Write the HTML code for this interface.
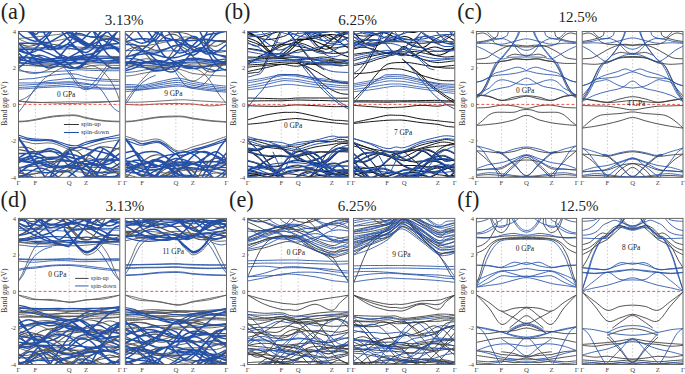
<!DOCTYPE html>
<html><head><meta charset="utf-8"><style>
html,body{margin:0;padding:0;background:#fff;width:685px;height:374px;overflow:hidden}
svg{display:block}
text{font-family:"Liberation Serif",serif;fill:#231f20}
.k{font-size:6.8px;text-anchor:middle;fill:#444}
.t{font-size:6.5px;text-anchor:end;fill:#444}
.yl{font-size:7.5px;text-anchor:middle;fill:#333}
.L{font-size:22.3px;fill:#231f20}
.T{font-size:15px;text-anchor:middle;fill:#231f20}
.g{font-size:7.4px;fill:#222}
.lg{font-size:6.8px;fill:#333}
</style></head><body>
<svg width="685" height="374" viewBox="0 0 685 374">
<clipPath id="c00"><rect x="18.5" y="31.5" width="101.3" height="145.8"/></clipPath>
<g clip-path="url(#c00)">
<line x1="35.4" y1="31.5" x2="35.4" y2="177.3" stroke="#aaa" stroke-width="0.6" stroke-dasharray="1.5 2"/>
<line x1="69.2" y1="31.5" x2="69.2" y2="177.3" stroke="#aaa" stroke-width="0.6" stroke-dasharray="1.5 2"/>
<line x1="86.1" y1="31.5" x2="86.1" y2="177.3" stroke="#aaa" stroke-width="0.6" stroke-dasharray="1.5 2"/>
<path d="M18.5 43.7C20.2 44.1 25.3 46.2 28.6 46.3C32.0 46.4 35.4 44.7 38.8 44.3C42.1 43.8 45.5 43.5 48.9 43.7C52.3 43.9 55.6 44.7 59.0 45.4C62.4 46.2 65.8 47.5 69.2 48.1C72.5 48.8 75.9 50.0 79.3 49.4C82.7 48.8 86.0 46.5 89.4 44.4C92.8 42.3 96.2 37.9 99.5 36.7C102.9 35.4 106.3 35.7 109.7 36.9C113.0 38.0 118.1 42.5 119.8 43.7M18.5 185.8C20.2 186.8 25.3 190.9 28.6 191.9C32.0 192.9 35.4 193.2 38.8 191.7C42.1 190.3 45.5 185.6 48.9 183.4C52.3 181.1 55.6 178.5 59.0 178.3C62.4 178.2 65.8 181.7 69.2 182.5C72.5 183.3 75.9 184.2 79.3 183.1C82.7 182.0 86.0 177.5 89.4 175.8C92.8 174.1 96.2 172.4 99.5 172.8C102.9 173.2 106.3 176.1 109.7 178.3C113.0 180.4 118.1 184.5 119.8 185.8M18.5 176.4C20.2 176.1 25.3 174.2 28.6 175.0C32.0 175.9 35.4 179.8 38.8 181.3C42.1 182.8 45.5 184.7 48.9 183.9C52.3 183.1 55.6 179.2 59.0 176.6C62.4 174.1 65.8 169.9 69.2 168.6C72.5 167.4 75.9 167.7 79.3 169.0C82.7 170.3 86.0 174.0 89.4 176.3C92.8 178.7 96.2 182.1 99.5 183.1C102.9 184.1 106.3 183.6 109.7 182.5C113.0 181.4 118.1 177.4 119.8 176.4M18.5 167.7C20.2 169.4 25.3 175.3 28.6 178.0C32.0 180.7 35.4 182.5 38.8 183.8C42.1 185.0 45.5 185.8 48.9 185.5C52.3 185.3 55.6 183.6 59.0 182.5C62.4 181.3 65.8 179.2 69.2 178.6C72.5 178.0 75.9 179.3 79.3 178.8C82.7 178.3 86.0 177.9 89.4 175.6C92.8 173.3 96.2 167.6 99.5 165.0C102.9 162.4 106.3 159.5 109.7 160.0C113.0 160.4 118.1 166.4 119.8 167.7M18.5 176.1C20.2 177.7 25.3 184.6 28.6 185.7C32.0 186.9 35.4 185.2 38.8 183.0C42.1 180.9 45.5 175.3 48.9 172.6C52.3 169.9 55.6 168.1 59.0 166.9C62.4 165.8 65.8 165.9 69.2 165.7C72.5 165.4 75.9 165.2 79.3 165.4C82.7 165.6 86.0 166.7 89.4 167.0C92.8 167.4 96.2 167.4 99.5 167.5C102.9 167.7 106.3 166.6 109.7 168.1C113.0 169.5 118.1 174.8 119.8 176.1M18.5 172.8C20.2 173.1 25.3 174.4 28.6 174.4C32.0 174.4 35.4 174.0 38.8 172.8C42.1 171.6 45.5 169.1 48.9 167.1C52.3 165.2 55.6 162.2 59.0 161.1C62.4 160.1 65.8 159.6 69.2 160.8C72.5 162.0 75.9 165.8 79.3 168.4C82.7 171.0 86.0 174.9 89.4 176.3C92.8 177.7 96.2 177.1 99.5 176.6C102.9 176.1 106.3 173.7 109.7 173.1C113.0 172.4 118.1 172.9 119.8 172.8M18.5 173.0C20.2 171.8 25.3 167.8 28.6 165.7C32.0 163.7 35.4 160.8 38.8 160.7C42.1 160.6 45.5 163.2 48.9 165.0C52.3 166.9 55.6 170.8 59.0 171.8C62.4 172.8 65.8 172.4 69.2 171.1C72.5 169.7 75.9 165.6 79.3 163.5C82.7 161.5 86.0 158.8 89.4 158.7C92.8 158.6 96.2 160.9 99.5 163.0C102.9 165.2 106.3 169.9 109.7 171.5C113.0 173.2 118.1 172.7 119.8 173.0M18.5 167.3C20.2 167.2 25.3 166.6 28.6 166.4C32.0 166.2 35.4 166.5 38.8 166.1C42.1 165.8 45.5 165.3 48.9 164.2C52.3 163.1 55.6 160.8 59.0 159.5C62.4 158.2 65.8 156.3 69.2 156.5C72.5 156.8 75.9 158.8 79.3 160.9C82.7 162.9 86.0 167.0 89.4 169.0C92.8 170.9 96.2 172.2 99.5 172.4C102.9 172.6 106.3 171.0 109.7 170.2C113.0 169.3 118.1 167.8 119.8 167.3M18.5 147.2C20.2 147.3 25.3 146.7 28.6 147.8C32.0 148.9 35.4 151.6 38.8 153.6C42.1 155.6 45.5 159.1 48.9 159.6C52.3 160.1 55.6 158.3 59.0 156.5C62.4 154.8 65.8 149.7 69.2 149.1C72.5 148.4 75.9 150.4 79.3 152.7C82.7 155.0 86.0 161.2 89.4 162.9C92.8 164.5 96.2 164.2 99.5 162.5C102.9 160.9 106.3 155.7 109.7 153.2C113.0 150.6 118.1 148.2 119.8 147.2M18.5 149.5C20.2 149.8 25.3 151.0 28.6 151.3C32.0 151.6 35.4 151.7 38.8 151.4C42.1 151.2 45.5 149.4 48.9 150.0C52.3 150.6 55.6 152.6 59.0 155.2C62.4 157.8 65.8 163.9 69.2 165.7C72.5 167.6 75.9 167.9 79.3 166.1C82.7 164.3 86.0 158.0 89.4 154.9C92.8 151.7 96.2 148.5 99.5 147.2C102.9 146.0 106.3 147.1 109.7 147.5C113.0 147.9 118.1 149.1 119.8 149.5" fill="none" stroke="#555" stroke-width="1.1"/>
<path d="M18.5 65.4C20.2 65.4 25.3 65.4 28.6 65.5C32.0 65.6 35.4 66.0 38.8 66.1C42.1 66.2 45.5 66.1 48.9 66.2C52.3 66.3 55.6 66.2 59.0 66.5C62.4 66.8 65.8 67.6 69.2 67.8C72.5 68.1 75.9 68.2 79.3 68.0C82.7 67.7 86.0 66.6 89.4 66.1C92.8 65.6 96.2 65.1 99.5 65.0C102.9 64.8 106.3 65.2 109.7 65.3C113.0 65.4 118.1 65.4 119.8 65.4M18.5 63.3C20.2 63.4 25.3 63.8 28.6 63.9C32.0 64.0 35.4 63.9 38.8 63.9C42.1 63.9 45.5 63.9 48.9 64.0C52.3 64.1 55.6 64.4 59.0 64.4C62.4 64.5 65.8 64.5 69.2 64.4C72.5 64.2 75.9 63.8 79.3 63.6C82.7 63.4 86.0 63.2 89.4 63.1C92.8 63.0 96.2 63.0 99.5 62.9C102.9 62.8 106.3 62.7 109.7 62.8C113.0 62.9 118.1 63.2 119.8 63.3M18.5 56.7C20.2 56.8 25.3 57.1 28.6 57.4C32.0 57.8 35.4 58.6 38.8 59.0C42.1 59.3 45.5 59.5 48.9 59.4C52.3 59.2 55.6 58.4 59.0 58.0C62.4 57.7 65.8 57.4 69.2 57.3C72.5 57.1 75.9 57.5 79.3 57.4C82.7 57.3 86.0 56.9 89.4 56.7C92.8 56.4 96.2 56.0 99.5 56.0C102.9 55.9 106.3 56.1 109.7 56.3C113.0 56.4 118.1 56.6 119.8 56.7M18.5 180.2C20.2 180.4 25.3 180.9 28.6 181.4C32.0 181.8 35.4 182.7 38.8 182.8C42.1 182.8 45.5 182.3 48.9 181.7C52.3 181.2 55.6 179.8 59.0 179.4C62.4 179.0 65.8 179.4 69.2 179.4C72.5 179.5 75.9 180.0 79.3 179.7C82.7 179.4 86.0 178.2 89.4 177.7C92.8 177.2 96.2 176.6 99.5 176.8C102.9 176.9 106.3 178.0 109.7 178.6C113.0 179.2 118.1 179.9 119.8 180.2M18.5 177.7C20.2 177.2 25.3 175.5 28.6 174.7C32.0 174.0 35.4 173.6 38.8 173.2C42.1 172.8 45.5 172.8 48.9 172.5C52.3 172.1 55.6 171.3 59.0 171.0C62.4 170.7 65.8 170.6 69.2 170.8C72.5 170.9 75.9 171.6 79.3 172.0C82.7 172.4 86.0 172.6 89.4 173.2C92.8 173.7 96.2 174.5 99.5 175.4C102.9 176.2 106.3 177.7 109.7 178.1C113.0 178.5 118.1 177.7 119.8 177.7" fill="none" stroke="#555" stroke-width="0.9"/>
<path d="M18.5 38.8C19.9 39.4 24.1 41.5 27.0 42.4C29.8 43.3 31.2 44.4 35.4 44.3C39.6 44.1 46.7 42.6 52.3 41.5C57.9 40.5 64.9 38.9 69.2 37.9C73.4 36.8 74.8 35.4 77.6 35.1C80.4 34.8 81.8 35.4 86.1 36.1C90.3 36.7 97.3 38.3 102.9 38.8C108.6 39.2 117.0 38.8 119.8 38.8M18.5 38.4C19.9 38.3 24.1 38.1 27.0 37.9C29.8 37.6 31.2 37.4 35.4 37.0C39.6 36.5 46.7 35.8 52.3 35.1C57.9 34.5 64.9 33.5 69.2 33.3C73.4 33.2 74.8 33.8 77.6 34.2C80.4 34.7 81.8 35.4 86.1 36.1C90.3 36.7 97.3 37.5 102.9 37.9C108.6 38.3 117.0 38.3 119.8 38.4M18.5 62.1C19.9 62.3 24.1 63.0 27.0 63.3C29.8 63.6 31.2 63.6 35.4 63.8C39.6 63.9 46.7 64.2 52.3 63.9C57.9 63.7 64.9 62.6 69.2 62.3C73.4 62.1 74.8 62.4 77.6 62.3C80.4 62.2 81.8 62.1 86.1 62.0C90.3 61.9 97.3 61.9 102.9 61.8C108.6 61.7 117.0 61.3 119.8 61.2M18.5 68.9C19.9 69.5 24.1 71.7 26.9 72.5C29.7 73.3 32.6 73.6 35.4 73.4C38.2 73.3 41.0 72.5 43.8 71.6C46.6 70.7 49.4 68.9 52.2 68.0C55.1 67.0 58.2 66.3 61.0 66.1C63.9 66.0 66.1 66.7 69.2 67.0C72.2 67.3 74.2 67.6 79.3 68.0C84.3 68.3 92.8 68.7 99.5 68.9C106.3 69.0 116.4 68.9 119.8 68.9M69.2 70.7C70.6 72.6 75.2 79.6 77.6 82.3C80.0 85.1 81.6 86.7 83.5 87.5C85.5 88.2 87.4 87.8 89.4 86.7C91.4 85.6 93.5 82.9 95.5 80.7C97.5 78.5 99.5 75.8 101.4 73.4C103.2 71.0 104.4 68.3 106.6 66.1C108.9 64.0 112.5 61.7 114.7 60.7C116.9 59.6 119.0 59.9 119.8 59.7M18.5 101.1C19.9 100.5 24.1 99.0 26.9 97.1C29.7 95.2 32.7 92.8 35.4 89.8C38.2 86.9 40.5 82.2 43.3 79.4C46.1 76.7 49.5 75.2 52.2 73.4C55.0 71.7 56.9 70.1 59.7 68.9C62.5 67.6 67.6 66.6 69.2 66.1M86.1 64.3C88.1 64.9 95.0 66.1 98.5 68.1C102.1 70.1 104.6 73.0 107.3 76.3C110.0 79.6 112.7 83.9 114.7 88.0C116.8 92.1 119.0 98.9 119.8 101.1M18.5 101.1C19.9 101.2 24.1 101.5 27.0 101.7C29.8 101.8 31.2 102.0 35.4 102.2C39.6 102.4 46.7 102.7 52.3 102.9C57.9 103.2 64.9 103.4 69.2 103.5C73.4 103.5 74.8 103.4 77.6 103.3C80.4 103.2 81.8 103.1 86.1 102.9C90.3 102.8 97.3 102.5 102.9 102.2C108.6 101.9 117.0 101.3 119.8 101.1M18.5 101.1C19.9 101.3 24.1 102.0 27.0 102.2C29.8 102.5 31.2 102.6 35.4 102.6C39.6 102.6 46.7 102.3 52.3 102.2C57.9 102.1 64.9 101.9 69.2 101.8C73.4 101.8 74.8 101.8 77.6 101.8C80.4 101.9 81.8 102.1 86.1 102.0C90.3 102.0 97.3 101.8 102.9 101.7C108.6 101.5 117.0 101.2 119.8 101.1M18.5 121.3C19.9 121.3 24.1 121.1 27.0 120.8C29.8 120.5 31.2 120.1 35.4 119.3C39.6 118.6 46.7 117.0 52.3 116.2C57.9 115.5 64.9 115.1 69.2 115.0C73.4 114.8 74.8 114.9 77.6 115.3C80.4 115.8 81.8 116.7 86.1 117.5C90.3 118.4 97.3 119.8 102.9 120.4C108.6 121.1 117.0 121.2 119.8 121.3M18.5 121.9C19.9 121.8 24.1 121.7 27.0 121.3C29.8 121.0 31.2 120.8 35.4 120.1C39.6 119.3 46.7 117.7 52.3 117.0C57.9 116.2 64.9 115.9 69.2 115.7C73.4 115.5 74.8 115.6 77.6 116.1C80.4 116.5 81.8 117.4 86.1 118.3C90.3 119.1 97.3 120.4 102.9 121.0C108.6 121.6 117.0 121.7 119.8 121.9M18.5 140.5C19.9 140.7 24.1 141.6 27.0 142.1C29.8 142.7 31.2 143.5 35.4 143.7C39.6 143.8 46.7 142.3 52.3 143.2C57.9 144.2 64.9 148.2 69.2 149.4C73.4 150.6 74.8 150.9 77.6 150.6C80.4 150.3 81.8 148.9 86.1 147.6C90.3 146.3 97.3 143.9 102.9 142.6C108.6 141.3 117.0 140.3 119.8 139.9M69.2 149.1C70.2 150.7 73.2 155.9 75.2 159.1C77.3 162.3 79.5 165.3 81.3 168.2C83.1 171.1 84.5 176.4 86.1 176.4C87.6 176.4 88.7 171.1 90.4 168.2C92.2 165.3 94.4 162.1 96.5 159.1C98.6 156.0 101.8 151.5 102.9 150.0" fill="none" stroke="#555" stroke-width="0.85"/>
<path d="M18.5 68.0C20.2 66.7 25.3 62.8 28.6 60.6C32.0 58.5 35.4 55.6 38.8 55.2C42.1 54.8 45.5 56.5 48.9 58.0C52.3 59.5 55.6 62.9 59.0 64.0C62.4 65.1 65.8 65.3 69.2 64.3C72.5 63.4 75.9 59.9 79.3 58.2C82.7 56.5 86.0 54.1 89.4 54.2C92.8 54.3 96.2 56.8 99.5 59.0C102.9 61.1 106.3 65.7 109.7 67.1C113.0 68.6 118.1 67.8 119.8 68.0M18.5 53.0C20.2 54.5 25.3 60.5 28.6 61.9C32.0 63.4 35.4 62.2 38.8 61.7C42.1 61.2 45.5 59.0 48.9 59.2C52.3 59.4 55.6 61.5 59.0 62.9C62.4 64.4 65.8 67.4 69.2 68.0C72.5 68.5 75.9 68.1 79.3 66.4C82.7 64.8 86.0 61.0 89.4 57.8C92.8 54.7 96.2 49.6 99.5 47.4C102.9 45.2 106.3 43.6 109.7 44.5C113.0 45.4 118.1 51.6 119.8 53.0M18.5 43.6C20.2 45.1 25.3 49.4 28.6 52.6C32.0 55.9 35.4 60.2 38.8 62.8C42.1 65.3 45.5 67.7 48.9 68.0C52.3 68.2 55.6 66.3 59.0 64.6C62.4 62.8 65.8 59.6 69.2 57.4C72.5 55.3 75.9 53.7 79.3 51.9C82.7 50.0 86.0 48.4 89.4 46.5C92.8 44.7 96.2 42.1 99.5 40.9C102.9 39.7 106.3 38.7 109.7 39.1C113.0 39.5 118.1 42.8 119.8 43.6M18.5 50.7C20.2 51.2 25.3 53.7 28.6 53.5C32.0 53.4 35.4 50.9 38.8 49.8C42.1 48.7 45.5 46.5 48.9 47.1C52.3 47.8 55.6 50.9 59.0 53.9C62.4 56.8 65.8 62.7 69.2 65.0C72.5 67.4 75.9 68.9 79.3 68.0C82.7 67.0 86.0 62.4 89.4 59.1C92.8 55.8 96.2 50.5 99.5 48.3C102.9 46.1 106.3 45.4 109.7 45.8C113.0 46.2 118.1 49.9 119.8 50.7M18.5 49.0C20.2 49.1 25.3 49.5 28.6 49.6C32.0 49.7 35.4 49.1 38.8 49.7C42.1 50.4 45.5 52.2 48.9 53.5C52.3 54.8 55.6 56.9 59.0 57.5C62.4 58.2 65.8 57.7 69.2 57.5C72.5 57.2 75.9 56.6 79.3 56.1C82.7 55.6 86.0 55.5 89.4 54.6C92.8 53.7 96.2 51.9 99.5 50.8C102.9 49.7 106.3 48.4 109.7 48.1C113.0 47.8 118.1 48.9 119.8 49.0M18.5 49.3C20.2 50.0 25.3 52.5 28.6 53.8C32.0 55.0 35.4 55.7 38.8 56.8C42.1 57.8 45.5 60.1 48.9 60.1C52.3 60.1 55.6 59.0 59.0 56.6C62.4 54.1 65.8 48.1 69.2 45.5C72.5 42.9 75.9 41.1 79.3 41.0C82.7 40.9 86.0 44.1 89.4 44.9C92.8 45.7 96.2 45.7 99.5 45.8C102.9 45.8 106.3 44.5 109.7 45.1C113.0 45.6 118.1 48.6 119.8 49.3M18.5 29.8C20.2 29.9 25.3 28.7 28.6 30.4C32.0 32.2 35.4 37.2 38.8 40.4C42.1 43.5 45.5 48.1 48.9 49.3C52.3 50.5 55.6 48.5 59.0 47.6C62.4 46.8 65.8 43.8 69.2 44.4C72.5 45.0 75.9 48.8 79.3 51.1C82.7 53.4 86.0 57.9 89.4 58.2C92.8 58.4 96.2 55.6 99.5 52.4C102.9 49.3 106.3 42.9 109.7 39.1C113.0 35.3 118.1 31.4 119.8 29.8M18.5 43.2C20.2 43.3 25.3 43.2 28.6 43.3C32.0 43.3 35.4 43.2 38.8 43.6C42.1 44.0 45.5 44.7 48.9 45.5C52.3 46.4 55.6 49.1 59.0 48.6C62.4 48.1 65.8 45.8 69.2 42.5C72.5 39.3 75.9 31.7 79.3 29.0C82.7 26.4 86.0 25.4 89.4 26.8C92.8 28.1 96.2 34.3 99.5 37.1C102.9 39.9 106.3 42.5 109.7 43.6C113.0 44.6 118.1 43.3 119.8 43.2M18.5 26.8C20.2 27.6 25.3 29.5 28.6 32.0C32.0 34.4 35.4 38.9 38.8 41.5C42.1 44.1 45.5 46.8 48.9 47.4C52.3 48.0 55.6 46.6 59.0 44.9C62.4 43.2 65.8 39.0 69.2 37.1C72.5 35.2 75.9 33.7 79.3 33.6C82.7 33.5 86.0 36.0 89.4 36.5C92.8 37.0 96.2 37.7 99.5 36.6C102.9 35.6 106.3 32.0 109.7 30.4C113.0 28.8 118.1 27.4 119.8 26.8M18.5 25.2C20.2 26.1 25.3 28.0 28.6 30.6C32.0 33.2 35.4 38.6 38.8 40.5C42.1 42.5 45.5 42.9 48.9 42.3C52.3 41.6 55.6 38.6 59.0 36.8C62.4 35.0 65.8 33.4 69.2 31.6C72.5 29.8 75.9 27.5 79.3 25.9C82.7 24.4 86.0 22.5 89.4 22.3C92.8 22.1 96.2 24.0 99.5 24.7C102.9 25.4 106.3 26.3 109.7 26.4C113.0 26.5 118.1 25.4 119.8 25.2M18.5 27.5C20.2 25.8 25.3 18.5 28.6 16.9C32.0 15.3 35.4 17.0 38.8 18.1C42.1 19.1 45.5 21.7 48.9 23.2C52.3 24.6 55.6 25.5 59.0 27.0C62.4 28.5 65.8 30.3 69.2 32.2C72.5 34.1 75.9 36.5 79.3 38.5C82.7 40.6 86.0 42.9 89.4 44.5C92.8 46.1 96.2 48.4 99.5 48.1C102.9 47.7 106.3 45.9 109.7 42.4C113.0 39.0 118.1 30.0 119.8 27.5M18.5 24.5C20.2 24.9 25.3 25.9 28.6 27.1C32.0 28.3 35.4 31.0 38.8 31.7C42.1 32.4 45.5 32.1 48.9 31.2C52.3 30.3 55.6 27.7 59.0 26.2C62.4 24.6 65.8 22.6 69.2 22.0C72.5 21.3 75.9 21.5 79.3 22.3C82.7 23.0 86.0 25.3 89.4 26.5C92.8 27.7 96.2 29.4 99.5 29.5C102.9 29.6 106.3 28.1 109.7 27.3C113.0 26.5 118.1 24.9 119.8 24.5M18.5 17.4C20.2 17.3 25.3 16.8 28.6 16.9C32.0 17.0 35.4 17.7 38.8 17.9C42.1 18.2 45.5 17.6 48.9 18.5C52.3 19.5 55.6 20.6 59.0 23.4C62.4 26.2 65.8 32.4 69.2 35.3C72.5 38.3 75.9 41.6 79.3 41.1C82.7 40.7 86.0 35.9 89.4 32.8C92.8 29.6 96.2 24.6 99.5 22.3C102.9 19.9 106.3 19.4 109.7 18.6C113.0 17.8 118.1 17.6 119.8 17.4M18.5 16.9C20.2 17.0 25.3 16.8 28.6 17.2C32.0 17.7 35.4 18.2 38.8 19.5C42.1 20.8 45.5 23.5 48.9 25.0C52.3 26.5 55.6 27.3 59.0 28.6C62.4 29.8 65.8 30.2 69.2 32.4C72.5 34.7 75.9 39.8 79.3 42.1C82.7 44.3 86.0 47.1 89.4 45.7C92.8 44.4 96.2 38.1 99.5 33.9C102.9 29.7 106.3 23.4 109.7 20.5C113.0 17.7 118.1 17.5 119.8 16.9M18.5 32.4C19.2 33.0 21.0 35.0 22.6 36.1C24.1 37.1 25.5 37.9 27.6 38.8C29.8 39.6 33.1 41.2 35.4 41.2C37.8 41.2 39.6 40.2 41.8 38.8C44.0 37.3 47.2 34.2 48.9 32.4C50.6 30.6 51.4 28.6 51.9 27.9M28.6 27.9C29.8 28.9 33.7 33.6 35.4 34.2C37.1 34.8 37.9 32.6 38.8 31.5C39.7 30.4 40.4 28.5 40.8 27.9M40.8 27.9C42.1 30.0 46.2 36.5 48.9 40.6C51.6 44.7 53.6 49.6 57.0 52.5C60.4 55.3 65.8 56.3 69.2 57.9C72.5 59.6 74.4 61.4 77.3 62.5C80.1 63.5 84.6 64.0 86.1 64.3M59.0 27.9C60.7 30.0 66.1 37.1 69.2 40.6C72.2 44.1 74.7 46.8 77.6 48.8C80.4 50.8 83.2 52.8 86.1 52.5C88.9 52.2 91.7 49.7 94.5 47.0C97.2 44.3 100.0 39.2 102.6 36.1C105.1 32.9 108.5 29.2 109.7 27.9M69.2 27.9C70.6 29.7 74.7 36.0 77.6 38.8C80.4 41.6 83.2 44.5 86.1 44.8C88.9 45.1 91.7 43.4 94.5 40.6C97.2 37.8 101.2 30.0 102.6 27.9M91.4 27.9C92.8 30.3 96.8 38.0 99.5 42.4C102.2 46.8 105.1 51.4 107.6 54.3C110.2 57.2 112.7 58.4 114.7 59.7C116.8 61.1 119.0 62.0 119.8 62.5M18.5 62.5C19.5 61.6 22.0 59.1 24.6 57.0C27.1 54.9 30.8 52.2 33.7 49.7C36.6 47.3 39.3 44.9 41.8 42.4C44.3 40.0 46.9 37.6 48.9 35.1C50.9 32.7 53.1 29.1 54.0 27.9M104.6 27.9C105.8 29.2 109.2 33.9 111.7 36.1C114.2 38.2 118.4 39.9 119.8 40.6M18.5 137.6C19.3 138.7 21.9 142.1 23.6 144.5C25.3 146.9 26.9 149.2 28.6 151.8C30.3 154.4 32.0 157.3 33.7 160.0C35.4 162.7 37.1 165.6 38.8 168.2C40.4 170.8 42.5 173.7 43.8 175.5C45.2 177.3 46.4 178.5 46.9 179.1M18.5 138.1C19.5 139.6 22.6 144.2 24.6 147.2C26.6 150.3 28.6 153.3 30.7 156.3C32.7 159.4 34.7 162.6 36.7 165.5C38.8 168.3 41.3 171.4 42.8 173.7C44.3 175.9 45.3 178.2 45.9 179.1M69.2 148.1C70.0 149.7 72.5 154.2 74.2 157.3C75.9 160.3 77.3 163.3 79.3 166.4C81.3 169.5 84.0 175.8 86.1 175.8C88.1 175.8 89.5 169.5 91.4 166.4C93.3 163.3 95.6 160.1 97.5 157.3C99.4 154.4 102.0 150.4 102.9 149.1M48.9 179.1C49.7 177.6 52.3 172.7 54.0 170.0C55.6 167.3 57.3 165.0 59.0 162.7C60.7 160.4 62.4 158.2 64.1 156.3C65.8 154.5 68.3 152.5 69.2 151.8M94.5 179.1C95.3 177.6 97.5 173.4 99.5 170.0C101.6 166.7 104.4 162.4 106.6 159.1C108.8 155.7 110.5 153.3 112.7 150.0C114.9 146.6 118.6 140.9 119.8 139.0M18.5 182.6C20.2 184.0 25.3 189.5 28.6 191.0C32.0 192.6 35.4 192.3 38.8 191.9C42.1 191.5 45.5 189.1 48.9 188.6C52.3 188.1 55.6 188.8 59.0 188.8C62.4 188.8 65.8 189.2 69.2 188.7C72.5 188.2 75.9 186.6 79.3 185.7C82.7 184.9 86.0 184.5 89.4 183.7C92.8 182.9 96.2 181.7 99.5 180.7C102.9 179.8 106.3 177.5 109.7 177.8C113.0 178.1 118.1 181.8 119.8 182.6M18.5 178.3C20.2 177.3 25.3 174.5 28.6 172.8C32.0 171.1 35.4 168.4 38.8 168.0C42.1 167.7 45.5 169.1 48.9 170.7C52.3 172.3 55.6 175.6 59.0 177.7C62.4 179.7 65.8 181.2 69.2 182.9C72.5 184.7 75.9 186.7 79.3 188.2C82.7 189.7 86.0 191.8 89.4 191.9C92.8 192.0 96.2 190.3 99.5 188.8C102.9 187.2 106.3 184.3 109.7 182.6C113.0 180.8 118.1 179.0 119.8 178.3M18.5 191.9C20.2 191.8 25.3 192.5 28.6 191.5C32.0 190.6 35.4 188.4 38.8 186.3C42.1 184.3 45.5 181.6 48.9 179.2C52.3 176.8 55.6 173.1 59.0 171.9C62.4 170.7 65.8 170.8 69.2 172.0C72.5 173.2 75.9 177.4 79.3 178.9C82.7 180.5 86.0 181.1 89.4 181.3C92.8 181.5 96.2 179.5 99.5 180.1C102.9 180.8 106.3 183.2 109.7 185.1C113.0 187.1 118.1 190.8 119.8 191.9M18.5 186.4C20.2 186.5 25.3 187.5 28.6 187.2C32.0 186.8 35.4 185.1 38.8 184.5C42.1 183.9 45.5 184.0 48.9 183.6C52.3 183.2 55.6 182.2 59.0 181.9C62.4 181.5 65.8 180.9 69.2 181.3C72.5 181.7 75.9 184.0 79.3 184.3C82.7 184.7 86.0 184.3 89.4 183.3C92.8 182.3 96.2 178.7 99.5 178.1C102.9 177.5 106.3 178.4 109.7 179.8C113.0 181.1 118.1 185.3 119.8 186.4M18.5 189.5C20.2 188.7 25.3 186.1 28.6 184.6C32.0 183.0 35.4 180.7 38.8 180.1C42.1 179.6 45.5 180.8 48.9 181.2C52.3 181.6 55.6 183.3 59.0 182.5C62.4 181.7 65.8 178.7 69.2 176.4C72.5 174.2 75.9 169.8 79.3 169.1C82.7 168.3 86.0 169.5 89.4 171.6C92.8 173.8 96.2 178.9 99.5 181.8C102.9 184.7 106.3 188.0 109.7 189.3C113.0 190.5 118.1 189.5 119.8 189.5M18.5 181.6C20.2 181.2 25.3 180.1 28.6 179.4C32.0 178.8 35.4 178.0 38.8 177.7C42.1 177.3 45.5 177.1 48.9 177.1C52.3 177.2 55.6 177.5 59.0 178.0C62.4 178.5 65.8 179.5 69.2 179.9C72.5 180.2 75.9 180.3 79.3 180.0C82.7 179.8 86.0 178.6 89.4 178.3C92.8 178.1 96.2 178.2 99.5 178.7C102.9 179.1 106.3 180.7 109.7 181.2C113.0 181.6 118.1 181.5 119.8 181.6M18.5 173.4C20.2 172.3 25.3 168.1 28.6 166.4C32.0 164.8 35.4 163.7 38.8 163.5C42.1 163.3 45.5 164.5 48.9 165.2C52.3 165.9 55.6 167.7 59.0 167.8C62.4 167.9 65.8 166.7 69.2 165.8C72.5 164.9 75.9 162.3 79.3 162.5C82.7 162.8 86.0 164.9 89.4 167.3C92.8 169.7 96.2 174.9 99.5 177.0C102.9 179.0 106.3 180.1 109.7 179.5C113.0 179.0 118.1 174.4 119.8 173.4M18.5 159.6C20.2 159.3 25.3 157.3 28.6 157.8C32.0 158.4 35.4 161.2 38.8 162.7C42.1 164.3 45.5 166.7 48.9 167.3C52.3 167.9 55.6 166.2 59.0 166.2C62.4 166.2 65.8 166.7 69.2 167.2C72.5 167.7 75.9 169.5 79.3 169.0C82.7 168.5 86.0 165.8 89.4 164.2C92.8 162.7 96.2 160.3 99.5 159.7C102.9 159.1 106.3 160.7 109.7 160.7C113.0 160.7 118.1 159.8 119.8 159.6M18.5 163.2C20.2 162.0 25.3 157.3 28.6 156.3C32.0 155.3 35.4 156.2 38.8 157.2C42.1 158.3 45.5 161.2 48.9 162.7C52.3 164.2 55.6 166.1 59.0 166.4C62.4 166.6 65.8 165.9 69.2 164.4C72.5 162.9 75.9 159.0 79.3 157.5C82.7 156.0 86.0 154.3 89.4 155.2C92.8 156.0 96.2 160.4 99.5 162.6C102.9 164.8 106.3 168.2 109.7 168.3C113.0 168.4 118.1 164.0 119.8 163.2M18.5 158.1C20.2 157.2 25.3 153.4 28.6 152.8C32.0 152.1 35.4 153.2 38.8 154.2C42.1 155.1 45.5 157.9 48.9 158.4C52.3 158.9 55.6 157.9 59.0 157.1C62.4 156.4 65.8 154.0 69.2 153.9C72.5 153.8 75.9 155.2 79.3 156.6C82.7 158.0 86.0 160.9 89.4 162.3C92.8 163.7 96.2 164.9 99.5 165.1C102.9 165.3 106.3 164.8 109.7 163.7C113.0 162.5 118.1 159.0 119.8 158.1M18.5 153.4C20.2 153.4 25.3 153.5 28.6 153.5C32.0 153.4 35.4 153.7 38.8 152.9C42.1 152.1 45.5 148.8 48.9 148.5C52.3 148.3 55.6 149.5 59.0 151.4C62.4 153.3 65.8 158.0 69.2 159.9C72.5 161.9 75.9 162.5 79.3 163.2C82.7 163.9 86.0 163.6 89.4 164.0C92.8 164.3 96.2 165.8 99.5 165.2C102.9 164.5 106.3 162.1 109.7 160.1C113.0 158.2 118.1 154.5 119.8 153.4M18.5 160.2C20.2 160.4 25.3 161.8 28.6 161.5C32.0 161.1 35.4 158.7 38.8 158.0C42.1 157.3 45.5 157.6 48.9 157.4C52.3 157.1 55.6 157.7 59.0 156.6C62.4 155.4 65.8 152.3 69.2 150.7C72.5 149.1 75.9 147.4 79.3 147.2C82.7 147.0 86.0 148.8 89.4 149.5C92.8 150.2 96.2 150.7 99.5 151.6C102.9 152.4 106.3 153.0 109.7 154.5C113.0 155.9 118.1 159.2 119.8 160.2M18.5 160.6C20.2 160.3 25.3 160.5 28.6 159.3C32.0 158.1 35.4 154.7 38.8 153.4C42.1 152.0 45.5 151.3 48.9 151.2C52.3 151.1 55.6 151.9 59.0 152.9C62.4 153.9 65.8 156.1 69.2 157.1C72.5 158.1 75.9 159.7 79.3 159.0C82.7 158.3 86.0 154.9 89.4 153.0C92.8 151.0 96.2 147.3 99.5 147.2C102.9 147.2 106.3 150.3 109.7 152.5C113.0 154.7 118.1 159.2 119.8 160.6" fill="none" stroke="#2450a8" stroke-width="1.49"/>
<path d="M18.5 62.5C20.2 62.7 25.3 63.0 28.6 63.5C32.0 64.0 35.4 65.3 38.8 65.7C42.1 66.1 45.5 66.2 48.9 65.8C52.3 65.3 55.6 64.0 59.0 63.1C62.4 62.2 65.8 60.9 69.2 60.3C72.5 59.7 75.9 59.4 79.3 59.5C82.7 59.5 86.0 60.2 89.4 60.8C92.8 61.3 96.2 62.3 99.5 62.7C102.9 63.1 106.3 63.2 109.7 63.1C113.0 63.1 118.1 62.6 119.8 62.5M18.5 57.4C20.2 57.4 25.3 56.9 28.6 57.2C32.0 57.4 35.4 58.2 38.8 58.9C42.1 59.6 45.5 60.8 48.9 61.3C52.3 61.9 55.6 62.0 59.0 62.3C62.4 62.5 65.8 62.6 69.2 62.8C72.5 62.9 75.9 63.3 79.3 63.1C82.7 62.9 86.0 62.1 89.4 61.4C92.8 60.8 96.2 59.6 99.5 59.0C102.9 58.5 106.3 58.3 109.7 58.0C113.0 57.8 118.1 57.5 119.8 57.4M18.5 175.9C20.2 176.0 25.3 176.1 28.6 176.6C32.0 177.0 35.4 178.0 38.8 178.5C42.1 179.0 45.5 179.3 48.9 179.5C52.3 179.7 55.6 179.8 59.0 179.8C62.4 179.8 65.8 179.9 69.2 179.6C72.5 179.2 75.9 178.3 79.3 177.7C82.7 177.0 86.0 176.2 89.4 175.9C92.8 175.7 96.2 176.2 99.5 176.3C102.9 176.4 106.3 176.6 109.7 176.5C113.0 176.5 118.1 176.0 119.8 175.9M18.5 170.8C20.2 170.7 25.3 169.9 28.6 170.1C32.0 170.2 35.4 171.1 38.8 171.6C42.1 172.0 45.5 173.0 48.9 172.8C52.3 172.5 55.6 171.1 59.0 170.0C62.4 168.9 65.8 166.8 69.2 166.3C72.5 165.8 75.9 166.4 79.3 167.2C82.7 167.9 86.0 169.9 89.4 170.8C92.8 171.7 96.2 172.4 99.5 172.7C102.9 172.9 106.3 172.5 109.7 172.2C113.0 171.9 118.1 171.0 119.8 170.8M18.5 169.0C20.2 168.3 25.3 166.0 28.6 164.9C32.0 163.9 35.4 163.2 38.8 162.7C42.1 162.2 45.5 162.2 48.9 161.9C52.3 161.6 55.6 161.0 59.0 161.0C62.4 160.9 65.8 161.2 69.2 161.5C72.5 161.9 75.9 162.7 79.3 163.2C82.7 163.7 86.0 163.8 89.4 164.4C92.8 165.1 96.2 166.1 99.5 167.0C102.9 168.0 106.3 169.7 109.7 170.0C113.0 170.4 118.1 169.2 119.8 169.0M18.5 160.9C20.2 161.1 25.3 162.2 28.6 162.3C32.0 162.3 35.4 161.8 38.8 161.3C42.1 160.8 45.5 159.6 48.9 159.3C52.3 158.9 55.6 158.9 59.0 159.2C62.4 159.6 65.8 160.7 69.2 161.1C72.5 161.6 75.9 162.2 79.3 162.1C82.7 162.1 86.0 161.4 89.4 160.9C92.8 160.4 96.2 159.4 99.5 159.1C102.9 158.8 106.3 158.8 109.7 159.1C113.0 159.4 118.1 160.6 119.8 160.9" fill="none" stroke="#2450a8" stroke-width="1.22"/>
<path d="M18.5 49.0C19.9 49.0 24.1 48.8 27.0 48.8C29.8 48.8 31.2 48.7 35.4 48.8C39.6 48.9 46.7 49.4 52.3 49.4C57.9 49.4 64.9 48.8 69.2 48.8C73.4 48.8 74.8 49.1 77.6 49.2C80.4 49.2 81.8 49.1 86.1 49.0C90.3 48.9 97.3 48.8 102.9 48.8C108.6 48.8 117.0 48.8 119.8 48.8M18.5 47.0C19.9 47.1 24.1 47.4 27.0 47.5C29.8 47.7 31.2 48.0 35.4 47.9C39.6 47.8 46.7 47.2 52.3 47.0C57.9 46.7 64.9 46.4 69.2 46.4C73.4 46.4 74.8 46.8 77.6 47.0C80.4 47.2 81.8 47.4 86.1 47.5C90.3 47.6 97.3 47.6 102.9 47.5C108.6 47.4 117.0 47.1 119.8 47.0M18.5 79.8C19.9 79.6 24.1 79.1 27.0 78.9C29.8 78.6 31.2 78.9 35.4 78.3C39.6 77.7 46.7 76.0 52.3 75.2C57.9 74.5 64.9 73.9 69.2 73.8C73.4 73.7 74.8 74.0 77.6 74.5C80.4 75.0 81.8 76.1 86.1 76.9C90.3 77.7 97.3 78.8 102.9 79.2C108.6 79.7 117.0 79.7 119.8 79.8M18.5 70.7C19.9 70.8 24.1 71.3 27.0 71.6C29.8 71.9 31.2 72.5 35.4 72.5C39.6 72.5 46.7 71.9 52.3 71.6C57.9 71.3 64.9 71.0 69.2 70.7C73.4 70.4 74.8 69.9 77.6 69.8C80.4 69.7 81.8 70.0 86.1 70.1C90.3 70.3 97.3 70.6 102.9 70.7C108.6 70.8 117.0 70.7 119.8 70.7M18.5 85.3C19.9 85.2 24.1 85.1 27.0 84.9C29.8 84.7 31.2 84.6 35.4 84.4C39.6 84.1 46.7 83.9 52.3 83.6C57.9 83.4 64.9 82.9 69.2 82.9C73.4 82.9 74.8 83.2 77.6 83.4C80.4 83.7 81.8 84.1 86.1 84.4C90.3 84.6 97.3 84.9 102.9 85.1C108.6 85.2 117.0 85.2 119.8 85.3M18.5 87.5C19.9 87.4 24.1 87.2 27.0 87.1C29.8 86.9 31.2 86.8 35.4 86.5C39.6 86.3 46.7 86.0 52.3 85.6C57.9 85.3 64.9 84.6 69.2 84.5C73.4 84.5 74.8 84.9 77.6 85.3C80.4 85.6 81.8 86.1 86.1 86.5C90.3 87.0 97.3 87.7 102.9 88.0C108.6 88.3 117.0 88.3 119.8 88.4M18.5 89.1C19.9 89.0 24.1 88.9 27.0 88.7C29.8 88.5 31.2 88.3 35.4 88.0C39.6 87.7 46.7 87.3 52.3 87.1C57.9 86.8 64.9 86.5 69.2 86.5C73.4 86.6 74.8 87.0 77.6 87.3C80.4 87.6 81.8 88.1 86.1 88.4C90.3 88.7 97.3 89.0 102.9 89.1C108.6 89.2 117.0 89.1 119.8 89.1M61.0 64.3C62.4 65.8 66.4 69.9 69.2 73.4C71.9 76.9 74.7 82.5 77.6 85.3C80.4 88.0 83.1 89.8 86.1 89.8C89.1 89.8 92.7 87.7 95.5 85.3C98.3 82.8 100.5 78.4 102.9 75.2C105.2 72.1 108.5 67.6 109.7 66.1M18.5 112.2C19.2 111.4 21.2 109.0 22.6 107.1C24.0 105.2 25.2 103.3 26.9 100.8C28.6 98.2 30.9 94.6 32.7 92.0C34.4 89.4 35.8 86.8 37.3 85.3C38.9 83.7 39.9 83.3 41.8 82.5C43.7 81.8 46.0 81.2 48.9 80.7C51.8 80.2 55.6 80.0 59.0 79.6C62.4 79.2 65.8 78.5 69.2 78.3C72.5 78.2 75.9 78.6 79.3 78.9C82.7 79.2 85.2 79.8 89.4 80.2C93.6 80.5 99.5 80.9 104.6 81.1C109.7 81.3 117.3 81.4 119.8 81.4M119.8 112.2C118.7 111.5 115.4 110.1 113.3 107.9C111.2 105.6 109.3 101.9 107.3 98.9C105.3 96.0 103.3 92.2 101.4 90.0C99.4 87.8 97.5 86.8 95.5 85.8C93.5 84.8 92.1 84.5 89.4 84.0C86.7 83.4 82.7 82.9 79.3 82.5C75.9 82.2 72.5 81.9 69.2 81.8C65.8 81.7 62.4 82.0 59.0 82.2C55.6 82.3 53.1 82.4 48.9 82.5C44.7 82.7 38.8 82.8 33.7 82.9C28.6 83.0 21.0 82.9 18.5 82.9" fill="none" stroke="#2450a8" stroke-width="0.85"/>
<path d="M18.5 60.0C19.9 60.2 24.1 60.7 27.0 61.2C29.8 61.7 31.2 62.7 35.4 62.8C39.6 62.8 46.7 62.0 52.3 61.6C57.9 61.2 64.9 60.8 69.2 60.5C73.4 60.3 74.8 60.1 77.6 59.9C80.4 59.8 81.8 59.6 86.1 59.8C90.3 59.9 97.3 60.8 102.9 60.9C108.6 60.9 117.0 60.2 119.8 60.1M18.5 58.9C19.9 59.2 24.1 60.2 27.0 60.5C29.8 60.9 31.2 60.8 35.4 60.8C39.6 60.8 46.7 60.8 52.3 60.5C57.9 60.2 64.9 59.5 69.2 59.1C73.4 58.6 74.8 58.1 77.6 58.0C80.4 58.0 81.8 58.9 86.1 58.9C90.3 59.0 97.3 58.2 102.9 58.2C108.6 58.3 117.0 59.2 119.8 59.3M18.5 58.3C19.9 58.2 24.1 57.7 27.0 57.9C29.8 58.1 31.2 59.3 35.4 59.4C39.6 59.5 46.7 58.9 52.3 58.6C57.9 58.4 64.9 58.1 69.2 58.0C73.4 58.0 74.8 58.4 77.6 58.3C80.4 58.2 81.8 57.7 86.1 57.4C90.3 57.1 97.3 56.7 102.9 56.7C108.6 56.8 117.0 57.7 119.8 57.9M18.5 137.3C19.9 137.7 24.1 138.9 27.0 139.4C29.8 140.0 31.2 140.4 35.4 140.6C39.6 140.9 46.7 139.9 52.3 141.1C57.9 142.2 64.9 146.4 69.2 147.4C73.4 148.4 74.8 147.7 77.6 147.2C80.4 146.6 81.8 145.4 86.1 144.2C90.3 142.9 97.3 140.8 102.9 139.6C108.6 138.5 117.0 137.9 119.8 137.5M18.5 135.1C19.9 135.6 24.1 137.3 27.0 138.0C29.8 138.7 31.2 138.8 35.4 139.1C39.6 139.4 46.7 139.0 52.3 140.0C57.9 141.0 64.9 144.2 69.2 145.1C73.4 146.0 74.8 146.0 77.6 145.5C80.4 145.1 81.8 143.4 86.1 142.2C90.3 141.0 97.3 139.6 102.9 138.4C108.6 137.1 117.0 135.4 119.8 134.8" fill="none" stroke="#2450a8" stroke-width="1.15"/>
<line x1="18.5" y1="104.4" x2="119.8" y2="104.4" stroke="#e04a40" stroke-width="0.9" stroke-dasharray="3 2"/>
</g>
<rect x="18.5" y="31.5" width="101.3" height="145.8" fill="none" stroke="#666" stroke-width="1"/>
<text x="18.5" y="184.9" class="k">Γ</text>
<text x="35.4" y="184.9" class="k">F</text>
<text x="69.2" y="184.9" class="k">Q</text>
<text x="86.1" y="184.9" class="k">Z</text>
<text x="119.8" y="184.9" class="k">Γ</text>
<clipPath id="c01"><rect x="125.3" y="31.5" width="101.2" height="145.8"/></clipPath>
<g clip-path="url(#c01)">
<line x1="142.2" y1="31.5" x2="142.2" y2="177.3" stroke="#aaa" stroke-width="0.6" stroke-dasharray="1.5 2"/>
<line x1="175.9" y1="31.5" x2="175.9" y2="177.3" stroke="#aaa" stroke-width="0.6" stroke-dasharray="1.5 2"/>
<line x1="192.8" y1="31.5" x2="192.8" y2="177.3" stroke="#aaa" stroke-width="0.6" stroke-dasharray="1.5 2"/>
<path d="M125.3 58.8C127.0 56.9 132.0 49.4 135.4 47.4C138.8 45.3 142.2 46.0 145.5 46.5C148.9 47.0 152.3 49.9 155.7 50.3C159.0 50.7 162.4 49.7 165.8 48.8C169.2 48.0 172.5 45.3 175.9 45.3C179.3 45.4 182.6 46.6 186.0 49.1C189.4 51.6 192.8 56.8 196.1 60.4C199.5 64.0 202.9 69.0 206.3 70.7C209.6 72.4 213.0 72.4 216.4 70.5C219.8 68.5 224.8 60.7 226.5 58.8M125.3 51.2C127.0 50.5 132.0 46.8 135.4 47.3C138.8 47.7 142.2 51.0 145.5 53.8C148.9 56.6 152.3 63.0 155.7 64.1C159.0 65.3 162.4 63.5 165.8 60.7C169.2 58.0 172.5 51.2 175.9 47.7C179.3 44.1 182.6 40.8 186.0 39.4C189.4 37.9 192.8 38.1 196.1 39.0C199.5 39.9 202.9 42.6 206.3 44.7C209.6 46.8 213.0 50.7 216.4 51.8C219.8 52.9 224.8 51.3 226.5 51.2M125.3 41.1C127.0 42.4 132.0 47.0 135.4 48.7C138.8 50.5 142.2 52.2 145.5 51.5C148.9 50.8 152.3 47.2 155.7 44.6C159.0 42.0 162.4 37.4 165.8 35.8C169.2 34.1 172.5 33.6 175.9 34.8C179.3 36.0 182.6 40.4 186.0 43.1C189.4 45.8 192.8 50.0 196.1 50.9C199.5 51.8 202.9 50.1 206.3 48.4C209.6 46.7 213.0 42.1 216.4 40.9C219.8 39.7 224.8 41.1 226.5 41.1M125.3 40.6C127.0 38.8 132.0 32.8 135.4 30.0C138.8 27.2 142.2 24.3 145.5 23.7C148.9 23.1 152.3 25.1 155.7 26.3C159.0 27.6 162.4 30.1 165.8 31.1C169.2 32.1 172.5 31.9 175.9 32.3C179.3 32.6 182.6 32.4 186.0 33.5C189.4 34.5 192.8 36.6 196.1 38.4C199.5 40.2 202.9 42.9 206.3 44.2C209.6 45.5 213.0 46.7 216.4 46.1C219.8 45.5 224.8 41.5 226.5 40.6M125.3 30.3C127.0 29.7 132.0 27.9 135.4 26.5C138.8 25.1 142.2 22.8 145.5 22.0C148.9 21.2 152.3 21.9 155.7 21.6C159.0 21.3 162.4 20.9 165.8 20.2C169.2 19.4 172.5 17.0 175.9 16.9C179.3 16.8 182.6 18.1 186.0 19.7C189.4 21.3 192.8 24.8 196.1 26.4C199.5 27.9 202.9 28.5 206.3 29.1C209.6 29.7 213.0 29.6 216.4 29.9C219.8 30.1 224.8 30.3 226.5 30.3M125.3 185.0C127.0 184.2 132.0 181.5 135.4 180.3C138.8 179.1 142.2 178.4 145.5 177.8C148.9 177.2 152.3 176.8 155.7 176.5C159.0 176.1 162.4 176.8 165.8 175.9C169.2 175.0 172.5 172.5 175.9 171.0C179.3 169.4 182.6 165.8 186.0 166.4C189.4 167.1 192.8 171.1 196.1 174.9C199.5 178.7 202.9 186.5 206.3 189.3C209.6 192.2 213.0 192.6 216.4 191.9C219.8 191.2 224.8 186.2 226.5 185.0M125.3 178.4C127.0 178.4 132.0 178.4 135.4 178.8C138.8 179.1 142.2 180.4 145.5 180.3C148.9 180.1 152.3 179.1 155.7 177.9C159.0 176.7 162.4 174.8 165.8 173.2C169.2 171.7 172.5 169.3 175.9 168.7C179.3 168.1 182.6 167.9 186.0 169.6C189.4 171.3 192.8 176.2 196.1 179.1C199.5 182.0 202.9 186.2 206.3 187.0C209.6 187.8 213.0 185.5 216.4 184.0C219.8 182.6 224.8 179.3 226.5 178.4M125.3 164.2C127.0 165.6 132.0 170.8 135.4 172.6C138.8 174.4 142.2 174.3 145.5 174.9C148.9 175.5 152.3 174.7 155.7 176.1C159.0 177.4 162.4 180.6 165.8 183.2C169.2 185.9 172.5 190.5 175.9 191.9C179.3 193.3 182.6 193.7 186.0 191.7C189.4 189.6 192.8 184.2 196.1 179.7C199.5 175.1 202.9 168.0 206.3 164.4C209.6 160.8 213.0 158.1 216.4 158.1C219.8 158.1 224.8 163.2 226.5 164.2M125.3 178.3C127.0 176.6 132.0 171.6 135.4 168.4C138.8 165.3 142.2 161.6 145.5 159.4C148.9 157.1 152.3 155.2 155.7 154.9C159.0 154.5 162.4 155.0 165.8 157.2C169.2 159.5 172.5 165.0 175.9 168.3C179.3 171.7 182.6 176.0 186.0 177.3C189.4 178.5 192.8 176.3 196.1 175.9C199.5 175.5 202.9 174.2 206.3 174.8C209.6 175.4 213.0 178.8 216.4 179.4C219.8 180.0 224.8 178.4 226.5 178.3M125.3 164.9C127.0 166.2 132.0 170.5 135.4 172.7C138.8 174.8 142.2 177.2 145.5 177.6C148.9 178.1 152.3 176.6 155.7 175.2C159.0 173.7 162.4 170.7 165.8 168.8C169.2 166.8 172.5 164.8 175.9 163.6C179.3 162.4 182.6 161.9 186.0 161.6C189.4 161.4 192.8 162.1 196.1 162.2C199.5 162.2 202.9 162.3 206.3 162.2C209.6 162.1 213.0 161.1 216.4 161.6C219.8 162.0 224.8 164.3 226.5 164.9" fill="none" stroke="#555" stroke-width="1.1"/>
<path d="M125.3 63.0C127.0 63.3 132.0 63.9 135.4 64.7C138.8 65.4 142.2 66.8 145.5 67.6C148.9 68.4 152.3 69.1 155.7 69.3C159.0 69.4 162.4 69.0 165.8 68.5C169.2 68.0 172.5 66.8 175.9 66.3C179.3 65.8 182.6 65.5 186.0 65.5C189.4 65.5 192.8 66.3 196.1 66.5C199.5 66.6 202.9 66.8 206.3 66.4C209.6 66.1 213.0 64.9 216.4 64.3C219.8 63.7 224.8 63.2 226.5 63.0M125.3 64.1C127.0 63.6 132.0 61.9 135.4 61.0C138.8 60.1 142.2 59.0 145.5 58.8C148.9 58.6 152.3 59.2 155.7 59.7C159.0 60.3 162.4 61.5 165.8 62.0C169.2 62.5 172.5 62.8 175.9 62.8C179.3 62.8 182.6 62.2 186.0 62.1C189.4 61.9 192.8 61.8 196.1 62.1C199.5 62.4 202.9 63.3 206.3 63.8C209.6 64.3 213.0 65.1 216.4 65.2C219.8 65.2 224.8 64.3 226.5 64.1M125.3 175.2C127.0 176.1 132.0 179.6 135.4 180.8C138.8 182.1 142.2 182.8 145.5 182.8C148.9 182.7 152.3 181.2 155.7 180.7C159.0 180.1 162.4 179.8 165.8 179.6C169.2 179.3 172.5 179.5 175.9 179.1C179.3 178.8 182.6 178.0 186.0 177.5C189.4 177.1 192.8 176.8 196.1 176.3C199.5 175.9 202.9 175.4 206.3 174.9C209.6 174.3 213.0 172.9 216.4 173.0C219.8 173.0 224.8 174.8 226.5 175.2M125.3 174.1C127.0 174.6 132.0 176.0 135.4 176.9C138.8 177.8 142.2 179.0 145.5 179.4C148.9 179.7 152.3 179.6 155.7 178.9C159.0 178.2 162.4 176.3 165.8 175.0C169.2 173.6 172.5 171.6 175.9 170.6C179.3 169.5 182.6 169.0 186.0 168.8C189.4 168.6 192.8 169.1 196.1 169.4C199.5 169.7 202.9 170.3 206.3 170.8C209.6 171.2 213.0 171.6 216.4 172.2C219.8 172.7 224.8 173.8 226.5 174.1M125.3 164.8C127.0 164.9 132.0 165.1 135.4 165.7C138.8 166.3 142.2 167.3 145.5 168.4C148.9 169.4 152.3 171.0 155.7 171.8C159.0 172.6 162.4 173.0 165.8 173.0C169.2 172.9 172.5 172.0 175.9 171.5C179.3 171.0 182.6 170.5 186.0 170.1C189.4 169.8 192.8 169.8 196.1 169.4C199.5 168.9 202.9 168.2 206.3 167.6C209.6 166.9 213.0 165.9 216.4 165.5C219.8 165.0 224.8 164.9 226.5 164.8M125.3 170.3C127.0 170.2 132.0 170.5 135.4 169.6C138.8 168.6 142.2 165.9 145.5 164.4C148.9 163.0 152.3 161.3 155.7 160.9C159.0 160.5 162.4 161.2 165.8 161.9C169.2 162.7 172.5 164.1 175.9 165.4C179.3 166.6 182.6 168.4 186.0 169.4C189.4 170.4 192.8 171.3 196.1 171.3C199.5 171.3 202.9 170.0 206.3 169.6C209.6 169.1 213.0 168.4 216.4 168.5C219.8 168.7 224.8 170.0 226.5 170.3" fill="none" stroke="#555" stroke-width="0.9"/>
<path d="M125.3 40.6C126.7 41.2 130.9 43.3 133.8 44.3C136.6 45.2 138.0 46.2 142.2 46.1C146.4 45.9 153.4 44.4 159.1 43.3C164.7 42.3 171.7 40.8 175.9 39.7C180.1 38.6 181.5 37.3 184.4 37.0C187.2 36.7 188.6 37.3 192.8 37.9C197.0 38.5 204.0 40.2 209.7 40.6C215.3 41.1 223.7 40.6 226.5 40.6M125.3 65.3C126.7 65.6 130.9 66.7 133.8 67.1C136.6 67.5 138.0 67.5 142.2 67.6C146.4 67.7 153.4 67.9 159.1 67.7C164.7 67.5 171.7 66.8 175.9 66.4C180.1 66.0 181.5 65.2 184.4 65.2C187.2 65.2 188.6 66.3 192.8 66.5C197.0 66.7 204.0 66.8 209.7 66.6C215.3 66.4 223.7 65.4 226.5 65.1M125.3 65.1C126.7 65.1 130.9 65.1 133.8 65.2C136.6 65.3 138.0 65.4 142.2 65.6C146.4 65.8 153.4 66.7 159.1 66.5C164.7 66.3 171.7 64.8 175.9 64.3C180.1 63.8 181.5 63.3 184.4 63.4C187.2 63.6 188.6 64.8 192.8 65.0C197.0 65.3 204.0 65.2 209.7 65.0C215.3 64.9 223.7 64.2 226.5 64.1M125.3 76.2C126.7 76.0 130.9 75.7 133.8 75.2C136.6 74.8 138.0 74.2 142.2 73.4C146.4 72.7 153.4 71.4 159.1 70.7C164.7 69.9 171.7 68.9 175.9 68.9C180.1 68.9 181.5 69.9 184.4 70.7C187.2 71.4 188.6 72.7 192.8 73.4C197.0 74.2 204.0 74.8 209.7 75.2C215.3 75.7 223.7 76.0 226.5 76.2M175.9 69.8C177.3 71.0 181.9 75.2 184.3 77.1C186.7 78.9 188.3 80.2 190.3 80.7C192.2 81.3 194.1 81.1 196.1 80.3C198.1 79.6 200.2 77.8 202.2 76.2C204.2 74.5 206.2 72.7 208.1 70.7C209.9 68.7 212.5 65.4 213.3 64.3M125.3 102.2C125.8 101.4 127.2 98.8 128.3 97.1C129.5 95.4 129.8 94.9 132.1 92.0C134.4 89.1 138.8 83.5 142.2 79.8C145.6 76.1 149.3 72.1 152.4 69.8C155.5 67.5 157.7 67.0 160.7 66.1C163.8 65.2 169.2 64.6 170.8 64.3M226.5 103.5C225.8 102.7 224.0 100.8 222.5 98.9C220.9 97.0 219.6 95.2 217.4 92.0C215.2 88.8 212.0 83.2 209.3 79.8C206.6 76.4 203.9 73.6 201.2 71.6C198.5 69.6 194.2 68.6 192.8 68.0M125.3 102.2C126.7 102.2 130.9 102.2 133.8 102.2C136.6 102.2 138.0 102.2 142.2 102.0C146.4 101.8 153.4 101.5 159.1 101.1C164.7 100.8 171.7 100.2 175.9 100.0C180.1 99.8 181.5 99.8 184.4 99.8C187.2 99.9 188.6 100.1 192.8 100.4C197.0 100.7 204.0 101.2 209.7 101.5C215.3 101.8 223.7 102.1 226.5 102.2M125.3 104.4C126.7 104.5 130.9 104.7 133.8 104.8C136.6 104.9 138.0 105.1 142.2 104.9C146.4 104.8 153.4 104.1 159.1 103.9C164.7 103.6 171.7 103.5 175.9 103.5C180.1 103.5 181.5 103.6 184.4 103.7C187.2 103.8 188.6 103.7 192.8 104.0C197.0 104.4 204.0 105.8 209.7 105.9C215.3 105.9 223.7 104.6 226.5 104.4M125.3 121.3C126.7 121.3 130.9 121.1 133.8 120.8C136.6 120.5 138.0 120.0 142.2 119.3C146.4 118.7 153.4 117.3 159.1 116.8C164.7 116.2 171.7 116.1 175.9 116.1C180.1 116.0 181.5 116.1 184.4 116.4C187.2 116.8 188.6 117.4 192.8 118.1C197.0 118.7 204.0 119.8 209.7 120.4C215.3 121.0 223.7 121.5 226.5 121.7M125.3 121.9C126.7 121.8 130.9 121.7 133.8 121.3C136.6 121.0 138.0 120.7 142.2 120.1C146.4 119.4 153.4 118.1 159.1 117.5C164.7 117.0 171.7 116.9 175.9 116.8C180.1 116.7 181.5 116.8 184.4 117.2C187.2 117.5 188.6 118.2 192.8 118.8C197.0 119.4 204.0 120.4 209.7 121.0C215.3 121.6 223.7 122.0 226.5 122.3M125.3 136.2C126.7 136.6 130.9 137.9 133.8 138.8C136.6 139.6 138.0 141.2 142.2 141.3C146.4 141.4 153.4 137.9 159.1 139.4C164.7 140.9 171.7 148.6 175.9 150.3C180.1 152.1 181.5 150.6 184.4 150.0C187.2 149.5 188.6 148.1 192.8 146.8C197.0 145.5 204.0 143.8 209.7 142.0C215.3 140.3 223.7 137.3 226.5 136.4" fill="none" stroke="#555" stroke-width="0.85"/>
<path d="M125.3 62.0C127.0 62.3 132.0 63.1 135.4 64.0C138.8 64.9 142.2 66.6 145.5 67.7C148.9 68.8 152.3 70.4 155.7 70.7C159.0 71.0 162.4 70.6 165.8 69.5C169.2 68.5 172.5 66.0 175.9 64.3C179.3 62.6 182.6 60.4 186.0 59.4C189.4 58.4 192.8 58.2 196.1 58.3C199.5 58.3 202.9 59.2 206.3 59.7C209.6 60.2 213.0 60.7 216.4 61.1C219.8 61.5 224.8 61.9 226.5 62.0M125.3 57.6C127.0 57.0 132.0 55.1 135.4 54.1C138.8 53.1 142.2 50.7 145.5 51.7C148.9 52.6 152.3 56.4 155.7 59.6C159.0 62.8 162.4 68.9 165.8 70.7C169.2 72.5 172.5 72.5 175.9 70.6C179.3 68.6 182.6 62.8 186.0 59.2C189.4 55.7 192.8 51.0 196.1 49.2C199.5 47.4 202.9 47.6 206.3 48.4C209.6 49.3 213.0 52.7 216.4 54.2C219.8 55.8 224.8 57.1 226.5 57.6M125.3 70.7C127.0 70.2 132.0 69.1 135.4 67.6C138.8 66.2 142.2 63.4 145.5 62.2C148.9 61.0 152.3 60.6 155.7 60.4C159.0 60.2 162.4 62.0 165.8 60.9C169.2 59.8 172.5 57.3 175.9 53.8C179.3 50.4 182.6 43.0 186.0 40.2C189.4 37.4 192.8 35.4 196.1 37.0C199.5 38.7 202.9 45.5 206.3 50.2C209.6 54.9 213.0 61.9 216.4 65.3C219.8 68.7 224.8 69.8 226.5 70.7M125.3 56.4C127.0 56.2 132.0 55.7 135.4 55.3C138.8 54.8 142.2 53.8 145.5 53.7C148.9 53.6 152.3 54.2 155.7 54.7C159.0 55.3 162.4 56.8 165.8 57.3C169.2 57.7 172.5 57.9 175.9 57.5C179.3 57.0 182.6 55.5 186.0 54.5C189.4 53.5 192.8 52.0 196.1 51.5C199.5 51.1 202.9 51.2 206.3 51.7C209.6 52.2 213.0 53.8 216.4 54.6C219.8 55.3 224.8 56.1 226.5 56.4M125.3 44.6C127.0 44.7 132.0 43.9 135.4 45.0C138.8 46.2 142.2 50.3 145.5 51.7C148.9 53.0 152.3 53.5 155.7 53.1C159.0 52.7 162.4 50.5 165.8 49.2C169.2 48.0 172.5 46.4 175.9 45.6C179.3 44.8 182.6 43.9 186.0 44.3C189.4 44.7 192.8 46.5 196.1 48.1C199.5 49.6 202.9 53.2 206.3 53.9C209.6 54.5 213.0 53.4 216.4 51.9C219.8 50.3 224.8 45.8 226.5 44.6M125.3 41.9C127.0 41.4 132.0 39.7 135.4 39.2C138.8 38.7 142.2 38.4 145.5 38.7C148.9 39.0 152.3 40.5 155.7 40.8C159.0 41.2 162.4 40.8 165.8 40.6C169.2 40.4 172.5 39.7 175.9 39.7C179.3 39.8 182.6 40.7 186.0 40.7C189.4 40.8 192.8 40.6 196.1 40.3C199.5 40.1 202.9 39.1 206.3 39.2C209.6 39.4 213.0 40.6 216.4 41.1C219.8 41.5 224.8 41.7 226.5 41.9M125.3 31.1C127.0 31.1 132.0 31.1 135.4 30.8C138.8 30.5 142.2 29.0 145.5 29.2C148.9 29.5 152.3 30.8 155.7 32.2C159.0 33.6 162.4 36.2 165.8 37.7C169.2 39.1 172.5 39.4 175.9 40.8C179.3 42.2 182.6 44.4 186.0 46.0C189.4 47.7 192.8 51.0 196.1 50.8C199.5 50.6 202.9 47.6 206.3 44.8C209.6 42.1 213.0 36.6 216.4 34.3C219.8 32.1 224.8 31.7 226.5 31.1M125.3 31.3C127.0 30.0 132.0 25.7 135.4 23.3C138.8 20.9 142.2 16.9 145.5 16.9C148.9 16.9 152.3 19.6 155.7 23.5C159.0 27.3 162.4 35.2 165.8 39.9C169.2 44.6 172.5 50.0 175.9 51.9C179.3 53.8 182.6 52.9 186.0 51.3C189.4 49.7 192.8 45.1 196.1 42.4C199.5 39.7 202.9 36.5 206.3 35.0C209.6 33.4 213.0 33.9 216.4 33.3C219.8 32.7 224.8 31.6 226.5 31.3M125.3 20.1C127.0 21.6 132.0 25.5 135.4 29.0C138.8 32.5 142.2 39.3 145.5 41.1C148.9 42.9 152.3 42.2 155.7 39.9C159.0 37.6 162.4 31.0 165.8 27.5C169.2 23.9 172.5 20.3 175.9 18.5C179.3 16.7 182.6 16.8 186.0 16.9C189.4 17.0 192.8 18.4 196.1 19.2C199.5 20.1 202.9 21.8 206.3 22.1C209.6 22.3 213.0 21.3 216.4 21.0C219.8 20.7 224.8 20.2 226.5 20.1M125.3 17.7C127.0 18.8 132.0 23.4 135.4 24.5C138.8 25.7 142.2 25.7 145.5 24.5C148.9 23.4 152.3 18.7 155.7 17.5C159.0 16.3 162.4 16.6 165.8 17.5C169.2 18.4 172.5 21.8 175.9 22.8C179.3 23.8 182.6 23.6 186.0 23.5C189.4 23.3 192.8 22.4 196.1 21.9C199.5 21.5 202.9 21.4 206.3 20.6C209.6 19.7 213.0 17.4 216.4 16.9C219.8 16.4 224.8 17.6 226.5 17.7M125.3 33.3C126.0 33.9 127.8 35.8 129.3 37.0C130.9 38.2 132.3 39.5 134.4 40.6C136.6 41.7 139.8 43.3 142.2 43.3C144.6 43.3 146.3 42.3 148.6 40.6C150.8 38.9 154.0 35.4 155.7 33.3C157.3 31.2 158.2 28.8 158.7 27.9M145.5 27.9C147.2 30.3 152.6 37.9 155.7 42.4C158.7 47.0 160.4 51.9 163.8 55.2C167.1 58.5 172.5 60.7 175.9 62.5C179.3 64.3 181.2 65.2 184.0 66.1C186.8 67.0 191.3 67.6 192.8 68.0M165.8 27.9C167.5 30.3 172.8 38.5 175.9 42.4C179.0 46.4 181.5 49.4 184.3 51.5C187.1 53.7 190.0 55.5 192.8 55.2C195.6 54.9 198.5 52.5 201.2 49.7C203.9 47.0 206.8 42.4 209.3 38.8C211.8 35.1 215.2 29.7 216.4 27.9M175.9 27.9C177.3 30.0 181.5 37.4 184.3 40.6C187.1 43.8 190.0 46.7 192.8 47.0C195.6 47.3 198.5 45.6 201.2 42.4C203.9 39.2 207.9 30.3 209.3 27.9M198.2 27.9C199.5 30.6 203.6 39.4 206.3 44.3C209.0 49.1 211.8 54.0 214.4 57.0C216.9 60.1 219.4 61.3 221.4 62.5C223.5 63.7 225.7 64.0 226.5 64.3M125.3 66.1C126.3 65.1 128.8 62.2 131.4 59.7C133.9 57.3 137.6 54.1 140.5 51.5C143.3 49.0 146.0 46.7 148.6 44.3C151.1 41.8 153.6 39.7 155.7 37.0C157.7 34.2 159.9 29.4 160.7 27.9M125.3 138.5C126.1 139.5 128.7 142.3 130.4 144.5C132.0 146.7 133.7 149.2 135.4 151.8C137.1 154.4 138.8 157.3 140.5 160.0C142.2 162.7 143.9 165.6 145.5 168.2C147.2 170.8 149.3 173.7 150.6 175.5C151.9 177.3 153.1 178.5 153.6 179.1M125.3 139.0C126.3 140.4 129.3 144.3 131.4 147.2C133.4 150.1 135.4 153.3 137.4 156.3C139.5 159.4 141.5 162.6 143.5 165.5C145.5 168.3 148.1 171.4 149.6 173.7C151.1 175.9 152.1 178.2 152.6 179.1M175.9 152.7C176.7 153.8 179.3 156.6 181.0 159.1C182.6 161.5 184.0 164.5 186.0 167.3C188.0 170.1 190.8 175.8 192.8 175.8C194.8 175.8 196.3 170.1 198.2 167.3C200.1 164.5 202.3 161.5 204.2 159.1C206.1 156.6 208.7 153.8 209.6 152.7M155.7 179.1C156.5 177.6 159.0 172.7 160.7 170.0C162.4 167.3 164.1 164.8 165.8 162.7C167.5 160.6 169.2 158.8 170.8 157.3C172.5 155.7 175.1 154.2 175.9 153.6M201.2 179.1C202.0 177.6 204.2 173.4 206.3 170.0C208.3 166.7 211.2 162.7 213.3 159.1C215.5 155.4 217.2 151.5 219.4 148.1C221.6 144.8 225.3 140.5 226.5 139.0M125.3 191.9C127.0 191.1 132.0 190.4 135.4 187.3C138.8 184.1 142.2 177.4 145.5 172.9C148.9 168.4 152.3 161.7 155.7 160.1C159.0 158.6 162.4 161.2 165.8 163.4C169.2 165.6 172.5 171.4 175.9 173.5C179.3 175.7 182.6 175.6 186.0 176.2C189.4 176.8 192.8 176.0 196.1 177.2C199.5 178.5 202.9 181.7 206.3 183.8C209.6 185.9 213.0 188.6 216.4 190.0C219.8 191.3 224.8 191.6 226.5 191.9M125.3 191.9C127.0 191.1 132.0 188.8 135.4 187.3C138.8 185.8 142.2 183.5 145.5 183.0C148.9 182.5 152.3 183.4 155.7 184.4C159.0 185.3 162.4 187.9 165.8 188.6C169.2 189.4 172.5 189.5 175.9 188.8C179.3 188.1 182.6 185.6 186.0 184.6C189.4 183.6 192.8 182.4 196.1 182.6C199.5 182.9 202.9 184.7 206.3 186.1C209.6 187.6 213.0 190.2 216.4 191.2C219.8 192.1 224.8 191.8 226.5 191.9M125.3 178.7C127.0 179.0 132.0 180.3 135.4 180.2C138.8 180.1 142.2 178.8 145.5 178.1C148.9 177.4 152.3 175.7 155.7 176.0C159.0 176.3 162.4 178.5 165.8 179.8C169.2 181.1 172.5 182.5 175.9 183.7C179.3 184.8 182.6 185.3 186.0 186.6C189.4 188.0 192.8 191.1 196.1 191.9C199.5 192.7 202.9 192.9 206.3 191.4C209.6 189.9 213.0 185.1 216.4 182.9C219.8 180.8 224.8 179.4 226.5 178.7M125.3 182.8C127.0 182.3 132.0 180.0 135.4 179.9C138.8 179.8 142.2 180.9 145.5 182.2C148.9 183.5 152.3 186.2 155.7 187.8C159.0 189.4 162.4 191.2 165.8 191.7C169.2 192.1 172.5 191.7 175.9 190.5C179.3 189.3 182.6 186.3 186.0 184.5C189.4 182.8 192.8 180.5 196.1 180.1C199.5 179.7 202.9 181.2 206.3 182.0C209.6 182.8 213.0 184.8 216.4 184.9C219.8 185.1 224.8 183.2 226.5 182.8M125.3 187.3C127.0 186.8 132.0 185.7 135.4 184.8C138.8 183.8 142.2 182.6 145.5 181.4C148.9 180.3 152.3 178.6 155.7 177.7C159.0 176.8 162.4 175.9 165.8 176.1C169.2 176.3 172.5 177.7 175.9 179.1C179.3 180.5 182.6 183.1 186.0 184.6C189.4 186.2 192.8 187.6 196.1 188.3C199.5 189.1 202.9 189.1 206.3 189.2C209.6 189.3 213.0 189.0 216.4 188.7C219.8 188.4 224.8 187.5 226.5 187.3M125.3 178.0C127.0 178.7 132.0 180.7 135.4 182.3C138.8 183.8 142.2 186.9 145.5 187.6C148.9 188.2 152.3 187.4 155.7 186.0C159.0 184.6 162.4 180.9 165.8 179.4C169.2 177.9 172.5 177.0 175.9 176.8C179.3 176.6 182.6 178.0 186.0 178.4C189.4 178.8 192.8 179.0 196.1 179.0C199.5 179.0 202.9 178.6 206.3 178.3C209.6 178.1 213.0 177.8 216.4 177.7C219.8 177.6 224.8 178.0 226.5 178.0M125.3 172.3C127.0 171.5 132.0 168.7 135.4 167.2C138.8 165.8 142.2 164.8 145.5 163.5C148.9 162.2 152.3 159.3 155.7 159.5C159.0 159.7 162.4 162.1 165.8 164.9C169.2 167.7 172.5 173.5 175.9 176.4C179.3 179.2 182.6 180.5 186.0 181.9C189.4 183.2 192.8 183.6 196.1 184.5C199.5 185.5 202.9 187.8 206.3 187.5C209.6 187.1 213.0 184.9 216.4 182.4C219.8 179.9 224.8 174.0 226.5 172.3M125.3 185.4C127.0 185.2 132.0 185.0 135.4 184.4C138.8 183.8 142.2 183.4 145.5 181.8C148.9 180.3 152.3 177.7 155.7 175.1C159.0 172.5 162.4 168.1 165.8 166.0C169.2 163.8 172.5 162.7 175.9 162.2C179.3 161.7 182.6 162.5 186.0 162.8C189.4 163.2 192.8 162.9 196.1 164.2C199.5 165.5 202.9 167.8 206.3 170.6C209.6 173.3 213.0 178.2 216.4 180.7C219.8 183.1 224.8 184.6 226.5 185.4M125.3 170.1C127.0 169.3 132.0 166.3 135.4 165.1C138.8 163.9 142.2 163.5 145.5 162.7C148.9 162.0 152.3 160.5 155.7 160.7C159.0 160.9 162.4 162.1 165.8 164.1C169.2 166.1 172.5 170.5 175.9 172.7C179.3 175.0 182.6 176.6 186.0 177.6C189.4 178.5 192.8 178.1 196.1 178.4C199.5 178.8 202.9 179.9 206.3 179.8C209.6 179.6 213.0 179.0 216.4 177.4C219.8 175.8 224.8 171.3 226.5 170.1M125.3 164.0C127.0 163.4 132.0 160.8 135.4 160.3C138.8 159.9 142.2 160.5 145.5 161.2C148.9 162.0 152.3 163.8 155.7 164.9C159.0 166.0 162.4 167.4 165.8 168.0C169.2 168.6 172.5 168.5 175.9 168.4C179.3 168.3 182.6 167.4 186.0 167.4C189.4 167.3 192.8 167.7 196.1 168.2C199.5 168.7 202.9 170.1 206.3 170.3C209.6 170.4 213.0 170.0 216.4 169.0C219.8 168.0 224.8 164.8 226.5 164.0M125.3 161.1C127.0 161.3 132.0 161.2 135.4 162.1C138.8 163.0 142.2 165.6 145.5 166.5C148.9 167.3 152.3 167.9 155.7 167.2C159.0 166.6 162.4 163.9 165.8 162.5C169.2 161.0 172.5 158.9 175.9 158.6C179.3 158.3 182.6 159.3 186.0 160.4C189.4 161.5 192.8 164.0 196.1 165.1C199.5 166.2 202.9 167.2 206.3 167.2C209.6 167.1 213.0 165.6 216.4 164.6C219.8 163.6 224.8 161.7 226.5 161.1M125.3 159.4C127.0 161.6 132.0 170.1 135.4 172.9C138.8 175.6 142.2 176.3 145.5 175.9C148.9 175.5 152.3 172.0 155.7 170.6C159.0 169.2 162.4 168.1 165.8 167.3C169.2 166.5 172.5 166.2 175.9 165.7C179.3 165.2 182.6 164.7 186.0 164.2C189.4 163.7 192.8 163.9 196.1 162.7C199.5 161.4 202.9 158.6 206.3 156.8C209.6 155.0 213.0 151.4 216.4 151.8C219.8 152.2 224.8 158.1 226.5 159.4M125.3 163.9C127.0 164.8 132.0 167.5 135.4 168.9C138.8 170.4 142.2 171.3 145.5 172.4C148.9 173.6 152.3 175.1 155.7 175.9C159.0 176.8 162.4 178.1 165.8 177.6C169.2 177.2 172.5 175.6 175.9 173.2C179.3 170.7 182.6 166.2 186.0 162.9C189.4 159.7 192.8 155.5 196.1 153.6C199.5 151.8 202.9 151.2 206.3 151.8C209.6 152.3 213.0 154.9 216.4 156.9C219.8 159.0 224.8 162.8 226.5 163.9M125.3 152.6C127.0 152.5 132.0 150.3 135.4 151.8C138.8 153.3 142.2 159.4 145.5 161.8C148.9 164.2 152.3 165.8 155.7 166.2C159.0 166.5 162.4 163.7 165.8 164.1C169.2 164.4 172.5 166.1 175.9 168.4C179.3 170.6 182.6 175.3 186.0 177.3C189.4 179.4 192.8 181.0 196.1 180.9C199.5 180.8 202.9 179.3 206.3 176.7C209.6 174.1 213.0 169.4 216.4 165.4C219.8 161.4 224.8 154.7 226.5 152.6M125.3 159.3C127.0 158.6 132.0 156.3 135.4 155.1C138.8 153.9 142.2 152.5 145.5 151.9C148.9 151.4 152.3 151.0 155.7 151.8C159.0 152.6 162.4 154.8 165.8 156.8C169.2 158.8 172.5 162.4 175.9 163.9C179.3 165.4 182.6 166.0 186.0 165.9C189.4 165.7 192.8 163.6 196.1 162.9C199.5 162.1 202.9 161.6 206.3 161.4C209.6 161.2 213.0 162.0 216.4 161.7C219.8 161.3 224.8 159.7 226.5 159.3M125.3 160.9C127.0 161.9 132.0 165.0 135.4 166.4C138.8 167.9 142.2 169.2 145.5 169.7C148.9 170.2 152.3 170.1 155.7 169.6C159.0 169.0 162.4 167.9 165.8 166.4C169.2 164.9 172.5 162.7 175.9 160.7C179.3 158.8 182.6 156.2 186.0 154.7C189.4 153.2 192.8 152.1 196.1 151.8C199.5 151.4 202.9 152.0 206.3 152.7C209.6 153.4 213.0 154.6 216.4 155.9C219.8 157.3 224.8 160.1 226.5 160.9M125.3 170.8C127.0 171.2 132.0 173.4 135.4 173.0C138.8 172.7 142.2 170.8 145.5 168.6C148.9 166.5 152.3 162.0 155.7 159.9C159.0 157.8 162.4 156.8 165.8 155.8C169.2 154.9 172.5 154.6 175.9 153.9C179.3 153.3 182.6 151.4 186.0 151.8C189.4 152.2 192.8 154.0 196.1 156.2C199.5 158.4 202.9 162.8 206.3 164.9C209.6 167.0 213.0 167.9 216.4 168.9C219.8 169.9 224.8 170.5 226.5 170.8" fill="none" stroke="#2450a8" stroke-width="1.49"/>
<path d="M125.3 69.2C127.0 68.5 132.0 65.8 135.4 64.7C138.8 63.7 142.2 63.0 145.5 62.9C148.9 62.8 152.3 63.7 155.7 64.2C159.0 64.6 162.4 65.1 165.8 65.5C169.2 65.9 172.5 66.2 175.9 66.5C179.3 66.7 182.6 66.8 186.0 66.9C189.4 67.0 192.8 66.6 196.1 66.8C199.5 67.0 202.9 67.7 206.3 68.3C209.6 69.0 213.0 70.5 216.4 70.7C219.8 70.8 224.8 69.4 226.5 69.2M125.3 62.5C127.0 62.5 132.0 62.5 135.4 62.5C138.8 62.5 142.2 62.4 145.5 62.2C148.9 62.1 152.3 61.4 155.7 61.4C159.0 61.3 162.4 61.4 165.8 62.0C169.2 62.6 172.5 64.0 175.9 65.0C179.3 66.1 182.6 67.6 186.0 68.2C189.4 68.8 192.8 68.9 196.1 68.6C199.5 68.3 202.9 67.3 206.3 66.4C209.6 65.6 213.0 64.4 216.4 63.8C219.8 63.1 224.8 62.7 226.5 62.5M125.3 58.8C127.0 58.8 132.0 58.4 135.4 58.9C138.8 59.4 142.2 60.8 145.5 61.7C148.9 62.6 152.3 64.0 155.7 64.3C159.0 64.7 162.4 64.3 165.8 63.8C169.2 63.3 172.5 62.0 175.9 61.2C179.3 60.5 182.6 59.7 186.0 59.4C189.4 59.1 192.8 59.3 196.1 59.4C199.5 59.5 202.9 60.1 206.3 60.2C209.6 60.3 213.0 60.3 216.4 60.1C219.8 59.9 224.8 59.0 226.5 58.8M125.3 179.4C127.0 179.5 132.0 179.6 135.4 179.7C138.8 179.9 142.2 180.5 145.5 180.5C148.9 180.5 152.3 180.0 155.7 179.6C159.0 179.1 162.4 178.4 165.8 177.8C169.2 177.2 172.5 176.5 175.9 176.1C179.3 175.6 182.6 175.0 186.0 175.2C189.4 175.3 192.8 176.1 196.1 176.9C199.5 177.7 202.9 179.4 206.3 180.0C209.6 180.6 213.0 180.7 216.4 180.6C219.8 180.5 224.8 179.6 226.5 179.4M125.3 167.7C127.0 167.5 132.0 167.5 135.4 166.7C138.8 165.9 142.2 163.9 145.5 162.9C148.9 161.9 152.3 160.9 155.7 160.9C159.0 160.9 162.4 162.3 165.8 162.9C169.2 163.5 172.5 164.1 175.9 164.3C179.3 164.4 182.6 163.5 186.0 163.6C189.4 163.6 192.8 163.9 196.1 164.3C199.5 164.8 202.9 165.7 206.3 166.2C209.6 166.7 213.0 166.9 216.4 167.2C219.8 167.4 224.8 167.6 226.5 167.7" fill="none" stroke="#2450a8" stroke-width="1.22"/>
<path d="M125.3 50.6C126.7 50.6 130.9 50.6 133.8 50.6C136.6 50.6 138.0 50.5 142.2 50.6C146.4 50.7 153.4 51.2 159.1 51.2C164.7 51.2 171.7 50.7 175.9 50.6C180.1 50.6 181.5 51.0 184.4 51.0C187.2 51.0 188.6 50.9 192.8 50.8C197.0 50.8 204.0 50.7 209.7 50.6C215.3 50.6 223.7 50.6 226.5 50.6M125.3 72.5C127.0 72.4 132.0 72.1 135.4 71.6C138.8 71.1 141.6 70.4 145.5 69.8C149.5 69.2 154.8 68.4 159.0 68.0C163.2 67.5 168.0 67.0 170.8 67.0C173.7 67.0 175.1 67.8 175.9 68.0M125.3 84.5C126.7 84.6 130.9 84.6 133.8 84.7C136.6 84.8 138.0 85.8 142.2 85.3C146.4 84.7 153.4 82.8 159.1 81.6C164.7 80.5 171.7 78.7 175.9 78.3C180.1 77.9 181.5 78.7 184.4 79.2C187.2 79.8 188.6 80.6 192.8 81.4C197.0 82.3 204.0 83.6 209.7 84.4C215.3 85.1 223.7 85.9 226.5 86.2M125.3 86.2C126.7 86.2 130.9 86.3 133.8 86.4C136.6 86.4 138.0 87.2 142.2 86.7C146.4 86.2 153.4 84.5 159.1 83.4C164.7 82.4 171.7 80.7 175.9 80.3C180.1 80.0 181.5 80.9 184.4 81.4C187.2 82.0 188.6 82.7 192.8 83.4C197.0 84.2 204.0 85.4 209.7 86.2C215.3 86.9 223.7 87.7 226.5 88.0M125.3 87.6C126.7 87.7 130.9 87.8 133.8 87.8C136.6 87.9 138.0 88.5 142.2 88.0C146.4 87.5 153.4 85.8 159.1 84.9C164.7 84.0 171.7 82.8 175.9 82.5C180.1 82.3 181.5 83.0 184.4 83.4C187.2 83.9 188.6 84.5 192.8 85.3C197.0 86.0 204.0 87.3 209.7 88.0C215.3 88.7 223.7 89.2 226.5 89.5M125.3 89.5C126.7 89.5 130.9 89.5 133.8 89.5C136.6 89.4 138.0 89.7 142.2 89.3C146.4 88.8 153.4 87.5 159.1 86.7C164.7 86.0 171.7 84.9 175.9 84.7C180.1 84.5 181.5 85.1 184.4 85.4C187.2 85.8 188.6 86.4 192.8 87.1C197.0 87.8 204.0 88.8 209.7 89.5C215.3 90.1 223.7 90.7 226.5 90.9M125.3 91.5C126.7 91.4 130.9 91.2 133.8 90.9C136.6 90.6 138.0 90.3 142.2 89.8C146.4 89.3 153.4 88.6 159.1 88.0C164.7 87.4 171.7 86.4 175.9 86.2C180.1 86.0 181.5 86.4 184.4 86.7C187.2 87.1 188.6 87.7 192.8 88.4C197.0 89.0 204.0 90.1 209.7 90.7C215.3 91.4 223.7 91.9 226.5 92.2M170.8 66.1C171.7 67.2 173.7 69.5 175.9 72.5C178.1 75.5 181.5 81.8 184.3 84.4C187.1 86.9 189.8 87.8 192.8 88.0C195.8 88.1 199.4 86.9 202.2 85.3C205.0 83.6 207.2 80.6 209.6 78.0C212.0 75.4 215.2 71.1 216.4 69.8M125.3 104.0C126.0 103.2 127.8 101.1 129.3 98.9C130.9 96.8 132.6 93.7 134.4 91.3C136.3 88.8 138.3 86.4 140.5 84.4C142.7 82.3 145.0 80.4 147.6 78.9C150.1 77.4 154.3 75.8 155.7 75.2" fill="none" stroke="#2450a8" stroke-width="0.85"/>
<path d="M125.3 63.1C126.7 63.1 130.9 63.2 133.8 63.6C136.6 63.9 138.0 65.0 142.2 65.2C146.4 65.4 153.4 65.1 159.1 64.9C164.7 64.6 171.7 63.9 175.9 63.6C180.1 63.2 181.5 62.6 184.4 62.5C187.2 62.5 188.6 62.9 192.8 63.0C197.0 63.1 204.0 63.0 209.7 63.0C215.3 63.0 223.7 63.0 226.5 63.0M125.3 62.0C126.7 61.9 130.9 61.3 133.8 61.4C136.6 61.6 138.0 62.6 142.2 62.8C146.4 63.1 153.4 62.7 159.1 62.7C164.7 62.6 171.7 63.0 175.9 62.6C180.1 62.2 181.5 60.6 184.4 60.2C187.2 59.9 188.6 60.2 192.8 60.5C197.0 60.7 204.0 61.7 209.7 61.8C215.3 62.0 223.7 61.5 226.5 61.4M125.3 139.9C126.7 140.4 130.9 142.3 133.8 143.2C136.6 144.1 138.0 145.3 142.2 145.2C146.4 145.1 153.4 141.2 159.1 142.8C164.7 144.3 171.7 152.4 175.9 154.4C180.1 156.4 181.5 155.2 184.4 154.7C187.2 154.3 188.6 152.9 192.8 151.5C197.0 150.0 204.0 147.9 209.7 146.1C215.3 144.3 223.7 141.6 226.5 140.7M125.3 138.9C126.7 139.1 130.9 139.5 133.8 140.3C136.6 141.1 138.0 143.5 142.2 143.7C146.4 143.9 153.4 140.1 159.1 141.4C164.7 142.7 171.7 149.9 175.9 151.7C180.1 153.5 181.5 152.6 184.4 152.3C187.2 152.0 188.6 150.9 192.8 149.6C197.0 148.4 204.0 146.5 209.7 144.7C215.3 142.9 223.7 139.6 226.5 138.6" fill="none" stroke="#2450a8" stroke-width="1.15"/>
<line x1="125.3" y1="104.4" x2="226.5" y2="104.4" stroke="#e04a40" stroke-width="0.9" stroke-dasharray="3 2"/>
</g>
<rect x="125.3" y="31.5" width="101.2" height="145.8" fill="none" stroke="#666" stroke-width="1"/>
<text x="125.3" y="184.9" class="k">Γ</text>
<text x="142.2" y="184.9" class="k">F</text>
<text x="175.9" y="184.9" class="k">Q</text>
<text x="192.8" y="184.9" class="k">Z</text>
<text x="226.5" y="184.9" class="k">Γ</text>
<clipPath id="c02"><rect x="247.6" y="31.5" width="101.1" height="145.8"/></clipPath>
<g clip-path="url(#c02)">
<line x1="281.3" y1="31.5" x2="281.3" y2="177.3" stroke="#aaa" stroke-width="0.6" stroke-dasharray="1.5 2"/>
<line x1="298.1" y1="31.5" x2="298.1" y2="177.3" stroke="#aaa" stroke-width="0.6" stroke-dasharray="1.5 2"/>
<line x1="331.8" y1="31.5" x2="331.8" y2="177.3" stroke="#aaa" stroke-width="0.6" stroke-dasharray="1.5 2"/>
<path d="M247.6 40.4C248.9 40.9 252.8 42.3 255.7 43.3C258.6 44.3 261.2 46.2 264.8 46.4C268.3 46.7 273.5 45.4 276.9 45.0C280.3 44.6 282.5 44.3 285.0 44.3C287.5 44.3 289.5 44.6 291.7 45.0C293.9 45.4 295.7 46.0 298.1 46.4C300.6 46.9 303.6 47.2 306.5 47.9C309.4 48.6 312.6 50.1 315.5 50.8C318.5 51.5 321.4 51.9 324.4 52.3C327.4 52.7 329.5 53.3 333.5 53.4C337.6 53.4 346.2 52.6 348.7 52.5M267.8 53.4C270.1 52.2 277.3 48.1 281.3 46.4C285.2 44.8 288.9 44.0 291.7 43.3C294.5 42.7 295.7 42.3 298.1 42.6C300.6 42.9 303.7 44.0 306.5 45.0C309.4 46.0 312.4 47.7 315.3 48.8C318.3 49.9 322.9 51.1 324.4 51.5M247.6 64.3C248.9 63.5 252.8 61.0 255.7 59.7C258.6 58.5 260.5 57.1 264.8 56.8C269.1 56.6 276.8 57.8 281.3 58.3C285.7 58.8 288.9 59.5 291.7 59.7C294.5 60.0 295.4 59.9 298.1 59.7C300.9 59.6 304.0 59.3 308.3 58.8C312.5 58.4 318.4 56.9 323.4 57.0C328.5 57.2 334.4 59.1 338.6 59.7C342.8 60.4 347.0 60.5 348.7 60.7M247.6 67.2C250.0 67.0 256.1 66.2 261.8 65.8C267.4 65.3 276.3 64.3 281.3 64.3C286.3 64.3 288.9 65.5 291.7 65.8C294.5 66.1 295.4 66.4 298.1 66.1C300.9 65.9 303.2 64.9 308.3 64.3C313.3 63.7 321.7 62.6 328.5 62.5C335.2 62.3 345.3 63.2 348.7 63.4M286.0 27.9C286.4 28.6 286.0 29.3 288.0 32.0C290.1 34.8 295.1 40.4 298.1 44.3C301.2 48.1 303.6 51.9 306.5 55.2C309.4 58.5 312.6 61.9 315.5 64.3C318.5 66.7 323.0 68.9 324.4 69.8M308.3 27.9C308.6 28.6 307.6 30.7 310.3 32.0C313.0 33.4 320.8 34.7 324.4 35.9C328.0 37.0 329.1 39.0 331.8 39.0C334.5 39.0 337.8 36.9 340.6 35.9C343.4 34.9 347.4 33.4 348.7 33.0M247.6 73.4C248.8 73.3 252.5 73.0 254.7 72.5C256.9 72.1 258.6 73.3 260.7 70.7C262.9 68.1 265.5 61.7 267.8 57.0C270.2 52.3 272.9 46.6 274.9 42.4C276.9 38.3 278.8 34.5 280.0 32.0C281.1 29.6 281.6 28.6 282.0 27.9M247.6 65.0C250.4 64.9 258.8 64.5 264.4 64.1C270.0 63.6 277.1 62.7 281.3 62.3C285.5 62.0 286.9 62.0 289.7 62.0C292.5 61.9 293.9 61.6 298.1 62.1C302.4 62.5 309.4 64.1 315.0 64.6C320.6 65.0 327.6 64.7 331.8 64.9C336.0 65.1 337.4 65.8 340.3 65.8C343.1 65.8 347.3 65.1 348.7 65.0M247.6 60.7C250.4 60.3 258.8 58.9 264.4 58.5C270.0 58.1 277.1 58.4 281.3 58.3C285.5 58.2 286.9 58.0 289.7 57.8C292.5 57.7 293.9 57.2 298.1 57.5C302.4 57.8 309.4 59.1 315.0 59.6C320.6 60.1 327.6 60.1 331.8 60.5C336.0 60.9 337.4 62.2 340.3 62.2C343.1 62.1 347.3 60.5 348.7 60.1M247.6 34.2C249.3 34.7 254.3 36.1 257.7 37.0C261.1 37.9 263.9 39.7 267.8 39.7C271.7 39.7 277.9 37.9 281.3 37.0C284.6 36.1 286.1 35.8 288.0 34.2C290.0 32.7 292.3 28.9 293.1 27.9M323.4 44.3C324.8 44.9 329.0 47.4 331.8 47.9C334.7 48.4 337.8 47.3 340.6 47.0C343.4 46.7 347.4 46.2 348.7 46.1M247.6 71.6C250.7 70.9 260.7 68.8 266.3 67.6C271.9 66.4 276.0 65.2 281.3 64.5C286.6 63.8 292.9 62.7 298.1 63.6C303.4 64.4 307.5 66.9 313.0 69.6C318.5 72.3 325.3 77.4 331.2 79.8C337.2 82.2 345.8 83.1 348.7 83.8M298.1 62.5C299.8 63.7 305.4 67.3 308.3 69.8C311.1 72.2 312.8 74.6 315.3 77.1C317.9 79.5 320.7 82.2 323.4 84.4C326.1 86.5 328.6 88.3 331.5 89.8C334.4 91.3 337.7 92.7 340.6 93.5C343.5 94.2 347.4 94.2 348.7 94.4M247.6 98.0C250.4 98.1 258.8 98.2 264.4 98.4C270.0 98.5 277.1 98.9 281.3 98.9C285.5 99.0 286.9 98.7 289.7 98.6C292.5 98.4 293.9 98.1 298.1 98.0C302.4 97.9 309.4 98.0 315.0 98.0C320.6 98.0 327.6 98.0 331.8 98.0C336.0 98.1 337.4 98.2 340.3 98.2C343.1 98.2 347.3 98.1 348.7 98.0M247.6 101.1C250.4 101.1 258.8 100.8 264.4 100.8C270.0 100.7 277.1 100.8 281.3 100.8C285.5 100.7 286.9 100.5 289.7 100.4C292.5 100.3 293.9 100.0 298.1 100.0C302.4 100.0 309.4 100.3 315.0 100.4C320.6 100.5 327.6 100.6 331.8 100.8C336.0 100.9 337.4 101.1 340.3 101.1C343.1 101.2 347.3 101.1 348.7 101.1M247.6 105.7C250.4 105.8 258.8 106.1 264.4 106.2C270.0 106.3 277.1 106.4 281.3 106.2C285.5 106.1 286.9 105.5 289.7 105.3C292.5 105.1 293.9 104.9 298.1 104.9C302.4 105.0 309.4 105.4 315.0 105.7C320.6 105.9 327.6 106.4 331.8 106.6C336.0 106.7 337.4 106.6 340.3 106.6C343.1 106.6 347.3 106.6 348.7 106.6M247.6 119.9C250.4 119.1 258.8 116.5 264.4 115.3C270.0 114.1 277.1 113.1 281.3 112.6C285.5 112.1 286.9 112.4 289.7 112.4C292.5 112.4 293.9 112.0 298.1 112.6C302.4 113.2 309.4 115.0 315.0 116.2C320.6 117.5 327.6 119.2 331.8 119.9C336.0 120.6 337.4 120.2 340.3 120.4C343.1 120.7 347.3 121.0 348.7 121.2M247.6 124.3C250.4 124.0 258.8 123.4 264.4 122.6C270.0 121.9 277.1 120.5 281.3 119.9C285.5 119.3 286.9 119.2 289.7 119.0C292.5 118.8 293.9 118.3 298.1 118.6C302.4 118.9 309.4 120.1 315.0 120.8C320.6 121.5 327.6 122.2 331.8 122.6C336.0 123.1 337.4 123.3 340.3 123.5C343.1 123.8 347.3 124.0 348.7 124.1M247.6 143.6C250.4 144.1 258.8 146.0 264.4 146.9C270.0 147.8 277.1 148.5 281.3 149.0C285.5 149.5 286.9 149.7 289.7 150.1C292.5 150.5 293.9 151.7 298.1 151.2C302.4 150.7 309.4 148.1 315.0 147.0C320.6 145.9 327.6 145.2 331.8 144.5C336.0 143.8 337.4 143.0 340.3 142.9C343.1 142.8 347.3 143.9 348.7 144.1M247.6 138.8C250.4 139.5 258.8 141.8 264.4 143.3C270.0 144.9 277.1 147.5 281.3 148.0C285.5 148.5 286.9 146.5 289.7 146.4C292.5 146.2 293.9 147.8 298.1 147.0C302.4 146.2 309.4 142.5 315.0 141.6C320.6 140.6 327.6 141.8 331.8 141.5C336.0 141.1 337.4 139.4 340.3 139.3C343.1 139.2 347.3 140.7 348.7 140.9M247.6 140.9C249.6 142.7 256.0 147.8 259.7 151.8C263.4 155.7 266.8 160.6 269.8 164.5C272.9 168.5 275.9 173.0 277.9 175.5C280.0 177.9 281.3 178.5 282.0 179.1M298.1 147.6C299.5 148.9 303.4 152.6 306.2 155.4C309.1 158.3 312.5 162.1 315.3 164.5C318.2 167.0 320.7 168.5 323.4 170.0C326.1 171.5 327.3 172.7 331.5 173.7C335.7 174.6 345.8 175.2 348.7 175.5M308.3 179.1C309.9 177.0 315.0 170.9 318.4 166.4C321.7 161.8 325.1 155.4 328.5 151.8C331.9 148.1 335.2 146.0 338.6 144.5C342.0 143.0 347.0 143.0 348.7 142.7" fill="none" stroke="#111" stroke-width="0.98"/>
<path d="M247.6 57.0C249.3 57.0 254.3 57.6 257.7 56.9C261.1 56.1 264.4 54.3 267.8 52.5C271.2 50.8 274.6 48.2 277.9 46.3C281.3 44.5 284.7 42.6 288.0 41.4C291.4 40.2 294.8 39.5 298.1 39.2C301.5 38.9 304.9 39.1 308.3 39.6C311.6 40.1 315.0 41.1 318.4 42.4C321.7 43.7 325.1 45.7 328.5 47.5C331.9 49.3 335.2 51.6 338.6 53.2C342.0 54.8 347.0 56.4 348.7 57.0M247.6 31.8C249.3 32.7 254.3 34.6 257.7 37.5C261.1 40.4 264.4 46.0 267.8 49.2C271.2 52.5 274.6 56.1 277.9 57.0C281.3 57.9 284.7 55.7 288.0 54.5C291.4 53.4 294.8 50.6 298.1 49.9C301.5 49.1 304.9 50.3 308.3 50.2C311.6 50.1 315.0 50.8 318.4 49.5C321.7 48.2 325.1 44.9 328.5 42.4C331.9 39.9 335.2 36.1 338.6 34.3C342.0 32.5 347.0 32.2 348.7 31.8M247.6 48.4C249.3 48.6 254.3 49.1 257.7 49.8C261.1 50.6 264.4 51.6 267.8 52.8C271.2 54.0 274.6 57.1 277.9 57.0C281.3 56.9 284.7 54.7 288.0 52.3C291.4 50.0 294.8 45.1 298.1 42.7C301.5 40.3 304.9 39.1 308.3 38.0C311.6 36.8 315.0 36.2 318.4 35.7C321.7 35.2 325.1 34.2 328.5 35.2C331.9 36.1 335.2 39.2 338.6 41.4C342.0 43.6 347.0 47.2 348.7 48.4M247.6 38.1C249.3 38.7 254.3 39.8 257.7 42.0C261.1 44.1 264.4 48.6 267.8 51.0C271.2 53.5 274.6 56.9 277.9 56.7C281.3 56.4 284.7 52.3 288.0 49.6C291.4 46.9 294.8 42.3 298.1 40.5C301.5 38.7 304.9 39.4 308.3 38.9C311.6 38.4 315.0 38.3 318.4 37.6C321.7 36.8 325.1 34.8 328.5 34.5C331.9 34.1 335.2 34.7 338.6 35.3C342.0 35.9 347.0 37.6 348.7 38.1M247.6 28.9C249.3 28.3 254.3 25.3 257.7 25.0C261.1 24.7 264.4 26.6 267.8 27.1C271.2 27.5 274.6 28.0 277.9 27.7C281.3 27.4 284.7 25.5 288.0 25.3C291.4 25.0 294.8 24.6 298.1 26.2C301.5 27.9 304.9 31.9 308.3 35.3C311.6 38.6 315.0 44.1 318.4 46.4C321.7 48.7 325.1 49.9 328.5 48.8C331.9 47.7 335.2 43.2 338.6 39.9C342.0 36.6 347.0 30.7 348.7 28.9M247.6 32.5C249.3 33.3 254.3 36.5 257.7 36.9C261.1 37.3 264.4 35.7 267.8 34.9C271.2 34.0 274.6 32.5 277.9 31.9C281.3 31.3 284.7 31.5 288.0 31.3C291.4 31.0 294.8 30.8 298.1 30.5C301.5 30.3 304.9 30.0 308.3 29.7C311.6 29.3 315.0 29.1 318.4 28.4C321.7 27.7 325.1 26.1 328.5 25.7C331.9 25.4 335.2 25.1 338.6 26.3C342.0 27.4 347.0 31.5 348.7 32.5M247.6 25.4C249.3 25.3 254.3 25.0 257.7 24.8C261.1 24.6 264.4 23.7 267.8 24.1C271.2 24.4 274.6 26.1 277.9 26.9C281.3 27.7 284.7 28.7 288.0 28.8C291.4 28.8 294.8 27.4 298.1 27.4C301.5 27.5 304.9 28.4 308.3 29.2C311.6 30.0 315.0 32.1 318.4 32.2C321.7 32.3 325.1 30.7 328.5 29.6C331.9 28.5 335.2 26.3 338.6 25.6C342.0 24.9 347.0 25.4 348.7 25.4M247.6 191.7C249.3 191.7 254.3 193.0 257.7 191.9C261.1 190.7 264.4 187.3 267.8 184.7C271.2 182.1 274.6 178.5 277.9 176.4C281.3 174.2 284.7 172.7 288.0 171.7C291.4 170.7 294.8 170.7 298.1 170.4C301.5 170.1 304.9 169.9 308.3 169.9C311.6 169.9 315.0 169.7 318.4 170.5C321.7 171.4 325.1 172.9 328.5 175.1C331.9 177.4 335.2 181.3 338.6 184.0C342.0 186.8 347.0 190.4 348.7 191.7M247.6 186.9C249.3 186.5 254.3 185.5 257.7 184.8C261.1 184.1 264.4 183.0 267.8 182.9C271.2 182.7 274.6 183.1 277.9 184.1C281.3 185.0 284.7 187.5 288.0 188.6C291.4 189.7 294.8 191.3 298.1 190.8C301.5 190.3 304.9 187.7 308.3 185.8C311.6 183.9 315.0 180.4 318.4 179.5C321.7 178.6 325.1 179.4 328.5 180.3C331.9 181.3 335.2 184.2 338.6 185.3C342.0 186.3 347.0 186.6 348.7 186.9M247.6 180.1C249.3 180.9 254.3 183.3 257.7 185.0C261.1 186.6 264.4 188.7 267.8 189.9C271.2 191.0 274.6 192.5 277.9 191.9C281.3 191.3 284.7 188.9 288.0 186.2C291.4 183.6 294.8 178.4 298.1 176.0C301.5 173.6 304.9 172.1 308.3 171.9C311.6 171.7 315.0 174.0 318.4 174.9C321.7 175.7 325.1 176.6 328.5 177.0C331.9 177.4 335.2 176.7 338.6 177.3C342.0 177.8 347.0 179.6 348.7 180.1M247.6 170.3C249.3 169.9 254.3 168.0 257.7 167.5C261.1 167.0 264.4 166.6 267.8 167.4C271.2 168.2 274.6 169.9 277.9 172.2C281.3 174.6 284.7 178.7 288.0 181.4C291.4 184.0 294.8 186.7 298.1 188.0C301.5 189.2 304.9 189.1 308.3 189.0C311.6 188.9 315.0 188.2 318.4 187.2C321.7 186.2 325.1 184.9 328.5 183.0C331.9 181.2 335.2 178.3 338.6 176.2C342.0 174.0 347.0 171.3 348.7 170.3M247.6 174.7C249.3 176.3 254.3 183.2 257.7 184.7C261.1 186.3 264.4 184.7 267.8 183.7C271.2 182.7 274.6 179.3 277.9 178.6C281.3 177.9 284.7 179.0 288.0 179.5C291.4 179.9 294.8 181.6 298.1 181.3C301.5 181.0 304.9 179.4 308.3 177.6C311.6 175.9 315.0 172.9 318.4 170.7C321.7 168.6 325.1 165.6 328.5 164.5C331.9 163.5 335.2 162.9 338.6 164.6C342.0 166.3 347.0 173.0 348.7 174.7M247.6 161.1C249.3 161.5 254.3 162.5 257.7 163.9C261.1 165.2 264.4 167.3 267.8 169.1C271.2 170.8 274.6 172.5 277.9 174.4C281.3 176.3 284.7 178.4 288.0 180.2C291.4 182.1 294.8 184.4 298.1 185.6C301.5 186.8 304.9 187.8 308.3 187.4C311.6 186.9 315.0 185.3 318.4 183.0C321.7 180.7 325.1 176.7 328.5 173.6C331.9 170.5 335.2 166.5 338.6 164.4C342.0 162.3 347.0 161.6 348.7 161.1M247.6 170.3C249.3 170.7 254.3 172.0 257.7 172.7C261.1 173.4 264.4 174.6 267.8 174.6C271.2 174.5 274.6 173.5 277.9 172.3C281.3 171.2 284.7 168.7 288.0 167.6C291.4 166.5 294.8 165.7 298.1 165.8C301.5 165.8 304.9 167.2 308.3 168.1C311.6 168.9 315.0 170.3 318.4 170.9C321.7 171.4 325.1 171.5 328.5 171.4C331.9 171.3 335.2 170.6 338.6 170.4C342.0 170.2 347.0 170.4 348.7 170.3M247.6 173.3C249.3 173.5 254.3 173.7 257.7 174.4C261.1 175.0 264.4 177.8 267.8 177.3C271.2 176.7 274.6 174.3 277.9 171.2C281.3 168.0 284.7 161.7 288.0 158.5C291.4 155.2 294.8 152.5 298.1 151.8C301.5 151.0 304.9 152.4 308.3 154.1C311.6 155.7 315.0 158.9 318.4 161.8C321.7 164.6 325.1 168.8 328.5 171.0C331.9 173.2 335.2 174.7 338.6 175.1C342.0 175.4 347.0 173.6 348.7 173.3M247.6 170.4C249.3 169.7 254.3 168.1 257.7 166.4C261.1 164.8 264.4 162.1 267.8 160.4C271.2 158.7 274.6 156.7 277.9 156.1C281.3 155.5 284.7 156.9 288.0 156.8C291.4 156.7 294.8 156.4 298.1 155.6C301.5 154.8 304.9 151.8 308.3 152.0C311.6 152.2 315.0 154.1 318.4 156.7C321.7 159.3 325.1 165.0 328.5 167.6C331.9 170.2 335.2 171.9 338.6 172.4C342.0 172.9 347.0 170.7 348.7 170.4M247.6 149.2C249.3 150.5 254.3 154.3 257.7 157.1C261.1 159.8 264.4 164.1 267.8 165.7C271.2 167.3 274.6 167.0 277.9 166.5C281.3 166.0 284.7 163.5 288.0 162.5C291.4 161.5 294.8 160.6 298.1 160.5C301.5 160.5 304.9 161.7 308.3 162.2C311.6 162.7 315.0 164.0 318.4 163.5C321.7 163.1 325.1 161.5 328.5 159.5C331.9 157.5 335.2 153.2 338.6 151.5C342.0 149.8 347.0 149.6 348.7 149.2M247.6 152.0C249.3 152.4 254.3 153.9 257.7 154.6C261.1 155.3 264.4 156.0 267.8 156.3C271.2 156.6 274.6 156.2 277.9 156.3C281.3 156.4 284.7 156.8 288.0 156.9C291.4 156.9 294.8 157.0 298.1 156.5C301.5 156.0 304.9 154.6 308.3 153.9C311.6 153.1 315.0 152.5 318.4 152.2C321.7 151.9 325.1 152.3 328.5 152.2C331.9 152.1 335.2 151.6 338.6 151.6C342.0 151.6 347.0 151.9 348.7 152.0M247.6 150.0C249.3 150.1 254.3 151.1 257.7 150.5C261.1 150.0 264.4 147.3 267.8 146.6C271.2 145.9 274.6 145.3 277.9 146.3C281.3 147.3 284.7 150.6 288.0 152.5C291.4 154.4 294.8 156.2 298.1 157.8C301.5 159.5 304.9 161.2 308.3 162.6C311.6 164.0 315.0 166.6 318.4 166.3C321.7 166.0 325.1 163.5 328.5 161.1C331.9 158.7 335.2 153.7 338.6 151.8C342.0 150.0 347.0 150.3 348.7 150.0M247.6 148.8C249.3 148.9 254.3 150.0 257.7 149.6C261.1 149.2 264.4 147.1 267.8 146.5C271.2 146.0 274.6 145.2 277.9 146.3C281.3 147.4 284.7 151.0 288.0 153.3C291.4 155.6 294.8 158.8 298.1 160.2C301.5 161.6 304.9 161.9 308.3 161.7C311.6 161.5 315.0 160.4 318.4 159.0C321.7 157.7 325.1 155.1 328.5 153.4C331.9 151.6 335.2 149.3 338.6 148.5C342.0 147.7 347.0 148.7 348.7 148.8M247.6 175.6C249.3 175.6 254.3 175.0 257.7 175.3C261.1 175.5 264.4 176.4 267.8 177.1C271.2 177.7 274.6 178.5 277.9 179.1C281.3 179.7 284.7 180.1 288.0 180.6C291.4 181.1 294.8 181.7 298.1 182.1C301.5 182.5 304.9 182.9 308.3 182.8C311.6 182.6 315.0 182.0 318.4 181.4C321.7 180.8 325.1 180.0 328.5 179.3C331.9 178.6 335.2 178.0 338.6 177.4C342.0 176.8 347.0 175.9 348.7 175.6M247.6 173.4C249.3 173.6 254.3 174.3 257.7 174.8C261.1 175.3 264.4 176.3 267.8 176.4C271.2 176.4 274.6 175.6 277.9 175.2C281.3 174.7 284.7 173.7 288.0 173.7C291.4 173.6 294.8 174.4 298.1 174.9C301.5 175.3 304.9 176.2 308.3 176.4C311.6 176.5 315.0 176.1 318.4 175.8C321.7 175.5 325.1 175.0 328.5 174.6C331.9 174.3 335.2 174.0 338.6 173.8C342.0 173.6 347.0 173.5 348.7 173.4" fill="none" stroke="#111" stroke-width="1.03"/>
<path d="M247.6 62.8C250.0 61.8 256.9 58.3 261.8 56.8C266.6 55.3 270.9 54.7 276.9 53.9C283.0 53.2 291.7 53.3 298.1 52.3C304.6 51.3 309.9 49.1 315.5 47.9C321.2 46.7 326.3 45.6 331.8 45.0C337.3 44.4 345.9 44.4 348.7 44.3M287.0 27.9C287.3 28.6 286.7 29.5 288.5 32.0C290.4 34.6 295.2 39.7 298.1 43.3C301.1 47.0 303.6 50.7 306.5 53.9C309.4 57.2 312.6 60.4 315.5 62.8C318.5 65.3 321.4 67.2 324.4 68.7C327.4 70.1 329.5 71.0 333.5 71.6C337.6 72.2 346.2 72.4 348.7 72.5M302.2 27.9C302.4 28.6 302.4 30.2 303.6 32.0C304.8 33.9 307.3 36.6 309.3 39.0C311.3 41.4 313.0 44.0 315.5 46.4C318.1 48.9 321.7 52.2 324.4 53.9C327.1 55.6 329.3 56.6 331.8 56.8C334.3 57.1 336.5 56.4 339.3 55.4C342.1 54.4 347.1 51.6 348.7 50.8M259.7 27.9C260.1 28.6 260.0 30.2 261.9 32.0C263.7 33.9 267.6 37.1 270.9 39.0C274.1 40.9 277.8 43.3 281.3 43.3C284.7 43.3 288.9 40.9 291.7 39.0C294.5 37.1 296.7 33.9 298.1 32.0C299.6 30.2 299.8 28.6 300.2 27.9M315.3 27.9C315.7 28.6 315.8 30.4 317.4 32.0C318.9 33.7 322.0 35.9 324.4 37.5C326.8 39.2 329.3 41.4 331.8 41.9C334.3 42.4 336.5 41.0 339.3 40.4C342.1 39.8 347.1 38.6 348.7 38.2M247.6 77.1C248.8 76.8 252.3 76.1 254.7 75.2C257.1 74.4 259.4 75.0 261.9 72.0C264.3 68.9 266.8 61.8 269.3 56.8C271.8 51.8 274.8 46.0 276.8 41.9C278.8 37.8 280.2 34.4 281.3 32.0C282.3 29.7 282.7 28.6 283.0 27.9M247.6 36.1C250.0 35.8 258.0 35.1 261.9 34.4C265.7 33.7 269.0 33.1 270.9 32.0C272.7 31.0 272.5 28.6 272.9 27.9M247.6 48.8C249.3 49.1 254.3 50.0 257.7 50.6C261.1 51.2 263.9 51.9 267.8 52.5C271.7 53.1 277.1 53.7 281.3 54.3C285.5 54.9 290.3 55.6 293.1 56.1C295.9 56.6 294.8 56.4 298.1 57.0C301.5 57.6 308.3 59.0 313.3 59.7C318.4 60.5 322.6 61.4 328.5 61.6C334.4 61.7 345.3 60.8 348.7 60.7M247.6 51.5C250.1 52.0 257.2 53.4 262.8 54.3C268.4 55.2 275.4 56.4 281.3 57.0C287.2 57.6 292.0 57.3 298.1 57.9C304.3 58.5 312.5 59.6 318.4 60.7C324.3 61.7 328.5 64.0 333.5 64.3C338.6 64.6 346.2 62.8 348.7 62.5M247.6 63.2C250.4 63.0 258.8 62.1 264.4 61.7C270.0 61.3 277.1 61.1 281.3 60.8C285.5 60.6 286.9 60.3 289.7 60.4C292.5 60.4 293.9 60.7 298.1 61.1C302.4 61.6 309.4 62.6 315.0 63.1C320.6 63.7 327.6 63.9 331.8 64.3C336.0 64.8 337.4 65.6 340.3 65.7C343.1 65.8 347.3 64.9 348.7 64.8M247.6 61.8C250.4 61.5 258.8 60.2 264.4 60.0C270.0 59.7 277.1 60.3 281.3 60.3C285.5 60.2 286.9 59.6 289.7 59.6C292.5 59.6 293.9 59.8 298.1 60.2C302.4 60.7 309.4 62.0 315.0 62.4C320.6 62.9 327.6 62.5 331.8 62.8C336.0 63.1 337.4 64.1 340.3 64.1C343.1 64.0 347.3 62.7 348.7 62.5M247.6 58.3C250.4 58.1 258.8 57.6 264.4 57.4C270.0 57.3 277.1 57.6 281.3 57.5C285.5 57.4 286.9 57.0 289.7 56.9C292.5 56.8 293.9 56.7 298.1 56.9C302.4 57.1 309.4 57.5 315.0 58.0C320.6 58.4 327.6 59.3 331.8 59.6C336.0 60.0 337.4 59.9 340.3 60.0C343.1 60.0 347.3 59.9 348.7 59.9M328.5 27.9C329.3 28.5 331.5 30.6 333.5 31.5C335.6 32.4 338.1 32.9 340.6 33.3C343.1 33.8 347.4 34.1 348.7 34.2M298.1 60.7C299.8 62.8 304.9 69.3 308.3 73.4C311.6 77.5 315.0 81.6 318.4 85.3C321.7 88.9 325.1 92.3 328.5 95.3C331.9 98.3 335.2 101.2 338.6 103.5C342.0 105.8 347.0 108.0 348.7 109.0M300.2 59.7C301.9 61.7 306.9 67.5 310.3 71.6C313.7 75.7 317.0 80.6 320.4 84.4C323.8 88.1 327.1 91.3 330.5 94.4C333.9 97.4 337.6 100.5 340.6 102.6C343.6 104.7 347.4 106.4 348.7 107.1M247.6 108.0C248.6 106.7 251.1 102.9 253.7 99.8C256.2 96.7 260.1 92.8 262.8 89.5C265.5 86.1 267.5 82.3 269.8 80.0C272.2 77.6 275.0 76.1 276.9 75.2C278.8 74.4 277.7 74.8 281.3 74.7C284.8 74.6 292.5 74.2 298.1 74.9C303.8 75.6 309.4 77.8 315.0 78.9C320.6 80.0 326.2 81.0 331.8 81.6C337.4 82.2 345.9 82.4 348.7 82.5M247.6 140.4C250.4 141.3 258.8 144.7 264.4 145.8C270.0 146.9 277.1 146.6 281.3 147.1C285.5 147.5 286.9 148.0 289.7 148.3C292.5 148.7 293.9 150.0 298.1 149.3C302.4 148.6 309.4 145.6 315.0 144.3C320.6 143.1 327.6 142.2 331.8 141.7C336.0 141.3 337.4 141.4 340.3 141.4C343.1 141.4 347.3 141.8 348.7 141.8M247.6 138.9C250.4 139.2 258.8 139.4 264.4 140.6C270.0 141.8 277.1 145.2 281.3 146.0C285.5 146.7 286.9 145.5 289.7 145.3C292.5 145.1 293.9 145.3 298.1 144.7C302.4 144.1 309.4 142.4 315.0 141.5C320.6 140.7 327.6 140.2 331.8 139.5C336.0 138.7 337.4 137.2 340.3 137.0C343.1 136.7 347.3 137.8 348.7 137.9M247.6 136.6C250.4 137.3 258.8 139.9 264.4 140.8C270.0 141.8 277.1 141.8 281.3 142.5C285.5 143.1 286.9 144.7 289.7 144.7C292.5 144.8 293.9 143.3 298.1 142.6C302.4 141.8 309.4 141.4 315.0 140.3C320.6 139.3 327.6 136.6 331.8 136.1C336.0 135.7 337.4 137.5 340.3 137.6C343.1 137.7 347.3 136.8 348.7 136.6M247.6 139.9C249.3 141.6 254.3 146.2 257.7 150.0C261.1 153.8 264.8 158.8 267.8 162.7C270.9 166.7 273.7 170.9 275.9 173.7C278.1 176.4 280.1 178.2 281.0 179.1M272.9 151.8C273.7 153.6 276.2 159.4 277.9 162.7C279.6 166.1 281.3 171.8 283.0 171.8C284.7 171.8 286.4 166.1 288.0 162.7C289.7 159.4 291.4 154.4 293.1 151.8C294.8 149.2 297.3 148.0 298.1 147.2M303.2 150.0C305.2 150.6 312.0 151.8 315.3 153.6C318.7 155.4 320.7 158.5 323.4 160.9C326.1 163.3 328.6 166.4 331.5 168.2C334.4 170.0 337.7 171.5 340.6 171.8C343.5 172.1 347.4 170.3 348.7 170.0M313.3 179.1C315.0 176.7 320.1 169.1 323.4 164.5C326.8 160.0 330.2 154.8 333.5 151.8C336.9 148.7 341.1 147.4 343.6 146.3C346.2 145.3 347.9 145.6 348.7 145.4" fill="none" stroke="#2450a8" stroke-width="0.98"/>
<path d="M247.6 43.4C249.3 43.9 254.3 44.8 257.7 46.6C261.1 48.5 264.4 53.1 267.8 54.4C271.2 55.7 274.6 55.7 277.9 54.5C281.3 53.2 284.7 48.8 288.0 47.0C291.4 45.3 294.8 43.8 298.1 44.0C301.5 44.2 304.9 46.8 308.3 48.3C311.6 49.8 315.0 52.1 318.4 52.8C321.7 53.6 325.1 53.6 328.5 52.8C331.9 52.0 335.2 49.5 338.6 47.9C342.0 46.4 347.0 44.1 348.7 43.4M247.6 37.2C249.3 37.1 254.3 35.5 257.7 36.6C261.1 37.6 264.4 41.4 267.8 43.6C271.2 45.8 274.6 49.3 277.9 49.9C281.3 50.4 284.7 49.0 288.0 47.0C291.4 45.0 294.8 40.2 298.1 37.9C301.5 35.6 304.9 33.3 308.3 33.2C311.6 33.1 315.0 35.6 318.4 37.3C321.7 39.0 325.1 42.5 328.5 43.3C331.9 44.2 335.2 43.6 338.6 42.6C342.0 41.6 347.0 38.1 348.7 37.2M247.6 42.5C249.3 43.2 254.3 47.0 257.7 46.2C261.1 45.3 264.4 40.2 267.8 37.5C271.2 34.8 274.6 31.1 277.9 30.2C281.3 29.2 284.7 30.8 288.0 31.7C291.4 32.6 294.8 34.8 298.1 35.7C301.5 36.6 304.9 37.4 308.3 37.2C311.6 37.0 315.0 35.8 318.4 34.6C321.7 33.4 325.1 30.3 328.5 29.9C331.9 29.5 335.2 30.0 338.6 32.2C342.0 34.3 347.0 40.8 348.7 42.5M247.6 24.3C249.3 24.4 254.3 24.0 257.7 24.5C261.1 24.9 264.4 26.6 267.8 27.1C271.2 27.5 274.6 27.7 277.9 27.1C281.3 26.4 284.7 23.9 288.0 23.4C291.4 22.9 294.8 23.2 298.1 24.0C301.5 24.9 304.9 27.6 308.3 28.4C311.6 29.2 315.0 29.2 318.4 28.8C321.7 28.4 325.1 26.7 328.5 26.1C331.9 25.5 335.2 25.3 338.6 25.1C342.0 24.8 347.0 24.5 348.7 24.3M247.6 19.8C249.3 19.3 254.3 16.5 257.7 16.9C261.1 17.3 264.4 20.0 267.8 22.3C271.2 24.5 274.6 28.4 277.9 30.4C281.3 32.4 284.7 33.7 288.0 34.3C291.4 34.8 294.8 33.9 298.1 33.6C301.5 33.3 304.9 32.7 308.3 32.5C311.6 32.3 315.0 32.8 318.4 32.7C321.7 32.6 325.1 32.9 328.5 32.0C331.9 31.1 335.2 29.2 338.6 27.2C342.0 25.2 347.0 21.0 348.7 19.8M247.6 31.8C249.3 31.8 254.3 32.9 257.7 32.0C261.1 31.0 264.4 28.7 267.8 26.2C271.2 23.7 274.6 18.5 277.9 17.0C281.3 15.4 284.7 15.5 288.0 16.9C291.4 18.3 294.8 22.6 298.1 25.4C301.5 28.2 304.9 31.4 308.3 33.8C311.6 36.1 315.0 38.5 318.4 39.5C321.7 40.6 325.1 41.0 328.5 40.3C331.9 39.5 335.2 36.4 338.6 35.0C342.0 33.6 347.0 32.3 348.7 31.8M247.6 191.0C249.3 191.0 254.3 192.3 257.7 191.2C261.1 190.0 264.4 186.6 267.8 184.0C271.2 181.4 274.6 177.8 277.9 175.6C281.3 173.5 284.7 172.0 288.0 171.0C291.4 170.0 294.8 169.9 298.1 169.6C301.5 169.3 304.9 169.1 308.3 169.2C311.6 169.2 315.0 168.9 318.4 169.8C321.7 170.7 325.1 172.2 328.5 174.4C331.9 176.7 335.2 180.5 338.6 183.3C342.0 186.0 347.0 189.7 348.7 191.0M247.6 186.2C249.3 185.8 254.3 184.7 257.7 184.1C261.1 183.4 264.4 182.2 267.8 182.1C271.2 182.0 274.6 182.4 277.9 183.3C281.3 184.3 284.7 186.8 288.0 187.9C291.4 189.0 294.8 190.5 298.1 190.1C301.5 189.6 304.9 186.9 308.3 185.1C311.6 183.2 315.0 179.7 318.4 178.8C321.7 177.9 325.1 178.6 328.5 179.6C331.9 180.5 335.2 183.4 338.6 184.5C342.0 185.6 347.0 185.9 348.7 186.2M247.6 179.3C249.3 180.1 254.3 182.6 257.7 184.2C261.1 185.9 264.4 188.0 267.8 189.2C271.2 190.3 274.6 191.8 277.9 191.2C281.3 190.5 284.7 188.1 288.0 185.5C291.4 182.8 294.8 177.7 298.1 175.3C301.5 172.9 304.9 171.4 308.3 171.2C311.6 171.0 315.0 173.3 318.4 174.2C321.7 175.0 325.1 175.8 328.5 176.2C331.9 176.6 335.2 176.0 338.6 176.5C342.0 177.0 347.0 178.9 348.7 179.3M247.6 169.6C249.3 169.2 254.3 167.3 257.7 166.8C261.1 166.3 264.4 165.9 267.8 166.7C271.2 167.4 274.6 169.2 277.9 171.5C281.3 173.8 284.7 178.0 288.0 180.6C291.4 183.3 294.8 186.0 298.1 187.2C301.5 188.5 304.9 188.4 308.3 188.3C311.6 188.1 315.0 187.5 318.4 186.5C321.7 185.5 325.1 184.1 328.5 182.3C331.9 180.4 335.2 177.5 338.6 175.4C342.0 173.3 347.0 170.6 348.7 169.6M247.6 173.9C249.3 175.6 254.3 182.5 257.7 184.0C261.1 185.5 264.4 184.0 267.8 183.0C271.2 182.0 274.6 178.6 277.9 177.9C281.3 177.2 284.7 178.3 288.0 178.8C291.4 179.2 294.8 180.9 298.1 180.6C301.5 180.3 304.9 178.7 308.3 176.9C311.6 175.1 315.0 172.2 318.4 170.0C321.7 167.8 325.1 164.8 328.5 163.8C331.9 162.8 335.2 162.2 338.6 163.9C342.0 165.6 347.0 172.3 348.7 173.9M247.6 160.3C249.3 160.8 254.3 161.8 257.7 163.1C261.1 164.5 264.4 166.6 267.8 168.3C271.2 170.1 274.6 171.8 277.9 173.7C281.3 175.5 284.7 177.6 288.0 179.5C291.4 181.4 294.8 183.7 298.1 184.9C301.5 186.0 304.9 187.1 308.3 186.6C311.6 186.2 315.0 184.6 318.4 182.3C321.7 180.0 325.1 175.9 328.5 172.8C331.9 169.7 335.2 165.8 338.6 163.7C342.0 161.6 347.0 160.9 348.7 160.3M247.6 169.6C249.3 170.0 254.3 171.2 257.7 171.9C261.1 172.6 264.4 173.9 267.8 173.9C271.2 173.8 274.6 172.8 277.9 171.6C281.3 170.4 284.7 167.9 288.0 166.8C291.4 165.7 294.8 164.9 298.1 165.0C301.5 165.1 304.9 166.5 308.3 167.3C311.6 168.2 315.0 169.6 318.4 170.1C321.7 170.7 325.1 170.8 328.5 170.7C331.9 170.6 335.2 169.8 338.6 169.7C342.0 169.5 347.0 169.6 348.7 169.6M247.6 172.5C249.3 172.7 254.3 173.0 257.7 173.6C261.1 174.3 264.4 177.1 267.8 176.5C271.2 176.0 274.6 173.6 277.9 170.4C281.3 167.3 284.7 161.0 288.0 157.7C291.4 154.5 294.8 151.8 298.1 151.0C301.5 150.3 304.9 151.7 308.3 153.3C311.6 155.0 315.0 158.2 318.4 161.0C321.7 163.9 325.1 168.1 328.5 170.3C331.9 172.5 335.2 174.0 338.6 174.3C342.0 174.7 347.0 172.8 348.7 172.5M247.6 169.6C249.3 169.0 254.3 167.4 257.7 165.7C261.1 164.0 264.4 161.4 267.8 159.6C271.2 157.9 274.6 156.0 277.9 155.4C281.3 154.8 284.7 156.2 288.0 156.1C291.4 156.0 294.8 155.6 298.1 154.8C301.5 154.0 304.9 151.1 308.3 151.3C311.6 151.4 315.0 153.3 318.4 155.9C321.7 158.5 325.1 164.3 328.5 166.9C331.9 169.5 335.2 171.2 338.6 171.7C342.0 172.1 347.0 170.0 348.7 169.6M247.6 148.5C249.3 149.8 254.3 153.6 257.7 156.3C261.1 159.1 264.4 163.4 267.8 165.0C271.2 166.6 274.6 166.3 277.9 165.8C281.3 165.2 284.7 162.8 288.0 161.8C291.4 160.8 294.8 159.9 298.1 159.8C301.5 159.8 304.9 160.9 308.3 161.4C311.6 161.9 315.0 163.3 318.4 162.8C321.7 162.4 325.1 160.8 328.5 158.8C331.9 156.8 335.2 152.5 338.6 150.7C342.0 149.0 347.0 148.9 348.7 148.5M247.6 151.3C249.3 151.7 254.3 153.2 257.7 153.9C261.1 154.6 264.4 155.3 267.8 155.6C271.2 155.8 274.6 155.5 277.9 155.6C281.3 155.7 284.7 156.1 288.0 156.2C291.4 156.2 294.8 156.3 298.1 155.8C301.5 155.3 304.9 153.8 308.3 153.1C311.6 152.4 315.0 151.7 318.4 151.5C321.7 151.2 325.1 151.6 328.5 151.5C331.9 151.4 335.2 150.9 338.6 150.9C342.0 150.8 347.0 151.2 348.7 151.3M247.6 149.3C249.3 149.4 254.3 150.4 257.7 149.8C261.1 149.2 264.4 146.5 267.8 145.8C271.2 145.1 274.6 144.6 277.9 145.6C281.3 146.6 284.7 149.9 288.0 151.8C291.4 153.7 294.8 155.4 298.1 157.1C301.5 158.8 304.9 160.5 308.3 161.9C311.6 163.3 315.0 165.8 318.4 165.6C321.7 165.3 325.1 162.8 328.5 160.4C331.9 157.9 335.2 152.9 338.6 151.1C342.0 149.2 347.0 149.6 348.7 149.3M247.6 148.1C249.3 148.2 254.3 149.2 257.7 148.9C261.1 148.5 264.4 146.3 267.8 145.8C271.2 145.2 274.6 144.5 277.9 145.6C281.3 146.7 284.7 150.3 288.0 152.6C291.4 154.9 294.8 158.0 298.1 159.4C301.5 160.8 304.9 161.1 308.3 160.9C311.6 160.8 315.0 159.7 318.4 158.3C321.7 156.9 325.1 154.4 328.5 152.7C331.9 150.9 335.2 148.5 338.6 147.8C342.0 147.0 347.0 148.0 348.7 148.1M247.6 176.4C249.3 176.5 254.3 176.2 257.7 176.9C261.1 177.5 264.4 179.3 267.8 180.1C271.2 181.0 274.6 182.0 277.9 182.0C281.3 181.9 284.7 180.8 288.0 179.9C291.4 179.0 294.8 177.6 298.1 176.5C301.5 175.4 304.9 174.2 308.3 173.3C311.6 172.5 315.0 171.4 318.4 171.4C321.7 171.4 325.1 172.3 328.5 173.1C331.9 173.8 335.2 175.5 338.6 176.0C342.0 176.6 347.0 176.3 348.7 176.4M247.6 166.3C249.3 166.8 254.3 168.2 257.7 169.3C261.1 170.5 264.4 172.5 267.8 173.3C271.2 174.1 274.6 174.2 277.9 174.2C281.3 174.1 284.7 173.5 288.0 172.9C291.4 172.4 294.8 171.7 298.1 170.9C301.5 170.1 304.9 168.8 308.3 168.0C311.6 167.3 315.0 166.6 318.4 166.4C321.7 166.2 325.1 166.7 328.5 166.8C331.9 166.8 335.2 166.5 338.6 166.5C342.0 166.4 347.0 166.3 348.7 166.3M247.6 166.0C249.3 166.3 254.3 167.2 257.7 167.7C261.1 168.3 264.4 169.1 267.8 169.4C271.2 169.6 274.6 169.2 277.9 169.1C281.3 168.9 284.7 168.6 288.0 168.3C291.4 168.0 294.8 167.9 298.1 167.4C301.5 166.9 304.9 165.9 308.3 165.4C311.6 164.9 315.0 164.3 318.4 164.2C321.7 164.2 325.1 164.8 328.5 165.0C331.9 165.2 335.2 165.4 338.6 165.6C342.0 165.8 347.0 165.9 348.7 166.0M247.6 171.5C249.3 171.1 254.3 170.3 257.7 169.3C261.1 168.3 264.4 166.3 267.8 165.3C271.2 164.3 274.6 163.6 277.9 163.2C281.3 162.8 284.7 162.8 288.0 162.8C291.4 162.7 294.8 162.5 298.1 162.7C301.5 162.9 304.9 163.5 308.3 164.1C311.6 164.6 315.0 165.6 318.4 166.2C321.7 166.9 325.1 167.4 328.5 168.1C331.9 168.7 335.2 169.6 338.6 170.2C342.0 170.8 347.0 171.3 348.7 171.5" fill="none" stroke="#2450a8" stroke-width="1.03"/>
<path d="M247.6 80.9C250.4 80.4 258.8 79.0 264.4 78.0C270.0 76.9 277.1 75.2 281.3 74.7C285.5 74.1 286.9 74.6 289.7 74.7C292.5 74.8 293.9 74.7 298.1 75.2C302.4 75.8 309.4 77.2 315.0 78.0C320.6 78.7 327.6 79.3 331.8 79.8C336.0 80.3 337.4 80.7 340.3 81.1C343.1 81.4 347.3 81.7 348.7 81.8M247.6 82.9C250.4 82.4 258.8 81.0 264.4 79.8C270.0 78.6 277.1 76.5 281.3 75.8C285.5 75.1 286.9 75.7 289.7 75.8C292.5 75.9 293.9 75.8 298.1 76.5C302.4 77.2 309.4 79.2 315.0 80.2C320.6 81.1 327.6 81.6 331.8 82.2C336.0 82.7 337.4 83.0 340.3 83.3C343.1 83.5 347.3 83.7 348.7 83.8M247.6 85.8C250.4 85.3 258.8 83.7 264.4 82.5C270.0 81.4 277.1 79.5 281.3 78.9C285.5 78.3 286.9 78.8 289.7 78.9C292.5 79.0 293.9 79.0 298.1 79.6C302.4 80.2 309.4 81.7 315.0 82.5C320.6 83.4 327.6 84.2 331.8 84.7C336.0 85.2 337.4 85.4 340.3 85.6C343.1 85.8 347.3 85.8 348.7 85.8M247.6 87.8C250.4 87.3 258.8 86.1 264.4 84.9C270.0 83.7 277.1 81.6 281.3 80.9C285.5 80.2 286.9 80.8 289.7 80.9C292.5 81.0 293.9 81.0 298.1 81.6C302.4 82.3 309.4 83.9 315.0 84.7C320.6 85.5 327.6 86.1 331.8 86.5C336.0 87.0 337.4 87.2 340.3 87.5C343.1 87.7 347.3 87.8 348.7 87.8M247.6 89.8C250.4 89.5 258.8 88.5 264.4 87.6C270.0 86.8 277.1 85.4 281.3 84.9C285.5 84.4 286.9 84.3 289.7 84.4C292.5 84.4 293.9 84.8 298.1 85.3C302.4 85.7 309.4 86.5 315.0 87.1C320.6 87.7 327.6 88.5 331.8 88.9C336.0 89.4 337.4 89.7 340.3 89.8C343.1 90.0 347.3 89.8 348.7 89.8" fill="none" stroke="#2450a8" stroke-width="0.8"/>
<line x1="247.6" y1="104.4" x2="348.7" y2="104.4" stroke="#e04a40" stroke-width="0.9" stroke-dasharray="3 2"/>
</g>
<rect x="247.6" y="31.5" width="101.1" height="145.8" fill="none" stroke="#666" stroke-width="1"/>
<text x="247.6" y="184.9" class="k">Γ</text>
<text x="281.3" y="184.9" class="k">F</text>
<text x="298.1" y="184.9" class="k">Q</text>
<text x="331.8" y="184.9" class="k">Z</text>
<text x="348.7" y="184.9" class="k">Γ</text>
<clipPath id="c03"><rect x="353.5" y="31.5" width="101.3" height="145.8"/></clipPath>
<g clip-path="url(#c03)">
<line x1="387.2" y1="31.5" x2="387.2" y2="177.3" stroke="#aaa" stroke-width="0.6" stroke-dasharray="1.5 2"/>
<line x1="404.1" y1="31.5" x2="404.1" y2="177.3" stroke="#aaa" stroke-width="0.6" stroke-dasharray="1.5 2"/>
<line x1="437.9" y1="31.5" x2="437.9" y2="177.3" stroke="#aaa" stroke-width="0.6" stroke-dasharray="1.5 2"/>
<path d="M353.5 42.4C355.9 42.6 362.1 43.4 367.7 43.3C373.3 43.3 381.2 42.1 387.2 41.9C393.3 41.6 398.4 41.6 404.1 41.9C409.9 42.1 416.0 43.3 421.6 43.3C427.2 43.3 432.3 42.1 437.9 41.9C443.4 41.6 452.0 41.9 454.8 41.9M353.5 65.6C355.9 65.1 363.5 63.6 367.7 62.5C371.9 61.4 375.6 59.8 378.8 58.8C382.1 57.9 384.1 58.0 387.2 56.7C390.4 55.3 394.8 52.3 397.7 50.6C400.5 48.9 401.7 46.1 404.1 46.4C406.6 46.7 409.7 50.2 412.6 52.5C415.5 54.7 418.6 57.5 421.6 59.7C424.6 62.0 427.8 64.9 430.5 66.1C433.2 67.3 435.2 67.0 437.9 67.0C440.6 67.0 443.9 66.4 446.7 66.1C449.5 65.8 453.4 65.4 454.8 65.2M353.5 60.7C355.9 60.1 362.1 58.3 367.7 57.0C373.3 55.7 382.2 54.1 387.2 53.0C392.2 51.9 394.8 51.2 397.7 50.6C400.5 50.0 401.7 48.8 404.1 49.4C406.6 50.0 409.7 52.7 412.6 54.3C415.5 55.9 418.6 57.6 421.6 58.8C424.6 60.1 427.5 61.0 430.5 61.6C433.5 62.2 435.6 62.6 439.6 62.5C443.7 62.3 452.3 61.0 454.8 60.7M353.5 54.3C355.9 54.0 363.5 52.9 367.7 52.5C371.9 52.0 375.6 51.4 378.8 51.5C382.1 51.7 383.9 52.9 387.2 53.4C390.6 53.8 396.3 54.3 399.1 54.3C401.9 54.3 401.6 53.8 404.1 53.4C406.7 52.9 410.1 51.4 414.3 51.5C418.5 51.7 424.4 53.4 429.5 54.3C434.5 55.2 440.4 56.7 444.7 57.0C448.9 57.3 453.1 56.3 454.8 56.1M418.3 27.9C418.8 28.6 419.3 30.6 421.4 32.4C423.4 34.2 427.7 37.0 430.5 38.8C433.2 40.6 435.2 43.3 437.9 43.3C440.6 43.3 443.9 40.5 446.7 38.8C449.5 37.1 453.4 34.2 454.8 33.3M353.5 78.9C354.9 77.7 358.9 74.9 361.6 71.6C364.3 68.3 367.2 63.1 369.7 58.8C372.2 54.6 374.8 50.0 376.8 46.1C378.8 42.1 380.7 38.2 381.9 35.1C383.0 32.1 383.6 29.1 383.9 27.9M353.5 34.2C355.2 34.5 360.3 35.9 363.6 36.1C367.0 36.2 370.4 35.9 373.8 35.1C377.1 34.4 381.7 32.7 383.9 31.5C386.1 30.3 386.4 28.5 386.9 27.9M353.5 73.8C356.3 73.6 364.7 73.3 370.4 72.5C376.0 71.7 383.0 69.5 387.2 68.9C391.5 68.3 392.9 68.7 395.7 68.9C398.5 69.0 399.9 68.7 404.1 69.8C408.4 70.8 415.4 73.6 421.0 75.2C426.6 76.9 433.7 78.9 437.9 79.8C442.1 80.7 443.5 80.6 446.3 80.7C449.2 80.9 453.4 80.7 454.8 80.7M404.1 60.7C405.8 62.2 411.4 67.0 414.3 69.8C417.2 72.5 418.8 74.5 421.4 77.1C423.9 79.6 426.8 82.8 429.5 85.3C432.2 87.7 434.7 89.5 437.6 91.6C440.4 93.8 443.8 96.0 446.7 98.0C449.6 100.0 453.4 102.6 454.8 103.5M402.1 58.8C403.8 60.4 409.0 65.2 412.3 68.0C415.5 70.7 418.5 72.7 421.4 75.2C424.2 77.8 426.8 81.0 429.5 83.4C432.2 85.9 434.7 87.7 437.6 89.8C440.4 91.9 443.8 94.4 446.7 96.2C449.6 98.0 453.4 100.0 454.8 100.8M353.5 99.8C354.5 98.8 357.0 96.0 359.6 93.5C362.1 90.9 366.0 87.4 368.7 84.4C371.4 81.3 372.7 78.6 375.8 75.2C378.9 71.9 382.5 66.4 387.2 64.3C392.0 62.2 399.6 62.6 404.1 62.5C408.7 62.3 410.1 62.8 414.3 63.4C418.5 64.0 424.4 65.4 429.5 66.1C434.5 66.9 440.4 67.6 444.7 68.0C448.9 68.3 453.1 68.0 454.8 68.0M353.5 100.8C356.3 100.8 364.7 100.7 370.4 100.8C376.0 100.8 383.0 100.9 387.2 100.9C391.5 100.9 392.9 100.8 395.7 100.8C398.5 100.7 399.9 100.8 404.1 100.8C408.4 100.7 415.4 100.6 421.0 100.6C426.6 100.5 433.7 100.4 437.9 100.4C442.1 100.4 443.5 100.7 446.3 100.8C449.2 100.8 453.4 100.8 454.8 100.8M353.5 101.8C356.3 101.9 364.7 102.0 370.4 102.0C376.0 102.1 383.0 102.2 387.2 102.2C391.5 102.2 392.9 102.1 395.7 102.0C398.5 102.0 399.9 101.8 404.1 101.8C408.4 101.8 415.4 102.0 421.0 102.0C426.6 102.1 433.7 102.2 437.9 102.2C442.1 102.2 443.5 102.1 446.3 102.0C449.2 102.0 453.4 101.9 454.8 101.8M353.5 105.3C356.3 105.5 364.7 106.2 370.4 106.6C376.0 107.0 383.0 107.6 387.2 107.7C391.5 107.8 392.9 107.4 395.7 107.3C398.5 107.2 399.9 107.3 404.1 107.0C408.4 106.6 415.4 105.4 421.0 105.3C426.6 105.2 433.7 106.3 437.9 106.2C442.1 106.1 443.5 104.9 446.3 104.8C449.2 104.6 453.4 105.2 454.8 105.3M353.5 122.6C356.3 122.0 364.7 120.2 370.4 119.0C376.0 117.8 383.0 115.9 387.2 115.3C391.5 114.7 392.9 115.3 395.7 115.3C398.5 115.4 399.9 115.1 404.1 115.7C408.4 116.3 415.4 118.1 421.0 119.0C426.6 119.8 433.7 120.3 437.9 120.8C442.1 121.3 443.5 121.4 446.3 121.7C449.2 122.0 453.4 122.5 454.8 122.6M353.5 123.5C356.3 123.2 364.7 122.3 370.4 121.7C376.0 121.2 383.0 120.5 387.2 120.3C391.5 120.0 392.9 120.1 395.7 120.1C398.5 120.1 399.9 119.8 404.1 120.3C408.4 120.7 415.4 121.9 421.0 122.6C426.6 123.3 433.7 123.8 437.9 124.4C442.1 125.1 443.5 125.8 446.3 126.3C449.2 126.7 453.4 127.0 454.8 127.2M353.5 145.9C356.3 146.7 364.7 149.0 370.4 150.6C376.0 152.3 383.0 154.8 387.2 155.9C391.5 156.9 392.9 156.6 395.7 156.8C398.5 156.9 399.9 158.2 404.1 156.9C408.4 155.6 415.4 150.8 421.0 149.1C426.6 147.3 433.7 146.8 437.9 146.2C442.1 145.6 443.5 145.9 446.3 145.3C449.2 144.8 453.4 143.5 454.8 143.1M353.5 143.7C356.3 144.5 364.7 146.7 370.4 148.7C376.0 150.6 383.0 154.6 387.2 155.4C391.5 156.1 392.9 153.7 395.7 153.2C398.5 152.8 399.9 153.4 404.1 152.5C408.4 151.7 415.4 149.7 421.0 148.1C426.6 146.5 433.7 143.9 437.9 142.9C442.1 141.9 443.5 142.0 446.3 142.2C449.2 142.4 453.4 143.7 454.8 144.0M353.5 142.3C356.3 143.3 364.7 147.0 370.4 148.5C376.0 150.0 383.0 150.8 387.2 151.4C391.5 151.9 392.9 151.8 395.7 151.8C398.5 151.7 399.9 152.2 404.1 151.1C408.4 150.0 415.4 146.8 421.0 145.1C426.6 143.5 433.7 142.0 437.9 141.1C442.1 140.1 443.5 139.5 446.3 139.5C449.2 139.6 453.4 140.8 454.8 141.1M353.5 142.7C355.5 144.6 361.9 150.6 365.7 154.5C369.4 158.5 372.7 162.7 375.8 166.4C378.8 170.0 381.9 174.3 383.9 176.4C385.9 178.5 387.3 178.7 387.9 179.1M404.1 151.8C405.5 153.0 409.4 156.6 412.3 159.1C415.1 161.5 418.5 164.2 421.4 166.4C424.2 168.5 426.8 170.5 429.5 171.8C432.2 173.2 433.4 173.8 437.6 174.6C441.8 175.3 451.9 176.1 454.8 176.4M414.3 179.1C416.0 177.0 421.0 170.6 424.4 166.4C427.8 162.1 431.2 156.9 434.5 153.6C437.9 150.3 441.3 147.8 444.7 146.3C448.0 144.8 453.1 144.8 454.8 144.5" fill="none" stroke="#111" stroke-width="0.98"/>
<path d="M353.5 49.0C355.2 48.7 360.3 47.0 363.6 47.0C367.0 47.1 370.4 48.7 373.8 49.6C377.1 50.4 380.5 51.7 383.9 52.2C387.3 52.7 390.6 52.1 394.0 52.5C397.4 52.9 400.8 54.3 404.1 54.7C407.5 55.2 410.9 56.0 414.3 55.2C417.7 54.4 421.0 51.2 424.4 49.9C427.8 48.5 431.2 47.1 434.5 47.0C437.9 46.9 441.3 49.0 444.7 49.4C448.0 49.7 453.1 49.1 454.8 49.0M353.5 46.8C355.2 45.8 360.3 41.9 363.6 40.7C367.0 39.5 370.4 39.6 373.8 39.7C377.1 39.8 380.5 41.4 383.9 41.4C387.3 41.4 390.6 40.4 394.0 39.6C397.4 38.8 400.8 36.5 404.1 36.6C407.5 36.7 410.9 38.2 414.3 40.4C417.7 42.6 421.0 47.1 424.4 49.6C427.8 52.0 431.2 54.6 434.5 55.2C437.9 55.8 441.3 54.8 444.7 53.4C448.0 52.0 453.1 47.9 454.8 46.8M353.5 40.6C355.2 40.7 360.3 42.2 363.6 41.2C367.0 40.2 370.4 36.1 373.8 34.7C377.1 33.3 380.5 32.5 383.9 32.8C387.3 33.2 390.6 35.4 394.0 36.8C397.4 38.2 400.8 39.8 404.1 41.4C407.5 43.1 410.9 45.6 414.3 46.5C417.7 47.5 421.0 48.2 424.4 47.0C427.8 45.9 431.2 41.4 434.5 39.6C437.9 37.7 441.3 35.6 444.7 35.8C448.0 36.0 453.1 39.8 454.8 40.6M353.5 32.0C355.2 33.8 360.3 40.0 363.6 42.3C367.0 44.7 370.4 46.3 373.8 46.1C377.1 46.0 380.5 44.0 383.9 41.3C387.3 38.6 390.6 33.6 394.0 30.0C397.4 26.5 400.8 21.6 404.1 20.1C407.5 18.6 410.9 19.9 414.3 21.1C417.7 22.4 421.0 26.5 424.4 27.5C427.8 28.5 431.2 27.6 434.5 27.3C437.9 26.9 441.3 24.5 444.7 25.3C448.0 26.1 453.1 30.9 454.8 32.0M353.5 23.0C355.2 23.6 360.3 25.7 363.6 26.6C367.0 27.5 370.4 28.0 373.8 28.3C377.1 28.6 380.5 28.2 383.9 28.3C387.3 28.5 390.6 28.6 394.0 29.2C397.4 29.7 400.8 31.0 404.1 31.5C407.5 32.0 410.9 32.8 414.3 32.4C417.7 32.0 421.0 30.6 424.4 29.1C427.8 27.6 431.2 25.0 434.5 23.6C437.9 22.3 441.3 21.1 444.7 21.0C448.0 20.9 453.1 22.7 454.8 23.0M353.5 26.8C355.2 27.0 360.3 28.5 363.6 28.0C367.0 27.6 370.4 24.9 373.8 23.9C377.1 22.9 380.5 21.7 383.9 22.0C387.3 22.4 390.6 24.9 394.0 26.2C397.4 27.5 400.8 29.6 404.1 29.6C407.5 29.7 410.9 28.0 414.3 26.4C417.7 24.7 421.0 21.3 424.4 19.7C427.8 18.2 431.2 16.8 434.5 16.9C437.9 17.1 441.3 19.1 444.7 20.7C448.0 22.4 453.1 25.8 454.8 26.8M353.5 171.6C355.2 171.6 360.3 170.0 363.6 172.0C367.0 174.0 370.4 180.3 373.8 183.6C377.1 186.9 380.5 190.5 383.9 191.9C387.3 193.2 390.6 192.1 394.0 191.6C397.4 191.2 400.8 189.6 404.1 189.1C407.5 188.6 410.9 188.3 414.3 188.5C417.7 188.6 421.0 189.9 424.4 190.2C427.8 190.5 431.2 191.7 434.5 190.4C437.9 189.1 441.3 185.6 444.7 182.5C448.0 179.4 453.1 173.4 454.8 171.6M353.5 172.5C355.2 173.3 360.3 176.6 363.6 177.5C367.0 178.4 370.4 177.5 373.8 177.9C377.1 178.3 380.5 178.1 383.9 179.8C387.3 181.6 390.6 186.4 394.0 188.4C397.4 190.4 400.8 193.2 404.1 191.9C407.5 190.6 410.9 184.8 414.3 180.5C417.7 176.1 421.0 168.9 424.4 165.7C427.8 162.5 431.2 161.2 434.5 161.2C437.9 161.2 441.3 163.7 444.7 165.6C448.0 167.5 453.1 171.4 454.8 172.5M353.5 177.1C355.2 178.3 360.3 181.9 363.6 183.9C367.0 186.0 370.4 188.8 373.8 189.4C377.1 190.0 380.5 188.4 383.9 187.6C387.3 186.7 390.6 185.0 394.0 184.2C397.4 183.5 400.8 183.2 404.1 183.2C407.5 183.3 410.9 183.8 414.3 184.5C417.7 185.2 421.0 187.1 424.4 187.4C427.8 187.7 431.2 187.7 434.5 186.4C437.9 185.1 441.3 181.0 444.7 179.5C448.0 178.0 453.1 177.5 454.8 177.1M353.5 183.1C355.2 182.9 360.3 182.0 363.6 181.8C367.0 181.6 370.4 181.9 373.8 181.8C377.1 181.6 380.5 181.7 383.9 181.0C387.3 180.4 390.6 179.0 394.0 177.8C397.4 176.6 400.8 174.7 404.1 173.9C407.5 173.0 410.9 172.3 414.3 172.6C417.7 172.9 421.0 174.2 424.4 175.5C427.8 176.9 431.2 179.3 434.5 180.7C437.9 182.1 441.3 183.3 444.7 183.7C448.0 184.1 453.1 183.2 454.8 183.1M353.5 167.2C355.2 168.6 360.3 172.8 363.6 175.3C367.0 177.9 370.4 181.4 373.8 182.4C377.1 183.5 380.5 182.3 383.9 181.8C387.3 181.2 390.6 179.6 394.0 179.1C397.4 178.6 400.8 178.9 404.1 179.0C407.5 179.1 410.9 179.7 414.3 179.7C417.7 179.8 421.0 180.1 424.4 179.3C427.8 178.6 431.2 177.2 434.5 175.3C437.9 173.5 441.3 169.7 444.7 168.4C448.0 167.0 453.1 167.4 454.8 167.2M353.5 182.6C355.2 182.6 360.3 183.0 363.6 182.1C367.0 181.2 370.4 178.5 373.8 177.1C377.1 175.8 380.5 175.0 383.9 174.3C387.3 173.5 390.6 172.6 394.0 172.8C397.4 173.0 400.8 174.4 404.1 175.3C407.5 176.2 410.9 178.6 414.3 178.1C417.7 177.6 421.0 174.4 424.4 172.4C427.8 170.5 431.2 166.3 434.5 166.4C437.9 166.5 441.3 170.3 444.7 173.0C448.0 175.7 453.1 181.0 454.8 182.6M353.5 170.9C355.2 171.1 360.3 172.3 363.6 172.1C367.0 171.8 370.4 170.0 373.8 169.5C377.1 169.0 380.5 168.6 383.9 169.1C387.3 169.5 390.6 171.3 394.0 172.4C397.4 173.5 400.8 174.9 404.1 175.5C407.5 176.0 410.9 176.2 414.3 175.8C417.7 175.4 421.0 174.2 424.4 172.9C427.8 171.7 431.2 169.4 434.5 168.5C437.9 167.6 441.3 167.2 444.7 167.6C448.0 168.0 453.1 170.4 454.8 170.9M353.5 161.2C355.2 163.2 360.3 169.7 363.6 172.8C367.0 175.9 370.4 178.7 373.8 179.7C377.1 180.7 380.5 179.2 383.9 179.0C387.3 178.7 390.6 178.7 394.0 178.2C397.4 177.7 400.8 177.8 404.1 176.1C407.5 174.5 410.9 170.9 414.3 168.4C417.7 165.9 421.0 162.7 424.4 160.9C427.8 159.1 431.2 158.2 434.5 157.4C437.9 156.6 441.3 155.5 444.7 156.2C448.0 156.8 453.1 160.4 454.8 161.2M353.5 164.0C355.2 163.1 360.3 160.2 363.6 158.6C367.0 157.0 370.4 155.3 373.8 154.5C377.1 153.7 380.5 153.1 383.9 153.8C387.3 154.6 390.6 156.9 394.0 159.0C397.4 161.1 400.8 164.4 404.1 166.3C407.5 168.2 410.9 169.3 414.3 170.2C417.7 171.1 421.0 171.3 424.4 171.6C427.8 172.0 431.2 172.5 434.5 172.2C437.9 171.8 441.3 170.9 444.7 169.5C448.0 168.2 453.1 164.9 454.8 164.0M353.5 168.3C355.2 168.9 360.3 171.5 363.6 172.1C367.0 172.7 370.4 173.3 373.8 171.9C377.1 170.6 380.5 166.6 383.9 163.9C387.3 161.1 390.6 157.5 394.0 155.5C397.4 153.5 400.8 152.8 404.1 151.9C407.5 151.0 410.9 150.0 414.3 150.0C417.7 149.9 421.0 150.2 424.4 151.7C427.8 153.2 431.2 156.7 434.5 158.9C437.9 161.1 441.3 163.5 444.7 165.1C448.0 166.7 453.1 167.8 454.8 168.3M353.5 160.9C355.2 161.1 360.3 162.7 363.6 162.2C367.0 161.7 370.4 159.6 373.8 157.9C377.1 156.2 380.5 152.8 383.9 152.0C387.3 151.3 390.6 152.1 394.0 153.3C397.4 154.5 400.8 157.9 404.1 159.4C407.5 160.8 410.9 161.8 414.3 162.1C417.7 162.4 421.0 161.6 424.4 161.2C427.8 160.8 431.2 160.1 434.5 159.8C437.9 159.4 441.3 159.0 444.7 159.2C448.0 159.4 453.1 160.6 454.8 160.9M353.5 159.7C355.2 158.7 360.3 155.0 363.6 153.9C367.0 152.8 370.4 152.9 373.8 153.1C377.1 153.3 380.5 154.3 383.9 155.1C387.3 155.9 390.6 157.0 394.0 157.9C397.4 158.9 400.8 160.9 404.1 160.7C407.5 160.6 410.9 158.7 414.3 156.9C417.7 155.1 421.0 150.6 424.4 150.0C427.8 149.3 431.2 151.1 434.5 152.9C437.9 154.8 441.3 159.7 444.7 160.9C448.0 162.0 453.1 159.9 454.8 159.7M353.5 153.9C355.2 155.5 360.3 160.2 363.6 163.3C367.0 166.4 370.4 170.4 373.8 172.7C377.1 174.9 380.5 176.7 383.9 177.0C387.3 177.3 390.6 175.3 394.0 174.2C397.4 173.1 400.8 171.1 404.1 170.3C407.5 169.4 410.9 170.1 414.3 169.3C417.7 168.4 421.0 167.4 424.4 165.1C427.8 162.9 431.2 158.1 434.5 155.6C437.9 153.1 441.3 150.2 444.7 150.0C448.0 149.7 453.1 153.3 454.8 153.9M353.5 175.1C355.2 174.8 360.3 173.4 363.6 173.0C367.0 172.6 370.4 172.1 373.8 172.6C377.1 173.0 380.5 174.6 383.9 175.6C387.3 176.7 390.6 178.5 394.0 178.8C397.4 179.1 400.8 178.2 404.1 177.5C407.5 176.9 410.9 175.3 414.3 175.0C417.7 174.7 421.0 175.5 424.4 175.9C427.8 176.4 431.2 177.6 434.5 177.8C437.9 178.0 441.3 177.7 444.7 177.2C448.0 176.8 453.1 175.5 454.8 175.1M353.5 167.3C355.2 167.5 360.3 168.7 363.6 168.7C367.0 168.7 370.4 167.8 373.8 167.3C377.1 166.7 380.5 165.7 383.9 165.3C387.3 165.0 390.6 165.3 394.0 165.3C397.4 165.3 400.8 165.4 404.1 165.4C407.5 165.5 410.9 165.3 414.3 165.5C417.7 165.7 421.0 166.3 424.4 166.5C427.8 166.8 431.2 166.9 434.5 166.9C437.9 166.8 441.3 166.2 444.7 166.3C448.0 166.3 453.1 167.1 454.8 167.3" fill="none" stroke="#111" stroke-width="1.03"/>
<path d="M353.5 47.9C355.9 47.4 362.1 45.7 367.7 45.0C373.3 44.2 382.2 43.3 387.2 43.3C392.2 43.3 394.8 44.2 397.7 45.0C400.5 45.7 401.4 47.1 404.1 47.9C406.9 48.7 410.1 49.1 414.3 49.7C418.5 50.3 424.4 51.4 429.5 51.5C434.5 51.7 440.4 50.9 444.7 50.6C448.9 50.3 453.1 49.9 454.8 49.7M353.5 64.3C355.9 63.7 363.5 61.9 367.7 60.7C371.9 59.4 375.6 57.9 378.8 57.0C382.1 56.1 384.1 56.2 387.2 55.2C390.4 54.2 394.8 52.4 397.7 51.2C400.5 50.0 401.7 47.5 404.1 47.9C406.6 48.3 409.7 51.1 412.6 53.4C415.5 55.6 418.9 59.1 421.6 61.6C424.2 64.0 426.3 66.6 428.5 68.0C430.6 69.3 433.5 69.5 434.5 69.8M353.5 58.8C355.9 58.2 362.1 56.3 367.7 55.2C373.3 54.1 381.2 53.1 387.2 52.5C393.3 51.9 398.4 50.9 404.1 51.5C409.9 52.2 416.0 54.9 421.6 56.1C427.2 57.3 432.3 58.5 437.9 58.8C443.4 59.1 452.0 58.1 454.8 57.9M353.5 56.1C355.9 55.6 362.1 54.3 367.7 53.4C373.3 52.5 381.2 50.6 387.2 50.6C393.3 50.6 399.6 52.3 404.1 53.4C408.7 54.4 409.9 55.8 414.3 57.0C418.7 58.2 425.4 60.2 430.5 60.7C435.6 61.1 440.6 60.1 444.7 59.7C448.7 59.4 453.1 59.0 454.8 58.8M365.7 27.9C366.2 28.6 366.5 30.7 368.7 32.0C370.9 33.4 375.7 35.2 378.8 36.1C381.9 36.9 384.1 37.3 387.2 37.3C390.4 37.3 394.8 36.9 397.7 36.1C400.5 35.2 402.7 33.4 404.1 32.0C405.6 30.7 405.8 28.6 406.2 27.9M420.4 27.9C420.7 28.6 420.7 30.4 422.4 32.0C424.1 33.7 427.9 35.9 430.5 37.5C433.1 39.2 435.4 41.9 437.9 41.9C440.4 41.9 442.9 39.2 445.4 37.5C447.9 35.9 451.2 33.4 452.8 32.0C454.3 30.7 454.5 30.1 454.8 29.7M353.5 73.4C354.7 72.5 358.1 70.7 360.6 68.0C363.1 65.2 366.2 61.0 368.7 57.0C371.2 53.1 373.8 48.2 375.8 44.3C377.8 40.3 379.7 36.1 380.9 33.3C382.0 30.6 382.5 28.8 382.9 27.9M392.0 27.9C393.2 29.4 397.1 34.7 399.1 37.0C401.1 39.2 401.9 40.3 404.1 41.5C406.4 42.7 409.7 43.2 412.6 44.3C415.5 45.3 418.6 47.0 421.6 47.9C424.6 48.8 427.5 49.1 430.5 49.7C433.5 50.3 435.6 51.4 439.6 51.5C443.7 51.7 452.3 50.8 454.8 50.6M353.5 37.0C355.2 37.4 360.3 39.1 363.6 39.7C367.0 40.3 370.4 40.9 373.8 40.6C377.1 40.3 380.9 39.2 383.9 37.9C386.9 36.5 390.3 34.1 392.0 32.4C393.7 30.7 393.7 28.6 394.0 27.9M406.2 61.6C407.9 63.7 412.9 70.2 416.3 74.3C419.7 78.4 423.4 82.7 426.4 86.2C429.5 89.7 431.5 92.4 434.5 95.3C437.6 98.2 441.3 101.2 444.7 103.5C448.0 105.8 453.1 108.0 454.8 109.0M353.5 103.5C354.5 102.3 357.0 99.1 359.6 96.2C362.1 93.3 366.0 88.8 368.7 86.2C371.4 83.6 373.4 82.4 375.8 80.7C378.1 79.0 381.0 77.1 382.9 76.2C384.8 75.2 383.7 75.0 387.2 74.9C390.8 74.7 398.5 74.4 404.1 75.2C409.8 76.1 415.4 78.4 421.1 79.8C426.7 81.2 432.3 82.7 437.9 83.4C443.5 84.2 452.0 84.2 454.8 84.4M353.5 138.6C356.3 139.5 364.7 142.0 370.4 144.2C376.0 146.4 383.0 150.7 387.2 151.8C391.5 152.9 392.9 151.1 395.7 150.9C398.5 150.8 399.9 152.0 404.1 150.7C408.4 149.4 415.4 144.8 421.0 143.0C426.6 141.3 433.7 140.8 437.9 140.0C442.1 139.3 443.5 138.7 446.3 138.6C449.2 138.5 453.4 139.4 454.8 139.5M353.5 138.5C356.3 139.3 364.7 141.7 370.4 143.3C376.0 145.0 383.0 148.0 387.2 148.6C391.5 149.2 392.9 147.1 395.7 147.0C398.5 146.8 399.9 148.5 404.1 147.6C408.4 146.7 415.4 143.2 421.0 141.4C426.6 139.7 433.7 138.0 437.9 137.1C442.1 136.1 443.5 135.8 446.3 135.8C449.2 135.7 453.4 136.5 454.8 136.7M353.5 141.8C355.2 143.4 360.3 148.0 363.6 151.8C367.0 155.6 370.7 160.7 373.8 164.5C376.8 168.3 379.7 172.1 381.9 174.6C384.1 177.0 386.1 178.4 386.9 179.1M378.8 155.4C379.7 156.9 382.2 161.5 383.9 164.5C385.6 167.6 387.3 173.7 389.0 173.7C390.6 173.7 392.3 167.6 394.0 164.5C395.7 161.5 397.4 157.6 399.1 155.4C400.8 153.3 403.3 152.4 404.1 151.8M419.3 179.1C421.0 176.8 426.1 169.7 429.5 165.5C432.9 161.2 436.2 156.5 439.6 153.6C443.0 150.7 447.2 149.4 449.7 148.1C452.3 146.9 454.0 146.6 454.8 146.3" fill="none" stroke="#2450a8" stroke-width="0.98"/>
<path d="M353.5 45.1C355.2 45.0 360.3 45.1 363.6 44.3C367.0 43.5 370.4 40.7 373.8 40.4C377.1 40.0 380.5 40.3 383.9 42.4C387.3 44.4 390.6 50.5 394.0 52.7C397.4 54.8 400.8 56.6 404.1 55.2C407.5 53.8 410.9 47.5 414.3 44.3C417.7 41.1 421.0 37.0 424.4 36.0C427.8 35.0 431.2 37.0 434.5 38.1C437.9 39.3 441.3 41.5 444.7 42.7C448.0 43.9 453.1 44.7 454.8 45.1M353.5 43.6C355.2 44.0 360.3 44.7 363.6 45.8C367.0 47.0 370.4 49.1 373.8 50.6C377.1 52.2 380.5 54.5 383.9 55.2C387.3 55.9 390.6 56.3 394.0 55.1C397.4 53.9 400.8 50.7 404.1 48.0C407.5 45.4 410.9 41.0 414.3 39.1C417.7 37.2 421.0 36.3 424.4 36.4C427.8 36.5 431.2 38.8 434.5 39.9C437.9 41.0 441.3 42.3 444.7 42.9C448.0 43.5 453.1 43.5 454.8 43.6M353.5 46.1C355.2 45.7 360.3 44.3 363.6 44.0C367.0 43.7 370.4 44.4 373.8 44.1C377.1 43.9 380.5 43.4 383.9 42.5C387.3 41.6 390.6 39.3 394.0 38.6C397.4 38.0 400.8 38.2 404.1 38.6C407.5 39.0 410.9 40.5 414.3 40.9C417.7 41.3 421.0 40.8 424.4 41.1C427.8 41.4 431.2 42.0 434.5 42.8C437.9 43.7 441.3 45.8 444.7 46.4C448.0 46.9 453.1 46.1 454.8 46.1M353.5 34.6C355.2 34.3 360.3 33.0 363.6 32.8C367.0 32.5 370.4 32.2 373.8 33.0C377.1 33.8 380.5 36.3 383.9 37.5C387.3 38.8 390.6 40.1 394.0 40.4C397.4 40.8 400.8 39.9 404.1 39.7C407.5 39.5 410.9 39.6 414.3 39.4C417.7 39.3 421.0 39.3 424.4 38.7C427.8 38.1 431.2 36.5 434.5 35.8C437.9 35.1 441.3 34.8 444.7 34.6C448.0 34.3 453.1 34.6 454.8 34.6M353.5 36.5C355.2 37.6 360.3 42.0 363.6 43.5C367.0 44.9 370.4 45.5 373.8 45.2C377.1 44.8 380.5 42.8 383.9 41.3C387.3 39.9 390.6 37.8 394.0 36.5C397.4 35.2 400.8 34.8 404.1 33.5C407.5 32.3 410.9 30.9 414.3 29.2C417.7 27.5 421.0 24.4 424.4 23.2C427.8 22.0 431.2 21.0 434.5 21.8C437.9 22.5 441.3 25.1 444.7 27.6C448.0 30.0 453.1 35.0 454.8 36.5M353.5 27.4C355.2 28.4 360.3 32.4 363.6 33.4C367.0 34.5 370.4 34.1 373.8 34.0C377.1 33.8 380.5 32.6 383.9 32.5C387.3 32.5 390.6 32.8 394.0 33.8C397.4 34.9 400.8 38.0 404.1 38.9C407.5 39.8 410.9 40.9 414.3 39.2C417.7 37.4 421.0 31.9 424.4 28.2C427.8 24.5 431.2 18.6 434.5 16.9C437.9 15.2 441.3 16.4 444.7 18.2C448.0 19.9 453.1 25.9 454.8 27.4M353.5 43.4C355.2 42.8 360.3 41.9 363.6 39.9C367.0 37.9 370.4 33.8 373.8 31.2C377.1 28.6 380.5 25.7 383.9 24.2C387.3 22.7 390.6 22.9 394.0 22.3C397.4 21.6 400.8 21.2 404.1 20.3C407.5 19.4 410.9 17.0 414.3 16.9C417.7 16.8 421.0 17.5 424.4 19.6C427.8 21.7 431.2 26.4 434.5 29.7C437.9 33.1 441.3 37.3 444.7 39.6C448.0 41.9 453.1 42.8 454.8 43.4M353.5 170.8C355.2 170.9 360.3 169.3 363.6 171.3C367.0 173.3 370.4 179.6 373.8 182.9C377.1 186.2 380.5 189.8 383.9 191.2C387.3 192.5 390.6 191.4 394.0 190.9C397.4 190.4 400.8 188.9 404.1 188.4C407.5 187.8 410.9 187.5 414.3 187.7C417.7 187.9 421.0 189.2 424.4 189.5C427.8 189.8 431.2 191.0 434.5 189.7C437.9 188.4 441.3 184.9 444.7 181.8C448.0 178.6 453.1 172.7 454.8 170.8M353.5 171.8C355.2 172.6 360.3 175.9 363.6 176.8C367.0 177.7 370.4 176.8 373.8 177.2C377.1 177.6 380.5 177.4 383.9 179.1C387.3 180.9 390.6 185.6 394.0 187.6C397.4 189.6 400.8 192.5 404.1 191.2C407.5 189.8 410.9 184.1 414.3 179.7C417.7 175.4 421.0 168.1 424.4 164.9C427.8 161.7 431.2 160.5 434.5 160.5C437.9 160.5 441.3 163.0 444.7 164.8C448.0 166.7 453.1 170.6 454.8 171.8M353.5 176.4C355.2 177.5 360.3 181.2 363.6 183.2C367.0 185.2 370.4 188.1 373.8 188.7C377.1 189.3 380.5 187.7 383.9 186.8C387.3 186.0 390.6 184.2 394.0 183.5C397.4 182.8 400.8 182.4 404.1 182.5C407.5 182.5 410.9 183.1 414.3 183.8C417.7 184.5 421.0 186.4 424.4 186.7C427.8 187.0 431.2 187.0 434.5 185.6C437.9 184.3 441.3 180.3 444.7 178.8C448.0 177.2 453.1 176.8 454.8 176.4M353.5 182.4C355.2 182.2 360.3 181.3 363.6 181.1C367.0 180.8 370.4 181.2 373.8 181.0C377.1 180.9 380.5 181.0 383.9 180.3C387.3 179.7 390.6 178.3 394.0 177.1C397.4 175.9 400.8 174.0 404.1 173.1C407.5 172.3 410.9 171.6 414.3 171.8C417.7 172.1 421.0 173.5 424.4 174.8C427.8 176.2 431.2 178.6 434.5 180.0C437.9 181.3 441.3 182.6 444.7 183.0C448.0 183.4 453.1 182.5 454.8 182.4M353.5 166.5C355.2 167.8 360.3 172.0 363.6 174.6C367.0 177.1 370.4 180.6 373.8 181.7C377.1 182.8 380.5 181.6 383.9 181.0C387.3 180.5 390.6 178.8 394.0 178.4C397.4 177.9 400.8 178.1 404.1 178.3C407.5 178.4 410.9 178.9 414.3 179.0C417.7 179.1 421.0 179.3 424.4 178.6C427.8 177.9 431.2 176.4 434.5 174.6C437.9 172.8 441.3 169.0 444.7 167.6C448.0 166.3 453.1 166.7 454.8 166.5M353.5 181.9C355.2 181.8 360.3 182.3 363.6 181.4C367.0 180.5 370.4 177.7 373.8 176.4C377.1 175.1 380.5 174.3 383.9 173.5C387.3 172.8 390.6 171.9 394.0 172.1C397.4 172.3 400.8 173.7 404.1 174.6C407.5 175.4 410.9 177.9 414.3 177.4C417.7 176.9 421.0 173.7 424.4 171.7C427.8 169.8 431.2 165.6 434.5 165.7C437.9 165.8 441.3 169.6 444.7 172.3C448.0 175.0 453.1 180.3 454.8 181.9M353.5 170.2C355.2 170.4 360.3 171.6 363.6 171.4C367.0 171.1 370.4 169.3 373.8 168.8C377.1 168.3 380.5 167.8 383.9 168.3C387.3 168.8 390.6 170.6 394.0 171.7C397.4 172.7 400.8 174.2 404.1 174.7C407.5 175.3 410.9 175.5 414.3 175.1C417.7 174.7 421.0 173.4 424.4 172.2C427.8 171.0 431.2 168.7 434.5 167.8C437.9 166.9 441.3 166.5 444.7 166.9C448.0 167.3 453.1 169.6 454.8 170.2M353.5 160.5C355.2 162.4 360.3 169.0 363.6 172.1C367.0 175.2 370.4 177.9 373.8 179.0C377.1 180.0 380.5 178.5 383.9 178.3C387.3 178.0 390.6 178.0 394.0 177.5C397.4 177.0 400.8 177.0 404.1 175.4C407.5 173.8 410.9 170.2 414.3 167.7C417.7 165.1 421.0 162.0 424.4 160.2C427.8 158.3 431.2 157.5 434.5 156.7C437.9 155.9 441.3 154.8 444.7 155.4C448.0 156.1 453.1 159.7 454.8 160.5M353.5 163.2C355.2 162.3 360.3 159.4 363.6 157.9C367.0 156.3 370.4 154.6 373.8 153.8C377.1 153.0 380.5 152.3 383.9 153.1C387.3 153.8 390.6 156.2 394.0 158.3C397.4 160.4 400.8 163.7 404.1 165.6C407.5 167.4 410.9 168.6 414.3 169.5C417.7 170.4 421.0 170.6 424.4 170.9C427.8 171.2 431.2 171.8 434.5 171.5C437.9 171.1 441.3 170.2 444.7 168.8C448.0 167.4 453.1 164.2 454.8 163.2M353.5 167.6C355.2 168.2 360.3 170.7 363.6 171.3C367.0 172.0 370.4 172.6 373.8 171.2C377.1 169.8 380.5 165.9 383.9 163.1C387.3 160.4 390.6 156.8 394.0 154.8C397.4 152.8 400.8 152.1 404.1 151.2C407.5 150.2 410.9 149.3 414.3 149.2C417.7 149.2 421.0 149.5 424.4 150.9C427.8 152.4 431.2 155.9 434.5 158.2C437.9 160.4 441.3 162.8 444.7 164.4C448.0 166.0 453.1 167.0 454.8 167.6M353.5 160.2C355.2 160.4 360.3 162.0 363.6 161.5C367.0 161.0 370.4 158.9 373.8 157.2C377.1 155.5 380.5 152.1 383.9 151.3C387.3 150.5 390.6 151.3 394.0 152.6C397.4 153.8 400.8 157.2 404.1 158.6C407.5 160.1 410.9 161.1 414.3 161.4C417.7 161.7 421.0 160.9 424.4 160.5C427.8 160.1 431.2 159.4 434.5 159.0C437.9 158.7 441.3 158.3 444.7 158.5C448.0 158.6 453.1 159.9 454.8 160.2M353.5 159.0C355.2 158.0 360.3 154.2 363.6 153.1C367.0 152.0 370.4 152.2 373.8 152.4C377.1 152.6 380.5 153.6 383.9 154.4C387.3 155.2 390.6 156.3 394.0 157.2C397.4 158.1 400.8 160.2 404.1 160.0C407.5 159.8 410.9 157.9 414.3 156.1C417.7 154.3 421.0 149.9 424.4 149.2C427.8 148.6 431.2 150.4 434.5 152.2C437.9 154.0 441.3 159.0 444.7 160.1C448.0 161.3 453.1 159.2 454.8 159.0M353.5 153.2C355.2 154.8 360.3 159.5 363.6 162.6C367.0 165.7 370.4 169.6 373.8 171.9C377.1 174.2 380.5 176.0 383.9 176.3C387.3 176.5 390.6 174.6 394.0 173.5C397.4 172.4 400.8 170.3 404.1 169.5C407.5 168.7 410.9 169.4 414.3 168.5C417.7 167.7 421.0 166.7 424.4 164.4C427.8 162.1 431.2 157.4 434.5 154.9C437.9 152.3 441.3 149.5 444.7 149.2C448.0 149.0 453.1 152.5 454.8 153.2M353.5 180.7C355.2 180.3 360.3 178.6 363.6 178.1C367.0 177.5 370.4 177.5 373.8 177.6C377.1 177.7 380.5 178.6 383.9 178.8C387.3 179.1 390.6 179.2 394.0 179.0C397.4 178.8 400.8 177.9 404.1 177.5C407.5 177.1 410.9 176.5 414.3 176.6C417.7 176.8 421.0 177.6 424.4 178.5C427.8 179.3 431.2 180.9 434.5 181.6C437.9 182.3 441.3 182.9 444.7 182.8C448.0 182.6 453.1 181.1 454.8 180.7M353.5 178.3C355.2 178.3 360.3 178.1 363.6 178.4C367.0 178.8 370.4 180.0 373.8 180.6C377.1 181.2 380.5 182.0 383.9 182.1C387.3 182.2 390.6 181.7 394.0 181.2C397.4 180.6 400.8 179.5 404.1 178.9C407.5 178.3 410.9 177.7 414.3 177.6C417.7 177.5 421.0 177.9 424.4 178.3C427.8 178.7 431.2 179.6 434.5 179.8C437.9 180.1 441.3 180.0 444.7 179.8C448.0 179.5 453.1 178.6 454.8 178.3M353.5 171.2C355.2 171.1 360.3 170.8 363.6 170.8C367.0 170.9 370.4 171.5 373.8 171.6C377.1 171.8 380.5 171.8 383.9 171.9C387.3 172.1 390.6 172.1 394.0 172.4C397.4 172.7 400.8 173.4 404.1 173.6C407.5 173.9 410.9 174.0 414.3 173.9C417.7 173.8 421.0 173.2 424.4 173.0C427.8 172.8 431.2 172.8 434.5 172.7C437.9 172.6 441.3 172.7 444.7 172.4C448.0 172.1 453.1 171.4 454.8 171.2M353.5 166.0C355.2 166.2 360.3 167.0 363.6 167.6C367.0 168.2 370.4 168.6 373.8 169.3C377.1 170.1 380.5 171.4 383.9 171.9C387.3 172.5 390.6 172.8 394.0 172.5C397.4 172.2 400.8 170.9 404.1 170.3C407.5 169.7 410.9 169.3 414.3 168.9C417.7 168.4 421.0 168.5 424.4 167.9C427.8 167.4 431.2 166.3 434.5 165.7C437.9 165.1 441.3 164.5 444.7 164.5C448.0 164.6 453.1 165.7 454.8 166.0" fill="none" stroke="#2450a8" stroke-width="1.03"/>
<path d="M353.5 83.8C356.3 83.3 364.7 81.9 370.4 80.7C376.0 79.5 383.0 77.4 387.2 76.7C391.5 76.0 392.9 76.6 395.7 76.7C398.5 76.8 399.9 76.4 404.1 77.1C408.4 77.7 415.4 79.5 421.0 80.7C426.6 81.9 433.7 83.5 437.9 84.4C442.1 85.2 443.5 85.5 446.3 85.8C449.2 86.1 453.4 86.1 454.8 86.2M353.5 85.3C356.3 84.8 364.7 83.7 370.4 82.5C376.0 81.4 383.0 79.2 387.2 78.5C391.5 77.9 392.9 78.5 395.7 78.5C398.5 78.6 399.9 78.2 404.1 78.9C408.4 79.6 415.4 81.4 421.0 82.5C426.6 83.7 433.7 85.1 437.9 85.8C442.1 86.6 443.5 86.8 446.3 87.1C449.2 87.4 453.4 87.5 454.8 87.6M353.5 87.1C356.3 86.6 364.7 85.4 370.4 84.4C376.0 83.4 383.0 81.6 387.2 81.1C391.5 80.5 392.9 81.0 395.7 81.1C398.5 81.2 399.9 81.1 404.1 81.6C408.4 82.2 415.4 83.4 421.0 84.4C426.6 85.3 433.7 86.3 437.9 87.1C442.1 87.8 443.5 88.5 446.3 88.9C449.2 89.3 453.4 89.4 454.8 89.5M353.5 89.5C356.3 89.1 364.7 87.9 370.4 87.1C376.0 86.2 383.0 84.9 387.2 84.4C391.5 83.8 392.9 84.0 395.7 84.0C398.5 84.0 399.9 83.8 404.1 84.4C408.4 84.9 415.4 86.3 421.0 87.1C426.6 87.8 433.7 88.3 437.9 88.9C442.1 89.5 443.5 90.3 446.3 90.7C449.2 91.1 453.4 91.2 454.8 91.3M353.5 91.6C356.3 91.3 364.7 90.6 370.4 89.8C376.0 89.1 383.0 87.7 387.2 87.1C391.5 86.5 392.9 86.3 395.7 86.2C398.5 86.1 399.9 86.1 404.1 86.5C408.4 87.0 415.4 88.1 421.0 88.9C426.6 89.7 433.7 90.7 437.9 91.3C442.1 91.9 443.5 92.2 446.3 92.6C449.2 92.9 453.4 93.3 454.8 93.5" fill="none" stroke="#2450a8" stroke-width="0.8"/>
<line x1="353.5" y1="104.4" x2="454.8" y2="104.4" stroke="#e04a40" stroke-width="0.9" stroke-dasharray="3 2"/>
</g>
<rect x="353.5" y="31.5" width="101.3" height="145.8" fill="none" stroke="#666" stroke-width="1"/>
<text x="353.5" y="184.9" class="k">Γ</text>
<text x="387.2" y="184.9" class="k">F</text>
<text x="404.1" y="184.9" class="k">Q</text>
<text x="437.9" y="184.9" class="k">Z</text>
<text x="454.8" y="184.9" class="k">Γ</text>
<clipPath id="c04"><rect x="476.4" y="31.5" width="100.2" height="145.8"/></clipPath>
<g clip-path="url(#c04)">
<line x1="501.4" y1="31.5" x2="501.4" y2="177.3" stroke="#aaa" stroke-width="0.6" stroke-dasharray="1.5 2"/>
<line x1="526.5" y1="31.5" x2="526.5" y2="177.3" stroke="#aaa" stroke-width="0.6" stroke-dasharray="1.5 2"/>
<line x1="551.5" y1="31.5" x2="551.5" y2="177.3" stroke="#aaa" stroke-width="0.6" stroke-dasharray="1.5 2"/>
<path d="M476.4 34.2C477.4 34.0 480.6 32.9 482.4 33.0C484.2 33.0 485.8 33.7 487.4 34.8C489.1 35.9 491.3 38.4 492.4 39.7C493.6 41.0 492.9 41.8 494.4 42.8C495.9 43.8 498.6 45.0 501.4 45.5C504.3 46.1 507.3 45.8 511.5 46.1C515.6 46.3 521.5 47.0 526.5 47.0C531.5 47.0 537.4 46.3 541.5 46.1C545.7 45.8 548.7 46.1 551.5 45.5C554.4 45.0 557.1 43.8 558.6 42.8C560.1 41.8 559.4 41.0 560.6 39.7C561.7 38.4 563.9 35.9 565.6 34.8C567.2 33.7 568.8 33.0 570.6 33.0C572.4 32.9 575.6 34.0 576.6 34.2M476.4 59.4C478.1 59.1 483.6 58.9 486.4 57.9C489.3 56.9 490.9 54.9 493.4 53.4C495.9 51.9 498.8 50.1 501.4 48.8C504.1 47.5 506.6 46.3 509.5 45.7C512.3 45.1 515.6 45.1 518.5 45.2C521.3 45.2 523.8 46.1 526.5 46.1C529.2 46.1 531.7 45.2 534.5 45.2C537.4 45.1 540.7 45.1 543.5 45.7C546.4 46.3 548.9 47.5 551.5 48.8C554.2 50.1 557.1 51.9 559.6 53.4C562.1 54.9 563.7 56.9 566.6 57.9C569.4 58.9 574.9 59.1 576.6 59.4M476.4 63.4C478.4 63.4 485.1 63.5 488.4 63.4C491.8 63.2 494.3 62.8 496.4 62.5C498.6 62.1 499.3 61.8 501.4 61.4C503.6 61.0 507.0 60.7 509.5 60.3C512.0 59.9 513.6 59.0 516.5 58.8C519.3 58.7 523.2 59.4 526.5 59.4C529.8 59.4 533.7 58.7 536.5 58.8C539.4 59.0 541.0 59.9 543.5 60.3C546.0 60.7 549.4 61.0 551.5 61.4C553.7 61.8 554.4 62.1 556.6 62.5C558.7 62.8 561.2 63.2 564.6 63.4C567.9 63.5 574.6 63.4 576.6 63.4M506.5 57.0C507.6 56.6 511.3 54.6 513.5 54.3C515.6 53.9 517.3 54.6 519.5 54.8C521.7 55.0 524.2 55.4 526.5 55.4C528.8 55.4 531.3 55.0 533.5 54.8C535.7 54.6 537.4 53.9 539.5 54.3C541.7 54.6 545.4 56.6 546.5 57.0M476.4 42.1C478.1 41.8 483.1 41.5 486.4 40.6C489.8 39.8 493.4 39.1 496.4 37.0C499.4 34.8 495.8 29.4 504.5 27.9C513.1 26.3 539.9 26.3 548.5 27.9C557.2 29.4 553.6 34.8 556.6 37.0C559.6 39.1 563.2 39.8 566.6 40.6C569.9 41.5 574.9 41.8 576.6 42.1M476.4 97.1C477.0 96.9 478.3 97.5 479.8 96.0C481.3 94.5 483.8 91.1 485.6 88.0C487.4 84.9 488.8 80.8 490.4 77.4C492.0 74.1 493.8 70.3 495.2 67.8C496.7 65.2 498.1 63.0 499.1 61.9C500.2 60.9 500.2 61.6 501.4 61.4C502.7 61.2 504.3 61.1 506.5 60.7C508.6 60.2 511.1 59.0 514.5 58.8C517.8 58.7 522.5 59.7 526.5 59.7C530.5 59.7 535.2 58.7 538.5 58.8C541.9 59.0 544.4 60.2 546.5 60.7C548.7 61.1 550.3 61.2 551.5 61.4C552.8 61.6 552.8 60.9 553.9 61.9C554.9 63.0 556.3 65.2 557.8 67.8C559.2 70.3 561.0 74.1 562.6 77.4C564.2 80.8 565.6 84.9 567.4 88.0C569.2 91.1 571.7 94.5 573.2 96.0C574.7 97.5 576.0 96.9 576.6 97.1M476.4 94.9C478.5 95.2 484.7 95.7 488.9 96.6C493.1 97.5 497.3 100.0 501.4 100.4C505.6 100.8 509.8 99.6 514.0 98.9C518.1 98.2 522.3 96.2 526.5 96.2C530.7 96.2 534.9 98.2 539.0 98.9C543.2 99.6 547.4 100.8 551.5 100.4C555.7 100.0 559.9 97.5 564.1 96.6C568.2 95.7 574.5 95.2 576.6 94.9M476.4 94.9C478.5 95.1 484.7 95.3 488.9 96.2C493.1 97.1 497.3 100.2 501.4 100.4C505.6 100.5 509.8 97.9 514.0 97.1C518.1 96.3 522.3 95.7 526.5 95.7C530.7 95.7 534.9 96.3 539.0 97.1C543.2 97.9 547.4 100.5 551.5 100.4C555.7 100.2 559.9 97.1 564.1 96.2C568.2 95.3 574.5 95.1 576.6 94.9M476.4 107.9C478.5 107.8 484.7 107.8 488.9 107.3C493.1 106.9 497.3 105.4 501.4 105.1C505.6 104.9 509.8 105.3 514.0 105.9C518.1 106.4 522.3 108.4 526.5 108.4C530.7 108.4 534.9 106.4 539.0 105.9C543.2 105.3 547.4 104.9 551.5 105.1C555.7 105.4 559.9 106.9 564.1 107.3C568.2 107.8 574.5 107.8 576.6 107.9M476.4 125.5C477.4 124.8 480.4 122.5 482.4 120.8C484.4 119.1 486.4 116.7 488.4 115.3C490.4 114.0 492.3 113.1 494.4 112.6C496.6 112.1 498.2 112.3 501.4 112.2C504.7 112.2 510.8 112.6 514.0 112.2C517.1 111.9 518.4 110.7 520.5 110.2C522.6 109.8 524.5 109.5 526.5 109.5C528.5 109.5 530.4 109.8 532.5 110.2C534.6 110.7 535.9 111.9 539.0 112.2C542.2 112.6 548.3 112.2 551.5 112.2C554.8 112.3 556.4 112.1 558.6 112.6C560.7 113.1 562.6 114.0 564.6 115.3C566.6 116.7 568.6 119.1 570.6 120.8C572.6 122.5 575.6 124.8 576.6 125.5M476.4 125.5C478.5 125.4 484.7 124.9 488.9 124.4C493.1 124.0 497.3 123.6 501.4 122.8C505.6 122.0 509.8 121.1 514.0 119.9C518.1 118.6 522.3 115.3 526.5 115.3C530.7 115.3 534.9 118.6 539.0 119.9C543.2 121.1 547.4 122.0 551.5 122.8C555.7 123.6 559.9 124.0 564.1 124.4C568.2 124.9 574.5 125.4 576.6 125.5M476.4 150.7C478.5 150.9 484.7 151.4 488.9 151.8C493.1 152.2 497.3 153.1 501.4 153.1C505.6 153.0 509.8 152.2 514.0 151.4C518.1 150.6 522.3 148.1 526.5 148.1C530.7 148.1 534.9 150.6 539.0 151.4C543.2 152.2 547.4 153.0 551.5 153.1C555.7 153.1 559.9 152.2 564.1 151.8C568.2 151.4 574.5 150.9 576.6 150.7M476.4 150.7C478.1 152.1 483.6 156.5 486.4 159.1C489.3 161.7 490.9 163.8 493.4 166.4C495.9 168.9 499.3 172.4 501.4 174.6C503.6 176.7 498.9 178.4 506.5 179.1C514.0 179.9 539.0 179.9 546.5 179.1C554.1 178.4 549.4 176.7 551.5 174.6C553.7 172.4 557.1 168.9 559.6 166.4C562.1 163.8 563.7 161.7 566.6 159.1C569.4 156.5 574.9 152.1 576.6 150.7M476.4 170.0C478.5 169.9 484.7 169.3 488.9 169.1C493.1 168.9 497.3 169.9 501.4 168.7C505.6 167.5 509.8 163.3 514.0 161.8C518.1 160.4 522.3 160.0 526.5 160.0C530.7 160.0 534.9 160.4 539.0 161.8C543.2 163.3 547.4 167.5 551.5 168.7C555.7 169.9 559.9 168.9 564.1 169.1C568.2 169.3 574.5 169.9 576.6 170.0M496.4 152.7C497.3 152.8 498.5 151.6 501.4 153.6C504.4 155.6 509.8 160.9 514.0 164.5C518.1 168.2 522.3 175.5 526.5 175.5C530.7 175.5 534.9 168.2 539.0 164.5C543.2 160.9 548.6 155.6 551.5 153.6C554.5 151.6 555.7 152.8 556.6 152.7M498.4 179.1C499.3 178.7 500.9 178.5 503.5 176.4C506.0 174.3 510.1 169.6 514.0 166.4C517.8 163.2 522.3 157.3 526.5 157.3C530.7 157.3 535.2 163.2 539.0 166.4C542.9 169.6 547.0 174.3 549.5 176.4C552.1 178.5 553.7 178.7 554.6 179.1M476.4 175.5C478.5 175.3 484.7 174.6 488.9 174.6C493.1 174.6 497.3 175.2 501.4 175.5C505.6 175.8 509.8 176.2 514.0 176.4C518.1 176.6 522.3 176.8 526.5 176.8C530.7 176.8 534.9 176.6 539.0 176.4C543.2 176.2 547.4 175.8 551.5 175.5C555.7 175.2 559.9 174.6 564.1 174.6C568.2 174.6 574.5 175.3 576.6 175.5" fill="none" stroke="#333" stroke-width="0.85"/>
<path d="M476.4 42.8C478.1 42.6 484.1 42.1 486.4 41.7C488.8 41.3 487.9 41.1 490.4 40.6C492.9 40.1 498.6 38.7 501.4 38.6C504.3 38.5 505.5 39.4 507.5 40.2C509.5 41.1 511.3 42.5 513.5 43.9C515.6 45.3 518.3 47.6 520.5 48.6C522.7 49.7 524.5 50.3 526.5 50.3C528.5 50.3 530.3 49.7 532.5 48.6C534.7 47.6 537.4 45.3 539.5 43.9C541.7 42.5 543.5 41.1 545.5 40.2C547.5 39.4 548.7 38.5 551.5 38.6C554.4 38.7 560.1 40.1 562.6 40.6C565.1 41.1 564.2 41.3 566.6 41.7C568.9 42.1 574.9 42.6 576.6 42.8M476.4 43.7C478.4 43.6 484.2 43.1 488.4 43.2C492.6 43.3 497.2 44.5 501.4 44.3C505.7 44.0 509.8 42.4 514.0 41.5C518.1 40.6 522.3 38.8 526.5 38.8C530.7 38.8 534.9 40.6 539.0 41.5C543.2 42.4 547.3 44.0 551.5 44.3C555.8 44.5 560.4 43.3 564.6 43.2C568.8 43.1 574.6 43.6 576.6 43.7M476.4 46.1C477.7 46.7 481.7 48.4 484.4 49.7C487.1 51.1 489.6 52.8 492.4 54.3C495.3 55.8 498.6 58.3 501.4 58.8C504.3 59.4 506.6 57.7 509.5 57.4C512.3 57.1 515.6 57.1 518.5 57.0C521.3 57.0 523.8 57.0 526.5 57.0C529.2 57.0 531.7 57.0 534.5 57.0C537.4 57.1 540.7 57.1 543.5 57.4C546.4 57.7 548.7 59.4 551.5 58.8C554.4 58.3 557.7 55.8 560.6 54.3C563.4 52.8 565.9 51.1 568.6 49.7C571.3 48.4 575.3 46.7 576.6 46.1M514.5 46.1C515.3 47.1 518.0 50.9 519.5 52.5C521.0 54.0 522.3 54.6 523.5 55.2C524.7 55.8 525.5 56.1 526.5 56.1C527.5 56.1 528.3 55.8 529.5 55.2C530.7 54.6 532.0 54.0 533.5 52.5C535.0 50.9 537.7 47.1 538.5 46.1M484.4 27.9C485.3 28.9 487.4 32.4 489.4 34.2C491.4 36.1 493.6 38.5 496.4 38.8C499.3 39.1 503.8 37.9 506.5 36.1C509.1 34.2 506.8 29.2 512.5 27.9C518.1 26.5 534.9 26.5 540.5 27.9C546.2 29.2 543.9 34.2 546.5 36.1C549.2 37.9 553.7 39.1 556.6 38.8C559.4 38.5 561.6 36.1 563.6 34.2C565.6 32.4 567.7 28.9 568.6 27.9M476.4 98.0C476.7 97.7 476.7 97.5 477.9 96.0C479.1 94.5 482.0 91.7 483.7 88.9C485.5 86.1 487.0 82.5 488.4 79.2C489.9 76.0 491.3 72.1 492.4 69.6C493.6 67.0 494.3 65.5 495.2 63.9C496.2 62.4 497.1 61.3 498.1 60.5C499.2 59.6 499.9 60.3 501.4 58.8C503.0 57.3 505.5 54.1 507.5 51.5C509.5 49.0 511.6 46.1 513.5 43.3C515.3 40.6 517.1 37.7 518.5 35.1C519.8 32.6 519.3 29.1 521.5 27.9C523.7 26.6 529.3 26.6 531.5 27.9C533.7 29.1 533.2 32.6 534.5 35.1C535.9 37.7 537.7 40.6 539.5 43.3C541.4 46.1 543.5 49.0 545.5 51.5C547.5 54.1 550.0 57.3 551.5 58.8C553.1 60.3 553.8 59.6 554.9 60.5C555.9 61.3 556.8 62.4 557.8 63.9C558.7 65.5 559.4 67.0 560.6 69.6C561.7 72.1 563.1 76.0 564.6 79.2C566.0 82.5 567.5 86.1 569.3 88.9C571.0 91.7 573.9 94.5 575.1 96.0C576.3 97.5 576.3 97.7 576.6 98.0M476.4 95.3C477.1 95.0 478.7 95.4 480.4 93.5C482.1 91.5 484.6 86.8 486.4 83.4C488.3 80.1 489.8 76.6 491.4 73.4C493.1 70.2 494.8 66.9 496.4 64.3C498.1 61.7 499.8 60.1 501.4 57.9C503.1 55.8 504.6 53.8 506.5 51.5C508.3 49.3 510.6 47.0 512.5 44.3C514.3 41.5 516.1 37.9 517.5 35.1C518.8 32.4 518.0 29.1 520.5 27.9C523.0 26.6 530.0 26.6 532.5 27.9C535.0 29.1 534.2 32.4 535.5 35.1C536.9 37.9 538.7 41.5 540.5 44.3C542.4 47.0 544.7 49.3 546.5 51.5C548.4 53.8 549.9 55.8 551.5 57.9C553.2 60.1 554.9 61.7 556.6 64.3C558.2 66.9 559.9 70.2 561.6 73.4C563.2 76.6 564.7 80.1 566.6 83.4C568.4 86.8 570.9 91.5 572.6 93.5C574.3 95.4 575.9 95.0 576.6 95.3M476.4 82.2C477.4 81.9 480.3 81.5 482.4 80.7C484.5 79.9 486.8 78.7 488.9 77.4C491.1 76.2 493.4 74.0 495.4 73.1C497.5 72.1 499.1 72.2 501.4 71.6C503.8 71.0 506.8 70.0 509.5 69.2C512.1 68.5 515.0 67.2 517.5 67.2C520.0 67.2 523.0 68.7 524.5 69.2C526.0 69.8 525.8 70.5 526.5 70.5C527.2 70.5 527.0 69.8 528.5 69.2C530.0 68.7 533.0 67.2 535.5 67.2C538.0 67.2 540.9 68.5 543.5 69.2C546.2 70.0 549.2 71.0 551.5 71.6C553.9 72.2 555.5 72.1 557.6 73.1C559.6 74.0 561.9 76.2 564.1 77.4C566.2 78.7 568.5 79.9 570.6 80.7C572.7 81.5 575.6 81.9 576.6 82.2M476.4 82.2C477.4 81.9 480.3 81.5 482.4 80.7C484.5 79.9 486.8 78.3 488.9 77.4C491.1 76.6 493.4 76.0 495.4 75.6C497.5 75.2 499.1 75.1 501.4 74.9C503.8 74.6 507.0 74.5 509.5 74.1C512.0 73.8 514.3 73.5 516.5 73.1C518.7 72.6 520.8 72.0 522.5 71.6C524.2 71.2 525.2 70.7 526.5 70.7C527.8 70.7 528.8 71.2 530.5 71.6C532.2 72.0 534.3 72.6 536.5 73.1C538.7 73.5 541.0 73.8 543.5 74.1C546.0 74.5 549.2 74.6 551.5 74.9C553.9 75.1 555.5 75.2 557.6 75.6C559.6 76.0 561.9 76.6 564.1 77.4C566.2 78.3 568.5 79.9 570.6 80.7C572.7 81.5 575.6 81.9 576.6 82.2M476.4 95.3C477.4 94.7 480.2 92.9 482.4 91.6C484.6 90.4 487.3 89.6 489.4 88.0C491.6 86.4 493.4 83.5 495.4 82.2C497.4 80.8 499.1 80.0 501.4 79.8C503.8 79.6 507.0 80.4 509.5 81.1C512.0 81.7 514.1 83.0 516.5 83.6C518.8 84.2 521.8 84.3 523.5 84.5C525.2 84.7 525.5 84.9 526.5 84.9C527.5 84.9 527.8 84.7 529.5 84.5C531.2 84.3 534.2 84.2 536.5 83.6C538.9 83.0 541.0 81.7 543.5 81.1C546.0 80.4 549.2 79.6 551.5 79.8C553.9 80.0 555.6 80.8 557.6 82.2C559.6 83.5 561.4 86.4 563.6 88.0C565.7 89.6 568.4 90.4 570.6 91.6C572.8 92.9 575.6 94.7 576.6 95.3M476.4 96.0C477.7 95.8 481.9 95.8 484.4 94.9C486.9 94.0 488.6 91.9 491.4 90.7C494.3 89.6 498.4 88.7 501.4 88.0C504.5 87.3 507.0 87.4 509.5 86.5C512.0 85.7 514.1 84.4 516.5 83.1C518.8 81.8 521.8 79.7 523.5 78.9C525.2 78.1 525.5 78.3 526.5 78.3C527.5 78.3 527.8 78.1 529.5 78.9C531.2 79.7 534.2 81.8 536.5 83.1C538.9 84.4 541.0 85.7 543.5 86.5C546.0 87.4 548.5 87.3 551.5 88.0C554.6 88.7 558.7 89.6 561.6 90.7C564.4 91.9 566.1 94.0 568.6 94.9C571.1 95.8 575.3 95.8 576.6 96.0M476.4 145.8C478.5 146.3 484.7 147.9 488.9 149.1C493.1 150.2 497.3 152.7 501.4 152.7C505.6 152.7 509.8 150.0 514.0 149.1C518.1 148.1 522.3 147.0 526.5 147.0C530.7 147.0 534.9 148.1 539.0 149.1C543.2 150.0 547.4 152.7 551.5 152.7C555.7 152.7 559.9 150.2 564.1 149.1C568.2 147.9 574.5 146.3 576.6 145.8M476.4 145.8C477.4 146.5 480.4 147.7 482.4 150.0C484.4 152.2 486.6 156.3 488.4 159.1C490.3 161.8 491.8 163.8 493.4 166.4C495.1 168.9 496.8 172.4 498.4 174.6C500.1 176.7 494.9 178.4 503.5 179.1C512.0 179.9 541.0 179.9 549.5 179.1C558.1 178.4 552.9 176.7 554.6 174.6C556.2 172.4 557.9 168.9 559.6 166.4C561.2 163.8 562.7 161.8 564.6 159.1C566.4 156.3 568.6 152.2 570.6 150.0C572.6 147.7 575.6 146.5 576.6 145.8M476.4 168.7C478.5 168.0 484.7 165.5 488.9 164.5C493.1 163.5 497.3 163.7 501.4 162.7C505.6 161.7 509.8 160.0 514.0 158.7C518.1 157.4 522.3 154.7 526.5 154.7C530.7 154.7 534.9 157.4 539.0 158.7C543.2 160.0 547.4 161.7 551.5 162.7C555.7 163.7 559.9 163.5 564.1 164.5C568.2 165.5 574.5 168.0 576.6 168.7M476.4 170.0C478.5 169.9 484.7 169.6 488.9 169.1C493.1 168.6 497.3 168.6 501.4 167.3C505.6 165.9 509.8 162.9 514.0 160.9C518.1 158.9 522.3 155.4 526.5 155.4C530.7 155.4 534.9 158.9 539.0 160.9C543.2 162.9 547.4 165.9 551.5 167.3C555.7 168.6 559.9 168.6 564.1 169.1C568.2 169.6 574.5 169.9 576.6 170.0M496.4 151.8C497.3 151.9 498.5 150.7 501.4 152.7C504.4 154.7 509.8 159.7 514.0 163.6C518.1 167.5 522.3 176.0 526.5 176.0C530.7 176.0 534.9 167.5 539.0 163.6C543.2 159.7 548.6 154.7 551.5 152.7C554.5 150.7 555.7 151.9 556.6 151.8M496.4 179.1C497.3 178.7 498.5 178.8 501.4 176.4C504.4 174.0 509.8 168.0 514.0 164.5C518.1 161.0 522.3 155.4 526.5 155.4C530.7 155.4 534.9 161.0 539.0 164.5C543.2 168.0 548.6 174.0 551.5 176.4C554.5 178.8 555.7 178.7 556.6 179.1M476.4 174.6C478.5 174.3 484.7 172.9 488.9 172.7C493.1 172.6 497.3 173.2 501.4 173.7C505.6 174.1 509.8 175.0 514.0 175.5C518.1 175.9 522.3 176.4 526.5 176.4C530.7 176.4 534.9 175.9 539.0 175.5C543.2 175.0 547.4 174.1 551.5 173.7C555.7 173.2 559.9 172.6 564.1 172.7C568.2 172.9 574.5 174.3 576.6 174.6" fill="none" stroke="#2450a8" stroke-width="0.85"/>
<line x1="476.4" y1="104.4" x2="576.6" y2="104.4" stroke="#e04a40" stroke-width="0.9" stroke-dasharray="3 2"/>
</g>
<rect x="476.4" y="31.5" width="100.2" height="145.8" fill="none" stroke="#666" stroke-width="1"/>
<text x="476.4" y="184.9" class="k">Γ</text>
<text x="501.4" y="184.9" class="k">F</text>
<text x="526.5" y="184.9" class="k">Q</text>
<text x="551.5" y="184.9" class="k">Z</text>
<text x="576.6" y="184.9" class="k">Γ</text>
<clipPath id="c05"><rect x="582.2" y="31.5" width="100.8" height="145.8"/></clipPath>
<g clip-path="url(#c05)">
<line x1="607.4" y1="31.5" x2="607.4" y2="177.3" stroke="#aaa" stroke-width="0.6" stroke-dasharray="1.5 2"/>
<line x1="632.6" y1="31.5" x2="632.6" y2="177.3" stroke="#aaa" stroke-width="0.6" stroke-dasharray="1.5 2"/>
<line x1="657.8" y1="31.5" x2="657.8" y2="177.3" stroke="#aaa" stroke-width="0.6" stroke-dasharray="1.5 2"/>
<path d="M582.2 34.2C583.2 34.0 586.4 32.9 588.2 33.0C590.1 33.0 591.6 33.8 593.3 34.8C595.0 35.8 597.2 37.7 598.3 38.8C599.5 39.9 598.8 40.6 600.3 41.5C601.9 42.4 604.5 43.7 607.4 44.3C610.3 44.8 613.3 44.5 617.5 44.6C621.7 44.8 627.6 45.2 632.6 45.2C637.6 45.2 643.5 44.8 647.7 44.6C651.9 44.5 654.9 44.8 657.8 44.3C660.7 43.7 663.3 42.4 664.9 41.5C666.4 40.6 665.7 39.9 666.9 38.8C668.0 37.7 670.2 35.8 671.9 34.8C673.6 33.8 675.1 33.0 677.0 33.0C678.8 32.9 682.0 34.0 683.0 34.2M582.2 58.8C583.9 58.7 589.4 58.7 592.3 57.9C595.1 57.2 596.8 55.6 599.3 54.3C601.9 52.9 604.7 51.1 607.4 49.7C610.1 48.4 612.6 47.0 615.5 46.1C618.3 45.2 621.7 44.4 624.5 44.3C627.4 44.1 629.9 45.2 632.6 45.2C635.3 45.2 637.8 44.1 640.7 44.3C643.5 44.4 646.9 45.2 649.7 46.1C652.6 47.0 655.1 48.4 657.8 49.7C660.5 51.1 663.3 52.9 665.9 54.3C668.4 55.6 670.1 57.2 672.9 57.9C675.8 58.7 681.3 58.7 683.0 58.8M582.2 63.6C584.2 63.7 590.9 64.3 594.3 64.3C597.7 64.3 600.2 63.8 602.4 63.4C604.5 63.0 605.2 62.6 607.4 61.9C609.6 61.2 612.9 60.0 615.5 59.2C618.0 58.4 619.7 57.5 622.5 57.0C625.4 56.6 629.2 56.5 632.6 56.5C636.0 56.5 639.8 56.6 642.7 57.0C645.5 57.5 647.2 58.4 649.7 59.2C652.3 60.0 655.6 61.2 657.8 61.9C660.0 62.6 660.7 63.0 662.8 63.4C665.0 63.8 667.5 64.3 670.9 64.3C674.3 64.3 681.0 63.7 683.0 63.6M612.4 55.2C613.6 54.7 617.3 52.8 619.5 52.5C621.7 52.1 623.4 52.9 625.5 53.0C627.7 53.2 630.2 53.4 632.6 53.4C635.0 53.4 637.5 53.2 639.7 53.0C641.8 52.9 643.5 52.1 645.7 52.5C647.9 52.8 651.6 54.7 652.8 55.2M582.2 41.5C583.9 41.2 588.9 40.6 592.3 39.7C595.6 38.8 599.3 38.0 602.4 36.1C605.4 34.1 601.7 29.2 610.4 27.9C619.2 26.5 646.0 26.5 654.8 27.9C663.5 29.2 659.8 34.1 662.8 36.1C665.9 38.0 669.6 38.8 672.9 39.7C676.3 40.6 681.3 41.2 683.0 41.5M582.2 98.9C583.2 97.4 586.2 93.5 588.2 89.8C590.3 86.2 592.6 80.6 594.3 77.1C596.0 73.6 597.0 71.0 598.3 68.9C599.7 66.7 600.8 65.3 602.4 64.3C603.9 63.3 605.7 63.5 607.4 62.8C609.1 62.2 610.3 61.5 612.4 60.7C614.6 59.8 617.1 58.5 620.5 57.9C623.9 57.4 628.6 57.4 632.6 57.4C636.6 57.4 641.3 57.4 644.7 57.9C648.1 58.5 650.6 59.8 652.8 60.7C654.9 61.5 656.1 62.2 657.8 62.8C659.5 63.5 661.3 63.3 662.8 64.3C664.4 65.3 665.5 66.7 666.9 68.9C668.2 71.0 669.2 73.6 670.9 77.1C672.6 80.6 674.9 86.2 677.0 89.8C679.0 93.5 682.0 97.4 683.0 98.9M582.2 98.6C584.3 98.9 590.6 99.8 594.8 100.4C599.0 101.0 603.2 102.5 607.4 102.2C611.6 102.0 615.8 99.8 620.0 98.9C624.2 98.0 628.4 96.7 632.6 96.7C636.8 96.7 641.0 98.0 645.2 98.9C649.4 99.8 653.6 102.0 657.8 102.2C662.0 102.5 666.2 101.0 670.4 100.4C674.6 99.8 680.9 98.9 683.0 98.6M582.2 98.6C584.3 98.9 590.6 100.1 594.8 100.8C599.0 101.4 603.2 102.4 607.4 102.6C611.6 102.7 615.8 102.0 620.0 101.7C624.2 101.3 628.4 100.4 632.6 100.4C636.8 100.4 641.0 101.3 645.2 101.7C649.4 102.0 653.6 102.7 657.8 102.6C662.0 102.4 666.2 101.4 670.4 100.8C674.6 100.1 680.9 98.9 683.0 98.6M582.2 105.5C584.3 105.6 590.6 105.7 594.8 105.9C599.0 106.0 603.2 105.9 607.4 106.2C611.6 106.6 615.8 107.4 620.0 108.0C624.2 108.7 628.4 109.9 632.6 109.9C636.8 109.9 641.0 108.7 645.2 108.0C649.4 107.4 653.6 106.6 657.8 106.2C662.0 105.9 666.2 106.0 670.4 105.9C674.6 105.7 680.9 105.6 683.0 105.5M582.2 128.1C583.2 127.2 586.2 124.3 588.2 122.6C590.3 121.0 592.3 119.3 594.3 118.1C596.3 116.9 598.2 115.9 600.3 115.3C602.5 114.7 604.1 114.7 607.4 114.4C610.7 114.1 616.8 113.8 620.0 113.5C623.2 113.2 624.5 112.9 626.6 112.6C628.7 112.3 630.6 111.9 632.6 111.9C634.6 111.9 636.5 112.3 638.6 112.6C640.7 112.9 642.0 113.2 645.2 113.5C648.4 113.8 654.5 114.1 657.8 114.4C661.1 114.7 662.7 114.7 664.9 115.3C667.0 115.9 668.9 116.9 670.9 118.1C672.9 119.3 674.9 121.0 677.0 122.6C679.0 124.3 682.0 127.2 683.0 128.1M582.2 128.1C584.3 127.8 590.6 127.0 594.8 126.3C599.0 125.6 603.2 124.8 607.4 123.9C611.6 123.0 615.8 121.9 620.0 120.8C624.2 119.7 628.4 117.5 632.6 117.5C636.8 117.5 641.0 119.7 645.2 120.8C649.4 121.9 653.6 123.0 657.8 123.9C662.0 124.8 666.2 125.6 670.4 126.3C674.6 127.0 680.9 127.8 683.0 128.1M582.2 154.0C584.3 154.2 590.6 154.7 594.8 155.1C599.0 155.5 603.2 156.6 607.4 156.3C611.6 156.1 615.8 154.4 620.0 153.6C624.2 152.8 628.4 151.8 632.6 151.8C636.8 151.8 641.0 152.8 645.2 153.6C649.4 154.4 653.6 156.1 657.8 156.3C662.0 156.6 666.2 155.5 670.4 155.1C674.6 154.7 680.9 154.2 683.0 154.0M582.2 154.0C583.9 155.1 589.4 158.5 592.3 160.9C595.1 163.3 596.8 165.8 599.3 168.2C601.9 170.6 605.2 173.7 607.4 175.5C609.6 177.3 604.9 178.5 612.4 179.1C620.0 179.7 645.2 179.7 652.8 179.1C660.3 178.5 655.6 177.3 657.8 175.5C660.0 173.7 663.3 170.6 665.9 168.2C668.4 165.8 670.1 163.3 672.9 160.9C675.8 158.5 681.3 155.1 683.0 154.0M582.2 171.8C584.3 171.7 590.6 171.2 594.8 170.9C599.0 170.6 603.2 170.9 607.4 170.0C611.6 169.1 615.8 166.5 620.0 165.5C624.2 164.4 628.4 163.6 632.6 163.6C636.8 163.6 641.0 164.4 645.2 165.5C649.4 166.5 653.6 169.1 657.8 170.0C662.0 170.9 666.2 170.6 670.4 170.9C674.6 171.2 680.9 171.7 683.0 171.8M602.4 155.4C603.2 155.6 604.5 154.5 607.4 156.3C610.3 158.2 615.8 163.0 620.0 166.4C624.2 169.7 628.4 176.4 632.6 176.4C636.8 176.4 641.0 169.7 645.2 166.4C649.4 163.0 654.9 158.2 657.8 156.3C660.7 154.5 662.0 155.6 662.8 155.4M612.4 179.1C613.7 177.6 616.6 172.6 620.0 170.0C623.4 167.4 628.4 163.6 632.6 163.6C636.8 163.6 641.8 167.4 645.2 170.0C648.6 172.6 651.5 177.6 652.8 179.1M617.5 179.1C618.7 178.1 622.0 174.7 624.5 172.7C627.1 170.8 629.9 167.3 632.6 167.3C635.3 167.3 638.1 170.8 640.7 172.7C643.2 174.7 646.5 178.1 647.7 179.1M582.2 176.4C584.3 176.2 590.6 175.5 594.8 175.5C599.0 175.4 603.2 175.8 607.4 176.0C611.6 176.2 615.8 176.6 620.0 176.8C624.2 176.9 628.4 177.1 632.6 177.1C636.8 177.1 641.0 176.9 645.2 176.8C649.4 176.6 653.6 176.2 657.8 176.0C662.0 175.8 666.2 175.4 670.4 175.5C674.6 175.5 680.9 176.2 683.0 176.4" fill="none" stroke="#333" stroke-width="0.85"/>
<path d="M582.2 42.4C583.9 42.3 589.9 41.7 592.3 41.3C594.6 41.0 593.8 40.7 596.3 40.2C598.8 39.8 604.5 38.5 607.4 38.4C610.3 38.3 611.4 39.0 613.4 39.7C615.5 40.4 617.3 41.5 619.5 42.8C621.7 44.1 624.4 46.5 626.6 47.5C628.7 48.6 630.6 49.2 632.6 49.2C634.6 49.2 636.5 48.6 638.6 47.5C640.8 46.5 643.5 44.1 645.7 42.8C647.9 41.5 649.7 40.4 651.8 39.7C653.8 39.0 654.9 38.3 657.8 38.4C660.7 38.5 666.4 39.8 668.9 40.2C671.4 40.7 670.6 41.0 672.9 41.3C675.3 41.7 681.3 42.3 683.0 42.4M582.2 43.3C584.2 43.3 590.1 42.8 594.3 42.8C598.5 42.8 603.1 43.7 607.4 43.3C611.7 43.0 615.8 41.5 620.0 40.6C624.2 39.7 628.4 37.9 632.6 37.9C636.8 37.9 641.0 39.7 645.2 40.6C649.4 41.5 653.5 43.0 657.8 43.3C662.1 43.7 666.7 42.8 670.9 42.8C675.1 42.8 681.0 43.3 683.0 43.3M582.2 46.1C583.5 46.8 587.6 48.8 590.3 50.6C593.0 52.5 595.5 55.1 598.3 57.0C601.2 58.9 604.5 61.6 607.4 61.9C610.3 62.2 612.6 60.0 615.5 58.8C618.3 57.7 621.7 56.0 624.5 55.2C627.4 54.4 629.9 54.3 632.6 54.3C635.3 54.3 637.8 54.4 640.7 55.2C643.5 56.0 646.9 57.7 649.7 58.8C652.6 60.0 654.9 62.2 657.8 61.9C660.7 61.6 664.0 58.9 666.9 57.0C669.7 55.1 672.2 52.5 674.9 50.6C677.6 48.8 681.7 46.8 683.0 46.1M620.5 45.2C621.3 46.1 624.0 49.3 625.5 50.6C627.1 52.0 628.4 52.8 629.6 53.4C630.8 54.0 631.6 54.3 632.6 54.3C633.6 54.3 634.4 54.0 635.6 53.4C636.8 52.8 638.1 52.0 639.7 50.6C641.2 49.3 643.9 46.1 644.7 45.2M590.3 27.9C591.1 28.9 593.3 32.4 595.3 34.2C597.3 36.1 599.5 38.5 602.4 38.8C605.2 39.1 609.8 37.9 612.4 36.1C615.1 34.2 612.8 29.2 618.5 27.9C624.2 26.5 641.0 26.5 646.7 27.9C652.4 29.2 650.1 34.2 652.8 36.1C655.4 37.9 660.0 39.1 662.8 38.8C665.7 38.5 667.9 36.1 669.9 34.2C671.9 32.4 674.1 28.9 674.9 27.9M582.2 101.5C583.2 99.8 586.2 95.2 588.2 91.3C590.3 87.4 592.5 81.8 594.3 78.0C596.1 74.2 597.5 71.0 598.8 68.5C600.2 66.0 601.2 64.3 602.4 63.0C603.6 61.7 604.7 61.7 606.1 60.7C607.4 59.7 608.9 58.7 610.4 57.0C612.0 55.3 613.8 52.9 615.5 50.6C617.1 48.4 619.0 45.9 620.5 43.3C622.0 40.8 623.4 37.7 624.5 35.1C625.7 32.6 625.4 29.1 627.6 27.9C629.7 26.6 635.5 26.6 637.6 27.9C639.8 29.1 639.5 32.6 640.7 35.1C641.8 37.7 643.2 40.8 644.7 43.3C646.2 45.9 648.1 48.4 649.7 50.6C651.4 52.9 653.2 55.3 654.8 57.0C656.3 58.7 657.8 59.7 659.1 60.7C660.5 61.7 661.6 61.7 662.8 63.0C664.0 64.3 665.0 66.0 666.4 68.5C667.7 71.0 669.1 74.2 670.9 78.0C672.7 81.8 674.9 87.4 677.0 91.3C679.0 95.2 682.0 99.8 683.0 101.5M582.2 100.8C583.2 99.5 586.2 96.7 588.2 93.5C590.3 90.3 592.4 85.4 594.3 81.6C596.1 77.8 597.8 73.6 599.3 70.7C600.8 67.8 602.0 66.0 603.4 64.3C604.7 62.6 605.9 62.0 607.4 60.3C608.9 58.6 610.6 56.7 612.4 54.3C614.3 51.9 616.6 49.1 618.5 46.1C620.3 43.0 622.2 39.1 623.5 36.1C624.9 33.0 624.0 29.2 626.6 27.9C629.1 26.5 636.1 26.5 638.6 27.9C641.2 29.2 640.3 33.0 641.7 36.1C643.0 39.1 644.9 43.0 646.7 46.1C648.6 49.1 650.9 51.9 652.8 54.3C654.6 56.7 656.3 58.6 657.8 60.3C659.3 62.0 660.5 62.6 661.8 64.3C663.2 66.0 664.4 67.8 665.9 70.7C667.4 73.6 669.1 77.8 670.9 81.6C672.8 85.4 674.9 90.3 677.0 93.5C679.0 96.7 682.0 99.5 683.0 100.8M582.2 85.8C583.4 85.4 586.9 84.5 589.3 83.4C591.6 82.3 594.3 80.4 596.3 79.2C598.3 78.1 599.5 77.5 601.4 76.7C603.2 75.9 604.7 75.4 607.4 74.5C610.1 73.7 614.6 72.5 617.5 71.6C620.3 70.7 622.5 69.3 624.5 69.0C626.6 68.8 628.2 69.7 629.6 70.1C630.9 70.5 631.6 71.4 632.6 71.4C633.6 71.4 634.3 70.5 635.6 70.1C637.0 69.7 638.6 68.8 640.7 69.0C642.7 69.3 644.9 70.7 647.7 71.6C650.6 72.5 655.1 73.7 657.8 74.5C660.5 75.4 662.0 75.9 663.8 76.7C665.7 77.5 666.9 78.1 668.9 79.2C670.9 80.4 673.6 82.3 675.9 83.4C678.3 84.5 681.8 85.4 683.0 85.8M582.2 85.8C583.4 85.4 586.9 84.5 589.3 83.4C591.6 82.3 593.3 80.2 596.3 79.2C599.3 78.3 603.9 78.4 607.4 78.0C610.9 77.5 614.1 77.5 617.5 76.7C620.8 75.9 625.0 73.8 627.6 73.1C630.1 72.3 630.9 72.0 632.6 72.0C634.3 72.0 635.1 72.3 637.6 73.1C640.2 73.8 644.4 75.9 647.7 76.7C651.1 77.5 654.3 77.5 657.8 78.0C661.3 78.4 665.9 78.3 668.9 79.2C671.9 80.2 673.6 82.3 675.9 83.4C678.3 84.5 681.8 85.4 683.0 85.8M582.2 96.2C583.2 95.0 586.2 91.2 588.2 88.9C590.3 86.6 592.1 83.9 594.3 82.5C596.5 81.2 599.2 81.2 601.4 80.7C603.5 80.3 605.2 79.3 607.4 79.8C609.6 80.3 612.1 82.3 614.5 83.4C616.8 84.6 619.3 85.9 621.5 86.5C623.7 87.2 625.7 87.2 627.6 87.5C629.4 87.7 630.9 88.0 632.6 88.0C634.3 88.0 635.8 87.7 637.6 87.5C639.5 87.2 641.5 87.2 643.7 86.5C645.9 85.9 648.4 84.6 650.7 83.4C653.1 82.3 655.6 80.3 657.8 79.8C660.0 79.3 661.7 80.3 663.8 80.7C666.0 81.2 668.7 81.2 670.9 82.5C673.1 83.9 674.9 86.6 677.0 88.9C679.0 91.2 682.0 95.0 683.0 96.2M582.2 101.5C584.2 100.5 590.1 97.0 594.3 95.3C598.5 93.6 603.4 92.3 607.4 91.3C611.4 90.2 615.6 89.8 618.5 88.9C621.3 88.1 622.7 87.3 624.5 86.2C626.4 85.1 628.2 83.0 629.6 82.2C630.9 81.3 631.6 81.1 632.6 81.1C633.6 81.1 634.3 81.3 635.6 82.2C637.0 83.0 638.8 85.1 640.7 86.2C642.5 87.3 643.9 88.1 646.7 88.9C649.6 89.8 653.8 90.2 657.8 91.3C661.8 92.3 666.7 93.6 670.9 95.3C675.1 97.0 681.0 100.5 683.0 101.5M582.2 148.1C584.3 148.7 590.6 150.6 594.8 151.8C599.0 153.0 603.2 155.3 607.4 155.4C611.6 155.6 615.8 153.5 620.0 152.7C624.2 151.9 628.4 150.9 632.6 150.9C636.8 150.9 641.0 151.9 645.2 152.7C649.4 153.5 653.6 155.6 657.8 155.4C662.0 155.3 666.2 153.0 670.4 151.8C674.6 150.6 680.9 148.7 683.0 148.1M582.2 148.1C583.2 148.9 586.2 150.6 588.2 152.7C590.3 154.8 592.4 158.5 594.3 160.9C596.1 163.3 597.7 165.0 599.3 167.3C601.0 169.6 602.7 172.6 604.4 174.6C606.1 176.5 600.8 178.4 609.4 179.1C618.0 179.9 647.2 179.9 655.8 179.1C664.4 178.4 659.1 176.5 660.8 174.6C662.5 172.6 664.2 169.6 665.9 167.3C667.5 165.0 669.1 163.3 670.9 160.9C672.8 158.5 674.9 154.8 677.0 152.7C679.0 150.6 682.0 148.9 683.0 148.1M582.2 170.9C584.3 170.3 590.6 168.2 594.8 167.3C599.0 166.4 603.2 166.4 607.4 165.5C611.6 164.5 615.8 163.0 620.0 161.8C624.2 160.6 628.4 158.2 632.6 158.2C636.8 158.2 641.0 160.6 645.2 161.8C649.4 163.0 653.6 164.5 657.8 165.5C662.0 166.4 666.2 166.4 670.4 167.3C674.6 168.2 680.9 170.3 683.0 170.9M582.2 171.8C584.3 171.7 590.6 171.4 594.8 170.9C599.0 170.5 603.2 170.5 607.4 169.1C611.6 167.7 615.8 164.4 620.0 162.7C624.2 161.0 628.4 159.1 632.6 159.1C636.8 159.1 641.0 161.0 645.2 162.7C649.4 164.4 653.6 167.7 657.8 169.1C662.0 170.5 666.2 170.5 670.4 170.9C674.6 171.4 680.9 171.7 683.0 171.8M602.4 154.5C603.2 154.7 604.5 153.6 607.4 155.4C610.3 157.3 615.8 161.9 620.0 165.5C624.2 169.0 628.4 176.8 632.6 176.8C636.8 176.8 641.0 169.0 645.2 165.5C649.4 161.9 654.9 157.3 657.8 155.4C660.7 153.6 662.0 154.7 662.8 154.5M602.4 179.1C603.2 178.7 604.5 178.5 607.4 176.4C610.3 174.3 615.8 169.5 620.0 166.4C624.2 163.3 628.4 157.8 632.6 157.8C636.8 157.8 641.0 163.3 645.2 166.4C649.4 169.5 654.9 174.3 657.8 176.4C660.7 178.5 662.0 178.7 662.8 179.1M582.2 175.5C584.3 175.2 590.6 173.8 594.8 173.7C599.0 173.5 603.2 174.1 607.4 174.6C611.6 175.0 615.8 176.0 620.0 176.4C624.2 176.8 628.4 176.9 632.6 176.9C636.8 176.9 641.0 176.8 645.2 176.4C649.4 176.0 653.6 175.0 657.8 174.6C662.0 174.1 666.2 173.5 670.4 173.7C674.6 173.8 680.9 175.2 683.0 175.5" fill="none" stroke="#2450a8" stroke-width="0.85"/>
<line x1="582.2" y1="104.4" x2="683.0" y2="104.4" stroke="#e04a40" stroke-width="0.9" stroke-dasharray="3 2"/>
</g>
<rect x="582.2" y="31.5" width="100.8" height="145.8" fill="none" stroke="#666" stroke-width="1"/>
<text x="582.2" y="184.9" class="k">Γ</text>
<text x="607.4" y="184.9" class="k">F</text>
<text x="632.6" y="184.9" class="k">Q</text>
<text x="657.8" y="184.9" class="k">Z</text>
<text x="683.0" y="184.9" class="k">Γ</text>
<text x="16.1" y="33.7" class="t">4</text>
<line x1="18.5" y1="31.5" x2="20.0" y2="31.5" stroke="#555" stroke-width="0.6"/>
<text x="16.1" y="70.2" class="t">2</text>
<line x1="18.5" y1="68.0" x2="20.0" y2="68.0" stroke="#555" stroke-width="0.6"/>
<text x="16.1" y="106.6" class="t">0</text>
<line x1="18.5" y1="104.4" x2="20.0" y2="104.4" stroke="#555" stroke-width="0.6"/>
<text x="16.1" y="143.1" class="t">-2</text>
<line x1="18.5" y1="140.9" x2="20.0" y2="140.9" stroke="#555" stroke-width="0.6"/>
<text x="16.1" y="179.5" class="t">-4</text>
<line x1="18.5" y1="177.3" x2="20.0" y2="177.3" stroke="#555" stroke-width="0.6"/>
<text x="0" y="0" class="yl" transform="translate(6.9 103.6) rotate(-90)">Band gap (eV)</text>
<text x="245.2" y="33.7" class="t">4</text>
<line x1="247.6" y1="31.5" x2="249.1" y2="31.5" stroke="#555" stroke-width="0.6"/>
<text x="245.2" y="70.2" class="t">2</text>
<line x1="247.6" y1="68.0" x2="249.1" y2="68.0" stroke="#555" stroke-width="0.6"/>
<text x="245.2" y="106.6" class="t">0</text>
<line x1="247.6" y1="104.4" x2="249.1" y2="104.4" stroke="#555" stroke-width="0.6"/>
<text x="245.2" y="143.1" class="t">-2</text>
<line x1="247.6" y1="140.9" x2="249.1" y2="140.9" stroke="#555" stroke-width="0.6"/>
<text x="245.2" y="179.5" class="t">-4</text>
<line x1="247.6" y1="177.3" x2="249.1" y2="177.3" stroke="#555" stroke-width="0.6"/>
<text x="0" y="0" class="yl" transform="translate(236.0 103.6) rotate(-90)">Band gap (eV)</text>
<text x="474.0" y="33.7" class="t">4</text>
<line x1="476.4" y1="31.5" x2="477.9" y2="31.5" stroke="#555" stroke-width="0.6"/>
<text x="474.0" y="70.2" class="t">2</text>
<line x1="476.4" y1="68.0" x2="477.9" y2="68.0" stroke="#555" stroke-width="0.6"/>
<text x="474.0" y="106.6" class="t">0</text>
<line x1="476.4" y1="104.4" x2="477.9" y2="104.4" stroke="#555" stroke-width="0.6"/>
<text x="474.0" y="143.1" class="t">-2</text>
<line x1="476.4" y1="140.9" x2="477.9" y2="140.9" stroke="#555" stroke-width="0.6"/>
<text x="474.0" y="179.5" class="t">-4</text>
<line x1="476.4" y1="177.3" x2="477.9" y2="177.3" stroke="#555" stroke-width="0.6"/>
<text x="0" y="0" class="yl" transform="translate(464.8 103.6) rotate(-90)">Band gap (eV)</text>
<clipPath id="c10"><rect x="18.5" y="218.4" width="101.3" height="146.1"/></clipPath>
<g clip-path="url(#c10)">
<line x1="35.4" y1="218.4" x2="35.4" y2="364.5" stroke="#aaa" stroke-width="0.6" stroke-dasharray="1.5 2"/>
<line x1="69.2" y1="218.4" x2="69.2" y2="364.5" stroke="#aaa" stroke-width="0.6" stroke-dasharray="1.5 2"/>
<line x1="86.1" y1="218.4" x2="86.1" y2="364.5" stroke="#aaa" stroke-width="0.6" stroke-dasharray="1.5 2"/>
<path d="M18.5 236.4C20.2 235.2 25.3 232.0 28.6 229.5C32.0 226.9 35.4 223.0 38.8 221.1C42.1 219.1 45.5 218.0 48.9 217.8C52.3 217.7 55.6 219.3 59.0 220.2C62.4 221.0 65.8 221.8 69.2 222.9C72.5 224.0 75.9 224.8 79.3 226.5C82.7 228.2 86.0 231.0 89.4 233.1C92.8 235.1 96.2 237.5 99.5 238.5C102.9 239.6 106.3 239.8 109.7 239.4C113.0 239.0 118.1 236.9 119.8 236.4M18.5 239.4C20.2 239.1 25.3 238.5 28.6 237.5C32.0 236.4 35.4 234.8 38.8 232.9C42.1 231.0 45.5 227.4 48.9 226.1C52.3 224.7 55.6 224.4 59.0 224.9C62.4 225.4 65.8 228.3 69.2 229.1C72.5 229.9 75.9 229.5 79.3 229.5C82.7 229.4 86.0 228.0 89.4 228.8C92.8 229.5 96.2 232.2 99.5 234.0C102.9 235.7 106.3 238.4 109.7 239.3C113.0 240.2 118.1 239.4 119.8 239.4M18.5 235.3C20.2 234.5 25.3 233.0 28.6 230.3C32.0 227.6 35.4 222.5 38.8 219.1C42.1 215.7 45.5 210.8 48.9 209.9C52.3 208.9 55.6 210.4 59.0 213.3C62.4 216.2 65.8 223.3 69.2 227.5C72.5 231.7 75.9 236.6 79.3 238.6C82.7 240.5 86.0 239.8 89.4 239.4C92.8 239.0 96.2 236.9 99.5 236.2C102.9 235.6 106.3 235.6 109.7 235.4C113.0 235.3 118.1 235.3 119.8 235.3M18.5 207.7C20.2 208.5 25.3 211.3 28.6 212.4C32.0 213.5 35.4 214.1 38.8 214.2C42.1 214.4 45.5 212.9 48.9 213.4C52.3 213.8 55.6 214.8 59.0 217.0C62.4 219.1 65.8 222.9 69.2 226.2C72.5 229.5 75.9 234.5 79.3 236.7C82.7 238.9 86.0 240.9 89.4 239.4C92.8 237.9 96.2 232.5 99.5 228.0C102.9 223.4 106.3 215.6 109.7 212.2C113.0 208.8 118.1 208.5 119.8 207.7M18.5 223.2C20.2 224.1 25.3 227.9 28.6 228.5C32.0 229.1 35.4 228.2 38.8 226.8C42.1 225.3 45.5 221.8 48.9 219.8C52.3 217.7 55.6 214.9 59.0 214.3C62.4 213.8 65.8 215.0 69.2 216.6C72.5 218.2 75.9 222.4 79.3 223.9C82.7 225.5 86.0 226.5 89.4 225.9C92.8 225.4 96.2 221.8 99.5 220.5C102.9 219.1 106.3 217.5 109.7 217.9C113.0 218.4 118.1 222.4 119.8 223.2M18.5 210.1C20.2 211.9 25.3 219.4 28.6 221.0C32.0 222.7 35.4 221.4 38.8 220.1C42.1 218.8 45.5 214.5 48.9 213.3C52.3 212.1 55.6 212.2 59.0 212.7C62.4 213.2 65.8 215.1 69.2 216.1C72.5 217.0 75.9 218.2 79.3 218.4C82.7 218.6 86.0 218.6 89.4 217.0C92.8 215.5 96.2 211.4 99.5 209.1C102.9 206.7 106.3 202.8 109.7 202.9C113.0 203.1 118.1 208.9 119.8 210.1M18.5 212.2C20.2 212.2 25.3 213.1 28.6 212.6C32.0 212.1 35.4 210.5 38.8 209.2C42.1 208.0 45.5 206.0 48.9 205.1C52.3 204.1 55.6 204.1 59.0 203.5C62.4 203.0 65.8 202.4 69.2 201.8C72.5 201.2 75.9 199.9 79.3 200.1C82.7 200.3 86.0 201.7 89.4 203.0C92.8 204.3 96.2 206.8 99.5 208.1C102.9 209.4 106.3 210.0 109.7 210.7C113.0 211.4 118.1 211.9 119.8 212.2M18.5 200.5C20.2 201.1 25.3 203.1 28.6 204.6C32.0 206.0 35.4 208.5 38.8 209.2C42.1 209.9 45.5 209.7 48.9 208.9C52.3 208.1 55.6 205.7 59.0 204.6C62.4 203.4 65.8 202.3 69.2 202.0C72.5 201.7 75.9 202.5 79.3 202.7C82.7 202.9 86.0 203.4 89.4 203.3C92.8 203.2 96.2 202.5 99.5 202.0C102.9 201.5 106.3 200.4 109.7 200.1C113.0 199.9 118.1 200.4 119.8 200.5M18.5 365.1C20.2 364.2 25.3 361.4 28.6 359.5C32.0 357.5 35.4 354.3 38.8 353.6C42.1 352.9 45.5 353.7 48.9 355.2C52.3 356.7 55.6 360.6 59.0 362.7C62.4 364.9 65.8 366.4 69.2 368.2C72.5 370.0 75.9 371.6 79.3 373.4C82.7 375.3 86.0 378.4 89.4 379.1C92.8 379.8 96.2 379.1 99.5 377.7C102.9 376.3 106.3 372.7 109.7 370.6C113.0 368.5 118.1 366.0 119.8 365.1M18.5 364.1C20.2 363.5 25.3 361.7 28.6 360.5C32.0 359.3 35.4 358.4 38.8 357.0C42.1 355.5 45.5 352.8 48.9 351.6C52.3 350.5 55.6 350.4 59.0 350.1C62.4 349.8 65.8 349.7 69.2 350.0C72.5 350.3 75.9 349.8 79.3 352.0C82.7 354.2 86.0 359.4 89.4 363.3C92.8 367.1 96.2 373.5 99.5 375.1C102.9 376.6 106.3 374.6 109.7 372.8C113.0 370.9 118.1 365.5 119.8 364.1M18.5 357.7C20.2 357.7 25.3 358.5 28.6 357.5C32.0 356.5 35.4 352.9 38.8 351.6C42.1 350.4 45.5 349.4 48.9 350.2C52.3 351.0 55.6 354.4 59.0 356.5C62.4 358.7 65.8 361.6 69.2 363.0C72.5 364.5 75.9 365.3 79.3 365.4C82.7 365.4 86.0 364.6 89.4 363.3C92.8 362.0 96.2 359.1 99.5 357.7C102.9 356.3 106.3 355.0 109.7 355.0C113.0 355.0 118.1 357.2 119.8 357.7M18.5 356.4C20.2 355.3 25.3 351.7 28.6 350.0C32.0 348.2 35.4 345.9 38.8 345.9C42.1 345.8 45.5 348.4 48.9 349.5C52.3 350.6 55.6 351.7 59.0 352.5C62.4 353.3 65.8 353.0 69.2 354.3C72.5 355.6 75.9 358.6 79.3 360.1C82.7 361.6 86.0 363.2 89.4 363.1C92.8 363.0 96.2 360.4 99.5 359.5C102.9 358.6 106.3 358.0 109.7 357.5C113.0 357.0 118.1 356.6 119.8 356.4M18.5 346.3C20.2 346.0 25.3 343.9 28.6 344.1C32.0 344.3 35.4 345.9 38.8 347.6C42.1 349.4 45.5 352.3 48.9 354.6C52.3 357.0 55.6 360.3 59.0 361.8C62.4 363.2 65.8 364.1 69.2 363.3C72.5 362.5 75.9 359.0 79.3 357.0C82.7 354.9 86.0 352.0 89.4 351.0C92.8 350.1 96.2 351.1 99.5 351.1C102.9 351.0 106.3 351.5 109.7 350.7C113.0 349.9 118.1 347.1 119.8 346.3M18.5 335.8C20.2 335.2 25.3 332.6 28.6 332.4C32.0 332.3 35.4 333.8 38.8 334.7C42.1 335.7 45.5 336.7 48.9 338.1C52.3 339.5 55.6 341.1 59.0 343.2C62.4 345.3 65.8 349.0 69.2 350.8C72.5 352.5 75.9 353.8 79.3 353.6C82.7 353.4 86.0 351.0 89.4 349.7C92.8 348.4 96.2 347.1 99.5 345.9C102.9 344.6 106.3 343.8 109.7 342.1C113.0 340.4 118.1 336.8 119.8 335.8M18.5 342.2C20.2 342.5 25.3 343.7 28.6 344.2C32.0 344.7 35.4 345.1 38.8 345.4C42.1 345.8 45.5 347.0 48.9 346.3C52.3 345.5 55.6 342.9 59.0 340.9C62.4 338.8 65.8 335.4 69.2 333.9C72.5 332.5 75.9 332.7 79.3 332.3C82.7 331.9 86.0 331.8 89.4 331.5C92.8 331.3 96.2 329.9 99.5 330.6C102.9 331.3 106.3 333.6 109.7 335.5C113.0 337.4 118.1 341.1 119.8 342.2M18.5 345.2C20.2 344.5 25.3 343.2 28.6 341.1C32.0 339.0 35.4 334.4 38.8 332.4C42.1 330.3 45.5 329.8 48.9 329.0C52.3 328.2 55.6 328.2 59.0 327.5C62.4 326.8 65.8 324.5 69.2 324.8C72.5 325.0 75.9 326.8 79.3 329.0C82.7 331.2 86.0 335.8 89.4 337.9C92.8 339.9 96.2 340.4 99.5 341.1C102.9 341.9 106.3 341.8 109.7 342.5C113.0 343.1 118.1 344.7 119.8 345.2M18.5 334.5C20.2 336.1 25.3 342.7 28.6 344.2C32.0 345.6 35.4 345.0 38.8 343.1C42.1 341.1 45.5 335.6 48.9 332.6C52.3 329.7 55.6 327.0 59.0 325.4C62.4 323.8 65.8 323.8 69.2 323.0C72.5 322.1 75.9 321.0 79.3 320.5C82.7 319.9 86.0 319.5 89.4 319.8C92.8 320.0 96.2 320.9 99.5 321.9C102.9 322.9 106.3 323.7 109.7 325.8C113.0 327.9 118.1 333.0 119.8 334.5" fill="none" stroke="#555" stroke-width="1.1"/>
<path d="M18.5 242.1C20.2 242.4 25.3 243.2 28.6 243.5C32.0 243.8 35.4 244.0 38.8 244.0C42.1 244.1 45.5 243.8 48.9 243.9C52.3 244.1 55.6 244.6 59.0 244.9C62.4 245.2 65.8 245.7 69.2 245.8C72.5 245.9 75.9 245.7 79.3 245.6C82.7 245.4 86.0 245.2 89.4 244.9C92.8 244.6 96.2 244.2 99.5 243.7C102.9 243.3 106.3 242.4 109.7 242.2C113.0 241.9 118.1 242.1 119.8 242.1M18.5 317.3C20.2 317.2 25.3 316.7 28.6 316.7C32.0 316.6 35.4 316.8 38.8 317.0C42.1 317.1 45.5 317.6 48.9 317.6C52.3 317.6 55.6 317.4 59.0 317.1C62.4 316.9 65.8 316.2 69.2 316.1C72.5 316.0 75.9 316.2 79.3 316.6C82.7 316.9 86.0 317.8 89.4 318.2C92.8 318.6 96.2 318.8 99.5 318.8C102.9 318.8 106.3 318.5 109.7 318.2C113.0 317.9 118.1 317.4 119.8 317.3M18.5 316.9C20.2 316.9 25.3 317.0 28.6 317.0C32.0 317.0 35.4 317.2 38.8 317.0C42.1 316.9 45.5 316.3 48.9 316.1C52.3 315.8 55.6 315.7 59.0 315.8C62.4 315.8 65.8 316.3 69.2 316.3C72.5 316.4 75.9 316.2 79.3 316.2C82.7 316.1 86.0 316.0 89.4 316.1C92.8 316.3 96.2 316.9 99.5 317.1C102.9 317.3 106.3 317.4 109.7 317.4C113.0 317.4 118.1 317.0 119.8 316.9M18.5 314.5C20.2 314.7 25.3 315.1 28.6 315.4C32.0 315.7 35.4 316.3 38.8 316.4C42.1 316.6 45.5 316.4 48.9 316.4C52.3 316.4 55.6 316.4 59.0 316.5C62.4 316.5 65.8 316.9 69.2 316.8C72.5 316.8 75.9 316.3 79.3 316.0C82.7 315.7 86.0 315.1 89.4 315.0C92.8 314.8 96.2 315.0 99.5 315.0C102.9 315.0 106.3 315.0 109.7 314.9C113.0 314.8 118.1 314.6 119.8 314.5M18.5 312.6C20.2 312.6 25.3 312.6 28.6 312.8C32.0 313.1 35.4 313.8 38.8 314.1C42.1 314.3 45.5 314.3 48.9 314.2C52.3 314.1 55.6 313.5 59.0 313.4C62.4 313.2 65.8 313.3 69.2 313.3C72.5 313.4 75.9 313.7 79.3 313.7C82.7 313.7 86.0 313.6 89.4 313.6C92.8 313.6 96.2 313.6 99.5 313.6C102.9 313.6 106.3 313.6 109.7 313.4C113.0 313.2 118.1 312.7 119.8 312.6M18.5 312.1C20.2 312.0 25.3 311.7 28.6 311.8C32.0 311.9 35.4 312.4 38.8 312.8C42.1 313.2 45.5 314.1 48.9 314.3C52.3 314.5 55.6 314.4 59.0 314.0C62.4 313.6 65.8 312.5 69.2 311.9C72.5 311.3 75.9 310.7 79.3 310.4C82.7 310.2 86.0 310.3 89.4 310.5C92.8 310.7 96.2 311.1 99.5 311.4C102.9 311.7 106.3 312.1 109.7 312.2C113.0 312.3 118.1 312.1 119.8 312.1M18.5 312.7C20.2 312.8 25.3 313.3 28.6 313.0C32.0 312.8 35.4 311.8 38.8 311.3C42.1 310.9 45.5 310.3 48.9 310.2C52.3 310.2 55.6 310.7 59.0 311.0C62.4 311.2 65.8 311.5 69.2 311.6C72.5 311.7 75.9 311.7 79.3 311.7C82.7 311.6 86.0 311.7 89.4 311.6C92.8 311.5 96.2 311.2 99.5 311.2C102.9 311.2 106.3 311.1 109.7 311.4C113.0 311.7 118.1 312.5 119.8 312.7M18.5 312.1C20.2 311.8 25.3 310.7 28.6 310.3C32.0 310.0 35.4 310.0 38.8 309.9C42.1 309.9 45.5 310.2 48.9 310.1C52.3 310.0 55.6 309.7 59.0 309.4C62.4 309.1 65.8 308.6 69.2 308.4C72.5 308.3 75.9 308.3 79.3 308.5C82.7 308.8 86.0 309.4 89.4 310.0C92.8 310.7 96.2 311.7 99.5 312.3C102.9 312.8 106.3 313.4 109.7 313.4C113.0 313.3 118.1 312.3 119.8 312.1M18.5 364.9C20.2 365.1 25.3 365.6 28.6 366.2C32.0 366.9 35.4 368.4 38.8 369.0C42.1 369.6 45.5 370.5 48.9 370.0C52.3 369.5 55.6 367.4 59.0 366.1C62.4 364.8 65.8 362.8 69.2 362.2C72.5 361.6 75.9 362.2 79.3 362.4C82.7 362.5 86.0 363.2 89.4 363.3C92.8 363.4 96.2 363.0 99.5 363.1C102.9 363.2 106.3 363.5 109.7 363.8C113.0 364.1 118.1 364.7 119.8 364.9M18.5 363.5C20.2 363.2 25.3 362.5 28.6 361.9C32.0 361.4 35.4 360.7 38.8 360.2C42.1 359.6 45.5 358.8 48.9 358.6C52.3 358.4 55.6 358.3 59.0 358.7C62.4 359.2 65.8 360.1 69.2 361.3C72.5 362.5 75.9 364.5 79.3 366.0C82.7 367.4 86.0 369.3 89.4 370.0C92.8 370.6 96.2 370.4 99.5 369.8C102.9 369.2 106.3 367.4 109.7 366.4C113.0 365.3 118.1 364.0 119.8 363.5M18.5 366.6C20.2 366.0 25.3 364.1 28.6 362.8C32.0 361.6 35.4 360.1 38.8 359.1C42.1 358.2 45.5 357.8 48.9 357.2C52.3 356.6 55.6 356.0 59.0 355.4C62.4 354.8 65.8 354.0 69.2 353.8C72.5 353.6 75.9 353.7 79.3 354.3C82.7 354.9 86.0 356.1 89.4 357.5C92.8 358.8 96.2 360.9 99.5 362.4C102.9 363.9 106.3 365.8 109.7 366.5C113.0 367.2 118.1 366.6 119.8 366.6M18.5 355.6C20.2 355.5 25.3 355.9 28.6 355.2C32.0 354.5 35.4 352.2 38.8 351.4C42.1 350.7 45.5 350.5 48.9 350.7C52.3 350.8 55.6 351.9 59.0 352.3C62.4 352.7 65.8 352.8 69.2 353.0C72.5 353.2 75.9 353.6 79.3 353.6C82.7 353.5 86.0 353.3 89.4 352.8C92.8 352.3 96.2 350.8 99.5 350.6C102.9 350.4 106.3 350.8 109.7 351.7C113.0 352.5 118.1 354.9 119.8 355.6M18.5 345.9C20.2 345.6 25.3 343.9 28.6 343.8C32.0 343.7 35.4 344.5 38.8 345.3C42.1 346.1 45.5 347.5 48.9 348.5C52.3 349.5 55.6 350.4 59.0 351.4C62.4 352.4 65.8 353.7 69.2 354.6C72.5 355.5 75.9 356.6 79.3 356.7C82.7 356.8 86.0 356.0 89.4 355.3C92.8 354.5 96.2 353.1 99.5 352.1C102.9 351.1 106.3 350.2 109.7 349.2C113.0 348.2 118.1 346.5 119.8 345.9M18.5 347.9C20.2 348.4 25.3 350.6 28.6 351.1C32.0 351.6 35.4 351.3 38.8 350.9C42.1 350.5 45.5 349.0 48.9 348.5C52.3 348.0 55.6 347.6 59.0 347.8C62.4 347.9 65.8 349.0 69.2 349.4C72.5 349.8 75.9 350.4 79.3 350.3C82.7 350.2 86.0 349.3 89.4 348.5C92.8 347.7 96.2 346.2 99.5 345.6C102.9 345.0 106.3 344.6 109.7 345.0C113.0 345.4 118.1 347.4 119.8 347.9M18.5 339.5C20.2 338.8 25.3 336.2 28.6 335.3C32.0 334.5 35.4 333.9 38.8 334.3C42.1 334.7 45.5 336.7 48.9 337.9C52.3 339.1 55.6 341.1 59.0 341.6C62.4 342.1 65.8 341.6 69.2 340.9C72.5 340.3 75.9 338.5 79.3 337.8C82.7 337.2 86.0 336.9 89.4 337.3C92.8 337.6 96.2 339.2 99.5 340.0C102.9 340.8 106.3 341.9 109.7 341.8C113.0 341.8 118.1 339.9 119.8 339.5M18.5 333.1C20.2 333.8 25.3 336.0 28.6 337.1C32.0 338.1 35.4 339.4 38.8 339.5C42.1 339.6 45.5 338.3 48.9 337.7C52.3 337.0 55.6 335.7 59.0 335.4C62.4 335.1 65.8 335.6 69.2 336.2C72.5 336.7 75.9 338.2 79.3 338.8C82.7 339.3 86.0 340.0 89.4 339.7C92.8 339.3 96.2 338.0 99.5 336.9C102.9 335.8 106.3 333.7 109.7 333.1C113.0 332.4 118.1 333.1 119.8 333.1M18.5 330.2C20.2 331.1 25.3 334.3 28.6 335.6C32.0 337.0 35.4 338.3 38.8 338.2C42.1 338.2 45.5 336.3 48.9 335.3C52.3 334.2 55.6 332.7 59.0 332.0C62.4 331.2 65.8 330.9 69.2 330.7C72.5 330.5 75.9 330.5 79.3 330.8C82.7 331.0 86.0 331.9 89.4 332.1C92.8 332.3 96.2 332.5 99.5 332.0C102.9 331.6 106.3 329.8 109.7 329.4C113.0 329.1 118.1 330.0 119.8 330.2M18.5 329.7C20.2 329.0 25.3 326.0 28.6 325.3C32.0 324.6 35.4 324.7 38.8 325.5C42.1 326.2 45.5 328.6 48.9 329.6C52.3 330.7 55.6 331.3 59.0 331.6C62.4 332.0 65.8 331.7 69.2 331.7C72.5 331.7 75.9 331.9 79.3 331.6C82.7 331.4 86.0 330.5 89.4 330.2C92.8 329.8 96.2 329.5 99.5 329.7C102.9 329.8 106.3 331.2 109.7 331.2C113.0 331.2 118.1 330.0 119.8 329.7M18.5 323.5C20.2 323.9 25.3 325.8 28.6 326.1C32.0 326.3 35.4 325.3 38.8 324.9C42.1 324.4 45.5 323.6 48.9 323.5C52.3 323.4 55.6 323.8 59.0 324.2C62.4 324.6 65.8 325.4 69.2 326.0C72.5 326.7 75.9 327.9 79.3 328.2C82.7 328.5 86.0 328.6 89.4 327.9C92.8 327.1 96.2 324.7 99.5 323.6C102.9 322.4 106.3 320.9 109.7 320.9C113.0 320.9 118.1 323.0 119.8 323.5M18.5 329.1C20.2 328.4 25.3 325.9 28.6 324.6C32.0 323.3 35.4 321.9 38.8 321.2C42.1 320.6 45.5 320.5 48.9 320.7C52.3 320.9 55.6 321.7 59.0 322.5C62.4 323.2 65.8 324.3 69.2 325.3C72.5 326.3 75.9 327.5 79.3 328.5C82.7 329.6 86.0 330.9 89.4 331.7C92.8 332.5 96.2 333.3 99.5 333.5C102.9 333.6 106.3 333.3 109.7 332.6C113.0 331.9 118.1 329.7 119.8 329.1" fill="none" stroke="#555" stroke-width="0.9"/>
<path d="M71.2 238.5C72.5 240.3 76.8 246.7 79.3 249.4C81.8 252.2 83.5 254.5 86.1 254.9C88.6 255.4 91.7 254.0 94.5 252.2C97.2 250.4 100.0 246.9 102.6 244.0C105.1 241.1 108.5 236.4 109.7 234.8M18.5 242.1C19.9 242.2 24.1 242.4 27.0 242.5C29.8 242.7 31.2 243.1 35.4 243.1C39.6 243.1 46.7 242.7 52.3 242.5C57.9 242.4 64.9 242.3 69.2 242.1C73.4 242.0 74.8 241.9 77.6 241.8C80.4 241.6 81.8 241.2 86.1 241.2C90.3 241.2 97.3 241.6 102.9 241.8C108.6 241.9 117.0 242.1 119.8 242.1M18.5 281.0C19.2 279.7 21.2 276.0 22.6 273.2C23.9 270.4 25.3 267.1 26.6 264.1C28.0 261.0 29.3 257.7 30.7 254.9C32.0 252.2 33.0 249.8 34.7 247.6C36.4 245.5 39.8 243.1 40.8 242.1M119.8 281.0C119.1 279.7 117.1 276.2 115.7 273.2C114.4 270.2 113.0 266.3 111.7 263.1C110.3 259.9 109.2 256.8 107.6 254.0C106.1 251.3 104.3 248.7 102.6 246.7C100.9 244.7 98.4 242.9 97.5 242.1M18.5 295.1C19.9 295.4 24.1 296.3 27.0 296.9C29.8 297.6 31.2 298.5 35.4 299.1C39.6 299.7 46.7 300.1 52.3 300.6C57.9 301.0 64.9 301.8 69.2 301.9C73.4 302.0 74.8 301.4 77.6 301.1C80.4 300.9 81.8 300.8 86.1 300.2C90.3 299.7 97.3 298.7 102.9 297.8C108.6 297.0 117.0 295.6 119.8 295.1M18.5 295.1C19.9 295.7 24.1 297.6 27.0 298.4C29.8 299.2 31.2 299.5 35.4 299.7C39.6 299.9 46.7 299.0 52.3 299.5C57.9 299.9 64.9 302.1 69.2 302.4C73.4 302.7 74.8 302.0 77.6 301.5C80.4 301.0 81.8 300.1 86.1 299.7C90.3 299.3 97.3 299.9 102.9 299.1C108.6 298.4 117.0 295.8 119.8 295.1M18.5 307.3C19.9 307.5 24.1 307.9 27.0 308.3C29.8 308.6 31.2 309.0 35.4 309.3C39.6 309.7 46.7 309.9 52.3 310.1C57.9 310.2 64.9 310.3 69.2 310.3C73.4 310.3 74.8 310.2 77.6 310.1C80.4 309.9 81.8 309.7 86.1 309.3C90.3 309.0 97.3 308.6 102.9 308.3C108.6 307.9 117.0 307.5 119.8 307.3M18.5 308.6C19.9 308.7 24.1 308.4 27.0 308.9C29.8 309.5 31.2 310.8 35.4 312.2C39.6 313.5 46.7 315.7 52.3 317.1C57.9 318.6 64.9 320.7 69.2 321.0C73.4 321.2 74.8 319.4 77.6 318.4C80.4 317.4 81.8 316.5 86.1 315.2C90.3 313.8 97.3 311.5 102.9 310.2C108.6 308.9 117.0 307.9 119.8 307.5" fill="none" stroke="#555" stroke-width="0.85"/>
<path d="M18.5 239.3C20.2 239.2 25.3 239.2 28.6 238.7C32.0 238.2 35.4 237.4 38.8 236.5C42.1 235.6 45.5 234.6 48.9 233.3C52.3 232.0 55.6 230.1 59.0 228.6C62.4 227.1 65.8 225.0 69.2 224.2C72.5 223.4 75.9 223.2 79.3 223.8C82.7 224.5 86.0 226.5 89.4 228.1C92.8 229.7 96.2 232.1 99.5 233.7C102.9 235.2 106.3 236.7 109.7 237.7C113.0 238.6 118.1 239.1 119.8 239.3M18.5 235.4C20.2 235.1 25.3 234.4 28.6 233.3C32.0 232.2 35.4 230.7 38.8 228.6C42.1 226.5 45.5 222.7 48.9 220.7C52.3 218.7 55.6 216.7 59.0 216.7C62.4 216.6 65.8 219.1 69.2 220.4C72.5 221.6 75.9 223.4 79.3 224.3C82.7 225.1 86.0 224.7 89.4 225.6C92.8 226.4 96.2 228.1 99.5 229.6C102.9 231.1 106.3 233.6 109.7 234.6C113.0 235.6 118.1 235.3 119.8 235.4M18.5 214.8C20.2 214.4 25.3 212.0 28.6 212.5C32.0 212.9 35.4 214.5 38.8 217.7C42.1 220.9 45.5 228.1 48.9 231.7C52.3 235.3 55.6 239.4 59.0 239.4C62.4 239.4 65.8 234.3 69.2 231.8C72.5 229.4 75.9 225.4 79.3 224.7C82.7 224.0 86.0 226.9 89.4 227.4C92.8 227.9 96.2 228.8 99.5 227.8C102.9 226.7 106.3 223.2 109.7 221.0C113.0 218.9 118.1 215.8 119.8 214.8M18.5 218.9C20.2 219.5 25.3 221.7 28.6 222.7C32.0 223.8 35.4 225.0 38.8 225.3C42.1 225.6 45.5 224.8 48.9 224.7C52.3 224.6 55.6 225.2 59.0 224.8C62.4 224.4 65.8 223.4 69.2 222.5C72.5 221.5 75.9 219.4 79.3 219.3C82.7 219.3 86.0 221.3 89.4 222.3C92.8 223.4 96.2 225.7 99.5 225.6C102.9 225.4 106.3 222.7 109.7 221.6C113.0 220.5 118.1 219.3 119.8 218.9M18.5 212.7C20.2 213.0 25.3 213.1 28.6 214.6C32.0 216.1 35.4 219.4 38.8 221.5C42.1 223.7 45.5 226.7 48.9 227.5C52.3 228.2 55.6 226.6 59.0 225.9C62.4 225.2 65.8 223.8 69.2 223.2C72.5 222.7 75.9 223.3 79.3 222.3C82.7 221.3 86.0 219.1 89.4 217.3C92.8 215.5 96.2 212.6 99.5 211.6C102.9 210.6 106.3 211.2 109.7 211.4C113.0 211.6 118.1 212.5 119.8 212.7M18.5 221.5C20.2 220.7 25.3 217.5 28.6 216.7C32.0 215.9 35.4 216.6 38.8 217.0C42.1 217.3 45.5 219.0 48.9 218.9C52.3 218.7 55.6 217.7 59.0 216.2C62.4 214.7 65.8 211.3 69.2 209.9C72.5 208.4 75.9 206.8 79.3 207.3C82.7 207.9 86.0 210.6 89.4 213.1C92.8 215.6 96.2 220.1 99.5 222.3C102.9 224.4 106.3 225.9 109.7 225.8C113.0 225.6 118.1 222.2 119.8 221.5M18.5 205.4C20.2 205.4 25.3 205.1 28.6 205.2C32.0 205.3 35.4 205.4 38.8 206.3C42.1 207.2 45.5 209.7 48.9 210.7C52.3 211.6 55.6 211.9 59.0 211.9C62.4 211.9 65.8 209.7 69.2 210.4C72.5 211.1 75.9 214.0 79.3 216.1C82.7 218.2 86.0 222.7 89.4 223.0C92.8 223.3 96.2 220.4 99.5 218.0C102.9 215.6 106.3 210.6 109.7 208.5C113.0 206.4 118.1 205.9 119.8 205.4M18.5 223.0C20.2 223.6 25.3 226.8 28.6 226.3C32.0 225.8 35.4 223.1 38.8 220.1C42.1 217.0 45.5 211.4 48.9 208.1C52.3 204.8 55.6 201.8 59.0 200.5C62.4 199.1 65.8 198.8 69.2 200.1C72.5 201.5 75.9 205.2 79.3 208.6C82.7 212.1 86.0 218.4 89.4 221.1C92.8 223.8 96.2 225.0 99.5 225.1C102.9 225.2 106.3 222.0 109.7 221.7C113.0 221.3 118.1 222.8 119.8 223.0M18.5 201.0C20.2 202.2 25.3 205.7 28.6 208.0C32.0 210.4 35.4 213.8 38.8 215.1C42.1 216.4 45.5 216.5 48.9 215.7C52.3 214.8 55.6 211.7 59.0 209.9C62.4 208.0 65.8 205.4 69.2 204.5C72.5 203.7 75.9 204.4 79.3 204.7C82.7 205.1 86.0 206.8 89.4 206.7C92.8 206.7 96.2 205.7 99.5 204.6C102.9 203.6 106.3 201.0 109.7 200.4C113.0 199.8 118.1 200.9 119.8 201.0M18.5 202.0C20.2 203.1 25.3 206.3 28.6 208.9C32.0 211.6 35.4 215.6 38.8 218.1C42.1 220.6 45.5 223.2 48.9 223.9C52.3 224.7 55.6 224.1 59.0 222.6C62.4 221.1 65.8 217.4 69.2 214.6C72.5 211.9 75.9 208.0 79.3 205.9C82.7 203.8 86.0 202.6 89.4 201.8C92.8 200.9 96.2 201.1 99.5 200.8C102.9 200.6 106.3 199.9 109.7 200.1C113.0 200.3 118.1 201.7 119.8 202.0M64.1 229.4C64.9 230.5 66.9 233.4 69.2 236.3C71.4 239.2 74.7 244.0 77.6 246.7C80.4 249.4 83.1 252.5 86.1 252.7C89.1 253.0 92.4 250.8 95.5 248.4C98.5 245.9 101.9 240.7 104.4 237.9C106.9 235.2 108.7 233.6 110.4 231.9C112.1 230.2 113.2 228.6 114.7 227.5C116.3 226.5 119.0 226.0 119.8 225.7M64.1 228.4C64.9 229.6 66.9 232.5 69.2 235.4C71.4 238.3 74.7 243.1 77.6 245.8C80.4 248.5 83.1 251.4 86.1 251.6C89.1 251.9 92.4 249.7 95.5 247.3C98.5 244.8 101.9 239.7 104.4 237.0C106.9 234.3 109.4 232.2 110.4 231.2M21.5 214.7C22.7 216.4 26.3 222.1 28.6 224.8C30.9 227.5 32.9 229.2 35.4 231.2C37.9 233.2 40.6 234.8 43.8 236.7C47.1 238.5 51.6 240.8 55.0 242.1C58.3 243.5 61.7 244.3 64.1 244.9C66.4 245.5 67.0 247.0 69.2 245.8C71.3 244.6 74.4 240.9 77.3 237.6C80.1 234.2 83.7 229.5 86.1 225.7C88.4 221.9 90.5 216.6 91.4 214.7M18.5 225.7C19.9 226.6 23.7 229.5 26.6 231.2C29.5 232.9 32.9 234.4 35.7 235.7C38.6 237.1 40.8 238.2 43.8 239.4C46.9 240.6 49.7 241.8 54.0 243.1C58.2 244.3 66.6 246.1 69.2 246.7M69.2 245.8C70.5 244.3 74.4 240.0 77.3 236.7C80.1 233.3 83.2 229.4 86.1 225.7C88.9 222.1 93.1 216.6 94.5 214.7M77.3 214.7C78.7 215.8 83.2 221.1 86.1 221.1C88.9 221.1 93.1 215.8 94.5 214.7M69.2 319.8C70.5 320.8 74.4 324.2 77.3 326.1C80.1 328.1 83.2 331.6 86.1 331.6C88.9 331.6 91.7 328.3 94.5 326.1C97.3 324.0 100.4 321.0 102.9 318.8C105.4 316.7 106.9 315.0 109.7 313.4C112.5 311.7 118.1 309.6 119.8 308.8M69.2 344.4C70.5 343.2 74.4 338.8 77.3 337.1C80.1 335.4 83.2 334.4 86.1 334.4C88.9 334.4 91.7 335.4 94.5 337.1C97.3 338.8 100.4 342.0 102.9 344.4C105.4 346.8 108.5 350.5 109.7 351.7M18.5 371.8C20.2 372.2 25.3 374.2 28.6 374.1C32.0 374.0 35.4 372.5 38.8 371.0C42.1 369.5 45.5 365.4 48.9 365.1C52.3 364.7 55.6 366.6 59.0 368.9C62.4 371.2 65.8 377.1 69.2 378.8C72.5 380.5 75.9 380.2 79.3 379.1C82.7 378.0 86.0 373.7 89.4 372.1C92.8 370.4 96.2 369.5 99.5 369.2C102.9 368.8 106.3 369.5 109.7 370.0C113.0 370.4 118.1 371.5 119.8 371.8M18.5 371.4C20.2 372.7 25.3 378.1 28.6 379.1C32.0 380.1 35.4 379.1 38.8 377.4C42.1 375.7 45.5 371.6 48.9 368.9C52.3 366.3 55.6 363.3 59.0 361.5C62.4 359.7 65.8 359.2 69.2 358.2C72.5 357.2 75.9 356.4 79.3 355.4C82.7 354.4 86.0 352.6 89.4 352.1C92.8 351.6 96.2 351.3 99.5 352.6C102.9 354.0 106.3 356.9 109.7 360.0C113.0 363.2 118.1 369.5 119.8 371.4M18.5 361.6C20.2 362.8 25.3 366.7 28.6 368.7C32.0 370.6 35.4 372.8 38.8 373.6C42.1 374.3 45.5 373.2 48.9 373.4C52.3 373.5 55.6 373.9 59.0 374.3C62.4 374.7 65.8 375.7 69.2 375.8C72.5 375.9 75.9 375.3 79.3 374.9C82.7 374.5 86.0 374.4 89.4 373.5C92.8 372.6 96.2 371.5 99.5 369.7C102.9 367.9 106.3 364.1 109.7 362.8C113.0 361.4 118.1 361.8 119.8 361.6M18.5 366.6C20.2 366.9 25.3 367.1 28.6 368.3C32.0 369.6 35.4 372.2 38.8 373.9C42.1 375.7 45.5 378.7 48.9 379.1C52.3 379.5 55.6 378.7 59.0 376.6C62.4 374.5 65.8 369.5 69.2 366.6C72.5 363.7 75.9 360.2 79.3 359.2C82.7 358.2 86.0 359.5 89.4 360.5C92.8 361.6 96.2 364.3 99.5 365.4C102.9 366.5 106.3 366.9 109.7 367.1C113.0 367.3 118.1 366.7 119.8 366.6M18.5 367.3C20.2 366.5 25.3 364.6 28.6 362.5C32.0 360.4 35.4 356.5 38.8 354.8C42.1 353.0 45.5 351.5 48.9 352.2C52.3 352.9 55.6 356.0 59.0 359.1C62.4 362.2 65.8 367.4 69.2 370.7C72.5 374.1 75.9 377.7 79.3 379.1C82.7 380.5 86.0 380.1 89.4 379.1C92.8 378.1 96.2 374.9 99.5 373.2C102.9 371.5 106.3 369.9 109.7 369.0C113.0 368.0 118.1 367.6 119.8 367.3M18.5 354.0C20.2 355.1 25.3 358.0 28.6 360.7C32.0 363.4 35.4 367.3 38.8 370.1C42.1 372.9 45.5 376.0 48.9 377.4C52.3 378.8 55.6 379.1 59.0 378.4C62.4 377.7 65.8 375.4 69.2 373.1C72.5 370.7 75.9 367.2 79.3 364.4C82.7 361.6 86.0 358.4 89.4 356.3C92.8 354.2 96.2 352.6 99.5 351.7C102.9 350.8 106.3 350.8 109.7 351.1C113.0 351.5 118.1 353.5 119.8 354.0M18.5 358.8C20.2 357.7 25.3 352.6 28.6 351.9C32.0 351.2 35.4 352.4 38.8 354.5C42.1 356.5 45.5 361.3 48.9 364.0C52.3 366.7 55.6 369.8 59.0 370.6C62.4 371.4 65.8 369.9 69.2 368.8C72.5 367.6 75.9 364.5 79.3 363.6C82.7 362.8 86.0 362.8 89.4 363.4C92.8 364.1 96.2 366.8 99.5 367.3C102.9 367.9 106.3 368.1 109.7 366.7C113.0 365.3 118.1 360.1 119.8 358.8M18.5 366.2C20.2 364.9 25.3 361.8 28.6 358.6C32.0 355.5 35.4 349.1 38.8 347.2C42.1 345.3 45.5 346.2 48.9 347.0C52.3 347.8 55.6 351.9 59.0 352.0C62.4 352.0 65.8 349.6 69.2 347.4C72.5 345.3 75.9 340.4 79.3 339.2C82.7 338.0 86.0 338.5 89.4 340.3C92.8 342.0 96.2 346.3 99.5 349.8C102.9 353.2 106.3 358.3 109.7 361.0C113.0 363.7 118.1 365.3 119.8 366.2M18.5 349.0C20.2 347.5 25.3 341.7 28.6 339.6C32.0 337.5 35.4 335.6 38.8 336.3C42.1 337.1 45.5 341.3 48.9 344.0C52.3 346.7 55.6 350.7 59.0 352.5C62.4 354.3 65.8 354.7 69.2 354.7C72.5 354.7 75.9 353.3 79.3 352.3C82.7 351.3 86.0 349.3 89.4 348.7C92.8 348.0 96.2 347.9 99.5 348.4C102.9 348.9 106.3 351.5 109.7 351.6C113.0 351.7 118.1 349.5 119.8 349.0M18.5 347.3C20.2 347.1 25.3 346.5 28.6 346.2C32.0 345.8 35.4 345.3 38.8 345.2C42.1 345.1 45.5 345.5 48.9 345.6C52.3 345.6 55.6 345.6 59.0 345.5C62.4 345.4 65.8 344.9 69.2 345.0C72.5 345.1 75.9 345.7 79.3 346.1C82.7 346.5 86.0 347.2 89.4 347.3C92.8 347.5 96.2 347.1 99.5 347.1C102.9 347.0 106.3 347.0 109.7 347.0C113.0 347.0 118.1 347.2 119.8 347.3M18.5 337.3C20.2 338.3 25.3 342.3 28.6 343.3C32.0 344.2 35.4 344.1 38.8 343.0C42.1 341.9 45.5 338.3 48.9 336.8C52.3 335.3 55.6 334.0 59.0 334.0C62.4 334.1 65.8 335.4 69.2 337.1C72.5 338.8 75.9 342.0 79.3 344.1C82.7 346.2 86.0 349.2 89.4 349.5C92.8 349.9 96.2 347.9 99.5 345.9C102.9 343.9 106.3 339.0 109.7 337.5C113.0 336.1 118.1 337.3 119.8 337.3M18.5 335.8C20.2 336.1 25.3 337.1 28.6 337.9C32.0 338.8 35.4 340.3 38.8 340.8C42.1 341.3 45.5 341.7 48.9 341.1C52.3 340.5 55.6 339.0 59.0 337.0C62.4 335.1 65.8 331.3 69.2 329.6C72.5 327.9 75.9 326.4 79.3 326.9C82.7 327.5 86.0 331.1 89.4 333.1C92.8 335.1 96.2 338.1 99.5 338.8C102.9 339.6 106.3 338.2 109.7 337.7C113.0 337.1 118.1 336.1 119.8 335.8M18.5 346.2C20.2 346.5 25.3 348.8 28.6 348.0C32.0 347.3 35.4 344.0 38.8 341.7C42.1 339.3 45.5 335.9 48.9 333.8C52.3 331.8 55.6 331.2 59.0 329.5C62.4 327.9 65.8 325.5 69.2 323.9C72.5 322.3 75.9 319.6 79.3 319.8C82.7 319.9 86.0 322.4 89.4 324.8C92.8 327.2 96.2 331.5 99.5 334.1C102.9 336.8 106.3 338.6 109.7 340.6C113.0 342.7 118.1 345.2 119.8 346.2M18.5 322.3C20.2 323.9 25.3 328.9 28.6 331.9C32.0 334.9 35.4 339.8 38.8 340.2C42.1 340.6 45.5 336.7 48.9 334.5C52.3 332.3 55.6 328.3 59.0 327.0C62.4 325.7 65.8 326.2 69.2 326.6C72.5 327.0 75.9 328.2 79.3 329.5C82.7 330.8 86.0 333.4 89.4 334.4C92.8 335.4 96.2 336.9 99.5 335.7C102.9 334.5 106.3 329.5 109.7 327.3C113.0 325.1 118.1 323.1 119.8 322.3M18.5 333.6C20.2 332.9 25.3 331.0 28.6 329.4C32.0 327.8 35.4 325.2 38.8 324.0C42.1 322.8 45.5 322.0 48.9 322.0C52.3 322.0 55.6 323.1 59.0 324.2C62.4 325.4 65.8 327.9 69.2 328.8C72.5 329.7 75.9 330.2 79.3 329.7C82.7 329.1 86.0 326.4 89.4 325.6C92.8 324.9 96.2 324.3 99.5 325.2C102.9 326.1 106.3 329.5 109.7 330.9C113.0 332.3 118.1 333.2 119.8 333.6M18.5 327.0C20.2 326.6 25.3 325.2 28.6 324.5C32.0 323.8 35.4 323.2 38.8 322.9C42.1 322.6 45.5 323.2 48.9 322.8C52.3 322.4 55.6 321.1 59.0 320.6C62.4 320.2 65.8 319.0 69.2 320.1C72.5 321.2 75.9 324.8 79.3 327.1C82.7 329.4 86.0 333.2 89.4 334.2C92.8 335.2 96.2 334.0 99.5 333.2C102.9 332.4 106.3 330.2 109.7 329.2C113.0 328.2 118.1 327.3 119.8 327.0M18.5 323.1C20.2 322.6 25.3 319.8 28.6 319.8C32.0 319.7 35.4 321.7 38.8 322.7C42.1 323.7 45.5 325.6 48.9 325.8C52.3 326.1 55.6 325.1 59.0 324.1C62.4 323.1 65.8 320.5 69.2 319.8C72.5 319.2 75.9 318.9 79.3 320.2C82.7 321.5 86.0 325.3 89.4 327.6C92.8 329.8 96.2 333.2 99.5 333.8C102.9 334.4 106.3 332.7 109.7 331.0C113.0 329.2 118.1 324.4 119.8 323.1M18.5 318.8C19.7 320.4 23.2 324.6 25.6 328.0C28.0 331.3 30.5 335.6 32.7 338.9C34.9 342.3 36.6 345.0 38.8 348.1C41.0 351.1 43.7 354.2 45.9 357.2C48.0 360.2 50.9 364.8 51.9 366.3M48.9 366.3C50.1 364.5 53.8 358.7 56.0 355.4C58.2 352.0 59.9 349.3 62.1 346.2C64.3 343.2 67.0 340.1 69.2 337.1C71.3 334.1 74.2 329.5 75.2 328.0M89.4 366.3C90.6 364.2 94.0 357.5 96.5 353.5C99.0 349.6 101.9 346.2 104.6 342.6C107.3 338.9 110.2 334.7 112.7 331.6C115.2 328.6 118.6 325.5 119.8 324.3" fill="none" stroke="#2450a8" stroke-width="1.49"/>
<path d="M18.5 240.4C20.2 240.5 25.3 240.6 28.6 241.0C32.0 241.4 35.4 242.6 38.8 242.9C42.1 243.2 45.5 243.1 48.9 242.8C52.3 242.5 55.6 241.3 59.0 240.9C62.4 240.5 65.8 240.2 69.2 240.3C72.5 240.4 75.9 241.1 79.3 241.4C82.7 241.7 86.0 242.1 89.4 242.3C92.8 242.4 96.2 242.5 99.5 242.3C102.9 242.2 106.3 241.8 109.7 241.5C113.0 241.2 118.1 240.6 119.8 240.4M18.5 239.5C20.2 239.7 25.3 240.7 28.6 241.0C32.0 241.3 35.4 241.4 38.8 241.4C42.1 241.3 45.5 240.7 48.9 240.7C52.3 240.6 55.6 240.8 59.0 241.1C62.4 241.4 65.8 242.1 69.2 242.4C72.5 242.7 75.9 242.9 79.3 243.0C82.7 243.0 86.0 242.9 89.4 242.6C92.8 242.3 96.2 241.7 99.5 241.2C102.9 240.6 106.3 239.7 109.7 239.4C113.0 239.2 118.1 239.5 119.8 239.5M18.5 241.3C20.2 241.0 25.3 240.2 28.6 239.7C32.0 239.1 35.4 238.6 38.8 238.1C42.1 237.6 45.5 236.9 48.9 236.7C52.3 236.5 55.6 236.5 59.0 236.7C62.4 236.8 65.8 237.5 69.2 237.7C72.5 237.8 75.9 237.7 79.3 237.6C82.7 237.5 86.0 237.0 89.4 237.3C92.8 237.6 96.2 238.5 99.5 239.2C102.9 239.9 106.3 241.1 109.7 241.4C113.0 241.8 118.1 241.3 119.8 241.3M18.5 308.1C20.2 308.1 25.3 308.1 28.6 308.2C32.0 308.3 35.4 308.4 38.8 308.5C42.1 308.5 45.5 308.5 48.9 308.5C52.3 308.4 55.6 308.4 59.0 308.4C62.4 308.4 65.8 308.6 69.2 308.6C72.5 308.7 75.9 308.7 79.3 308.7C82.7 308.6 86.0 308.4 89.4 308.3C92.8 308.2 96.2 308.2 99.5 308.2C102.9 308.1 106.3 308.2 109.7 308.2C113.0 308.2 118.1 308.1 119.8 308.1M18.5 363.1C20.2 362.7 25.3 361.6 28.6 361.2C32.0 360.7 35.4 360.4 38.8 360.4C42.1 360.3 45.5 361.0 48.9 360.8C52.3 360.7 55.6 360.0 59.0 359.4C62.4 358.8 65.8 358.0 69.2 357.2C72.5 356.4 75.9 355.4 79.3 354.5C82.7 353.6 86.0 352.0 89.4 351.9C92.8 351.8 96.2 352.6 99.5 354.0C102.9 355.4 106.3 358.8 109.7 360.3C113.0 361.8 118.1 362.6 119.8 363.1M18.5 342.0C20.2 342.2 25.3 343.4 28.6 343.3C32.0 343.3 35.4 342.0 38.8 341.8C42.1 341.7 45.5 341.7 48.9 342.5C52.3 343.3 55.6 345.7 59.0 346.8C62.4 347.8 65.8 349.2 69.2 348.9C72.5 348.7 75.9 347.0 79.3 345.4C82.7 343.9 86.0 341.2 89.4 339.7C92.8 338.3 96.2 337.0 99.5 336.7C102.9 336.5 106.3 337.4 109.7 338.3C113.0 339.2 118.1 341.4 119.8 342.0" fill="none" stroke="#2450a8" stroke-width="1.22"/>
<path d="M18.5 230.3C19.9 230.3 24.1 230.4 27.0 230.3C29.8 230.1 31.2 229.4 35.4 229.4C39.6 229.4 46.7 230.0 52.3 230.3C57.9 230.6 64.9 231.2 69.2 231.2C73.4 231.2 74.8 230.6 77.6 230.3C80.4 230.0 81.8 229.4 86.1 229.4C90.3 229.3 97.3 229.6 102.9 229.7C108.6 229.9 117.0 230.2 119.8 230.3M18.5 228.4C19.9 228.5 24.1 229.0 27.0 229.0C29.8 229.0 31.2 228.6 35.4 228.4C39.6 228.3 46.7 228.0 52.3 227.9C57.9 227.7 64.9 227.4 69.2 227.5C73.4 227.6 74.8 228.2 77.6 228.4C80.4 228.7 81.8 229.0 86.1 229.0C90.3 229.0 97.3 228.5 102.9 228.4C108.6 228.4 117.0 228.4 119.8 228.4M18.5 244.9C19.9 245.0 24.1 245.5 27.0 245.8C29.8 246.1 31.2 246.7 35.4 246.7C39.6 246.7 46.7 246.3 52.3 245.8C57.9 245.3 64.9 244.6 69.2 244.0C73.4 243.4 74.8 242.6 77.6 242.1C80.4 241.7 81.8 241.1 86.1 241.2C90.3 241.4 97.3 242.4 102.9 243.1C108.6 243.7 117.0 244.6 119.8 244.9M18.5 258.8C19.9 258.8 24.1 259.0 27.0 259.1C29.8 259.2 31.2 259.3 35.4 259.3C39.6 259.3 46.7 259.2 52.3 259.1C57.9 259.0 64.9 258.8 69.2 258.8C73.4 258.8 74.8 259.0 77.6 259.1C80.4 259.2 81.8 259.3 86.1 259.3C90.3 259.3 97.3 259.0 102.9 258.9C108.6 258.9 117.0 258.8 119.8 258.8M18.5 259.3C19.9 259.4 24.1 259.6 27.0 259.7C29.8 259.8 31.2 259.9 35.4 259.9C39.6 259.8 46.7 259.6 52.3 259.5C57.9 259.4 64.9 259.1 69.2 259.1C73.4 259.2 74.8 259.6 77.6 259.7C80.4 259.8 81.8 259.9 86.1 259.9C90.3 259.8 97.3 259.6 102.9 259.5C108.6 259.4 117.0 259.3 119.8 259.3M18.5 261.0C19.9 261.1 24.1 261.7 27.0 261.9C29.8 262.1 31.2 262.4 35.4 262.2C39.6 262.0 46.7 261.0 52.3 260.8C57.9 260.5 64.9 260.6 69.2 260.8C73.4 260.9 74.8 261.3 77.6 261.5C80.4 261.7 81.8 261.7 86.1 261.7C90.3 261.6 97.3 261.3 102.9 261.1C108.6 260.9 117.0 260.5 119.8 260.4M18.5 269.2C19.9 268.9 24.1 268.1 27.0 267.7C29.8 267.3 31.2 267.4 35.4 267.0C39.6 266.6 46.7 265.5 52.3 265.2C57.9 264.8 64.9 264.8 69.2 264.8C73.4 264.8 74.8 265.0 77.6 265.2C80.4 265.3 81.8 265.4 86.1 265.9C90.3 266.4 97.3 267.4 102.9 268.1C108.6 268.7 117.0 269.6 119.8 269.9M18.5 270.4C19.9 270.2 24.1 269.2 27.0 268.8C29.8 268.4 31.2 268.6 35.4 268.1C39.6 267.6 46.7 266.3 52.3 265.9C57.9 265.5 64.9 265.5 69.2 265.5C73.4 265.6 74.8 265.9 77.6 266.2C80.4 266.6 81.8 266.8 86.1 267.3C90.3 267.9 97.3 268.9 102.9 269.5C108.6 270.1 117.0 270.8 119.8 271.0M18.5 281.0C19.2 280.2 21.2 278.1 22.6 275.9C23.9 273.7 25.3 270.1 26.6 267.7C28.0 265.3 29.1 263.4 30.7 261.3C32.2 259.2 33.5 256.9 35.7 254.9C37.9 252.9 41.1 250.8 43.8 249.4C46.5 248.1 50.6 247.2 51.9 246.7M119.8 280.5C119.0 279.6 116.4 277.3 114.7 275.0C113.0 272.7 111.4 269.5 109.7 266.8C108.0 264.1 106.3 261.2 104.6 258.6C102.9 256.0 101.2 253.3 99.5 251.3C97.9 249.3 95.3 247.5 94.5 246.7" fill="none" stroke="#2450a8" stroke-width="0.85"/>
<path d="M18.5 309.6C19.9 310.0 24.1 311.4 27.0 312.1C29.8 312.7 31.2 312.7 35.4 313.7C39.6 314.7 46.7 316.8 52.3 318.2C57.9 319.7 64.9 321.7 69.2 322.2C73.4 322.7 74.8 322.1 77.6 321.3C80.4 320.4 81.8 318.4 86.1 317.0C90.3 315.5 97.3 313.9 102.9 312.7C108.6 311.6 117.0 310.6 119.8 310.2M18.5 305.3C19.9 305.6 24.1 306.2 27.0 307.1C29.8 308.0 31.2 309.0 35.4 310.5C39.6 312.0 46.7 314.6 52.3 316.1C57.9 317.7 64.9 319.6 69.2 319.8C73.4 320.1 74.8 319.0 77.6 317.8C80.4 316.6 81.8 314.1 86.1 312.6C90.3 311.2 97.3 310.3 102.9 309.2C108.6 308.2 117.0 306.9 119.8 306.4" fill="none" stroke="#2450a8" stroke-width="1.15"/>
<line x1="18.5" y1="291.4" x2="119.8" y2="291.4" stroke="#e04a40" stroke-width="0.9" stroke-dasharray="3 2"/>
</g>
<rect x="18.5" y="218.4" width="101.3" height="146.1" fill="none" stroke="#666" stroke-width="1"/>
<text x="18.5" y="372.1" class="k">Γ</text>
<text x="35.4" y="372.1" class="k">F</text>
<text x="69.2" y="372.1" class="k">Q</text>
<text x="86.1" y="372.1" class="k">Z</text>
<text x="119.8" y="372.1" class="k">Γ</text>
<clipPath id="c11"><rect x="125.3" y="218.4" width="101.2" height="146.1"/></clipPath>
<g clip-path="url(#c11)">
<line x1="142.2" y1="218.4" x2="142.2" y2="364.5" stroke="#aaa" stroke-width="0.6" stroke-dasharray="1.5 2"/>
<line x1="175.9" y1="218.4" x2="175.9" y2="364.5" stroke="#aaa" stroke-width="0.6" stroke-dasharray="1.5 2"/>
<line x1="192.8" y1="218.4" x2="192.8" y2="364.5" stroke="#aaa" stroke-width="0.6" stroke-dasharray="1.5 2"/>
<path d="M125.3 236.5C127.0 235.8 132.0 233.6 135.4 232.3C138.8 230.9 142.2 229.6 145.5 228.4C148.9 227.2 152.3 226.0 155.7 225.1C159.0 224.1 162.4 223.4 165.8 222.8C169.2 222.3 172.5 221.6 175.9 221.5C179.3 221.5 182.6 221.4 186.0 222.6C189.4 223.9 192.8 226.5 196.1 228.8C199.5 231.2 202.9 235.0 206.3 236.7C209.6 238.5 213.0 239.4 216.4 239.4C219.8 239.4 224.8 236.9 226.5 236.5M125.3 235.7C127.0 234.7 132.0 231.7 135.4 229.7C138.8 227.8 142.2 225.2 145.5 224.0C148.9 222.9 152.3 222.5 155.7 222.8C159.0 223.1 162.4 225.2 165.8 225.8C169.2 226.5 172.5 226.7 175.9 226.7C179.3 226.7 182.6 225.3 186.0 225.9C189.4 226.5 192.8 228.4 196.1 230.3C199.5 232.3 202.9 236.0 206.3 237.5C209.6 239.0 213.0 239.7 216.4 239.4C219.8 239.1 224.8 236.3 226.5 235.7M125.3 232.6C127.0 232.4 132.0 232.1 135.4 231.4C138.8 230.7 142.2 230.5 145.5 228.4C148.9 226.3 152.3 222.1 155.7 219.1C159.0 216.1 162.4 211.1 165.8 210.3C169.2 209.5 172.5 211.1 175.9 214.1C179.3 217.1 182.6 224.1 186.0 228.2C189.4 232.3 192.8 236.7 196.1 238.6C199.5 240.4 202.9 239.9 206.3 239.4C209.6 238.9 213.0 236.8 216.4 235.7C219.8 234.5 224.8 233.1 226.5 232.6M125.3 218.6C127.0 218.4 132.0 216.8 135.4 217.0C138.8 217.1 142.2 218.0 145.5 219.3C148.9 220.7 152.3 223.5 155.7 225.2C159.0 227.0 162.4 228.6 165.8 230.0C169.2 231.4 172.5 232.5 175.9 233.6C179.3 234.7 182.6 236.3 186.0 236.3C189.4 236.3 192.8 235.2 196.1 233.6C199.5 232.0 202.9 228.5 206.3 226.5C209.6 224.4 213.0 222.6 216.4 221.3C219.8 220.0 224.8 219.1 226.5 218.6M125.3 231.1C127.0 231.0 132.0 232.2 135.4 230.5C138.8 228.8 142.2 223.3 145.5 220.8C148.9 218.4 152.3 216.5 155.7 215.9C159.0 215.3 162.4 216.7 165.8 217.4C169.2 218.1 172.5 219.0 175.9 220.0C179.3 220.9 182.6 222.5 186.0 223.1C189.4 223.7 192.8 224.0 196.1 223.5C199.5 223.0 202.9 220.3 206.3 220.2C209.6 220.1 213.0 221.1 216.4 222.9C219.8 224.7 224.8 229.8 226.5 231.1M125.3 217.6C127.0 217.1 132.0 216.3 135.4 214.7C138.8 213.1 142.2 209.2 145.5 207.9C148.9 206.5 152.3 205.7 155.7 206.4C159.0 207.1 162.4 210.1 165.8 212.2C169.2 214.3 172.5 217.2 175.9 218.8C179.3 220.4 182.6 221.6 186.0 221.9C189.4 222.1 192.8 221.3 196.1 220.5C199.5 219.6 202.9 217.5 206.3 216.7C209.6 216.0 213.0 215.7 216.4 215.9C219.8 216.0 224.8 217.3 226.5 217.6M125.3 226.6C127.0 225.9 132.0 224.1 135.4 222.0C138.8 219.8 142.2 216.5 145.5 213.7C148.9 210.8 152.3 206.9 155.7 204.9C159.0 203.0 162.4 202.1 165.8 202.0C169.2 201.8 172.5 203.3 175.9 204.2C179.3 205.0 182.6 205.7 186.0 207.1C189.4 208.5 192.8 210.2 196.1 212.6C199.5 215.0 202.9 218.9 206.3 221.3C209.6 223.7 213.0 226.2 216.4 227.1C219.8 228.0 224.8 226.7 226.5 226.6M125.3 214.0C127.0 213.1 132.0 209.3 135.4 208.5C138.8 207.7 142.2 208.9 145.5 209.3C148.9 209.7 152.3 211.1 155.7 210.8C159.0 210.4 162.4 208.6 165.8 207.1C169.2 205.7 172.5 202.5 175.9 202.0C179.3 201.4 182.6 201.8 186.0 203.7C189.4 205.5 192.8 210.3 196.1 213.3C199.5 216.4 202.9 220.8 206.3 222.2C209.6 223.6 213.0 223.1 216.4 221.7C219.8 220.3 224.8 215.3 226.5 214.0M125.3 350.8C127.0 350.8 132.0 349.3 135.4 350.7C138.8 352.1 142.2 356.7 145.5 359.4C148.9 362.0 152.3 365.0 155.7 366.7C159.0 368.3 162.4 368.1 165.8 369.4C169.2 370.7 172.5 372.8 175.9 374.4C179.3 376.1 182.6 378.9 186.0 379.1C189.4 379.3 192.8 377.6 196.1 375.5C199.5 373.5 202.9 369.7 206.3 366.8C209.6 363.9 213.0 360.8 216.4 358.1C219.8 355.5 224.8 352.0 226.5 350.8M125.3 352.3C127.0 351.6 132.0 348.3 135.4 348.3C138.8 348.2 142.2 350.7 145.5 351.8C148.9 353.0 152.3 354.4 155.7 355.1C159.0 355.8 162.4 355.4 165.8 356.0C169.2 356.6 172.5 357.9 175.9 358.7C179.3 359.5 182.6 360.6 186.0 360.9C189.4 361.2 192.8 360.5 196.1 360.5C199.5 360.5 202.9 361.2 206.3 361.0C209.6 360.8 213.0 360.7 216.4 359.3C219.8 357.8 224.8 353.4 226.5 352.3M125.3 352.6C127.0 352.8 132.0 353.6 135.4 353.8C138.8 354.0 142.2 354.7 145.5 353.8C148.9 352.9 152.3 349.5 155.7 348.4C159.0 347.3 162.4 346.8 165.8 347.2C169.2 347.7 172.5 350.5 175.9 351.2C179.3 351.9 182.6 351.4 186.0 351.3C189.4 351.3 192.8 350.3 196.1 350.8C199.5 351.4 202.9 353.8 206.3 354.5C209.6 355.3 213.0 355.6 216.4 355.2C219.8 354.9 224.8 353.1 226.5 352.6M125.3 329.8C127.0 330.7 132.0 334.0 135.4 334.9C138.8 335.9 142.2 335.6 145.5 335.5C148.9 335.3 152.3 334.0 155.7 334.1C159.0 334.2 162.4 335.6 165.8 336.3C169.2 337.0 172.5 337.7 175.9 338.3C179.3 338.9 182.6 339.1 186.0 339.7C189.4 340.3 192.8 342.2 196.1 341.9C199.5 341.7 202.9 340.4 206.3 338.5C209.6 336.6 213.0 331.9 216.4 330.5C219.8 329.1 224.8 329.9 226.5 329.8M125.3 346.6C127.0 346.7 132.0 348.3 135.4 347.6C138.8 346.9 142.2 344.4 145.5 342.6C148.9 340.9 152.3 339.4 155.7 337.2C159.0 334.9 162.4 331.7 165.8 329.1C169.2 326.5 172.5 322.7 175.9 321.6C179.3 320.5 182.6 321.6 186.0 322.7C189.4 323.8 192.8 326.7 196.1 328.2C199.5 329.7 202.9 330.2 206.3 331.9C209.6 333.5 213.0 335.8 216.4 338.3C219.8 340.7 224.8 345.2 226.5 346.6M125.3 323.3C127.0 323.7 132.0 324.2 135.4 326.1C138.8 328.0 142.2 332.2 145.5 334.7C148.9 337.2 152.3 340.0 155.7 341.2C159.0 342.3 162.4 342.6 165.8 341.7C169.2 340.9 172.5 338.7 175.9 336.2C179.3 333.7 182.6 329.2 186.0 326.8C189.4 324.4 192.8 322.1 196.1 321.6C199.5 321.1 202.9 323.1 206.3 323.7C209.6 324.3 213.0 325.2 216.4 325.1C219.8 325.0 224.8 323.6 226.5 323.3M125.3 336.5C127.0 337.3 132.0 339.8 135.4 341.2C138.8 342.6 142.2 344.8 145.5 344.8C148.9 344.9 152.3 343.6 155.7 341.3C159.0 339.0 162.4 334.1 165.8 330.8C169.2 327.5 172.5 323.1 175.9 321.6C179.3 320.1 182.6 320.5 186.0 321.7C189.4 322.9 192.8 326.9 196.1 329.0C199.5 331.1 202.9 333.4 206.3 334.5C209.6 335.5 213.0 334.9 216.4 335.2C219.8 335.5 224.8 336.3 226.5 336.5M125.3 323.8C127.0 323.6 132.0 322.3 135.4 322.2C138.8 322.1 142.2 322.9 145.5 323.4C148.9 324.0 152.3 325.3 155.7 325.6C159.0 325.9 162.4 325.8 165.8 325.5C169.2 325.2 172.5 324.2 175.9 323.6C179.3 323.1 182.6 322.5 186.0 322.4C189.4 322.3 192.8 322.7 196.1 323.1C199.5 323.6 202.9 324.7 206.3 325.1C209.6 325.6 213.0 326.0 216.4 325.7C219.8 325.5 224.8 324.2 226.5 323.8" fill="none" stroke="#555" stroke-width="1.1"/>
<path d="M125.3 240.8C127.0 240.5 132.0 239.4 135.4 238.7C138.8 238.0 142.2 237.3 145.5 236.8C148.9 236.3 152.3 236.1 155.7 235.8C159.0 235.6 162.4 235.4 165.8 235.1C169.2 234.8 172.5 234.3 175.9 234.1C179.3 233.9 182.6 233.6 186.0 233.9C189.4 234.2 192.8 234.9 196.1 235.8C199.5 236.6 202.9 238.1 206.3 239.0C209.6 239.9 213.0 240.9 216.4 241.2C219.8 241.5 224.8 240.9 226.5 240.8M125.3 232.9C127.0 233.3 132.0 234.8 135.4 235.2C138.8 235.7 142.2 235.7 145.5 235.5C148.9 235.4 152.3 234.8 155.7 234.3C159.0 233.8 162.4 233.0 165.8 232.5C169.2 232.0 172.5 231.3 175.9 231.3C179.3 231.2 182.6 231.8 186.0 232.3C189.4 232.8 192.8 233.9 196.1 234.0C199.5 234.1 202.9 233.5 206.3 233.1C209.6 232.7 213.0 231.6 216.4 231.6C219.8 231.6 224.8 232.7 226.5 232.9M125.3 232.1C127.0 232.0 132.0 231.3 135.4 231.2C138.8 231.0 142.2 231.1 145.5 231.2C148.9 231.4 152.3 231.5 155.7 231.9C159.0 232.2 162.4 232.7 165.8 233.3C169.2 233.9 172.5 234.8 175.9 235.5C179.3 236.2 182.6 237.1 186.0 237.5C189.4 237.9 192.8 238.1 196.1 237.9C199.5 237.8 202.9 237.2 206.3 236.6C209.6 236.0 213.0 235.0 216.4 234.3C219.8 233.5 224.8 232.5 226.5 232.1M125.3 320.3C127.0 320.3 132.0 320.6 135.4 320.4C138.8 320.2 142.2 319.6 145.5 319.2C148.9 318.7 152.3 317.9 155.7 317.7C159.0 317.5 162.4 317.5 165.8 317.8C169.2 318.0 172.5 318.8 175.9 319.3C179.3 319.8 182.6 320.5 186.0 320.7C189.4 320.9 192.8 320.7 196.1 320.6C199.5 320.5 202.9 320.0 206.3 319.9C209.6 319.7 213.0 319.7 216.4 319.7C219.8 319.8 224.8 320.2 226.5 320.3M125.3 319.2C127.0 319.2 132.0 319.4 135.4 319.4C138.8 319.4 142.2 319.2 145.5 319.2C148.9 319.2 152.3 319.4 155.7 319.4C159.0 319.5 162.4 319.5 165.8 319.5C169.2 319.5 172.5 319.3 175.9 319.4C179.3 319.4 182.6 319.7 186.0 319.8C189.4 319.9 192.8 319.9 196.1 319.8C199.5 319.6 202.9 318.9 206.3 318.7C209.6 318.5 213.0 318.3 216.4 318.4C219.8 318.5 224.8 319.1 226.5 319.2M125.3 318.2C127.0 318.2 132.0 318.5 135.4 318.3C138.8 318.1 142.2 317.6 145.5 317.2C148.9 316.9 152.3 316.5 155.7 316.2C159.0 315.9 162.4 315.8 165.8 315.5C169.2 315.2 172.5 314.7 175.9 314.6C179.3 314.5 182.6 314.6 186.0 315.0C189.4 315.4 192.8 316.4 196.1 316.9C199.5 317.3 202.9 317.7 206.3 317.9C209.6 318.0 213.0 317.8 216.4 317.8C219.8 317.9 224.8 318.2 226.5 318.2M125.3 316.0C127.0 316.0 132.0 316.2 135.4 316.1C138.8 316.0 142.2 315.4 145.5 315.4C148.9 315.3 152.3 315.6 155.7 315.8C159.0 316.0 162.4 316.5 165.8 316.6C169.2 316.7 172.5 316.5 175.9 316.4C179.3 316.3 182.6 316.1 186.0 316.1C189.4 316.0 192.8 316.1 196.1 316.0C199.5 315.9 202.9 315.5 206.3 315.3C209.6 315.2 213.0 315.0 216.4 315.1C219.8 315.2 224.8 315.8 226.5 316.0M125.3 314.9C127.0 314.6 132.0 313.5 135.4 313.0C138.8 312.6 142.2 312.4 145.5 312.3C148.9 312.3 152.3 312.7 155.7 312.7C159.0 312.7 162.4 312.7 165.8 312.6C169.2 312.4 172.5 311.9 175.9 311.7C179.3 311.4 182.6 311.1 186.0 311.1C189.4 311.2 192.8 311.4 196.1 311.9C199.5 312.3 202.9 313.3 206.3 313.9C209.6 314.6 213.0 315.4 216.4 315.6C219.8 315.7 224.8 315.0 226.5 314.9M125.3 313.4C127.0 313.1 132.0 312.1 135.4 311.5C138.8 310.9 142.2 310.3 145.5 310.0C148.9 309.7 152.3 309.7 155.7 309.7C159.0 309.8 162.4 310.0 165.8 310.3C169.2 310.6 172.5 310.9 175.9 311.3C179.3 311.7 182.6 312.2 186.0 312.6C189.4 313.1 192.8 313.6 196.1 313.9C199.5 314.2 202.9 314.4 206.3 314.5C209.6 314.6 213.0 314.6 216.4 314.4C219.8 314.3 224.8 313.6 226.5 313.4M125.3 309.8C127.0 310.0 132.0 310.6 135.4 310.9C138.8 311.3 142.2 312.0 145.5 312.0C148.9 312.0 152.3 311.5 155.7 311.2C159.0 310.9 162.4 310.4 165.8 310.3C169.2 310.2 172.5 310.5 175.9 310.6C179.3 310.6 182.6 310.7 186.0 310.8C189.4 311.0 192.8 311.1 196.1 311.3C199.5 311.4 202.9 311.7 206.3 311.6C209.6 311.5 213.0 311.0 216.4 310.7C219.8 310.4 224.8 310.0 226.5 309.8M125.3 364.3C127.0 364.9 132.0 367.3 135.4 368.0C138.8 368.6 142.2 368.5 145.5 368.2C148.9 367.9 152.3 366.6 155.7 366.2C159.0 365.8 162.4 365.5 165.8 365.9C169.2 366.3 172.5 367.9 175.9 368.4C179.3 368.9 182.6 369.6 186.0 369.0C189.4 368.4 192.8 366.3 196.1 364.8C199.5 363.4 202.9 360.9 206.3 360.2C209.6 359.4 213.0 359.6 216.4 360.3C219.8 361.0 224.8 363.6 226.5 364.3M125.3 363.7C127.0 363.3 132.0 362.4 135.4 361.2C138.8 360.1 142.2 357.9 145.5 356.9C148.9 355.9 152.3 354.9 155.7 355.0C159.0 355.1 162.4 356.4 165.8 357.5C169.2 358.6 172.5 360.8 175.9 361.8C179.3 362.8 182.6 363.4 186.0 363.3C189.4 363.2 192.8 361.9 196.1 361.3C199.5 360.8 202.9 360.1 206.3 360.3C209.6 360.4 213.0 361.7 216.4 362.2C219.8 362.8 224.8 363.4 226.5 363.7M125.3 355.5C127.0 354.7 132.0 351.4 135.4 350.8C138.8 350.2 142.2 351.3 145.5 351.8C148.9 352.3 152.3 353.1 155.7 353.6C159.0 354.2 162.4 354.5 165.8 355.0C169.2 355.5 172.5 356.2 175.9 356.8C179.3 357.3 182.6 357.6 186.0 358.4C189.4 359.2 192.8 360.4 196.1 361.5C199.5 362.6 202.9 364.9 206.3 365.2C209.6 365.5 213.0 364.8 216.4 363.2C219.8 361.6 224.8 356.8 226.5 355.5M125.3 343.9C127.0 344.2 132.0 344.6 135.4 345.5C138.8 346.5 142.2 348.3 145.5 349.6C148.9 350.8 152.3 352.3 155.7 353.1C159.0 353.8 162.4 353.9 165.8 354.1C169.2 354.3 172.5 354.1 175.9 354.0C179.3 354.0 182.6 354.1 186.0 353.8C189.4 353.4 192.8 352.7 196.1 351.8C199.5 350.9 202.9 349.4 206.3 348.3C209.6 347.2 213.0 345.9 216.4 345.2C219.8 344.5 224.8 344.1 226.5 343.9M125.3 342.9C127.0 343.2 132.0 343.5 135.4 344.6C138.8 345.7 142.2 348.1 145.5 349.6C148.9 351.1 152.3 353.1 155.7 353.7C159.0 354.4 162.4 354.1 165.8 353.5C169.2 352.9 172.5 351.1 175.9 350.1C179.3 349.2 182.6 348.3 186.0 347.9C189.4 347.5 192.8 347.9 196.1 347.8C199.5 347.7 202.9 347.7 206.3 347.2C209.6 346.7 213.0 345.5 216.4 344.8C219.8 344.1 224.8 343.2 226.5 342.9M125.3 347.5C127.0 348.1 132.0 350.1 135.4 350.7C138.8 351.3 142.2 351.3 145.5 351.0C148.9 350.8 152.3 349.8 155.7 349.2C159.0 348.5 162.4 347.7 165.8 347.1C169.2 346.4 172.5 346.0 175.9 345.4C179.3 344.8 182.6 344.2 186.0 343.6C189.4 343.0 192.8 342.2 196.1 341.9C199.5 341.5 202.9 341.2 206.3 341.5C209.6 341.7 213.0 342.6 216.4 343.6C219.8 344.6 224.8 346.9 226.5 347.5M125.3 346.1C127.0 345.6 132.0 343.8 135.4 343.1C138.8 342.4 142.2 342.1 145.5 341.8C148.9 341.4 152.3 341.5 155.7 341.0C159.0 340.5 162.4 339.5 165.8 338.6C169.2 337.8 172.5 336.1 175.9 335.9C179.3 335.8 182.6 336.2 186.0 337.6C189.4 338.9 192.8 342.0 196.1 344.0C199.5 345.9 202.9 348.4 206.3 349.3C209.6 350.2 213.0 349.9 216.4 349.4C219.8 348.9 224.8 346.7 226.5 346.1M125.3 328.6C127.0 328.6 132.0 328.1 135.4 328.7C138.8 329.3 142.2 331.3 145.5 332.0C148.9 332.6 152.3 332.9 155.7 332.7C159.0 332.4 162.4 330.9 165.8 330.3C169.2 329.7 172.5 329.0 175.9 329.1C179.3 329.2 182.6 330.0 186.0 330.8C189.4 331.5 192.8 333.0 196.1 333.8C199.5 334.5 202.9 335.3 206.3 335.1C209.6 334.9 213.0 333.6 216.4 332.5C219.8 331.4 224.8 329.2 226.5 328.6M125.3 326.8C127.0 326.9 132.0 327.3 135.4 327.4C138.8 327.5 142.2 327.5 145.5 327.5C148.9 327.5 152.3 327.6 155.7 327.6C159.0 327.5 162.4 327.4 165.8 327.3C169.2 327.2 172.5 327.2 175.9 327.1C179.3 327.0 182.6 326.9 186.0 326.6C189.4 326.3 192.8 325.6 196.1 325.2C199.5 324.7 202.9 324.1 206.3 324.1C209.6 324.1 213.0 324.6 216.4 325.1C219.8 325.5 224.8 326.5 226.5 326.8M125.3 325.2C127.0 324.7 132.0 322.9 135.4 322.5C138.8 322.1 142.2 322.2 145.5 322.8C148.9 323.4 152.3 325.3 155.7 326.3C159.0 327.3 162.4 328.5 165.8 328.8C169.2 329.2 172.5 328.6 175.9 328.4C179.3 328.1 182.6 327.5 186.0 327.4C189.4 327.3 192.8 327.4 196.1 327.5C199.5 327.6 202.9 327.9 206.3 327.9C209.6 327.9 213.0 327.9 216.4 327.4C219.8 327.0 224.8 325.5 226.5 325.2" fill="none" stroke="#555" stroke-width="0.9"/>
<path d="M181.0 244.0C181.8 244.9 184.0 247.6 186.0 249.4C188.0 251.3 190.3 254.6 192.8 254.9C195.3 255.2 199.0 252.8 201.2 251.3C203.4 249.8 204.2 247.9 206.3 245.8C208.3 243.7 212.2 239.7 213.3 238.5M135.4 237.6C137.9 237.9 146.4 239.0 150.6 239.4C154.8 239.8 156.5 240.0 160.7 239.9C164.9 239.9 173.4 239.0 175.9 238.9M125.3 270.8C125.8 269.7 127.2 266.6 128.3 264.1C129.5 261.6 130.9 258.6 132.1 255.8C133.3 253.1 134.2 250.1 135.4 247.6C136.7 245.2 137.8 242.8 139.5 241.2C141.2 239.7 144.5 238.9 145.5 238.5M226.5 270.8C225.8 269.4 223.8 265.0 222.5 262.2C221.1 259.4 219.8 256.8 218.4 254.0C217.1 251.3 215.7 248.1 214.4 245.8C213.0 243.5 211.7 241.7 210.3 240.3C209.0 238.9 206.9 238.0 206.3 237.6M125.3 295.1C126.7 295.4 130.9 296.3 133.8 296.9C136.6 297.6 138.0 298.3 142.2 299.1C146.4 300.0 153.4 301.1 159.1 302.0C164.7 303.0 171.7 304.3 175.9 304.6C180.1 304.9 181.5 304.4 184.4 303.9C187.2 303.4 188.6 302.4 192.8 301.5C197.0 300.6 204.0 299.5 209.7 298.4C215.3 297.3 223.7 295.7 226.5 295.1M125.3 295.1C126.7 295.7 130.9 297.8 133.8 298.8C136.6 299.7 138.0 300.1 142.2 300.6C146.4 301.0 153.4 300.7 159.1 301.5C164.7 302.3 171.7 304.7 175.9 305.1C180.1 305.6 181.5 304.8 184.4 304.2C187.2 303.7 188.6 302.8 192.8 302.0C197.0 301.3 204.0 300.8 209.7 299.7C215.3 298.5 223.7 295.9 226.5 295.1M125.3 309.3C126.7 309.5 130.9 309.8 133.8 310.1C136.6 310.4 138.0 310.9 142.2 311.2C146.4 311.5 153.4 311.7 159.1 311.9C164.7 312.1 171.7 312.5 175.9 312.5C180.1 312.5 181.5 312.1 184.4 311.9C187.2 311.7 188.6 311.5 192.8 311.2C197.0 310.9 204.0 310.4 209.7 310.1C215.3 309.8 223.7 309.5 226.5 309.3" fill="none" stroke="#555" stroke-width="0.85"/>
<path d="M125.3 226.0C127.0 226.9 132.0 229.8 135.4 231.5C138.8 233.1 142.2 235.0 145.5 236.0C148.9 237.1 152.3 237.8 155.7 237.6C159.0 237.3 162.4 235.1 165.8 234.7C169.2 234.3 172.5 234.4 175.9 235.1C179.3 235.9 182.6 239.4 186.0 239.4C189.4 239.5 192.8 237.9 196.1 235.4C199.5 233.0 202.9 227.0 206.3 224.6C209.6 222.2 213.0 220.9 216.4 221.1C219.8 221.3 224.8 225.2 226.5 226.0M125.3 236.6C127.0 236.5 132.0 236.7 135.4 235.8C138.8 234.8 142.2 231.9 145.5 230.8C148.9 229.8 152.3 228.7 155.7 229.4C159.0 230.0 162.4 233.0 165.8 234.7C169.2 236.4 172.5 238.8 175.9 239.4C179.3 240.0 182.6 239.0 186.0 238.2C189.4 237.4 192.8 235.5 196.1 234.7C199.5 233.8 202.9 233.1 206.3 233.0C209.6 232.9 213.0 233.6 216.4 234.2C219.8 234.8 224.8 236.2 226.5 236.6M125.3 220.6C127.0 221.2 132.0 223.3 135.4 224.2C138.8 225.2 142.2 226.0 145.5 226.2C148.9 226.4 152.3 225.6 155.7 225.3C159.0 225.0 162.4 223.7 165.8 224.1C169.2 224.5 172.5 226.0 175.9 227.8C179.3 229.5 182.6 233.5 186.0 234.7C189.4 236.0 192.8 236.5 196.1 235.2C199.5 233.9 202.9 229.5 206.3 227.0C209.6 224.5 213.0 221.2 216.4 220.1C219.8 219.0 224.8 220.5 226.5 220.6M125.3 225.0C127.0 224.9 132.0 225.3 135.4 224.7C138.8 224.1 142.2 222.8 145.5 221.4C148.9 220.1 152.3 217.8 155.7 216.3C159.0 214.8 162.4 212.3 165.8 212.6C169.2 212.9 172.5 215.6 175.9 218.1C179.3 220.6 182.6 225.9 186.0 227.5C189.4 229.0 192.8 228.3 196.1 227.3C199.5 226.2 202.9 222.2 206.3 221.2C209.6 220.2 213.0 220.8 216.4 221.4C219.8 222.0 224.8 224.4 226.5 225.0M125.3 217.3C127.0 216.8 132.0 215.4 135.4 214.2C138.8 212.9 142.2 211.5 145.5 210.1C148.9 208.6 152.3 206.1 155.7 205.5C159.0 204.8 162.4 204.7 165.8 206.4C169.2 208.0 172.5 212.0 175.9 215.3C179.3 218.6 182.6 223.4 186.0 226.1C189.4 228.7 192.8 230.7 196.1 231.2C199.5 231.6 202.9 230.2 206.3 228.7C209.6 227.3 213.0 224.4 216.4 222.5C219.8 220.6 224.8 218.2 226.5 217.3M125.3 209.6C127.0 211.5 132.0 218.0 135.4 220.8C138.8 223.5 142.2 226.0 145.5 226.4C148.9 226.7 152.3 224.4 155.7 223.1C159.0 221.7 162.4 219.7 165.8 218.5C169.2 217.3 172.5 216.8 175.9 215.8C179.3 214.7 182.6 213.4 186.0 212.1C189.4 210.9 192.8 209.4 196.1 208.2C199.5 207.1 202.9 205.8 206.3 205.1C209.6 204.3 213.0 203.1 216.4 203.9C219.8 204.7 224.8 208.7 226.5 209.6M125.3 216.1C127.0 214.8 132.0 210.1 135.4 208.1C138.8 206.1 142.2 204.8 145.5 204.1C148.9 203.4 152.3 203.8 155.7 203.7C159.0 203.6 162.4 203.6 165.8 203.6C169.2 203.6 172.5 202.9 175.9 203.7C179.3 204.5 182.6 205.9 186.0 208.3C189.4 210.7 192.8 215.2 196.1 218.0C199.5 220.9 202.9 224.4 206.3 225.4C209.6 226.4 213.0 225.6 216.4 224.1C219.8 222.5 224.8 217.4 226.5 216.1M125.3 210.0C127.0 210.5 132.0 211.5 135.4 213.3C138.8 215.2 142.2 218.6 145.5 220.9C148.9 223.3 152.3 226.5 155.7 227.4C159.0 228.4 162.4 227.4 165.8 226.7C169.2 226.0 172.5 224.9 175.9 223.5C179.3 222.1 182.6 220.9 186.0 218.3C189.4 215.8 192.8 211.0 196.1 208.3C199.5 205.5 202.9 202.5 206.3 202.0C209.6 201.5 213.0 204.0 216.4 205.3C219.8 206.7 224.8 209.2 226.5 210.0M125.3 207.5C127.0 208.3 132.0 211.5 135.4 212.6C138.8 213.6 142.2 214.2 145.5 213.8C148.9 213.4 152.3 210.5 155.7 210.0C159.0 209.5 162.4 209.5 165.8 210.6C169.2 211.8 172.5 215.9 175.9 216.8C179.3 217.7 182.6 217.8 186.0 216.2C189.4 214.6 192.8 209.8 196.1 207.4C199.5 205.0 202.9 202.6 206.3 202.0C209.6 201.3 213.0 202.4 216.4 203.3C219.8 204.2 224.8 206.8 226.5 207.5M175.9 237.6C176.7 238.5 179.3 241.4 181.0 243.1C182.6 244.7 184.0 246.0 186.0 247.6C188.0 249.2 190.8 252.1 192.8 252.7C194.8 253.3 196.3 252.4 198.2 251.3C200.1 250.1 202.3 247.9 204.2 245.8C206.1 243.7 207.9 240.6 209.6 238.5C211.3 236.4 212.4 234.2 214.4 233.0C216.3 231.8 219.4 231.6 221.4 231.2C223.5 230.7 225.7 230.4 226.5 230.3M175.9 236.7C176.7 237.6 179.3 240.5 181.0 242.1C182.6 243.8 184.0 245.1 186.0 246.7C188.0 248.3 190.8 251.1 192.8 251.6C194.8 252.2 196.3 251.3 198.2 250.2C200.1 249.1 202.3 247.0 204.2 244.9C206.1 242.8 207.9 239.7 209.6 237.6C211.3 235.4 213.6 233.0 214.4 232.1M135.4 236.7C137.1 236.8 142.2 237.1 145.5 237.6C148.9 238.0 152.3 238.9 155.7 239.4C159.0 239.9 162.4 240.5 165.8 240.3C169.2 240.2 174.2 238.8 175.9 238.5M130.4 214.7C131.5 216.3 134.9 221.1 137.4 223.9C140.0 226.6 142.5 229.2 145.5 231.2C148.6 233.2 152.3 234.6 155.7 235.7C159.0 236.9 162.4 237.8 165.8 238.1C169.2 238.4 172.9 238.7 175.9 237.6C178.9 236.4 181.2 233.8 184.0 231.2C186.8 228.6 190.8 224.8 192.8 222.1C194.8 219.3 195.6 216.0 196.1 214.7M186.0 214.7C187.2 215.7 190.3 218.2 192.8 220.2C195.3 222.2 198.4 224.9 201.2 226.6C204.0 228.3 206.7 230.0 209.6 230.3C212.5 230.6 215.6 229.2 218.4 228.4C221.2 227.7 225.2 226.2 226.5 225.7M175.9 321.6C177.2 322.6 181.2 326.0 184.0 328.0C186.8 330.0 189.9 333.5 192.8 333.5C195.7 333.5 198.4 330.1 201.2 328.0C204.0 325.8 207.1 322.8 209.6 320.7C212.1 318.5 213.6 316.9 216.4 315.2C219.2 313.5 224.8 311.4 226.5 310.6M175.9 346.2C177.2 345.0 181.2 340.6 184.0 338.9C186.8 337.3 189.9 336.2 192.8 336.2C195.7 336.2 198.4 337.3 201.2 338.9C204.0 340.6 207.1 343.8 209.6 346.2C212.1 348.7 215.2 352.3 216.4 353.5M125.3 368.5C127.0 369.0 132.0 369.8 135.4 371.5C138.8 373.1 142.2 377.1 145.5 378.4C148.9 379.7 152.3 380.4 155.7 379.1C159.0 377.8 162.4 372.7 165.8 370.6C169.2 368.6 172.5 366.4 175.9 366.8C179.3 367.2 182.6 371.2 186.0 372.8C189.4 374.5 192.8 376.6 196.1 376.8C199.5 377.0 202.9 375.0 206.3 373.9C209.6 372.7 213.0 370.9 216.4 370.0C219.8 369.1 224.8 368.8 226.5 368.5M125.3 379.1C127.0 378.9 132.0 379.2 135.4 377.8C138.8 376.4 142.2 372.7 145.5 370.7C148.9 368.8 152.3 366.5 155.7 366.3C159.0 366.2 162.4 367.9 165.8 369.9C169.2 371.8 172.5 376.4 175.9 377.9C179.3 379.4 182.6 380.1 186.0 378.7C189.4 377.3 192.8 372.0 196.1 369.6C199.5 367.2 202.9 364.3 206.3 364.6C209.6 364.9 213.0 368.9 216.4 371.3C219.8 373.8 224.8 377.8 226.5 379.1M125.3 360.9C127.0 361.7 132.0 363.6 135.4 365.3C138.8 367.0 142.2 369.0 145.5 371.1C148.9 373.3 152.3 376.9 155.7 378.2C159.0 379.6 162.4 379.5 165.8 379.1C169.2 378.7 172.5 376.4 175.9 375.7C179.3 375.0 182.6 375.8 186.0 375.1C189.4 374.5 192.8 373.9 196.1 371.8C199.5 369.7 202.9 364.8 206.3 362.4C209.6 360.1 213.0 357.9 216.4 357.7C219.8 357.4 224.8 360.4 226.5 360.9M125.3 379.1C127.0 378.6 132.0 378.8 135.4 376.1C138.8 373.4 142.2 367.1 145.5 362.9C148.9 358.6 152.3 353.3 155.7 350.8C159.0 348.3 162.4 347.7 165.8 347.8C169.2 348.0 172.5 350.7 175.9 351.6C179.3 352.4 182.6 353.0 186.0 352.9C189.4 352.7 192.8 350.2 196.1 350.5C199.5 350.8 202.9 351.7 206.3 354.6C209.6 357.6 213.0 364.2 216.4 368.3C219.8 372.4 224.8 377.3 226.5 379.1M125.3 367.0C127.0 366.8 132.0 366.3 135.4 365.6C138.8 365.0 142.2 362.8 145.5 363.1C148.9 363.3 152.3 365.1 155.7 367.0C159.0 369.0 162.4 373.3 165.8 374.7C169.2 376.1 172.5 376.7 175.9 375.6C179.3 374.5 182.6 370.6 186.0 368.2C189.4 365.8 192.8 362.5 196.1 361.1C199.5 359.8 202.9 359.6 206.3 360.1C209.6 360.5 213.0 362.5 216.4 363.7C219.8 364.8 224.8 366.4 226.5 367.0M125.3 362.6C127.0 362.3 132.0 361.5 135.4 360.5C138.8 359.5 142.2 357.1 145.5 356.7C148.9 356.3 152.3 356.4 155.7 357.9C159.0 359.5 162.4 363.9 165.8 365.8C169.2 367.8 172.5 369.5 175.9 369.9C179.3 370.2 182.6 368.2 186.0 367.8C189.4 367.4 192.8 367.3 196.1 367.2C199.5 367.2 202.9 367.8 206.3 367.4C209.6 367.0 213.0 365.6 216.4 364.8C219.8 364.0 224.8 363.0 226.5 362.6M125.3 357.5C127.0 357.8 132.0 359.1 135.4 359.7C138.8 360.2 142.2 360.3 145.5 360.9C148.9 361.5 152.3 362.2 155.7 363.4C159.0 364.7 162.4 366.9 165.8 368.4C169.2 369.9 172.5 371.9 175.9 372.4C179.3 372.9 182.6 372.6 186.0 371.5C189.4 370.5 192.8 368.1 196.1 366.1C199.5 364.1 202.9 361.2 206.3 359.6C209.6 358.0 213.0 356.8 216.4 356.4C219.8 356.0 224.8 357.3 226.5 357.5M125.3 366.8C127.0 367.7 132.0 371.6 135.4 372.0C138.8 372.4 142.2 371.0 145.5 369.1C148.9 367.2 152.3 362.9 155.7 360.7C159.0 358.5 162.4 357.2 165.8 355.7C169.2 354.1 172.5 352.6 175.9 351.5C179.3 350.5 182.6 348.7 186.0 349.3C189.4 349.9 192.8 353.0 196.1 355.2C199.5 357.4 202.9 361.0 206.3 362.5C209.6 363.9 213.0 363.1 216.4 363.8C219.8 364.6 224.8 366.3 226.5 366.8M125.3 363.0C127.0 362.5 132.0 360.6 135.4 359.8C138.8 358.9 142.2 357.5 145.5 357.9C148.9 358.2 152.3 360.6 155.7 361.9C159.0 363.1 162.4 365.6 165.8 365.4C169.2 365.2 172.5 362.8 175.9 360.6C179.3 358.4 182.6 354.0 186.0 352.3C189.4 350.6 192.8 349.8 196.1 350.3C199.5 350.8 202.9 353.6 206.3 355.4C209.6 357.3 213.0 360.2 216.4 361.5C219.8 362.7 224.8 362.7 226.5 363.0M125.3 345.7C127.0 346.4 132.0 348.0 135.4 349.9C138.8 351.7 142.2 353.9 145.5 356.6C148.9 359.2 152.3 363.7 155.7 365.6C159.0 367.4 162.4 368.0 165.8 367.6C169.2 367.2 172.5 364.6 175.9 363.1C179.3 361.6 182.6 360.5 186.0 358.5C189.4 356.6 192.8 354.1 196.1 351.5C199.5 348.8 202.9 344.3 206.3 342.6C209.6 340.8 213.0 340.5 216.4 341.0C219.8 341.5 224.8 344.9 226.5 345.7M125.3 349.6C127.0 349.3 132.0 347.1 135.4 347.5C138.8 347.8 142.2 351.0 145.5 351.8C148.9 352.5 152.3 352.7 155.7 352.0C159.0 351.2 162.4 348.2 165.8 347.4C169.2 346.6 172.5 346.8 175.9 347.1C179.3 347.5 182.6 348.9 186.0 349.4C189.4 349.8 192.8 349.4 196.1 350.0C199.5 350.6 202.9 352.1 206.3 352.8C209.6 353.5 213.0 354.8 216.4 354.3C219.8 353.8 224.8 350.4 226.5 349.6M125.3 359.3C127.0 358.1 132.0 355.2 135.4 352.3C138.8 349.4 142.2 344.3 145.5 342.0C148.9 339.8 152.3 338.9 155.7 338.7C159.0 338.6 162.4 340.8 165.8 341.2C169.2 341.7 172.5 341.5 175.9 341.4C179.3 341.2 182.6 340.0 186.0 340.5C189.4 341.0 192.8 342.6 196.1 344.5C199.5 346.3 202.9 349.4 206.3 351.7C209.6 353.9 213.0 356.7 216.4 357.9C219.8 359.2 224.8 359.1 226.5 359.3M125.3 352.1C127.0 351.5 132.0 349.5 135.4 348.5C138.8 347.5 142.2 347.9 145.5 346.1C148.9 344.4 152.3 340.8 155.7 338.0C159.0 335.3 162.4 330.8 165.8 329.8C169.2 328.7 172.5 329.9 175.9 331.9C179.3 333.9 182.6 338.4 186.0 341.7C189.4 345.0 192.8 348.9 196.1 351.7C199.5 354.4 202.9 357.2 206.3 358.3C209.6 359.3 213.0 359.1 216.4 358.0C219.8 357.0 224.8 353.1 226.5 352.1M125.3 328.5C127.0 329.4 132.0 331.9 135.4 334.1C138.8 336.3 142.2 340.5 145.5 341.7C148.9 342.8 152.3 341.1 155.7 341.0C159.0 340.8 162.4 339.2 165.8 341.0C169.2 342.8 172.5 348.5 175.9 351.8C179.3 355.0 182.6 359.8 186.0 360.2C189.4 360.6 192.8 357.3 196.1 354.2C199.5 351.1 202.9 345.4 206.3 341.7C209.6 338.0 213.0 334.2 216.4 332.0C219.8 329.8 224.8 329.1 226.5 328.5M125.3 339.0C127.0 339.3 132.0 339.8 135.4 340.5C138.8 341.2 142.2 342.1 145.5 343.2C148.9 344.3 152.3 346.2 155.7 346.9C159.0 347.7 162.4 348.3 165.8 347.4C169.2 346.6 172.5 343.9 175.9 341.7C179.3 339.4 182.6 335.8 186.0 334.0C189.4 332.2 192.8 331.1 196.1 331.0C199.5 330.8 202.9 332.2 206.3 333.2C209.6 334.2 213.0 335.8 216.4 336.7C219.8 337.7 224.8 338.6 226.5 339.0M125.3 343.6C127.0 342.7 132.0 339.7 135.4 338.3C138.8 337.0 142.2 335.5 145.5 335.5C148.9 335.4 152.3 337.3 155.7 338.1C159.0 338.9 162.4 339.8 165.8 340.5C169.2 341.1 172.5 342.0 175.9 342.0C179.3 342.0 182.6 341.9 186.0 340.7C189.4 339.4 192.8 335.8 196.1 334.5C199.5 333.2 202.9 331.9 206.3 332.8C209.6 333.7 213.0 338.3 216.4 340.1C219.8 341.9 224.8 343.0 226.5 343.6M125.3 335.5C127.0 334.8 132.0 332.7 135.4 331.8C138.8 330.8 142.2 329.9 145.5 329.7C148.9 329.4 152.3 329.7 155.7 330.4C159.0 331.1 162.4 332.7 165.8 334.0C169.2 335.3 172.5 337.5 175.9 338.1C179.3 338.7 182.6 338.3 186.0 337.6C189.4 337.0 192.8 334.7 196.1 334.0C199.5 333.4 202.9 333.6 206.3 334.0C209.6 334.4 213.0 336.2 216.4 336.4C219.8 336.7 224.8 335.6 226.5 335.5M125.3 324.2C127.0 324.3 132.0 323.5 135.4 324.8C138.8 326.1 142.2 329.7 145.5 331.8C148.9 334.0 152.3 337.9 155.7 337.8C159.0 337.7 162.4 333.7 165.8 331.0C169.2 328.3 172.5 322.9 175.9 321.6C179.3 320.3 182.6 322.1 186.0 323.1C189.4 324.0 192.8 326.7 196.1 327.1C199.5 327.6 202.9 326.4 206.3 326.0C209.6 325.6 213.0 325.0 216.4 324.7C219.8 324.4 224.8 324.3 226.5 324.2M125.3 320.7C126.5 322.2 130.0 326.5 132.4 329.8C134.7 333.1 137.3 337.4 139.5 340.8C141.7 344.1 143.3 346.8 145.5 349.9C147.7 352.9 150.4 356.3 152.6 359.0C154.8 361.8 157.7 365.1 158.7 366.3M155.7 366.3C156.8 364.5 160.6 358.7 162.7 355.4C164.9 352.0 166.6 349.0 168.8 346.2C171.0 343.5 173.7 341.7 175.9 338.9C178.1 336.2 181.0 331.3 182.0 329.8M196.1 366.3C197.3 364.2 200.7 357.5 203.2 353.5C205.8 349.6 208.6 345.9 211.3 342.6C214.0 339.2 216.9 336.2 219.4 333.5C221.9 330.7 225.3 327.4 226.5 326.1" fill="none" stroke="#2450a8" stroke-width="1.49"/>
<path d="M125.3 237.2C127.0 237.7 132.0 239.4 135.4 240.1C138.8 240.8 142.2 241.1 145.5 241.2C148.9 241.4 152.3 241.2 155.7 240.9C159.0 240.6 162.4 239.9 165.8 239.3C169.2 238.7 172.5 237.8 175.9 237.3C179.3 236.8 182.6 236.6 186.0 236.3C189.4 236.0 192.8 235.8 196.1 235.4C199.5 235.1 202.9 234.2 206.3 234.0C209.6 233.8 213.0 233.7 216.4 234.3C219.8 234.8 224.8 236.7 226.5 237.2M125.3 236.6C127.0 236.3 132.0 235.1 135.4 235.0C138.8 234.8 142.2 235.4 145.5 235.7C148.9 236.0 152.3 236.4 155.7 236.6C159.0 236.9 162.4 237.0 165.8 237.2C169.2 237.4 172.5 237.7 175.9 237.6C179.3 237.6 182.6 237.0 186.0 236.7C189.4 236.5 192.8 235.9 196.1 236.0C199.5 236.1 202.9 237.1 206.3 237.6C209.6 238.0 213.0 238.8 216.4 238.6C219.8 238.4 224.8 236.9 226.5 236.6M125.3 315.2C127.0 315.1 132.0 314.8 135.4 314.5C138.8 314.2 142.2 313.7 145.5 313.5C148.9 313.2 152.3 313.1 155.7 313.1C159.0 313.1 162.4 313.2 165.8 313.5C169.2 313.8 172.5 314.5 175.9 314.7C179.3 315.0 182.6 315.2 186.0 314.9C189.4 314.7 192.8 313.8 196.1 313.4C199.5 313.0 202.9 312.6 206.3 312.7C209.6 312.9 213.0 313.8 216.4 314.2C219.8 314.6 224.8 315.0 226.5 315.2M125.3 370.0C127.0 369.6 132.0 368.5 135.4 367.7C138.8 366.9 142.2 365.6 145.5 365.2C148.9 364.8 152.3 364.8 155.7 365.2C159.0 365.6 162.4 367.0 165.8 367.8C169.2 368.6 172.5 369.8 175.9 369.8C179.3 369.9 182.6 368.9 186.0 368.1C189.4 367.2 192.8 365.3 196.1 364.8C199.5 364.3 202.9 364.5 206.3 365.2C209.6 365.8 213.0 367.9 216.4 368.7C219.8 369.5 224.8 369.8 226.5 370.0M125.3 355.0C127.0 354.2 132.0 351.4 135.4 350.5C138.8 349.6 142.2 349.1 145.5 349.4C148.9 349.8 152.3 351.6 155.7 352.6C159.0 353.7 162.4 354.9 165.8 355.5C169.2 356.0 172.5 355.9 175.9 355.7C179.3 355.6 182.6 355.0 186.0 354.7C189.4 354.4 192.8 353.8 196.1 353.8C199.5 353.9 202.9 354.4 206.3 354.9C209.6 355.4 213.0 356.7 216.4 356.7C219.8 356.7 224.8 355.2 226.5 355.0M125.3 342.4C127.0 341.7 132.0 339.6 135.4 338.2C138.8 336.7 142.2 334.8 145.5 333.7C148.9 332.6 152.3 331.8 155.7 331.7C159.0 331.6 162.4 332.3 165.8 333.1C169.2 333.8 172.5 335.1 175.9 336.2C179.3 337.2 182.6 338.2 186.0 339.1C189.4 340.0 192.8 340.8 196.1 341.5C199.5 342.3 202.9 343.0 206.3 343.5C209.6 343.9 213.0 344.3 216.4 344.1C219.8 343.9 224.8 342.7 226.5 342.4M125.3 333.7C127.0 333.3 132.0 332.7 135.4 331.8C138.8 330.8 142.2 328.7 145.5 327.8C148.9 326.9 152.3 325.8 155.7 326.2C159.0 326.6 162.4 328.5 165.8 330.2C169.2 331.8 172.5 334.6 175.9 336.0C179.3 337.3 182.6 338.0 186.0 338.1C189.4 338.1 192.8 337.0 196.1 336.3C199.5 335.7 202.9 334.6 206.3 334.2C209.6 333.7 213.0 333.7 216.4 333.6C219.8 333.5 224.8 333.6 226.5 333.7" fill="none" stroke="#2450a8" stroke-width="1.22"/>
<path d="M125.3 223.7C126.7 223.7 130.9 223.7 133.8 223.5C136.6 223.3 138.0 222.8 142.2 222.5C146.4 222.2 153.4 221.4 159.1 221.5C164.7 221.6 171.7 222.8 175.9 223.0C180.1 223.1 181.5 222.8 184.4 222.5C187.2 222.2 188.6 221.3 192.8 221.4C197.0 221.5 204.0 222.4 209.7 223.0C215.3 223.6 223.7 224.6 226.5 224.9M125.3 222.5C126.7 222.4 130.9 221.9 133.8 221.8C136.6 221.7 138.0 222.2 142.2 221.8C146.4 221.5 153.4 219.8 159.1 219.6C164.7 219.3 171.7 220.3 175.9 220.5C180.1 220.7 181.5 221.0 184.4 221.0C187.2 220.9 188.6 219.8 192.8 220.1C197.0 220.4 204.0 222.0 209.7 222.6C215.3 223.2 223.7 223.5 226.5 223.7M125.3 222.0C126.7 221.9 130.9 221.3 133.8 221.1C136.6 220.8 138.0 220.8 142.2 220.5C146.4 220.1 153.4 219.0 159.1 218.9C164.7 218.8 171.7 219.8 175.9 219.9C180.1 219.9 181.5 219.4 184.4 219.3C187.2 219.1 188.6 218.6 192.8 218.8C197.0 219.0 204.0 220.0 209.7 220.5C215.3 220.9 223.7 221.4 226.5 221.6M125.3 311.9C126.7 312.0 130.9 311.9 133.8 312.4C136.6 313.0 138.0 313.9 142.2 315.2C146.4 316.4 153.4 318.6 159.1 320.0C164.7 321.5 171.7 323.4 175.9 323.9C180.1 324.4 181.5 323.6 184.4 322.8C187.2 322.0 188.6 320.7 192.8 319.3C197.0 317.9 204.0 315.8 209.7 314.6C215.3 313.5 223.7 312.7 226.5 312.3M125.3 309.0C126.7 309.5 130.9 311.0 133.8 311.7C136.6 312.4 138.0 312.3 142.2 313.4C146.4 314.5 153.4 316.5 159.1 318.1C164.7 319.8 171.7 322.8 175.9 323.3C180.1 323.8 181.5 322.3 184.4 321.1C187.2 319.9 188.6 317.7 192.8 316.2C197.0 314.8 204.0 313.7 209.7 312.4C215.3 311.2 223.7 309.4 226.5 308.8M125.3 307.7C126.7 307.9 130.9 308.4 133.8 309.2C136.6 310.1 138.0 311.5 142.2 312.9C146.4 314.3 153.4 316.4 159.1 317.8C164.7 319.1 171.7 321.0 175.9 321.0C180.1 321.0 181.5 319.1 184.4 318.0C187.2 317.0 188.6 315.9 192.8 314.7C197.0 313.6 204.0 312.4 209.7 311.3C215.3 310.3 223.7 308.9 226.5 308.4" fill="none" stroke="#2450a8" stroke-width="1.15"/>
<path d="M125.3 264.8C126.7 264.8 130.9 264.7 133.8 264.6C136.6 264.5 138.0 264.5 142.2 264.4C146.4 264.3 153.4 264.2 159.1 264.1C164.7 263.9 171.7 263.7 175.9 263.7C180.1 263.7 181.5 263.9 184.4 264.1C187.2 264.2 188.6 264.3 192.8 264.4C197.0 264.5 204.0 264.7 209.7 264.8C215.3 264.8 223.7 264.8 226.5 264.8M125.3 265.2C126.7 265.1 130.9 265.0 133.8 265.0C136.6 264.9 138.0 264.9 142.2 264.8C146.4 264.7 153.4 264.5 159.1 264.4C164.7 264.3 171.7 264.0 175.9 264.1C180.1 264.1 181.5 264.5 184.4 264.6C187.2 264.8 188.6 264.9 192.8 265.0C197.0 265.1 204.0 265.1 209.7 265.2C215.3 265.2 223.7 265.2 226.5 265.2M125.3 267.7C126.7 267.7 130.9 267.8 133.8 267.7C136.6 267.6 138.0 267.4 142.2 267.3C146.4 267.3 153.4 267.3 159.1 267.2C164.7 267.1 171.7 266.8 175.9 266.8C180.1 266.8 181.5 267.2 184.4 267.3C187.2 267.5 188.6 267.6 192.8 267.7C197.0 267.8 204.0 268.1 209.7 268.1C215.3 268.1 223.7 267.8 226.5 267.7M125.3 268.3C126.7 268.3 130.9 268.3 133.8 268.3C136.6 268.2 138.0 268.0 142.2 267.9C146.4 267.8 153.4 267.8 159.1 267.7C164.7 267.6 171.7 267.3 175.9 267.3C180.1 267.4 181.5 267.7 184.4 267.9C187.2 268.0 188.6 268.1 192.8 268.3C197.0 268.4 204.0 268.6 209.7 268.6C215.3 268.6 223.7 268.3 226.5 268.3M125.3 275.0C126.7 275.0 130.9 274.8 133.8 274.6C136.6 274.5 138.0 274.5 142.2 274.1C146.4 273.7 153.4 272.7 159.1 272.3C164.7 271.9 171.7 271.7 175.9 271.7C180.1 271.7 181.5 272.0 184.4 272.3C187.2 272.6 188.6 273.2 192.8 273.6C197.0 273.9 204.0 274.4 209.7 274.6C215.3 274.9 223.7 275.0 226.5 275.0M125.3 275.6C126.7 275.5 130.9 275.3 133.8 275.2C136.6 275.0 138.0 275.0 142.2 274.6C146.4 274.3 153.4 273.4 159.1 273.0C164.7 272.6 171.7 272.5 175.9 272.5C180.1 272.5 181.5 272.7 184.4 273.0C187.2 273.3 188.6 273.7 192.8 274.1C197.0 274.5 204.0 275.0 209.7 275.2C215.3 275.4 223.7 275.5 226.5 275.6M125.3 274.1C126.0 273.0 128.0 270.3 129.3 267.7C130.7 265.1 132.0 261.5 133.4 258.6C134.7 255.7 136.1 252.8 137.4 250.4C138.8 247.9 139.8 245.8 141.5 244.0C143.2 242.1 146.6 240.2 147.6 239.4M226.5 273.2C225.7 272.0 223.1 268.6 221.4 265.9C219.8 263.1 217.9 259.5 216.4 256.8C214.9 254.0 213.7 251.6 212.3 249.4C211.0 247.3 209.6 245.6 208.3 244.0C206.9 242.3 204.9 240.2 204.2 239.4M226.5 244.0C225.7 244.1 223.1 244.9 221.4 244.9C219.8 244.9 218.1 244.4 216.4 244.0C214.7 243.5 212.2 242.4 211.3 242.1" fill="none" stroke="#2450a8" stroke-width="0.85"/>
<line x1="125.3" y1="291.4" x2="226.5" y2="291.4" stroke="#e04a40" stroke-width="0.9" stroke-dasharray="3 2"/>
</g>
<rect x="125.3" y="218.4" width="101.2" height="146.1" fill="none" stroke="#666" stroke-width="1"/>
<text x="125.3" y="372.1" class="k">Γ</text>
<text x="142.2" y="372.1" class="k">F</text>
<text x="175.9" y="372.1" class="k">Q</text>
<text x="192.8" y="372.1" class="k">Z</text>
<text x="226.5" y="372.1" class="k">Γ</text>
<clipPath id="c12"><rect x="247.6" y="218.4" width="101.1" height="146.1"/></clipPath>
<g clip-path="url(#c12)">
<line x1="281.3" y1="218.4" x2="281.3" y2="364.5" stroke="#aaa" stroke-width="0.6" stroke-dasharray="1.5 2"/>
<line x1="298.1" y1="218.4" x2="298.1" y2="364.5" stroke="#aaa" stroke-width="0.6" stroke-dasharray="1.5 2"/>
<line x1="331.8" y1="218.4" x2="331.8" y2="364.5" stroke="#aaa" stroke-width="0.6" stroke-dasharray="1.5 2"/>
<path d="M247.6 228.7C249.3 229.0 254.3 230.3 257.7 230.5C261.1 230.7 264.4 230.4 267.8 229.9C271.2 229.3 274.6 227.9 277.9 227.4C281.3 226.9 284.7 226.4 288.0 226.9C291.4 227.4 294.8 229.4 298.1 230.3C301.5 231.2 304.9 232.5 308.3 232.3C311.6 232.0 315.0 230.1 318.4 228.9C321.7 227.6 325.1 225.5 328.5 224.9C331.9 224.4 335.2 225.0 338.6 225.6C342.0 226.2 347.0 228.2 348.7 228.7M247.6 221.8C249.3 222.6 254.3 225.0 257.7 226.5C261.1 228.0 264.4 230.4 267.8 230.9C271.2 231.5 274.6 230.6 277.9 229.8C281.3 228.9 284.7 226.2 288.0 225.5C291.4 224.9 294.8 225.1 298.1 225.6C301.5 226.1 304.9 228.3 308.3 228.7C311.6 229.0 315.0 228.7 318.4 227.9C321.7 227.0 325.1 224.7 328.5 223.5C331.9 222.4 335.2 221.0 338.6 220.7C342.0 220.4 347.0 221.6 348.7 221.8M247.6 214.7C249.3 215.4 254.3 217.5 257.7 219.0C261.1 220.5 264.4 222.5 267.8 223.9C271.2 225.3 274.6 226.7 277.9 227.4C281.3 228.0 284.7 228.2 288.0 227.9C291.4 227.6 294.8 226.7 298.1 225.6C301.5 224.5 304.9 222.8 308.3 221.3C311.6 219.8 315.0 217.8 318.4 216.4C321.7 215.0 325.1 213.6 328.5 212.9C331.9 212.3 335.2 212.1 338.6 212.4C342.0 212.7 347.0 214.3 348.7 214.7M247.6 219.4C249.3 219.8 254.3 221.8 257.7 221.9C261.1 222.0 264.4 221.0 267.8 220.1C271.2 219.2 274.6 216.9 277.9 216.5C281.3 216.0 284.7 216.4 288.0 217.2C291.4 218.1 294.8 220.5 298.1 221.4C301.5 222.2 304.9 222.7 308.3 222.4C311.6 222.0 315.0 220.3 318.4 219.4C321.7 218.4 325.1 217.1 328.5 216.6C331.9 216.1 335.2 216.2 338.6 216.6C342.0 217.1 347.0 218.9 348.7 219.4M247.6 213.0C249.3 213.7 254.3 216.6 257.7 217.4C261.1 218.1 264.4 218.0 267.8 217.6C271.2 217.3 274.6 216.0 277.9 215.2C281.3 214.4 284.7 213.2 288.0 213.0C291.4 212.8 294.8 213.2 298.1 214.0C301.5 214.9 304.9 217.2 308.3 217.9C311.6 218.5 315.0 219.0 318.4 218.1C321.7 217.2 325.1 214.1 328.5 212.7C331.9 211.3 335.2 209.5 338.6 209.5C342.0 209.6 347.0 212.4 348.7 213.0M247.6 209.0C249.3 208.8 254.3 208.2 257.7 208.0C261.1 207.8 264.4 207.2 267.8 207.6C271.2 208.0 274.6 209.7 277.9 210.4C281.3 211.1 284.7 212.2 288.0 212.0C291.4 211.8 294.8 209.9 298.1 209.2C301.5 208.4 304.9 207.4 308.3 207.4C311.6 207.5 315.0 208.9 318.4 209.3C321.7 209.8 325.1 210.3 328.5 210.3C331.9 210.3 335.2 209.6 338.6 209.4C342.0 209.2 347.0 209.0 348.7 209.0M247.6 378.1C249.3 378.2 254.3 380.5 257.7 379.1C261.1 377.7 264.4 372.4 267.8 369.6C271.2 366.9 274.6 363.0 277.9 362.4C281.3 361.8 284.7 364.2 288.0 366.0C291.4 367.8 294.8 371.7 298.1 373.2C301.5 374.6 304.9 375.2 308.3 374.7C311.6 374.2 315.0 371.6 318.4 370.1C321.7 368.7 325.1 366.2 328.5 366.1C331.9 366.1 335.2 367.7 338.6 369.7C342.0 371.7 347.0 376.7 348.7 378.1M247.6 369.7C249.3 368.8 254.3 366.3 257.7 364.4C261.1 362.5 264.4 359.0 267.8 358.3C271.2 357.7 274.6 358.5 277.9 360.7C281.3 362.8 284.7 368.3 288.0 371.4C291.4 374.5 294.8 378.0 298.1 379.1C301.5 380.2 304.9 378.9 308.3 377.9C311.6 376.9 315.0 374.3 318.4 373.1C321.7 371.9 325.1 371.0 328.5 370.6C331.9 370.2 335.2 370.7 338.6 370.6C342.0 370.4 347.0 369.8 348.7 369.7M247.6 371.5C249.3 372.2 254.3 375.6 257.7 375.6C261.1 375.7 264.4 374.5 267.8 371.8C271.2 369.2 274.6 363.2 277.9 359.6C281.3 356.1 284.7 351.6 288.0 350.6C291.4 349.5 294.8 351.2 298.1 353.3C301.5 355.4 304.9 360.5 308.3 363.3C311.6 366.1 315.0 369.2 318.4 370.4C321.7 371.6 325.1 370.8 328.5 370.5C331.9 370.2 335.2 368.6 338.6 368.8C342.0 369.0 347.0 371.1 348.7 371.5M247.6 366.5C249.3 367.2 254.3 369.9 257.7 370.7C261.1 371.5 264.4 372.2 267.8 371.2C271.2 370.2 274.6 367.3 277.9 364.7C281.3 362.1 284.7 357.9 288.0 355.9C291.4 353.9 294.8 352.5 298.1 352.7C301.5 352.8 304.9 355.2 308.3 356.8C311.6 358.5 315.0 361.3 318.4 362.7C321.7 364.0 325.1 364.4 328.5 364.7C331.9 365.0 335.2 364.2 338.6 364.5C342.0 364.8 347.0 366.2 348.7 366.5M247.6 364.2C249.3 365.3 254.3 370.7 257.7 370.9C261.1 371.1 264.4 368.3 267.8 365.4C271.2 362.5 274.6 356.6 277.9 353.5C281.3 350.4 284.7 348.0 288.0 346.8C291.4 345.6 294.8 345.1 298.1 346.0C301.5 346.9 304.9 349.5 308.3 352.2C311.6 354.9 315.0 360.3 318.4 362.3C321.7 364.3 325.1 364.5 328.5 364.1C331.9 363.8 335.2 360.1 338.6 360.1C342.0 360.1 347.0 363.5 348.7 364.2M247.6 353.8C249.3 354.1 254.3 354.8 257.7 355.5C261.1 356.2 264.4 357.0 267.8 358.1C271.2 359.2 274.6 361.2 277.9 362.1C281.3 362.9 284.7 364.0 288.0 363.5C291.4 363.0 294.8 360.3 298.1 358.9C301.5 357.4 304.9 355.2 308.3 354.7C311.6 354.3 315.0 355.8 318.4 356.3C321.7 356.7 325.1 357.6 328.5 357.4C331.9 357.1 335.2 355.5 338.6 354.9C342.0 354.3 347.0 354.0 348.7 353.8M247.6 349.5C249.3 350.3 254.3 352.4 257.7 353.9C261.1 355.4 264.4 357.4 267.8 358.7C271.2 360.0 274.6 361.2 277.9 361.6C281.3 362.0 284.7 361.9 288.0 361.3C291.4 360.7 294.8 359.3 298.1 358.0C301.5 356.7 304.9 354.9 308.3 353.5C311.6 352.1 315.0 350.6 318.4 349.6C321.7 348.6 325.1 347.7 328.5 347.3C331.9 346.9 335.2 346.8 338.6 347.2C342.0 347.6 347.0 349.1 348.7 349.5M247.6 348.4C249.3 348.6 254.3 348.6 257.7 349.5C261.1 350.4 264.4 352.4 267.8 353.9C271.2 355.5 274.6 357.9 277.9 358.7C281.3 359.6 284.7 359.7 288.0 358.8C291.4 357.9 294.8 355.2 298.1 353.4C301.5 351.6 304.9 349.0 308.3 347.8C311.6 346.7 315.0 346.4 318.4 346.4C321.7 346.4 325.1 347.5 328.5 347.9C331.9 348.3 335.2 348.7 338.6 348.8C342.0 348.9 347.0 348.5 348.7 348.4M247.6 352.5C249.3 353.3 254.3 357.5 257.7 357.3C261.1 357.1 264.4 354.3 267.8 351.3C271.2 348.3 274.6 342.6 277.9 339.3C281.3 336.0 284.7 333.0 288.0 331.5C291.4 329.9 294.8 328.9 298.1 329.9C301.5 330.9 304.9 334.0 308.3 337.4C311.6 340.7 315.0 347.3 318.4 350.0C321.7 352.8 325.1 353.9 328.5 353.8C331.9 353.8 335.2 350.2 338.6 350.0C342.0 349.7 347.0 352.1 348.7 352.5M247.6 327.9C249.3 329.2 254.3 333.4 257.7 335.6C261.1 337.8 264.4 339.4 267.8 341.0C271.2 342.5 274.6 344.0 277.9 345.0C281.3 346.0 284.7 346.6 288.0 346.9C291.4 347.3 294.8 347.7 298.1 347.0C301.5 346.3 304.9 345.5 308.3 343.0C311.6 340.5 315.0 335.6 318.4 331.8C321.7 328.1 325.1 322.5 328.5 320.5C331.9 318.5 335.2 318.6 338.6 319.8C342.0 321.0 347.0 326.5 348.7 327.9M247.6 332.1C249.3 332.2 254.3 332.2 257.7 332.7C261.1 333.1 264.4 334.2 267.8 334.8C271.2 335.3 274.6 336.0 277.9 336.0C281.3 336.1 284.7 335.9 288.0 335.3C291.4 334.7 294.8 333.1 298.1 332.3C301.5 331.6 304.9 330.6 308.3 330.7C311.6 330.8 315.0 332.3 318.4 333.2C321.7 334.0 325.1 335.6 328.5 335.8C331.9 336.0 335.2 334.9 338.6 334.3C342.0 333.7 347.0 332.4 348.7 332.1M247.6 337.3C249.3 336.9 254.3 335.9 257.7 334.6C261.1 333.4 264.4 331.6 267.8 329.6C271.2 327.6 274.6 324.5 277.9 322.7C281.3 320.9 284.7 318.8 288.0 318.8C291.4 318.9 294.8 320.5 298.1 322.8C301.5 325.1 304.9 329.6 308.3 332.6C311.6 335.6 315.0 339.2 318.4 340.8C321.7 342.5 325.1 342.8 328.5 342.7C331.9 342.5 335.2 341.0 338.6 340.1C342.0 339.2 347.0 337.8 348.7 337.3M247.6 329.8C249.3 329.4 254.3 327.6 257.7 327.3C261.1 326.9 264.4 327.8 267.8 327.8C271.2 327.9 274.6 327.7 277.9 327.4C281.3 327.1 284.7 325.8 288.0 326.0C291.4 326.1 294.8 327.3 298.1 328.2C301.5 329.0 304.9 330.5 308.3 330.9C311.6 331.4 315.0 330.7 318.4 330.7C321.7 330.8 325.1 331.0 328.5 331.2C331.9 331.4 335.2 332.4 338.6 332.2C342.0 332.0 347.0 330.2 348.7 329.8M247.6 322.7C249.3 324.0 254.3 328.2 257.7 330.5C261.1 332.8 264.4 335.1 267.8 336.4C271.2 337.8 274.6 338.4 277.9 338.4C281.3 338.4 284.7 337.8 288.0 336.5C291.4 335.1 294.8 332.3 298.1 330.2C301.5 328.1 304.9 325.3 308.3 323.9C311.6 322.5 315.0 322.2 318.4 321.6C321.7 321.0 325.1 320.7 328.5 320.3C331.9 319.8 335.2 318.6 338.6 319.0C342.0 319.4 347.0 322.0 348.7 322.7M247.6 343.3C249.3 341.6 254.3 334.9 257.7 333.0C261.1 331.1 264.4 332.1 267.8 332.0C271.2 331.8 274.6 333.1 277.9 332.1C281.3 331.2 284.7 328.1 288.0 326.2C291.4 324.2 294.8 321.7 298.1 320.5C301.5 319.3 304.9 318.3 308.3 318.8C311.6 319.4 315.0 320.6 318.4 323.7C321.7 326.9 325.1 333.7 328.5 337.9C331.9 342.0 335.2 347.9 338.6 348.8C342.0 349.7 347.0 344.2 348.7 343.3M247.6 325.1C249.3 324.9 254.3 324.8 257.7 324.2C261.1 323.6 264.4 322.5 267.8 321.6C271.2 320.7 274.6 319.1 277.9 318.8C281.3 318.6 284.7 319.3 288.0 319.9C291.4 320.5 294.8 321.9 298.1 322.4C301.5 322.9 304.9 322.7 308.3 322.9C311.6 323.2 315.0 323.4 318.4 323.9C321.7 324.5 325.1 325.7 328.5 326.1C331.9 326.4 335.2 326.4 338.6 326.2C342.0 326.0 347.0 325.3 348.7 325.1M247.6 364.6C249.3 364.6 254.3 364.8 257.7 364.6C261.1 364.3 264.4 363.5 267.8 363.1C271.2 362.7 274.6 361.9 277.9 362.2C281.3 362.6 284.7 364.2 288.0 365.2C291.4 366.3 294.8 368.0 298.1 368.5C301.5 369.0 304.9 368.4 308.3 368.1C311.6 367.8 315.0 366.9 318.4 366.6C321.7 366.3 325.1 366.3 328.5 366.1C331.9 365.8 335.2 365.4 338.6 365.2C342.0 364.9 347.0 364.7 348.7 364.6M247.6 354.8C249.3 354.7 254.3 354.0 257.7 354.0C261.1 354.1 264.4 354.7 267.8 355.1C271.2 355.5 274.6 355.8 277.9 356.5C281.3 357.1 284.7 358.0 288.0 358.8C291.4 359.6 294.8 360.8 298.1 361.3C301.5 361.8 304.9 361.8 308.3 361.9C311.6 361.9 315.0 361.6 318.4 361.4C321.7 361.2 325.1 361.2 328.5 360.6C331.9 360.1 335.2 359.0 338.6 358.0C342.0 357.0 347.0 355.4 348.7 354.8M247.6 352.7C249.3 352.7 254.3 353.3 257.7 353.0C261.1 352.6 264.4 351.5 267.8 350.6C271.2 349.6 274.6 348.0 277.9 347.3C281.3 346.7 284.7 346.5 288.0 346.8C291.4 347.0 294.8 348.1 298.1 348.8C301.5 349.5 304.9 350.4 308.3 350.8C311.6 351.3 315.0 351.4 318.4 351.5C321.7 351.5 325.1 351.2 328.5 351.2C331.9 351.2 335.2 351.2 338.6 351.5C342.0 351.7 347.0 352.5 348.7 352.7M247.6 345.6C249.3 345.7 254.3 346.3 257.7 346.6C261.1 346.9 264.4 347.1 267.8 347.6C271.2 348.0 274.6 348.7 277.9 349.4C281.3 350.0 284.7 351.1 288.0 351.5C291.4 352.0 294.8 352.1 298.1 352.1C301.5 352.1 304.9 351.7 308.3 351.5C311.6 351.2 315.0 351.0 318.4 350.5C321.7 350.0 325.1 349.1 328.5 348.3C331.9 347.5 335.2 346.4 338.6 345.9C342.0 345.4 347.0 345.6 348.7 345.6M247.6 345.6C249.3 345.3 254.3 344.0 257.7 343.6C261.1 343.2 264.4 343.2 267.8 343.4C271.2 343.6 274.6 344.4 277.9 344.7C281.3 345.0 284.7 345.2 288.0 345.0C291.4 344.9 294.8 344.2 298.1 343.9C301.5 343.5 304.9 343.0 308.3 343.0C311.6 342.9 315.0 343.2 318.4 343.6C321.7 344.0 325.1 344.9 328.5 345.4C331.9 346.0 335.2 346.7 338.6 346.7C342.0 346.7 347.0 345.8 348.7 345.6" fill="none" stroke="#333" stroke-width="0.9"/>
<path d="M247.6 250.8C250.4 250.3 258.8 249.1 264.4 247.8C270.0 246.4 277.1 243.7 281.3 242.7C285.5 241.6 286.9 241.4 289.7 241.6C292.5 241.8 293.9 242.3 298.1 243.7C302.4 245.2 309.4 248.1 315.0 250.4C320.6 252.6 327.6 256.3 331.8 257.1C336.0 258.0 337.4 256.2 340.3 255.6C343.1 254.9 347.3 253.4 348.7 252.9M247.6 246.1C250.4 245.0 258.8 241.6 264.4 239.9C270.0 238.3 277.1 237.0 281.3 236.3C285.5 235.7 286.9 236.1 289.7 236.0C292.5 235.9 293.9 234.4 298.1 235.9C302.4 237.5 309.4 242.7 315.0 245.4C320.6 248.0 327.6 251.0 331.8 251.7C336.0 252.4 337.4 250.2 340.3 249.4C343.1 248.6 347.3 247.4 348.7 247.0M247.6 240.0C250.4 239.0 258.8 235.8 264.4 234.1C270.0 232.4 277.1 230.7 281.3 229.7C285.5 228.7 286.9 227.8 289.7 228.2C292.5 228.5 293.9 230.0 298.1 231.9C302.4 233.8 309.4 237.2 315.0 239.4C320.6 241.7 327.6 245.1 331.8 245.6C336.0 246.2 337.4 243.6 340.3 243.0C343.1 242.3 347.3 242.1 348.7 241.9M247.6 244.5C249.3 244.1 254.3 243.1 257.7 242.1C261.1 241.1 263.9 239.6 267.8 238.5C271.7 237.4 277.6 236.1 281.3 235.7C285.0 235.4 287.2 236.2 290.1 236.7C292.9 237.1 295.1 237.3 298.1 238.5C301.2 239.7 304.9 242.1 308.3 244.0C311.6 245.8 314.4 247.9 318.4 249.4C322.3 251.0 328.4 252.8 331.8 253.1C335.2 253.4 335.8 251.9 338.6 251.3C341.4 250.7 347.0 249.8 348.7 249.4M303.2 214.7C304.9 216.6 309.9 222.4 313.3 225.7C316.7 229.1 320.3 232.4 323.4 234.8C326.5 237.3 329.3 239.7 331.8 240.3C334.3 240.9 335.8 239.1 338.6 238.5C341.4 237.9 347.0 237.0 348.7 236.7M247.6 276.8C248.6 274.7 251.6 268.3 253.7 264.1C255.7 259.8 257.4 255.1 259.7 251.3C262.1 247.5 265.3 243.5 267.8 241.2C270.3 238.9 272.7 238.3 274.9 237.6C277.1 236.8 278.7 236.9 281.3 236.7C283.8 236.4 287.2 236.1 290.1 236.3C292.9 236.4 295.1 236.1 298.1 237.6C301.2 239.0 304.9 242.6 308.3 244.9C311.6 247.2 314.4 249.3 318.4 251.3C322.3 253.3 328.4 254.2 331.8 256.8C335.2 259.3 336.6 263.9 338.6 266.8C340.6 269.7 342.0 271.7 343.6 274.1C345.3 276.5 347.9 280.2 348.7 281.4M247.6 295.1C250.4 295.9 258.8 298.3 264.4 299.7C270.0 301.0 277.1 302.4 281.3 303.1C285.5 303.8 286.9 303.7 289.7 303.9C292.5 304.1 293.9 304.8 298.1 304.2C302.4 303.7 309.4 301.6 315.0 300.6C320.6 299.5 327.6 298.5 331.8 297.8C336.0 297.2 337.4 297.0 340.3 296.6C343.1 296.1 347.3 295.3 348.7 295.1M247.6 295.1C250.4 296.6 258.8 301.9 264.4 304.2C270.0 306.6 277.1 308.4 281.3 309.3C285.5 310.3 286.9 309.6 289.7 309.7C292.5 309.8 293.9 311.0 298.1 310.1C302.4 309.2 309.4 304.2 315.0 304.2C320.6 304.3 327.6 310.6 331.8 310.3C336.0 310.0 337.4 304.9 340.3 302.4C343.1 299.9 347.3 296.3 348.7 295.1M247.6 319.0C250.4 319.2 258.8 320.3 264.4 320.2C270.0 320.1 277.1 318.1 281.3 318.2C285.5 318.3 286.9 320.3 289.7 321.0C292.5 321.6 293.9 322.1 298.1 322.1C302.4 322.1 309.4 321.3 315.0 320.8C320.6 320.2 327.6 319.5 331.8 318.9C336.0 318.3 337.4 317.7 340.3 317.2C343.1 316.8 347.3 316.1 348.7 315.9M247.6 317.5C250.4 317.7 258.8 318.8 264.4 318.7C270.0 318.5 277.1 316.8 281.3 316.7C285.5 316.7 286.9 318.0 289.7 318.5C292.5 319.0 293.9 319.7 298.1 319.8C302.4 319.9 309.4 319.4 315.0 318.9C320.6 318.3 327.6 316.8 331.8 316.4C336.0 315.9 337.4 316.3 340.3 316.1C343.1 315.9 347.3 315.4 348.7 315.3M247.6 314.4C250.4 315.0 258.8 317.4 264.4 317.8C270.0 318.2 277.1 316.7 281.3 316.6C285.5 316.5 286.9 316.7 289.7 317.2C292.5 317.6 293.9 319.6 298.1 319.4C302.4 319.2 309.4 316.8 315.0 316.1C320.6 315.4 327.6 315.5 331.8 315.2C336.0 314.9 337.4 314.7 340.3 314.4C343.1 314.2 347.3 314.0 348.7 313.9M247.6 311.5C250.4 311.8 258.8 313.0 264.4 313.3C270.0 313.5 277.1 312.4 281.3 312.8C285.5 313.1 286.9 314.8 289.7 315.4C292.5 315.9 293.9 316.2 298.1 315.9C302.4 315.6 309.4 314.1 315.0 313.4C320.6 312.7 327.6 312.1 331.8 311.8C336.0 311.6 337.4 311.9 340.3 311.9C343.1 311.9 347.3 311.9 348.7 311.9M298.1 318.8C299.8 320.4 304.9 324.6 308.3 328.0C311.6 331.3 315.0 335.3 318.4 338.9C321.7 342.6 325.1 346.5 328.5 349.9C331.9 353.2 335.2 356.6 338.6 359.0C342.0 361.5 347.0 363.6 348.7 364.5M247.6 362.7C250.4 362.5 258.8 361.8 264.4 361.8C270.0 361.8 277.1 362.5 281.3 362.7C285.5 362.9 286.9 363.1 289.7 363.0C292.5 363.0 293.9 362.5 298.1 362.3C302.4 362.1 309.4 361.7 315.0 361.8C320.6 361.8 327.6 362.5 331.8 362.7C336.0 362.9 337.4 363.0 340.3 363.0C343.1 363.0 347.3 362.7 348.7 362.7" fill="none" stroke="#333" stroke-width="0.85"/>
<path d="M247.6 240.6C249.3 240.2 254.3 239.5 257.7 238.0C261.1 236.4 264.4 232.3 267.8 231.4C271.2 230.4 274.6 230.7 277.9 232.0C281.3 233.4 284.7 237.7 288.0 239.4C291.4 241.1 294.8 242.2 298.1 242.1C301.5 242.1 304.9 240.1 308.3 239.3C311.6 238.4 315.0 237.3 318.4 236.8C321.7 236.3 325.1 235.9 328.5 236.1C331.9 236.2 335.2 237.0 338.6 237.7C342.0 238.5 347.0 240.1 348.7 240.6M247.6 231.1C249.3 231.1 254.3 231.7 257.7 231.4C261.1 231.2 264.4 230.1 267.8 229.4C271.2 228.7 274.6 227.1 277.9 227.2C281.3 227.3 284.7 228.2 288.0 230.0C291.4 231.8 294.8 235.8 298.1 237.8C301.5 239.9 304.9 242.1 308.3 242.1C311.6 242.2 315.0 239.8 318.4 238.0C321.7 236.3 325.1 233.2 328.5 231.8C331.9 230.5 335.2 230.1 338.6 229.9C342.0 229.8 347.0 230.9 348.7 231.1M247.6 239.0C249.3 238.0 254.3 234.4 257.7 233.1C261.1 231.7 264.4 230.7 267.8 230.8C271.2 230.9 274.6 232.4 277.9 233.4C281.3 234.5 284.7 236.6 288.0 237.3C291.4 238.0 294.8 238.2 298.1 237.7C301.5 237.2 304.9 235.2 308.3 234.6C311.6 233.9 315.0 233.3 318.4 233.9C321.7 234.6 325.1 237.2 328.5 238.6C331.9 240.0 335.2 242.1 338.6 242.1C342.0 242.2 347.0 239.5 348.7 239.0M247.6 227.5C249.3 228.6 254.3 232.5 257.7 234.1C261.1 235.8 264.4 236.6 267.8 237.4C271.2 238.2 274.6 238.4 277.9 238.7C281.3 239.0 284.7 239.4 288.0 239.2C291.4 238.9 294.8 238.1 298.1 237.1C301.5 236.1 304.9 234.5 308.3 233.1C311.6 231.8 315.0 230.4 318.4 228.9C321.7 227.5 325.1 225.5 328.5 224.5C331.9 223.5 335.2 222.5 338.6 223.0C342.0 223.5 347.0 226.8 348.7 227.5M247.6 238.6C249.3 237.8 254.3 235.4 257.7 234.0C261.1 232.5 264.4 231.2 267.8 230.0C271.2 228.8 274.6 227.8 277.9 226.9C281.3 226.0 284.7 225.0 288.0 224.6C291.4 224.2 294.8 224.0 298.1 224.4C301.5 224.7 304.9 225.5 308.3 226.7C311.6 227.9 315.0 229.7 318.4 231.5C321.7 233.3 325.1 236.0 328.5 237.5C331.9 239.1 335.2 240.5 338.6 240.7C342.0 240.9 347.0 239.0 348.7 238.6M247.6 219.5C249.3 219.8 254.3 220.4 257.7 221.0C261.1 221.6 264.4 222.1 267.8 223.0C271.2 223.9 274.6 225.4 277.9 226.5C281.3 227.5 284.7 228.8 288.0 229.3C291.4 229.8 294.8 229.6 298.1 229.4C301.5 229.2 304.9 228.8 308.3 228.3C311.6 227.9 315.0 227.6 318.4 226.8C321.7 225.9 325.1 224.5 328.5 223.3C331.9 222.2 335.2 220.5 338.6 219.9C342.0 219.3 347.0 219.6 348.7 219.5M247.6 220.0C249.3 219.4 254.3 217.5 257.7 216.3C261.1 215.0 264.4 213.6 267.8 212.4C271.2 211.3 274.6 210.1 277.9 209.5C281.3 208.8 284.7 208.4 288.0 208.6C291.4 208.9 294.8 209.6 298.1 210.8C301.5 211.9 304.9 213.8 308.3 215.6C311.6 217.3 315.0 219.6 318.4 221.1C321.7 222.5 325.1 223.7 328.5 224.0C331.9 224.4 335.2 223.8 338.6 223.2C342.0 222.5 347.0 220.5 348.7 220.0M247.6 212.5C249.3 212.5 254.3 212.6 257.7 212.2C261.1 211.9 264.4 211.0 267.8 210.4C271.2 209.8 274.6 208.8 277.9 208.5C281.3 208.2 284.7 208.5 288.0 208.6C291.4 208.7 294.8 209.0 298.1 209.1C301.5 209.3 304.9 209.3 308.3 209.8C311.6 210.2 315.0 211.3 318.4 212.0C321.7 212.6 325.1 213.5 328.5 213.8C331.9 214.0 335.2 213.4 338.6 213.2C342.0 213.0 347.0 212.6 348.7 212.5M247.6 378.1C249.3 378.2 254.3 379.5 257.7 379.1C261.1 378.7 264.4 376.7 267.8 375.5C271.2 374.2 274.6 373.0 277.9 371.7C281.3 370.3 284.7 369.6 288.0 367.5C291.4 365.5 294.8 362.1 298.1 359.5C301.5 356.9 304.9 353.0 308.3 351.9C311.6 350.8 315.0 351.3 318.4 352.9C321.7 354.6 325.1 358.5 328.5 361.6C331.9 364.7 335.2 368.7 338.6 371.4C342.0 374.1 347.0 376.9 348.7 378.1M247.6 366.8C249.3 367.4 254.3 368.7 257.7 370.2C261.1 371.8 264.4 375.5 267.8 376.1C271.2 376.6 274.6 374.7 277.9 373.6C281.3 372.5 284.7 370.0 288.0 369.5C291.4 369.1 294.8 370.3 298.1 370.9C301.5 371.6 304.9 372.7 308.3 373.5C311.6 374.2 315.0 375.0 318.4 375.6C321.7 376.2 325.1 377.6 328.5 377.1C331.9 376.6 335.2 374.3 338.6 372.6C342.0 370.9 347.0 367.8 348.7 366.8M247.6 373.4C249.3 372.6 254.3 370.5 257.7 368.8C261.1 367.0 264.4 363.2 267.8 363.0C271.2 362.9 274.6 366.0 277.9 367.8C281.3 369.5 284.7 372.9 288.0 373.5C291.4 374.0 294.8 372.2 298.1 371.0C301.5 369.8 304.9 367.7 308.3 366.4C311.6 365.2 315.0 364.0 318.4 363.3C321.7 362.7 325.1 361.6 328.5 362.3C331.9 363.1 335.2 366.0 338.6 367.8C342.0 369.7 347.0 372.5 348.7 373.4M247.6 369.3C249.3 368.7 254.3 366.8 257.7 365.6C261.1 364.4 264.4 362.6 267.8 361.9C271.2 361.3 274.6 361.9 277.9 361.9C281.3 361.9 284.7 362.4 288.0 361.7C291.4 361.1 294.8 359.1 298.1 358.1C301.5 357.1 304.9 355.7 308.3 355.9C311.6 356.0 315.0 357.7 318.4 359.2C321.7 360.7 325.1 363.3 328.5 364.9C331.9 366.6 335.2 368.2 338.6 369.0C342.0 369.7 347.0 369.2 348.7 369.3M247.6 348.7C249.3 349.0 254.3 349.8 257.7 350.2C261.1 350.5 264.4 350.8 267.8 350.9C271.2 350.9 274.6 350.3 277.9 350.4C281.3 350.6 284.7 351.6 288.0 351.8C291.4 352.0 294.8 352.0 298.1 351.6C301.5 351.2 304.9 349.4 308.3 349.3C311.6 349.2 315.0 350.2 318.4 351.0C321.7 351.7 325.1 353.7 328.5 353.8C331.9 353.9 335.2 352.3 338.6 351.4C342.0 350.6 347.0 349.2 348.7 348.7M247.6 340.9C249.3 341.0 254.3 339.7 257.7 341.1C261.1 342.4 264.4 346.4 267.8 348.9C271.2 351.3 274.6 354.5 277.9 355.7C281.3 356.8 284.7 356.9 288.0 355.7C291.4 354.5 294.8 350.8 298.1 348.5C301.5 346.2 304.9 342.4 308.3 341.7C311.6 341.1 315.0 343.0 318.4 344.6C321.7 346.1 325.1 350.4 328.5 351.1C331.9 351.7 335.2 350.2 338.6 348.6C342.0 346.9 347.0 342.2 348.7 340.9M247.6 341.2C249.3 340.5 254.3 337.4 257.7 336.8C261.1 336.2 264.4 336.2 267.8 337.7C271.2 339.2 274.6 343.1 277.9 345.9C281.3 348.7 284.7 353.5 288.0 354.4C291.4 355.2 294.8 353.3 298.1 350.9C301.5 348.6 304.9 342.2 308.3 340.1C311.6 338.0 315.0 337.5 318.4 338.2C321.7 339.0 325.1 343.3 328.5 344.6C331.9 346.0 335.2 346.8 338.6 346.2C342.0 345.6 347.0 342.0 348.7 341.2M247.6 344.8C249.3 343.9 254.3 340.1 257.7 339.4C261.1 338.7 264.4 339.1 267.8 340.5C271.2 341.9 274.6 346.2 277.9 347.7C281.3 349.3 284.7 350.4 288.0 349.8C291.4 349.2 294.8 346.5 298.1 344.1C301.5 341.8 304.9 338.0 308.3 335.8C311.6 333.5 315.0 330.9 318.4 330.8C321.7 330.6 325.1 332.7 328.5 334.8C331.9 337.0 335.2 342.0 338.6 343.7C342.0 345.3 347.0 344.6 348.7 344.8M247.6 332.2C249.3 331.7 254.3 329.3 257.7 329.5C261.1 329.6 264.4 331.6 267.8 333.1C271.2 334.6 274.6 337.4 277.9 338.5C281.3 339.7 284.7 340.0 288.0 340.1C291.4 340.1 294.8 338.9 298.1 338.8C301.5 338.7 304.9 338.8 308.3 339.4C311.6 339.9 315.0 341.4 318.4 341.9C321.7 342.4 325.1 343.0 328.5 342.4C331.9 341.8 335.2 340.1 338.6 338.4C342.0 336.7 347.0 333.2 348.7 332.2M247.6 324.2C249.3 325.1 254.3 329.4 257.7 329.7C261.1 329.9 264.4 327.0 267.8 325.6C271.2 324.2 274.6 321.8 277.9 321.4C281.3 320.9 284.7 322.4 288.0 322.7C291.4 323.1 294.8 323.2 298.1 323.5C301.5 323.7 304.9 323.7 308.3 324.1C311.6 324.5 315.0 326.1 318.4 325.9C321.7 325.6 325.1 323.7 328.5 322.6C331.9 321.4 335.2 318.6 338.6 318.8C342.0 319.1 347.0 323.3 348.7 324.2M247.6 369.1C249.3 369.1 254.3 369.0 257.7 369.0C261.1 368.9 264.4 368.7 267.8 368.6C271.2 368.6 274.6 368.5 277.9 368.5C281.3 368.6 284.7 368.8 288.0 368.9C291.4 369.0 294.8 369.1 298.1 369.2C301.5 369.2 304.9 369.0 308.3 368.9C311.6 368.8 315.0 368.6 318.4 368.6C321.7 368.5 325.1 368.6 328.5 368.6C331.9 368.7 335.2 368.9 338.6 368.9C342.0 369.0 347.0 369.1 348.7 369.1M247.6 352.5C249.3 351.9 254.3 349.6 257.7 349.1C261.1 348.6 264.4 349.1 267.8 349.6C271.2 350.0 274.6 351.1 277.9 351.8C281.3 352.4 284.7 353.0 288.0 353.5C291.4 354.1 294.8 354.8 298.1 355.3C301.5 355.7 304.9 356.2 308.3 356.5C311.6 356.9 315.0 357.0 318.4 357.3C321.7 357.5 325.1 358.1 328.5 358.0C331.9 357.9 335.2 357.6 338.6 356.7C342.0 355.8 347.0 353.2 348.7 352.5M247.6 338.4C249.3 338.8 254.3 339.9 257.7 340.3C261.1 340.8 264.4 340.9 267.8 341.0C271.2 341.1 274.6 341.0 277.9 340.7C281.3 340.4 284.7 339.9 288.0 339.4C291.4 339.0 294.8 338.0 298.1 338.0C301.5 338.0 304.9 338.6 308.3 339.2C311.6 339.9 315.0 341.5 318.4 341.8C321.7 342.0 325.1 341.5 328.5 340.9C331.9 340.3 335.2 338.7 338.6 338.2C342.0 337.8 347.0 338.4 348.7 338.4" fill="none" stroke="#2450a8" stroke-width="0.9"/>
<path d="M247.6 249.3C250.4 248.7 258.8 247.4 264.4 245.5C270.0 243.6 277.1 238.8 281.3 237.9C285.5 237.0 286.9 240.0 289.7 240.4C292.5 240.7 293.9 238.3 298.1 240.0C302.4 241.6 309.4 247.9 315.0 250.4C320.6 252.9 327.6 254.3 331.8 255.0C336.0 255.6 337.4 254.8 340.3 254.2C343.1 253.5 347.3 251.7 348.7 251.2M247.6 248.3C250.4 247.1 258.8 243.1 264.4 241.2C270.0 239.3 277.1 237.4 281.3 236.9C285.5 236.4 286.9 238.1 289.7 238.1C292.5 238.2 293.9 236.1 298.1 237.3C302.4 238.6 309.4 242.8 315.0 245.7C320.6 248.5 327.6 253.5 331.8 254.5C336.0 255.5 337.4 252.5 340.3 251.8C343.1 251.0 347.3 250.2 348.7 249.9M247.6 242.3C250.4 241.4 258.8 238.8 264.4 237.0C270.0 235.2 277.1 232.3 281.3 231.5C285.5 230.8 286.9 231.8 289.7 232.4C292.5 233.0 293.9 233.3 298.1 235.2C302.4 237.0 309.4 241.1 315.0 243.4C320.6 245.6 327.6 248.2 331.8 248.8C336.0 249.4 337.4 247.5 340.3 247.0C343.1 246.5 347.3 246.1 348.7 245.9M247.6 240.9C250.4 240.0 258.8 237.1 264.4 235.5C270.0 233.8 277.1 231.4 281.3 230.9C285.5 230.4 286.9 232.1 289.7 232.3C292.5 232.4 293.9 230.3 298.1 231.8C302.4 233.3 309.4 238.6 315.0 241.1C320.6 243.7 327.6 246.4 331.8 247.3C336.0 248.1 337.4 247.0 340.3 246.3C343.1 245.6 347.3 243.5 348.7 243.0M247.6 237.3C250.4 236.5 258.8 234.2 264.4 232.2C270.0 230.2 277.1 226.2 281.3 225.3C285.5 224.4 286.9 226.4 289.7 226.7C292.5 227.0 293.9 225.3 298.1 227.1C302.4 229.0 309.4 235.2 315.0 237.6C320.6 240.1 327.6 241.2 331.8 241.8C336.0 242.5 337.4 242.0 340.3 241.6C343.1 241.2 347.3 239.8 348.7 239.4M277.9 214.7C278.5 215.7 279.6 218.7 281.3 220.2C283.0 221.7 286.1 223.7 288.0 223.9C290.0 224.0 291.4 222.7 293.1 221.1C294.8 219.6 297.3 215.8 298.1 214.7M262.8 214.7C264.4 216.0 269.8 220.2 272.9 222.1C276.0 223.9 278.7 225.7 281.3 225.7C283.8 225.7 286.1 223.9 288.0 222.1C290.0 220.2 292.3 216.0 293.1 214.7M308.3 214.7C309.9 216.0 315.0 219.9 318.4 222.1C321.7 224.2 326.2 226.3 328.5 227.5C330.7 228.7 330.1 229.7 331.8 229.4C333.5 229.1 335.8 226.9 338.6 225.7C341.4 224.5 347.0 222.7 348.7 222.1M303.2 244.0C304.9 244.9 309.9 247.8 313.3 249.4C316.7 251.1 320.3 252.2 323.4 254.0C326.5 255.8 329.3 258.1 331.8 260.4C334.3 262.7 336.6 265.3 338.6 267.7C340.6 270.1 342.0 272.6 343.6 275.0C345.3 277.4 347.9 281.1 348.7 282.3M247.6 260.8C250.4 260.7 258.8 260.5 264.4 260.4C270.0 260.3 277.1 260.1 281.3 260.0C285.5 260.0 286.9 260.0 289.7 260.0C292.5 260.0 293.9 259.9 298.1 260.0C302.4 260.2 309.4 260.6 315.0 260.8C320.6 261.0 327.6 261.2 331.8 261.3C336.0 261.4 337.4 261.3 340.3 261.3C343.1 261.3 347.3 261.2 348.7 261.1M247.6 263.7C250.4 263.6 258.8 263.2 264.4 263.1C270.0 263.1 277.1 263.1 281.3 263.1C285.5 263.1 286.9 263.1 289.7 263.1C292.5 263.1 293.9 263.1 298.1 263.1C302.4 263.2 309.4 263.5 315.0 263.7C320.6 263.8 327.6 264.0 331.8 264.1C336.0 264.1 337.4 264.1 340.3 264.1C343.1 264.0 347.3 263.8 348.7 263.7M247.6 266.8C250.4 266.7 258.8 266.1 264.4 266.2C270.0 266.4 277.1 267.5 281.3 267.7C285.5 268.0 286.9 267.7 289.7 267.7C292.5 267.7 293.9 267.6 298.1 267.7C302.4 267.8 309.4 267.8 315.0 268.1C320.6 268.4 327.6 269.1 331.8 269.5C336.0 269.9 337.4 270.2 340.3 270.4C343.1 270.7 347.3 270.9 348.7 271.0M247.6 276.8C250.4 276.2 258.8 274.7 264.4 273.2C270.0 271.7 277.1 268.8 281.3 267.7C285.5 266.6 286.9 266.9 289.7 266.8C292.5 266.6 293.9 266.5 298.1 266.8C302.4 267.1 309.4 267.9 315.0 268.6C320.6 269.4 327.6 270.8 331.8 271.4C336.0 272.0 337.4 272.0 340.3 272.3C343.1 272.6 347.3 273.0 348.7 273.2M247.6 281.0C250.4 280.5 258.8 278.9 264.4 277.8C270.0 276.6 277.1 274.7 281.3 274.1C285.5 273.5 286.9 274.0 289.7 274.1C292.5 274.2 293.9 274.2 298.1 274.6C302.4 275.1 309.4 275.9 315.0 276.8C320.6 277.8 327.6 279.7 331.8 280.5C336.0 281.3 337.4 281.1 340.3 281.4C343.1 281.7 347.3 282.2 348.7 282.3M247.6 276.8C250.4 276.7 258.8 276.2 264.4 275.9C270.0 275.6 277.1 275.5 281.3 275.0C285.5 274.6 286.9 273.6 289.7 273.2C292.5 272.7 293.9 272.4 298.1 272.3C302.4 272.1 309.4 272.0 315.0 272.3C320.6 272.6 327.6 273.5 331.8 274.1C336.0 274.7 337.4 275.5 340.3 275.9C343.1 276.4 347.3 276.7 348.7 276.8M247.6 314.4C250.4 314.6 258.8 315.3 264.4 315.3C270.0 315.3 277.1 314.0 281.3 314.4C285.5 314.7 286.9 317.0 289.7 317.4C292.5 317.8 293.9 316.9 298.1 316.7C302.4 316.4 309.4 316.3 315.0 315.9C320.6 315.5 327.6 314.8 331.8 314.5C336.0 314.1 337.4 314.1 340.3 313.7C343.1 313.2 347.3 312.2 348.7 311.9M247.6 315.2C249.3 316.7 254.3 321.0 257.7 324.3C261.1 327.7 264.8 331.9 267.8 335.3C270.9 338.6 273.7 342.0 275.9 344.4C278.1 346.8 278.9 350.5 281.3 349.9C283.6 349.3 287.2 343.5 290.1 340.8C292.9 338.0 296.8 334.7 298.1 333.5M267.8 366.3C269.0 364.5 272.7 358.7 274.9 355.4C277.1 352.0 278.7 349.0 281.3 346.2C283.8 343.5 287.2 341.4 290.1 338.9C292.9 336.5 295.1 331.6 298.1 331.6C301.2 331.6 304.9 335.9 308.3 338.9C311.6 342.0 315.0 346.5 318.4 349.9C321.7 353.2 326.8 357.5 328.5 359.0M308.3 366.3C309.9 363.9 315.0 356.3 318.4 351.7C321.7 347.2 325.1 342.9 328.5 338.9C331.9 335.0 335.2 332.1 338.6 328.0C342.0 323.9 347.0 316.6 348.7 314.3" fill="none" stroke="#2450a8" stroke-width="0.85"/>
<line x1="247.6" y1="291.4" x2="348.7" y2="291.4" stroke="#e04a40" stroke-width="0.9" stroke-dasharray="3 2"/>
</g>
<rect x="247.6" y="218.4" width="101.1" height="146.1" fill="none" stroke="#666" stroke-width="1"/>
<text x="247.6" y="372.1" class="k">Γ</text>
<text x="281.3" y="372.1" class="k">F</text>
<text x="298.1" y="372.1" class="k">Q</text>
<text x="331.8" y="372.1" class="k">Z</text>
<text x="348.7" y="372.1" class="k">Γ</text>
<clipPath id="c13"><rect x="353.5" y="218.4" width="101.3" height="146.1"/></clipPath>
<g clip-path="url(#c13)">
<line x1="387.2" y1="218.4" x2="387.2" y2="364.5" stroke="#aaa" stroke-width="0.6" stroke-dasharray="1.5 2"/>
<line x1="404.1" y1="218.4" x2="404.1" y2="364.5" stroke="#aaa" stroke-width="0.6" stroke-dasharray="1.5 2"/>
<line x1="437.9" y1="218.4" x2="437.9" y2="364.5" stroke="#aaa" stroke-width="0.6" stroke-dasharray="1.5 2"/>
<path d="M353.5 243.6C356.3 242.9 364.7 240.5 370.4 239.5C376.0 238.5 383.0 238.8 387.2 237.5C391.5 236.3 392.9 233.8 395.7 231.9C398.5 230.1 399.9 226.1 404.1 226.7C408.4 227.3 415.4 232.5 421.0 235.6C426.6 238.7 433.7 243.9 437.9 245.3C442.1 246.7 443.5 244.7 446.3 244.1C449.2 243.4 453.4 241.7 454.8 241.2M353.5 239.5C356.3 239.0 364.7 237.2 370.4 236.3C376.0 235.4 383.0 235.5 387.2 234.0C391.5 232.5 392.9 228.9 395.7 227.0C398.5 225.1 399.9 221.8 404.1 222.5C408.4 223.1 415.4 227.6 421.0 230.9C426.6 234.2 433.7 240.8 437.9 242.3C442.1 243.8 443.5 240.6 446.3 239.9C449.2 239.3 453.4 238.6 454.8 238.3M353.5 233.9C356.3 233.5 364.7 232.6 370.4 231.5C376.0 230.4 383.0 229.0 387.2 227.2C391.5 225.4 392.9 222.6 395.7 220.6C398.5 218.5 399.9 214.4 404.1 215.0C408.4 215.7 415.4 220.7 421.0 224.4C426.6 228.0 433.7 235.5 437.9 236.9C442.1 238.2 443.5 233.3 446.3 232.5C449.2 231.6 453.4 232.0 454.8 231.9M353.5 230.3C356.3 229.7 364.7 227.8 370.4 226.7C376.0 225.6 383.0 224.9 387.2 223.6C391.5 222.2 392.9 219.9 395.7 218.7C398.5 217.5 399.9 215.4 404.1 216.2C408.4 217.0 415.4 221.0 421.0 223.6C426.6 226.3 433.7 231.0 437.9 232.3C442.1 233.6 443.5 231.7 446.3 231.4C449.2 231.1 453.4 230.4 454.8 230.2M353.5 226.2C356.3 225.9 364.7 225.6 370.4 224.7C376.0 223.8 383.0 222.2 387.2 220.9C391.5 219.5 392.9 217.8 395.7 216.8C398.5 215.7 399.9 213.9 404.1 214.6C408.4 215.4 415.4 218.4 421.0 221.1C426.6 223.8 433.7 229.5 437.9 230.8C442.1 232.2 443.5 229.9 446.3 229.3C449.2 228.7 453.4 227.7 454.8 227.3M353.5 252.0C356.3 250.8 364.7 247.2 370.4 244.9C376.0 242.5 383.0 240.3 387.2 237.9C391.5 235.4 392.9 232.1 395.7 230.3C398.5 228.5 399.9 225.6 404.1 227.1C408.4 228.7 415.4 235.4 421.0 239.5C426.6 243.7 433.7 250.0 437.9 252.2C442.1 254.3 443.5 252.6 446.3 252.4C449.2 252.3 453.4 251.5 454.8 251.4M353.5 247.0C356.3 245.6 364.7 241.5 370.4 238.8C376.0 236.1 383.0 232.8 387.2 230.6C391.5 228.4 392.9 227.4 395.7 225.5C398.5 223.6 399.9 218.0 404.1 219.2C408.4 220.4 415.4 228.2 421.0 232.7C426.6 237.2 433.7 243.8 437.9 246.3C442.1 248.8 443.5 247.8 446.3 247.8C449.2 247.9 453.4 246.6 454.8 246.3M353.5 254.6C355.2 253.4 360.3 250.3 363.6 247.6C367.0 244.9 369.8 241.5 373.8 238.5C377.7 235.4 383.5 231.9 387.2 229.4C390.9 226.8 393.2 224.6 396.0 223.0C398.9 221.3 401.1 218.2 404.1 219.3C407.2 220.4 410.9 225.9 414.3 229.4C417.7 232.9 420.5 236.3 424.4 240.3C428.3 244.4 434.5 251.5 437.9 253.6C441.3 255.8 441.9 253.5 444.7 253.1C447.5 252.7 453.1 251.6 454.8 251.3M368.7 214.7C369.9 215.8 373.3 219.5 375.8 221.1C378.3 222.8 381.5 224.3 383.9 224.8C386.3 225.2 387.9 224.9 390.0 223.9C392.0 222.8 394.5 219.9 396.0 218.4C397.6 216.9 398.6 215.4 399.1 214.7M353.5 283.0C354.3 281.1 356.9 275.4 358.6 271.4C360.3 267.3 361.7 263.0 363.6 258.6C365.6 254.2 367.9 248.4 370.4 244.9C372.9 241.4 376.0 239.4 378.8 237.6C381.6 235.7 384.4 235.6 387.2 233.9C390.1 232.2 393.2 229.8 396.0 227.5C398.9 225.2 402.8 221.4 404.1 220.2M409.2 222.1C410.9 224.2 416.0 230.9 419.3 234.8C422.7 238.8 426.4 242.7 429.5 245.8C432.6 248.9 435.4 250.6 437.9 253.6C440.4 256.7 442.7 260.8 444.7 264.1C446.6 267.3 448.0 270.4 449.7 273.2C451.4 275.9 454.0 279.3 454.8 280.5M353.5 295.1C356.3 296.0 364.7 299.1 370.4 300.6C376.0 302.1 383.0 303.6 387.2 304.2C391.5 304.8 392.9 304.2 395.7 304.2C398.5 304.2 399.9 304.8 404.1 304.2C408.4 303.7 415.4 301.6 421.0 300.9C426.6 300.3 433.7 300.7 437.9 300.2C442.1 299.7 443.5 298.7 446.3 297.8C449.2 297.0 453.4 295.6 454.8 295.1M353.5 295.1C356.3 296.8 364.7 302.6 370.4 305.1C376.0 307.7 383.0 309.3 387.2 310.3C391.5 311.2 392.9 310.6 395.7 310.6C398.5 310.7 399.9 311.7 404.1 310.6C408.4 309.6 415.4 304.4 421.0 304.2C426.6 304.0 433.7 309.8 437.9 309.3C442.1 308.9 443.5 303.9 446.3 301.5C449.2 299.1 453.4 296.2 454.8 295.1M353.5 295.1C356.3 296.3 364.7 300.4 370.4 302.4C376.0 304.4 383.0 306.1 387.2 307.0C391.5 307.8 392.9 307.4 395.7 307.5C398.5 307.7 399.9 308.6 404.1 307.9C408.4 307.2 415.4 303.9 421.0 303.3C426.6 302.8 433.7 305.2 437.9 304.6C442.1 304.0 443.5 301.3 446.3 299.7C449.2 298.1 453.4 295.9 454.8 295.1M353.5 321.6C356.3 321.6 364.7 321.7 370.4 321.9C376.0 322.0 383.0 322.2 387.2 322.4C391.5 322.7 392.9 323.4 395.7 323.6C398.5 323.8 399.9 323.8 404.1 323.5C408.4 323.2 415.4 322.0 421.0 321.7C426.6 321.3 433.7 321.5 437.9 321.3C442.1 321.1 443.5 320.5 446.3 320.3C449.2 320.0 453.4 320.0 454.8 320.0M353.5 320.4C356.3 320.6 364.7 321.4 370.4 321.3C376.0 321.2 383.0 319.7 387.2 319.7C391.5 319.7 392.9 321.0 395.7 321.5C398.5 322.0 399.9 322.6 404.1 322.7C408.4 322.8 415.4 322.8 421.0 322.2C426.6 321.5 433.7 319.5 437.9 318.9C442.1 318.4 443.5 319.1 446.3 319.0C449.2 318.8 453.4 318.1 454.8 317.9M353.5 316.4C356.3 316.9 364.7 319.3 370.4 319.4C376.0 319.6 383.0 317.4 387.2 317.2C391.5 317.0 392.9 317.9 395.7 318.2C398.5 318.6 399.9 319.4 404.1 319.4C408.4 319.3 415.4 318.5 421.0 317.9C426.6 317.3 433.7 316.1 437.9 315.8C442.1 315.6 443.5 316.4 446.3 316.4C449.2 316.3 453.4 315.6 454.8 315.4M353.5 315.4C356.3 315.5 364.7 315.9 370.4 316.1C376.0 316.2 383.0 316.2 387.2 316.2C391.5 316.2 392.9 315.7 395.7 316.0C398.5 316.4 399.9 318.2 404.1 318.3C408.4 318.4 415.4 317.3 421.0 316.6C426.6 316.0 433.7 314.7 437.9 314.3C442.1 313.9 443.5 314.1 446.3 314.2C449.2 314.3 453.4 314.8 454.8 314.9M404.1 320.7C405.8 322.2 410.9 326.5 414.3 329.8C417.7 333.1 421.0 337.1 424.4 340.8C427.8 344.4 431.2 348.4 434.5 351.7C437.9 355.1 441.3 358.7 444.7 360.8C448.0 363.0 453.1 363.9 454.8 364.5M353.5 363.0C356.3 362.9 364.7 362.3 370.4 362.3C376.0 362.3 383.0 362.8 387.2 363.0C391.5 363.3 392.9 363.6 395.7 363.6C398.5 363.5 399.9 362.9 404.1 362.7C408.4 362.5 415.4 362.2 421.0 362.3C426.6 362.4 433.7 362.8 437.9 363.0C442.1 363.3 443.5 363.6 446.3 363.6C449.2 363.6 453.4 363.1 454.8 363.0" fill="none" stroke="#333" stroke-width="0.85"/>
<path d="M353.5 374.5C355.2 374.0 360.3 372.1 363.6 371.3C367.0 370.5 370.4 369.5 373.8 369.6C377.1 369.7 380.5 371.2 383.9 372.0C387.3 372.7 390.6 374.0 394.0 373.9C397.4 373.8 400.8 372.6 404.1 371.6C407.5 370.6 410.9 368.6 414.3 367.9C417.7 367.2 421.0 366.8 424.4 367.3C427.8 367.7 431.2 369.3 434.5 370.5C437.9 371.6 441.3 373.6 444.7 374.2C448.0 374.9 453.1 374.5 454.8 374.5M353.5 346.9C355.2 347.8 360.3 349.2 363.6 352.5C367.0 355.7 370.4 362.2 373.8 366.3C377.1 370.5 380.5 375.1 383.9 377.2C387.3 379.4 390.6 379.7 394.0 379.1C397.4 378.6 400.8 375.5 404.1 373.9C407.5 372.4 410.9 370.4 414.3 369.8C417.7 369.1 421.0 370.5 424.4 370.0C427.8 369.4 431.2 368.8 434.5 366.3C437.9 363.8 441.3 358.1 444.7 354.9C448.0 351.6 453.1 348.2 454.8 346.9M353.5 371.9C355.2 370.0 360.3 363.4 363.6 360.5C367.0 357.6 370.4 355.0 373.8 354.4C377.1 353.9 380.5 356.2 383.9 357.3C387.3 358.3 390.6 360.2 394.0 360.8C397.4 361.4 400.8 360.6 404.1 361.0C407.5 361.3 410.9 361.7 414.3 363.0C417.7 364.4 421.0 367.1 424.4 369.2C427.8 371.3 431.2 374.3 434.5 375.7C437.9 377.2 441.3 378.5 444.7 377.9C448.0 377.3 453.1 372.9 454.8 371.9M353.5 364.9C355.2 365.1 360.3 366.2 363.6 365.6C367.0 365.0 370.4 363.1 373.8 361.6C377.1 360.1 380.5 357.3 383.9 356.5C387.3 355.6 390.6 355.9 394.0 356.5C397.4 357.0 400.8 359.2 404.1 359.8C407.5 360.5 410.9 360.6 414.3 360.5C417.7 360.4 421.0 359.2 424.4 359.0C427.8 358.8 431.2 358.9 434.5 359.4C437.9 359.9 441.3 361.0 444.7 362.0C448.0 362.9 453.1 364.4 454.8 364.9M353.5 355.2C355.2 356.5 360.3 360.8 363.6 363.0C367.0 365.1 370.4 367.9 373.8 368.2C377.1 368.5 380.5 366.8 383.9 364.9C387.3 363.0 390.6 358.6 394.0 356.8C397.4 354.9 400.8 354.4 404.1 353.7C407.5 353.0 410.9 353.7 414.3 352.5C417.7 351.3 421.0 348.1 424.4 346.5C427.8 345.0 431.2 342.8 434.5 342.9C437.9 343.1 441.3 345.4 444.7 347.5C448.0 349.5 453.1 353.9 454.8 355.2M353.5 339.4C355.2 338.9 360.3 336.3 363.6 336.7C367.0 337.0 370.4 339.8 373.8 341.3C377.1 342.8 380.5 344.9 383.9 345.6C387.3 346.2 390.6 344.3 394.0 345.1C397.4 346.0 400.8 348.0 404.1 350.9C407.5 353.8 410.9 360.2 414.3 362.4C417.7 364.5 421.0 365.1 424.4 363.8C427.8 362.5 431.2 357.6 434.5 354.6C437.9 351.6 441.3 348.4 444.7 345.8C448.0 343.3 453.1 340.5 454.8 339.4M353.5 332.6C355.2 332.4 360.3 330.2 363.6 331.8C367.0 333.4 370.4 339.8 373.8 342.3C377.1 344.7 380.5 346.4 383.9 346.8C387.3 347.1 390.6 344.5 394.0 344.2C397.4 343.9 400.8 344.2 404.1 344.8C407.5 345.3 410.9 346.7 414.3 347.5C417.7 348.2 421.0 348.9 424.4 349.4C427.8 349.9 431.2 351.4 434.5 350.6C437.9 349.7 441.3 347.3 444.7 344.3C448.0 341.3 453.1 334.5 454.8 332.6M353.5 324.5C355.2 324.8 360.3 324.5 363.6 326.7C367.0 328.8 370.4 334.5 373.8 337.5C377.1 340.6 380.5 343.4 383.9 344.9C387.3 346.4 390.6 346.5 394.0 346.6C397.4 346.8 400.8 345.9 404.1 345.8C407.5 345.6 410.9 345.4 414.3 345.9C417.7 346.5 421.0 348.6 424.4 348.9C427.8 349.2 431.2 349.9 434.5 347.7C437.9 345.6 441.3 339.9 444.7 336.0C448.0 332.2 453.1 326.4 454.8 324.5M353.5 351.2C355.2 351.2 360.3 351.9 363.6 350.9C367.0 349.8 370.4 346.8 373.8 344.9C377.1 342.9 380.5 340.2 383.9 339.0C387.3 337.8 390.6 338.5 394.0 337.7C397.4 336.9 400.8 336.2 404.1 334.1C407.5 332.0 410.9 327.2 414.3 325.3C417.7 323.5 421.0 321.8 424.4 323.1C427.8 324.4 431.2 329.3 434.5 333.0C437.9 336.7 441.3 342.0 444.7 345.0C448.0 348.1 453.1 350.2 454.8 351.2M353.5 341.9C355.2 342.5 360.3 345.6 363.6 345.7C367.0 345.7 370.4 343.1 373.8 342.0C377.1 340.9 380.5 339.9 383.9 339.2C387.3 338.5 390.6 338.2 394.0 337.6C397.4 337.1 400.8 336.4 404.1 335.8C407.5 335.2 410.9 335.1 414.3 334.1C417.7 333.1 421.0 331.3 424.4 329.9C427.8 328.5 431.2 325.6 434.5 325.8C437.9 326.0 441.3 328.2 444.7 330.9C448.0 333.6 453.1 340.0 454.8 341.9M353.5 325.1C355.2 325.1 360.3 325.5 363.6 325.4C367.0 325.3 370.4 325.2 373.8 324.6C377.1 324.0 380.5 321.5 383.9 321.7C387.3 322.0 390.6 323.9 394.0 326.1C397.4 328.2 400.8 332.8 404.1 334.5C407.5 336.1 410.9 336.1 414.3 335.9C417.7 335.7 421.0 333.9 424.4 333.2C427.8 332.6 431.2 332.8 434.5 332.1C437.9 331.3 441.3 330.0 444.7 328.8C448.0 327.7 453.1 325.7 454.8 325.1M353.5 325.4C355.2 325.5 360.3 326.2 363.6 326.4C367.0 326.6 370.4 326.9 373.8 326.6C377.1 326.4 380.5 325.9 383.9 325.1C387.3 324.3 390.6 322.7 394.0 322.1C397.4 321.5 400.8 320.6 404.1 321.6C407.5 322.6 410.9 325.7 414.3 328.0C417.7 330.3 421.0 334.3 424.4 335.3C427.8 336.3 431.2 335.4 434.5 334.1C437.9 332.9 441.3 329.3 444.7 327.9C448.0 326.4 453.1 325.8 454.8 325.4M353.5 321.6C355.2 323.1 360.3 327.3 363.6 330.8C367.0 334.2 370.4 339.5 373.8 342.1C377.1 344.7 380.5 346.0 383.9 346.2C387.3 346.4 390.6 344.1 394.0 343.5C397.4 342.9 400.8 342.0 404.1 342.7C407.5 343.3 410.9 346.3 414.3 347.2C417.7 348.1 421.0 349.6 424.4 348.0C427.8 346.5 431.2 341.6 434.5 337.7C437.9 333.8 441.3 327.1 444.7 324.4C448.0 321.7 453.1 322.1 454.8 321.6M353.5 362.7C355.2 363.2 360.3 365.0 363.6 365.9C367.0 366.8 370.4 367.9 373.8 368.1C377.1 368.3 380.5 367.9 383.9 367.2C387.3 366.4 390.6 365.0 394.0 363.8C397.4 362.6 400.8 360.9 404.1 360.0C407.5 359.1 410.9 358.5 414.3 358.5C417.7 358.5 421.0 359.4 424.4 359.9C427.8 360.4 431.2 361.2 434.5 361.5C437.9 361.8 441.3 361.4 444.7 361.6C448.0 361.8 453.1 362.5 454.8 362.7M353.5 362.1C355.2 362.3 360.3 363.4 363.6 363.4C367.0 363.3 370.4 362.4 373.8 361.9C377.1 361.4 380.5 360.5 383.9 360.2C387.3 359.8 390.6 359.7 394.0 359.8C397.4 359.9 400.8 360.3 404.1 360.7C407.5 361.1 410.9 361.9 414.3 362.2C417.7 362.5 421.0 362.7 424.4 362.4C427.8 362.2 431.2 361.0 434.5 360.6C437.9 360.2 441.3 359.7 444.7 360.0C448.0 360.2 453.1 361.8 454.8 362.1M353.5 348.8C355.2 348.9 360.3 349.1 363.6 349.3C367.0 349.5 370.4 349.8 373.8 350.0C377.1 350.2 380.5 350.4 383.9 350.7C387.3 350.9 390.6 351.1 394.0 351.3C397.4 351.6 400.8 351.9 404.1 352.2C407.5 352.5 410.9 353.0 414.3 353.1C417.7 353.3 421.0 353.3 424.4 353.0C427.8 352.7 431.2 351.9 434.5 351.3C437.9 350.8 441.3 349.9 444.7 349.5C448.0 349.0 453.1 348.9 454.8 348.8M353.5 345.6C355.2 345.5 360.3 345.1 363.6 344.9C367.0 344.7 370.4 344.2 373.8 344.4C377.1 344.6 380.5 345.4 383.9 346.1C387.3 346.8 390.6 348.2 394.0 348.6C397.4 349.0 400.8 349.0 404.1 348.6C407.5 348.2 410.9 346.9 414.3 346.1C417.7 345.3 421.0 344.3 424.4 344.0C427.8 343.6 431.2 343.6 434.5 343.8C437.9 344.0 441.3 344.6 444.7 344.9C448.0 345.2 453.1 345.5 454.8 345.6M353.5 340.0C355.2 340.0 360.3 339.8 363.6 340.1C367.0 340.4 370.4 341.3 373.8 341.7C377.1 342.1 380.5 342.2 383.9 342.3C387.3 342.4 390.6 341.9 394.0 342.0C397.4 342.2 400.8 342.7 404.1 343.0C407.5 343.3 410.9 343.9 414.3 343.8C417.7 343.7 421.0 343.0 424.4 342.6C427.8 342.2 431.2 341.6 434.5 341.3C437.9 341.0 441.3 341.0 444.7 340.8C448.0 340.5 453.1 340.1 454.8 340.0" fill="none" stroke="#333" stroke-width="0.9"/>
<path d="M353.5 242.6C356.3 241.8 364.7 239.2 370.4 237.9C376.0 236.6 383.0 236.0 387.2 234.9C391.5 233.7 392.9 232.6 395.7 230.9C398.5 229.2 399.9 224.2 404.1 224.8C408.4 225.3 415.4 231.1 421.0 234.2C426.6 237.3 433.7 242.2 437.9 243.3C442.1 244.4 443.5 241.5 446.3 240.7C449.2 240.0 453.4 239.2 454.8 238.9M353.5 240.2C356.3 239.3 364.7 236.2 370.4 234.7C376.0 233.2 383.0 232.7 387.2 231.1C391.5 229.5 392.9 226.9 395.7 225.2C398.5 223.4 399.9 219.7 404.1 220.4C408.4 221.2 415.4 226.6 421.0 229.9C426.6 233.2 433.7 238.8 437.9 240.4C442.1 241.9 443.5 239.9 446.3 239.2C449.2 238.5 453.4 236.5 454.8 236.0M353.5 238.4C356.3 237.6 364.7 235.1 370.4 233.9C376.0 232.6 383.0 232.4 387.2 230.9C391.5 229.4 392.9 226.9 395.7 224.9C398.5 222.9 399.9 218.4 404.1 219.1C408.4 219.7 415.4 225.2 421.0 228.7C426.6 232.3 433.7 239.0 437.9 240.4C442.1 241.7 443.5 237.5 446.3 236.7C449.2 235.9 453.4 235.7 454.8 235.5M353.5 236.4C356.3 235.9 364.7 234.8 370.4 233.5C376.0 232.2 383.0 230.3 387.2 228.4C391.5 226.5 392.9 223.8 395.7 222.1C398.5 220.4 399.9 217.4 404.1 218.1C408.4 218.8 415.4 223.2 421.0 226.4C426.6 229.5 433.7 235.1 437.9 236.8C442.1 238.4 443.5 236.7 446.3 236.3C449.2 235.9 453.4 234.6 454.8 234.2M353.5 231.5C356.3 231.1 364.7 229.9 370.4 228.8C376.0 227.7 383.0 226.2 387.2 224.8C391.5 223.5 392.9 222.5 395.7 220.7C398.5 218.9 399.9 213.7 404.1 214.2C408.4 214.6 415.4 220.0 421.0 223.4C426.6 226.7 433.7 232.8 437.9 234.3C442.1 235.8 443.5 233.0 446.3 232.2C449.2 231.3 453.4 229.9 454.8 229.4M353.5 232.1C356.3 231.3 364.7 228.3 370.4 227.1C376.0 225.9 383.0 226.2 387.2 224.9C391.5 223.6 392.9 221.0 395.7 219.1C398.5 217.3 399.9 213.6 404.1 214.1C408.4 214.5 415.4 218.6 421.0 221.7C426.6 224.9 433.7 231.5 437.9 232.9C442.1 234.3 443.5 230.7 446.3 230.2C449.2 229.7 453.4 229.8 454.8 229.7M353.5 232.2C356.3 231.8 364.7 231.0 370.4 229.7C376.0 228.4 383.0 225.6 387.2 224.5C391.5 223.3 392.9 224.0 395.7 223.0C398.5 222.1 399.9 218.4 404.1 218.9C408.4 219.5 415.4 223.7 421.0 226.3C426.6 228.9 433.7 233.3 437.9 234.6C442.1 235.9 443.5 234.7 446.3 234.1C449.2 233.6 453.4 231.8 454.8 231.3M353.5 225.9C356.3 225.3 364.7 223.2 370.4 222.2C376.0 221.3 383.0 221.5 387.2 220.3C391.5 219.1 392.9 216.4 395.7 214.9C398.5 213.5 399.9 210.7 404.1 211.7C408.4 212.6 415.4 217.8 421.0 220.5C426.6 223.2 433.7 226.5 437.9 227.7C442.1 228.8 443.5 227.8 446.3 227.3C449.2 226.9 453.4 225.2 454.8 224.8M353.5 222.9C356.3 222.4 364.7 220.7 370.4 219.8C376.0 219.0 383.0 219.1 387.2 217.8C391.5 216.6 392.9 213.5 395.7 212.3C398.5 211.1 399.9 210.0 404.1 210.6C408.4 211.2 415.4 213.4 421.0 216.1C426.6 218.8 433.7 225.3 437.9 226.8C442.1 228.2 443.5 225.4 446.3 224.7C449.2 224.0 453.4 223.0 454.8 222.7M353.5 220.8C356.3 220.3 364.7 218.9 370.4 217.8C376.0 216.7 383.0 215.3 387.2 214.0C391.5 212.7 392.9 210.9 395.7 210.0C398.5 209.2 399.9 208.0 404.1 208.8C408.4 209.6 415.4 212.1 421.0 214.8C426.6 217.5 433.7 223.9 437.9 225.0C442.1 226.1 443.5 222.1 446.3 221.4C449.2 220.8 453.4 220.9 454.8 220.8M353.5 255.0C356.3 254.0 364.7 251.5 370.4 249.0C376.0 246.5 383.0 242.9 387.2 240.0C391.5 237.2 392.9 233.6 395.7 231.8C398.5 230.0 399.9 227.8 404.1 229.4C408.4 230.9 415.4 237.0 421.0 241.2C426.6 245.3 433.7 251.9 437.9 254.3C442.1 256.6 443.5 255.5 446.3 255.3C449.2 255.1 453.4 253.4 454.8 253.0M353.5 250.9C356.3 249.7 364.7 246.1 370.4 243.7C376.0 241.2 383.0 238.5 387.2 236.3C391.5 234.1 392.9 232.6 395.7 230.6C398.5 228.5 399.9 222.7 404.1 224.1C408.4 225.4 415.4 234.1 421.0 238.8C426.6 243.5 433.7 249.8 437.9 252.2C442.1 254.6 443.5 253.2 446.3 253.2C449.2 253.2 453.4 252.5 454.8 252.4M353.5 248.6C356.3 247.5 364.7 244.4 370.4 241.8C376.0 239.2 383.0 235.6 387.2 233.2C391.5 230.8 392.9 228.9 395.7 227.3C398.5 225.8 399.9 222.4 404.1 223.9C408.4 225.4 415.4 232.1 421.0 236.1C426.6 240.2 433.7 246.0 437.9 248.3C442.1 250.5 443.5 249.3 446.3 249.5C449.2 249.8 453.4 249.8 454.8 249.9M353.5 248.2C356.3 246.8 364.7 242.4 370.4 239.8C376.0 237.3 383.0 235.2 387.2 233.2C391.5 231.1 392.9 229.3 395.7 227.4C398.5 225.4 399.9 220.0 404.1 221.3C408.4 222.6 415.4 230.4 421.0 235.0C426.6 239.7 433.7 246.6 437.9 249.1C442.1 251.6 443.5 250.1 446.3 250.0C449.2 249.8 453.4 248.6 454.8 248.4M353.5 245.4C356.3 244.3 364.7 241.1 370.4 238.5C376.0 235.9 383.0 232.3 387.2 230.0C391.5 227.6 392.9 226.3 395.7 224.4C398.5 222.5 399.9 217.3 404.1 218.7C408.4 220.2 415.4 228.9 421.0 233.1C426.6 237.2 433.7 241.4 437.9 243.6C442.1 245.8 443.5 246.0 446.3 246.4C449.2 246.7 453.4 245.8 454.8 245.7M353.5 241.9C356.3 241.0 364.7 238.9 370.4 236.6C376.0 234.4 383.0 231.0 387.2 228.4C391.5 225.8 392.9 222.7 395.7 221.1C398.5 219.4 399.9 216.9 404.1 218.3C408.4 219.7 415.4 225.5 421.0 229.5C426.6 233.6 433.7 240.2 437.9 242.6C442.1 245.0 443.5 244.3 446.3 244.2C449.2 244.0 453.4 242.1 454.8 241.7M373.8 214.7C374.9 215.5 378.6 218.2 380.9 219.3C383.1 220.4 385.0 221.1 387.2 221.1C389.4 221.1 392.0 220.4 394.0 219.3C396.0 218.2 398.2 215.5 399.1 214.7M375.8 214.7C376.8 215.7 380.0 218.9 381.9 220.2C383.8 221.6 385.2 223.0 387.2 223.0C389.3 223.0 391.9 221.6 394.0 220.2C396.2 218.9 399.1 215.7 400.1 214.7M414.3 214.7C416.0 216.0 421.0 220.1 424.4 222.1C427.8 224.0 431.2 226.0 434.5 226.6C437.9 227.2 441.3 226.3 444.7 225.7C448.0 225.1 453.1 223.4 454.8 223.0M414.3 227.5C416.0 229.4 421.0 234.8 424.4 238.5C427.8 242.1 432.3 246.9 434.5 249.4C436.8 252.0 436.2 251.9 437.9 254.0C439.6 256.1 442.7 259.6 444.7 262.2C446.6 264.8 448.0 267.1 449.7 269.5C451.4 272.0 454.0 275.6 454.8 276.8M353.5 265.9C356.3 265.8 364.7 265.6 370.4 265.5C376.0 265.5 383.0 265.5 387.2 265.5C391.5 265.5 392.9 265.5 395.7 265.5C398.5 265.5 399.9 265.5 404.1 265.5C408.4 265.6 415.4 265.7 421.0 265.9C426.6 266.0 433.7 266.3 437.9 266.4C442.1 266.6 443.5 266.6 446.3 266.6C449.2 266.6 453.4 266.5 454.8 266.4M353.5 268.8C356.3 268.7 364.7 268.6 370.4 268.4C376.0 268.3 383.0 268.1 387.2 268.1C391.5 268.0 392.9 268.1 395.7 268.1C398.5 268.1 399.9 268.0 404.1 268.1C408.4 268.1 415.4 268.3 421.0 268.4C426.6 268.6 433.7 268.7 437.9 268.8C442.1 268.9 443.5 269.1 446.3 269.2C449.2 269.2 453.4 269.2 454.8 269.2M353.5 271.9C356.3 271.8 364.7 271.3 370.4 271.4C376.0 271.4 383.0 272.0 387.2 272.3C391.5 272.5 392.9 272.6 395.7 272.8C398.5 273.0 399.9 273.3 404.1 273.6C408.4 273.8 415.4 274.2 421.0 274.5C426.6 274.7 433.7 274.8 437.9 275.0C442.1 275.3 443.5 275.6 446.3 275.9C449.2 276.2 453.4 276.7 454.8 276.8M353.5 276.5C356.3 276.1 364.7 274.6 370.4 274.1C376.0 273.6 383.0 273.3 387.2 273.2C391.5 273.1 392.9 273.4 395.7 273.6C398.5 273.7 399.9 273.8 404.1 274.1C408.4 274.4 415.4 274.9 421.0 275.4C426.6 275.9 433.7 276.7 437.9 277.2C442.1 277.7 443.5 278.1 446.3 278.3C449.2 278.5 453.4 278.6 454.8 278.7M353.5 282.0C356.3 281.6 364.7 280.2 370.4 279.6C376.0 278.9 383.0 278.1 387.2 277.9C391.5 277.7 392.9 278.2 395.7 278.3C398.5 278.4 399.9 278.5 404.1 278.7C408.4 278.8 415.4 279.1 421.0 279.4C426.6 279.7 433.7 280.2 437.9 280.5C442.1 280.8 443.5 281.1 446.3 281.4C449.2 281.7 453.4 282.2 454.8 282.3M353.5 317.0C356.3 317.3 364.7 318.6 370.4 318.8C376.0 318.9 383.0 318.1 387.2 318.1C391.5 318.1 392.9 318.6 395.7 319.0C398.5 319.3 399.9 320.2 404.1 320.2C408.4 320.3 415.4 319.7 421.0 319.2C426.6 318.8 433.7 317.9 437.9 317.5C442.1 317.2 443.5 317.1 446.3 317.1C449.2 317.2 453.4 317.7 454.8 317.9M353.5 317.4C355.2 318.8 360.3 322.9 363.6 326.1C367.0 329.4 370.7 333.8 373.8 337.1C376.8 340.5 379.6 343.8 381.9 346.2C384.1 348.7 384.9 352.3 387.2 351.7C389.6 351.1 393.2 345.3 396.0 342.6C398.9 339.8 402.8 336.5 404.1 335.3M373.8 366.3C374.9 364.8 378.6 360.2 380.9 357.2C383.1 354.2 384.7 350.8 387.2 348.1C389.8 345.3 393.2 343.0 396.0 340.8C398.9 338.5 401.1 334.4 404.1 334.4C407.2 334.4 410.9 337.9 414.3 340.8C417.7 343.7 421.0 348.4 424.4 351.7C427.8 355.1 432.9 359.3 434.5 360.8M414.3 366.3C416.0 363.9 421.0 356.3 424.4 351.7C427.8 347.2 431.2 342.9 434.5 338.9C437.9 335.0 441.3 331.6 444.7 328.0C448.0 324.4 453.1 319.1 454.8 317.4" fill="none" stroke="#2450a8" stroke-width="0.85"/>
<path d="M353.5 378.1C355.2 377.6 360.3 375.5 363.6 375.4C367.0 375.4 370.4 377.2 373.8 377.8C377.1 378.4 380.5 379.4 383.9 379.1C387.3 378.8 390.6 376.4 394.0 375.9C397.4 375.4 400.8 375.7 404.1 376.2C407.5 376.7 410.9 378.7 414.3 378.8C417.7 378.8 421.0 377.1 424.4 376.5C427.8 375.9 431.2 375.0 434.5 375.3C437.9 375.7 441.3 378.1 444.7 378.6C448.0 379.0 453.1 378.1 454.8 378.1M353.5 374.8C355.2 374.1 360.3 371.1 363.6 370.8C367.0 370.5 370.4 371.8 373.8 372.7C377.1 373.6 380.5 375.9 383.9 376.1C387.3 376.4 390.6 374.8 394.0 374.4C397.4 374.0 400.8 373.3 404.1 373.7C407.5 374.1 410.9 376.2 414.3 376.8C417.7 377.3 421.0 377.1 424.4 376.9C427.8 376.7 431.2 375.7 434.5 375.7C437.9 375.7 441.3 377.0 444.7 376.8C448.0 376.7 453.1 375.1 454.8 374.8M353.5 375.8C355.2 375.3 360.3 374.0 363.6 373.2C367.0 372.3 370.4 371.5 373.8 370.9C377.1 370.3 380.5 369.9 383.9 369.8C387.3 369.7 390.6 369.9 394.0 370.3C397.4 370.8 400.8 371.7 404.1 372.4C407.5 373.2 410.9 374.1 414.3 374.8C417.7 375.6 421.0 376.3 424.4 376.8C427.8 377.4 431.2 377.8 434.5 378.0C437.9 378.1 441.3 378.0 444.7 377.7C448.0 377.3 453.1 376.1 454.8 375.8M353.5 364.9C355.2 366.0 360.3 370.6 363.6 371.6C367.0 372.5 370.4 372.4 373.8 370.7C377.1 369.0 380.5 363.0 383.9 361.4C387.3 359.8 390.6 359.5 394.0 361.3C397.4 363.1 400.8 369.0 404.1 372.0C407.5 375.0 410.9 378.0 414.3 379.1C417.7 380.2 421.0 379.7 424.4 378.7C427.8 377.8 431.2 375.7 434.5 373.5C437.9 371.4 441.3 367.3 444.7 365.9C448.0 364.4 453.1 365.0 454.8 364.9M353.5 366.3C355.2 366.2 360.3 365.8 363.6 365.5C367.0 365.1 370.4 364.4 373.8 364.2C377.1 364.0 380.5 364.1 383.9 364.2C387.3 364.3 390.6 364.9 394.0 364.8C397.4 364.7 400.8 364.3 404.1 363.7C407.5 363.0 410.9 361.5 414.3 360.8C417.7 360.0 421.0 359.1 424.4 359.1C427.8 359.2 431.2 360.1 434.5 361.0C437.9 361.9 441.3 363.7 444.7 364.6C448.0 365.4 453.1 366.0 454.8 366.3M353.5 361.4C355.2 360.1 360.3 356.1 363.6 354.0C367.0 351.9 370.4 349.9 373.8 348.9C377.1 347.9 380.5 348.2 383.9 348.2C387.3 348.2 390.6 348.3 394.0 348.8C397.4 349.3 400.8 349.6 404.1 351.4C407.5 353.1 410.9 356.6 414.3 359.4C417.7 362.1 421.0 366.2 424.4 368.0C427.8 369.8 431.2 370.4 434.5 370.2C437.9 370.1 441.3 368.6 444.7 367.1C448.0 365.6 453.1 362.3 454.8 361.4M353.5 346.3C355.2 346.9 360.3 348.4 363.6 349.8C367.0 351.1 370.4 352.3 373.8 354.4C377.1 356.5 380.5 360.2 383.9 362.4C387.3 364.5 390.6 367.3 394.0 367.2C397.4 367.2 400.8 364.7 404.1 362.2C407.5 359.8 410.9 355.2 414.3 352.5C417.7 349.8 421.0 347.6 424.4 346.1C427.8 344.5 431.2 343.7 434.5 343.3C437.9 342.8 441.3 342.9 444.7 343.4C448.0 343.9 453.1 345.8 454.8 346.3M353.5 349.8C355.2 349.1 360.3 347.2 363.6 345.2C367.0 343.3 370.4 338.6 373.8 338.0C377.1 337.5 380.5 339.1 383.9 342.0C387.3 344.8 390.6 351.7 394.0 355.1C397.4 358.5 400.8 361.7 404.1 362.5C407.5 363.4 410.9 361.7 414.3 360.4C417.7 359.1 421.0 356.4 424.4 354.6C427.8 352.7 431.2 350.3 434.5 349.3C437.9 348.3 441.3 348.3 444.7 348.4C448.0 348.5 453.1 349.6 454.8 349.8M353.5 340.0C355.2 340.3 360.3 341.1 363.6 341.6C367.0 342.1 370.4 342.3 373.8 342.9C377.1 343.5 380.5 343.7 383.9 345.2C387.3 346.6 390.6 349.4 394.0 351.4C397.4 353.5 400.8 356.8 404.1 357.5C407.5 358.1 410.9 357.1 414.3 355.4C417.7 353.8 421.0 349.8 424.4 347.5C427.8 345.2 431.2 342.9 434.5 341.6C437.9 340.3 441.3 339.9 444.7 339.6C448.0 339.4 453.1 339.9 454.8 340.0M353.5 340.6C355.2 340.6 360.3 339.9 363.6 340.4C367.0 340.9 370.4 341.2 373.8 343.5C377.1 345.8 380.5 351.6 383.9 354.2C387.3 356.9 390.6 359.7 394.0 359.2C397.4 358.7 400.8 354.1 404.1 351.4C407.5 348.8 410.9 345.2 414.3 343.4C417.7 341.7 421.0 341.7 424.4 340.8C427.8 340.0 431.2 339.0 434.5 338.5C437.9 338.1 441.3 338.0 444.7 338.3C448.0 338.7 453.1 340.2 454.8 340.6M353.5 326.9C355.2 326.8 360.3 326.7 363.6 326.3C367.0 325.8 370.4 323.6 373.8 324.3C377.1 324.9 380.5 327.5 383.9 330.3C387.3 333.0 390.6 338.8 394.0 340.8C397.4 342.8 400.8 342.9 404.1 342.5C407.5 342.1 410.9 339.3 414.3 338.4C417.7 337.4 421.0 337.6 424.4 336.8C427.8 336.0 431.2 334.8 434.5 333.4C437.9 331.9 441.3 329.0 444.7 327.9C448.0 326.9 453.1 327.1 454.8 326.9M353.5 330.2C355.2 330.6 360.3 332.1 363.6 332.5C367.0 332.8 370.4 332.3 373.8 332.4C377.1 332.6 380.5 333.5 383.9 333.5C387.3 333.6 390.6 333.0 394.0 332.7C397.4 332.5 400.8 331.8 404.1 332.2C407.5 332.7 410.9 335.1 414.3 335.5C417.7 335.9 421.0 336.2 424.4 334.9C427.8 333.6 431.2 329.4 434.5 327.9C437.9 326.3 441.3 325.3 444.7 325.6C448.0 326.0 453.1 329.4 454.8 330.2M353.5 337.9C355.2 339.0 360.3 341.9 363.6 344.3C367.0 346.6 370.4 350.9 373.8 352.1C377.1 353.3 380.5 353.0 383.9 351.4C387.3 349.8 390.6 346.0 394.0 342.3C397.4 338.5 400.8 332.5 404.1 329.1C407.5 325.6 410.9 321.8 414.3 321.6C417.7 321.4 421.0 325.1 424.4 328.0C427.8 330.8 431.2 336.6 434.5 338.6C437.9 340.5 441.3 339.8 444.7 339.6C448.0 339.5 453.1 338.2 454.8 337.9M353.5 362.6C355.2 363.2 360.3 364.8 363.6 365.8C367.0 366.8 370.4 368.1 373.8 368.6C377.1 369.1 380.5 368.9 383.9 368.8C387.3 368.7 390.6 368.0 394.0 368.0C397.4 367.9 400.8 368.4 404.1 368.7C407.5 369.1 410.9 370.0 414.3 370.0C417.7 370.0 421.0 369.4 424.4 368.5C427.8 367.7 431.2 365.8 434.5 364.7C437.9 363.7 441.3 362.4 444.7 362.0C448.0 361.7 453.1 362.5 454.8 362.6M353.5 353.2C355.2 353.4 360.3 353.5 363.6 354.0C367.0 354.4 370.4 355.4 373.8 356.0C377.1 356.6 380.5 357.1 383.9 357.6C387.3 358.1 390.6 358.5 394.0 359.0C397.4 359.5 400.8 360.1 404.1 360.6C407.5 361.1 410.9 361.7 414.3 361.7C417.7 361.8 421.0 361.5 424.4 360.9C427.8 360.3 431.2 359.2 434.5 358.2C437.9 357.2 441.3 355.8 444.7 354.9C448.0 354.1 453.1 353.5 454.8 353.2M353.5 349.7C355.2 349.6 360.3 349.5 363.6 349.1C367.0 348.8 370.4 348.0 373.8 347.6C377.1 347.2 380.5 346.8 383.9 346.6C387.3 346.5 390.6 346.7 394.0 346.9C397.4 347.1 400.8 347.4 404.1 347.6C407.5 347.8 410.9 347.9 414.3 347.9C417.7 348.0 421.0 347.8 424.4 347.8C427.8 347.8 431.2 347.8 434.5 348.0C437.9 348.2 441.3 348.7 444.7 349.0C448.0 349.3 453.1 349.6 454.8 349.7" fill="none" stroke="#2450a8" stroke-width="0.9"/>
<line x1="353.5" y1="291.4" x2="454.8" y2="291.4" stroke="#e04a40" stroke-width="0.9" stroke-dasharray="3 2"/>
</g>
<rect x="353.5" y="218.4" width="101.3" height="146.1" fill="none" stroke="#666" stroke-width="1"/>
<text x="353.5" y="372.1" class="k">Γ</text>
<text x="387.2" y="372.1" class="k">F</text>
<text x="404.1" y="372.1" class="k">Q</text>
<text x="437.9" y="372.1" class="k">Z</text>
<text x="454.8" y="372.1" class="k">Γ</text>
<clipPath id="c14"><rect x="476.4" y="218.4" width="100.2" height="146.1"/></clipPath>
<g clip-path="url(#c14)">
<line x1="501.4" y1="218.4" x2="501.4" y2="364.5" stroke="#aaa" stroke-width="0.6" stroke-dasharray="1.5 2"/>
<line x1="526.5" y1="218.4" x2="526.5" y2="364.5" stroke="#aaa" stroke-width="0.6" stroke-dasharray="1.5 2"/>
<line x1="551.5" y1="218.4" x2="551.5" y2="364.5" stroke="#aaa" stroke-width="0.6" stroke-dasharray="1.5 2"/>
<path d="M489.4 214.7C489.9 216.3 491.3 221.3 492.4 223.9C493.6 226.5 494.9 228.8 496.4 230.3C497.9 231.7 499.9 232.5 501.4 232.5C503.0 232.5 504.1 231.7 505.5 230.3C506.8 228.8 508.3 226.5 509.5 223.9C510.6 221.3 507.3 216.3 512.5 214.7C517.6 213.2 535.4 213.2 540.5 214.7C545.7 216.3 542.4 221.3 543.5 223.9C544.7 226.5 546.2 228.8 547.5 230.3C548.9 231.7 550.0 232.5 551.5 232.5C553.1 232.5 555.1 231.7 556.6 230.3C558.1 228.8 559.4 226.5 560.6 223.9C561.7 221.3 563.1 216.3 563.6 214.7M476.4 237.2C478.1 237.3 483.1 237.6 486.4 237.6C489.8 237.5 493.9 237.2 496.4 237.0C498.9 236.8 498.5 236.5 501.4 236.3C504.4 236.1 509.8 235.7 514.0 235.7C518.1 235.7 522.3 236.3 526.5 236.3C530.7 236.3 534.9 235.7 539.0 235.7C543.2 235.7 548.6 236.1 551.5 236.3C554.5 236.5 554.1 236.8 556.6 237.0C559.1 237.2 563.2 237.5 566.6 237.6C569.9 237.6 574.9 237.3 576.6 237.2M476.4 246.9C477.4 246.6 480.4 246.0 482.4 244.9C484.4 243.8 486.9 241.8 488.4 240.3C489.9 238.8 490.4 237.4 491.4 235.7C492.4 234.1 493.4 232.2 494.4 230.3C495.4 228.3 496.4 226.5 497.4 223.9C498.4 221.3 491.3 216.3 500.4 214.7C509.6 213.2 543.4 213.2 552.6 214.7C561.7 216.3 554.6 221.3 555.6 223.9C556.6 226.5 557.6 228.3 558.6 230.3C559.6 232.2 560.6 234.1 561.6 235.7C562.6 237.4 563.1 238.8 564.6 240.3C566.1 241.8 568.6 243.8 570.6 244.9C572.6 246.0 575.6 246.6 576.6 246.9M476.4 253.3C477.7 252.6 481.9 251.2 484.4 249.4C486.9 247.7 489.3 244.7 491.4 243.1C493.6 241.4 495.8 240.3 497.4 239.6C499.1 238.9 499.6 239.1 501.4 238.9C503.3 238.6 506.0 238.2 508.5 237.9C511.0 237.7 513.5 237.6 516.5 237.6C519.5 237.5 523.2 237.6 526.5 237.6C529.8 237.6 533.5 237.5 536.5 237.6C539.5 237.6 542.0 237.7 544.5 237.9C547.0 238.2 549.7 238.6 551.5 238.9C553.4 239.1 553.9 238.9 555.6 239.6C557.2 240.3 559.4 241.4 561.6 243.1C563.7 244.7 566.1 247.7 568.6 249.4C571.1 251.2 575.3 252.6 576.6 253.3M476.4 284.3C477.1 282.5 479.1 277.4 480.4 273.2C481.7 268.9 483.0 262.7 484.4 258.8C485.8 254.8 487.5 251.9 488.9 249.4C490.4 247.0 491.0 245.5 493.1 243.8C495.2 242.1 498.0 240.3 501.4 239.4C504.9 238.5 509.8 238.6 514.0 238.5C518.1 238.3 522.3 238.5 526.5 238.5C530.7 238.5 534.9 238.3 539.0 238.5C543.2 238.6 548.1 238.5 551.5 239.4C555.0 240.3 557.8 242.1 559.9 243.8C562.0 245.5 562.6 247.0 564.1 249.4C565.5 251.9 567.2 254.8 568.6 258.8C570.0 262.7 571.3 268.9 572.6 273.2C573.9 277.4 575.9 282.5 576.6 284.3M476.4 294.7C478.5 296.0 484.7 299.7 488.9 302.4C493.1 305.1 497.3 310.2 501.4 311.2C505.6 312.1 509.8 308.9 514.0 308.3C518.1 307.6 522.3 307.3 526.5 307.3C530.7 307.3 534.9 307.6 539.0 308.3C543.2 308.9 547.4 312.1 551.5 311.2C555.7 310.2 559.9 305.1 564.1 302.4C568.2 299.7 574.5 296.0 576.6 294.7M476.4 294.7C478.5 296.9 484.7 303.0 488.9 307.9C493.1 312.8 497.3 323.0 501.4 324.3C505.6 325.7 509.8 318.8 514.0 316.1C518.1 313.4 522.3 307.9 526.5 307.9C530.7 307.9 534.9 313.4 539.0 316.1C543.2 318.8 547.4 325.7 551.5 324.3C555.7 323.0 559.9 312.8 564.1 307.9C568.2 303.0 574.5 296.9 576.6 294.7M501.4 311.2C503.5 312.3 509.8 315.9 514.0 317.9C518.1 320.0 522.3 323.4 526.5 323.4C530.7 323.4 534.9 320.0 539.0 317.9C543.2 315.9 549.5 312.3 551.5 311.2M509.5 328.0C511.0 326.8 515.6 322.7 518.5 320.7C521.3 318.6 523.8 315.6 526.5 315.6C529.2 315.6 531.7 318.6 534.5 320.7C537.4 322.7 542.0 326.8 543.5 328.0M506.5 333.5C508.1 332.5 513.1 329.3 516.5 328.0C519.8 326.6 523.2 325.2 526.5 325.2C529.8 325.2 533.2 326.6 536.5 328.0C539.9 329.3 544.9 332.5 546.5 333.5M476.4 333.5C478.5 333.5 484.7 333.8 488.9 333.5C493.1 333.1 497.3 332.1 501.4 331.6C505.6 331.2 509.8 331.3 514.0 330.7C518.1 330.1 522.3 328.0 526.5 328.0C530.7 328.0 534.9 330.1 539.0 330.7C543.2 331.3 547.4 331.2 551.5 331.6C555.7 332.1 559.9 333.1 564.1 333.5C568.2 333.8 574.5 333.5 576.6 333.5M476.4 342.4C478.5 342.0 484.7 340.6 488.9 339.8C493.1 339.1 497.3 338.1 501.4 337.8C505.6 337.5 509.8 337.8 514.0 338.0C518.1 338.2 522.3 338.9 526.5 338.9C530.7 338.9 534.9 338.2 539.0 338.0C543.2 337.8 547.4 337.5 551.5 337.8C555.7 338.1 559.9 339.1 564.1 339.8C568.2 340.6 574.5 342.0 576.6 342.4M501.4 351.7C503.5 352.0 509.8 352.6 514.0 353.5C518.1 354.5 522.3 357.2 526.5 357.2C530.7 357.2 534.9 354.5 539.0 353.5C543.2 352.6 549.5 352.0 551.5 351.7M476.4 350.8C478.5 351.0 484.7 351.1 488.9 351.7C493.1 352.3 497.3 353.8 501.4 354.5C505.6 355.1 509.8 355.1 514.0 355.4C518.1 355.7 522.3 356.3 526.5 356.3C530.7 356.3 534.9 355.7 539.0 355.4C543.2 355.1 547.4 355.1 551.5 354.5C555.7 353.8 559.9 352.3 564.1 351.7C568.2 351.1 574.5 351.0 576.6 350.8M476.4 355.4C478.5 355.7 484.7 356.6 488.9 357.2C493.1 357.8 497.3 358.6 501.4 359.0C505.6 359.5 509.8 360.1 514.0 359.9C518.1 359.8 522.3 358.1 526.5 358.1C530.7 358.1 534.9 359.8 539.0 359.9C543.2 360.1 547.4 359.5 551.5 359.0C555.7 358.6 559.9 357.8 564.1 357.2C568.2 356.6 574.5 355.7 576.6 355.4M476.4 360.8C478.5 361.0 484.7 361.8 488.9 361.8C493.1 361.8 497.3 360.7 501.4 360.8C505.6 361.0 509.8 362.5 514.0 362.7C518.1 362.8 522.3 361.8 526.5 361.8C530.7 361.8 534.9 362.8 539.0 362.7C543.2 362.5 547.4 361.0 551.5 360.8C555.7 360.7 559.9 361.8 564.1 361.8C568.2 361.8 574.5 361.0 576.6 360.8" fill="none" stroke="#333" stroke-width="0.85"/>
<path d="M509.5 214.7C510.6 216.6 514.5 223.1 516.5 225.7C518.5 228.4 519.8 229.6 521.5 230.6C523.2 231.7 524.8 232.1 526.5 232.1C528.2 232.1 529.8 231.7 531.5 230.6C533.2 229.6 534.5 228.4 536.5 225.7C538.5 223.1 542.4 216.6 543.5 214.7M511.5 214.7C512.5 216.4 515.6 222.4 517.5 224.8C519.3 227.2 521.0 228.4 522.5 229.4C524.0 230.3 525.2 230.6 526.5 230.6C527.8 230.6 529.0 230.3 530.5 229.4C532.0 228.4 533.7 227.2 535.5 224.8C537.4 222.4 540.5 216.4 541.5 214.7M490.4 214.7C490.9 216.0 492.3 220.1 493.4 222.1C494.6 224.0 496.1 225.7 497.4 226.6C498.8 227.5 499.9 227.8 501.4 227.5C503.0 227.2 504.8 226.9 506.5 224.8C508.1 222.7 505.6 216.4 511.5 214.7C517.3 213.1 535.7 213.1 541.5 214.7C547.4 216.4 544.9 222.7 546.5 224.8C548.2 226.9 550.0 227.2 551.5 227.5C553.1 227.8 554.2 227.5 555.6 226.6C556.9 225.7 558.4 224.0 559.6 222.1C560.7 220.1 562.1 216.0 562.6 214.7M476.4 233.0C477.4 232.8 480.4 232.6 482.4 231.9C484.4 231.2 486.6 230.0 488.4 229.0C490.3 228.0 491.9 226.9 493.4 225.7C494.9 224.5 496.1 223.0 497.4 222.1C498.8 221.1 499.9 221.4 501.4 220.2C503.0 219.0 498.9 215.7 506.5 214.7C514.0 213.8 539.0 213.8 546.5 214.7C554.1 215.7 550.0 219.0 551.5 220.2C553.1 221.4 554.2 221.1 555.6 222.1C556.9 223.0 558.1 224.5 559.6 225.7C561.1 226.9 562.7 228.0 564.6 229.0C566.4 230.0 568.6 231.2 570.6 231.9C572.6 232.6 575.6 232.8 576.6 233.0M476.4 234.1C477.7 233.9 481.9 233.7 484.4 233.0C486.9 232.3 489.6 230.8 491.4 229.7C493.3 228.7 493.8 227.2 495.4 226.6C497.1 226.0 499.3 226.4 501.4 226.1C503.6 225.7 506.0 225.4 508.5 224.4C511.0 223.5 514.3 221.8 516.5 220.2C518.7 218.6 519.0 215.7 521.5 214.7C524.0 213.8 529.0 213.8 531.5 214.7C534.0 215.7 534.3 218.6 536.5 220.2C538.7 221.8 542.0 223.5 544.5 224.4C547.0 225.4 549.4 225.7 551.5 226.1C553.7 226.4 555.9 226.0 557.6 226.6C559.2 227.2 559.7 228.7 561.6 229.7C563.4 230.8 566.1 232.3 568.6 233.0C571.1 233.7 575.3 233.9 576.6 234.1M476.4 237.8C478.1 237.8 483.1 238.3 486.4 238.1C489.8 237.9 493.9 237.1 496.4 236.7C498.9 236.2 499.4 235.7 501.4 235.2C503.5 234.7 506.4 234.2 508.5 233.9C510.6 233.6 512.0 233.3 514.0 233.4C516.0 233.5 518.4 234.2 520.5 234.5C522.6 234.8 524.5 235.2 526.5 235.2C528.5 235.2 530.4 234.8 532.5 234.5C534.6 234.2 537.0 233.5 539.0 233.4C541.0 233.3 542.4 233.6 544.5 233.9C546.6 234.2 549.5 234.7 551.5 235.2C553.6 235.7 554.1 236.2 556.6 236.7C559.1 237.1 563.2 237.9 566.6 238.1C569.9 238.3 574.9 237.8 576.6 237.8M476.4 222.1C477.4 221.9 480.2 221.7 482.4 221.1C484.6 220.5 487.4 219.5 489.4 218.4C491.4 217.3 482.9 215.4 494.4 214.7C506.0 214.1 547.0 214.1 558.6 214.7C570.1 215.4 561.6 217.3 563.6 218.4C565.6 219.5 568.4 220.5 570.6 221.1C572.8 221.7 575.6 221.9 576.6 222.1M476.4 286.9C477.2 284.9 479.7 279.4 481.4 275.0C483.1 270.6 484.4 265.0 486.4 260.4C488.4 255.8 490.9 250.9 493.4 247.6C495.9 244.3 498.0 242.0 501.4 240.7C504.9 239.3 509.8 239.6 514.0 239.4C518.1 239.2 522.3 239.2 526.5 239.2C530.7 239.2 534.9 239.2 539.0 239.4C543.2 239.6 548.1 239.3 551.5 240.7C555.0 242.0 557.1 244.3 559.6 247.6C562.1 250.9 564.6 255.8 566.6 260.4C568.6 265.0 569.9 270.6 571.6 275.0C573.3 279.4 575.8 284.9 576.6 286.9M476.4 265.2C478.5 265.2 484.7 265.2 488.9 265.5C493.1 265.9 497.3 267.7 501.4 267.2C505.6 266.6 509.8 262.7 514.0 262.2C518.1 261.8 522.3 264.4 526.5 264.4C530.7 264.4 534.9 261.8 539.0 262.2C543.2 262.7 547.4 266.6 551.5 267.2C555.7 267.7 559.9 265.9 564.1 265.5C568.2 265.2 574.5 265.2 576.6 265.2M476.4 265.2C478.5 265.3 484.7 265.5 488.9 265.9C493.1 266.3 497.3 267.7 501.4 267.7C505.6 267.7 509.8 266.7 514.0 265.9C518.1 265.0 522.3 262.6 526.5 262.6C530.7 262.6 534.9 265.0 539.0 265.9C543.2 266.7 547.4 267.7 551.5 267.7C555.7 267.7 559.9 266.3 564.1 265.9C568.2 265.5 574.5 265.3 576.6 265.2M476.4 280.5C478.5 279.6 484.7 276.6 488.9 275.0C493.1 273.4 497.3 271.6 501.4 270.8C505.6 270.1 509.8 270.8 514.0 270.4C518.1 270.1 522.3 268.6 526.5 268.6C530.7 268.6 534.9 270.1 539.0 270.4C543.2 270.8 547.4 270.1 551.5 270.8C555.7 271.6 559.9 273.4 564.1 275.0C568.2 276.6 574.5 279.6 576.6 280.5M476.4 286.0C478.5 284.6 484.7 280.2 488.9 277.8C493.1 275.3 497.3 272.0 501.4 271.4C505.6 270.8 509.8 273.2 514.0 274.1C518.1 275.0 522.3 276.8 526.5 276.8C530.7 276.8 534.9 275.0 539.0 274.1C543.2 273.2 547.4 270.8 551.5 271.4C555.7 272.0 559.9 275.3 564.1 277.8C568.2 280.2 574.5 284.6 576.6 286.0M476.4 287.2C478.5 286.9 484.7 286.0 488.9 285.4C493.1 284.8 497.3 284.5 501.4 283.6C505.6 282.7 509.8 281.1 514.0 280.1C518.1 279.1 522.3 277.6 526.5 277.6C530.7 277.6 534.9 279.1 539.0 280.1C543.2 281.1 547.4 282.7 551.5 283.6C555.7 284.5 559.9 284.8 564.1 285.4C568.2 286.0 574.5 286.9 576.6 287.2M476.4 287.2C478.5 286.4 484.7 284.2 488.9 282.3C493.1 280.4 497.3 276.8 501.4 275.9C505.6 275.0 509.8 276.8 514.0 276.8C518.1 276.9 522.3 276.1 526.5 276.1C530.7 276.1 534.9 276.9 539.0 276.8C543.2 276.8 547.4 275.0 551.5 275.9C555.7 276.8 559.9 280.4 564.1 282.3C568.2 284.2 574.5 286.4 576.6 287.2M509.5 329.8C511.0 329.0 515.6 326.3 518.5 325.2C521.3 324.1 523.8 323.2 526.5 323.2C529.2 323.2 531.7 324.1 534.5 325.2C537.4 326.3 542.0 329.0 543.5 329.8M506.5 333.5C508.1 332.4 513.1 328.6 516.5 327.1C519.8 325.5 523.2 324.0 526.5 324.0C529.8 324.0 533.2 325.5 536.5 327.1C539.9 328.6 544.9 332.4 546.5 333.5M476.4 326.7C478.5 327.1 484.7 328.0 488.9 328.9C493.1 329.8 497.3 330.9 501.4 332.0C505.6 333.1 509.8 334.4 514.0 335.3C518.1 336.1 522.3 337.1 526.5 337.1C530.7 337.1 534.9 336.1 539.0 335.3C543.2 334.4 547.4 333.1 551.5 332.0C555.7 330.9 559.9 329.8 564.1 328.9C568.2 328.0 574.5 327.1 576.6 326.7M476.4 326.7C478.5 327.2 484.7 328.9 488.9 329.8C493.1 330.7 497.3 330.9 501.4 332.0C505.6 333.1 509.8 335.2 514.0 336.2C518.1 337.2 522.3 338.0 526.5 338.0C530.7 338.0 534.9 337.2 539.0 336.2C543.2 335.2 547.4 333.1 551.5 332.0C555.7 330.9 559.9 330.7 564.1 329.8C568.2 328.9 574.5 327.2 576.6 326.7M476.4 326.7C477.4 327.4 480.4 328.4 482.4 330.7C484.4 333.1 486.4 337.0 488.4 340.8C490.4 344.6 492.6 349.9 494.4 353.5C496.3 357.2 497.9 360.5 499.4 362.7C500.9 364.8 495.1 365.7 503.5 366.3C511.8 366.9 541.2 366.9 549.5 366.3C557.9 365.7 552.1 364.8 553.6 362.7C555.1 360.5 556.7 357.2 558.6 353.5C560.4 349.9 562.6 344.6 564.6 340.8C566.6 337.0 568.6 333.1 570.6 330.7C572.6 328.4 575.6 327.4 576.6 326.7M501.4 338.9C503.5 340.3 509.8 344.4 514.0 347.2C518.1 350.0 522.3 355.7 526.5 355.7C530.7 355.7 534.9 350.0 539.0 347.2C543.2 344.4 549.5 340.3 551.5 338.9M501.4 362.7C503.5 360.5 509.8 354.1 514.0 349.9C518.1 345.7 522.3 337.7 526.5 337.7C530.7 337.7 534.9 345.7 539.0 349.9C543.2 354.1 549.5 360.5 551.5 362.7M476.4 350.6C478.5 349.9 484.7 347.4 488.9 346.2C493.1 345.1 497.3 344.2 501.4 343.9C505.6 343.6 509.8 344.0 514.0 344.4C518.1 344.8 522.3 346.2 526.5 346.2C530.7 346.2 534.9 344.8 539.0 344.4C543.2 344.0 547.4 343.6 551.5 343.9C555.7 344.2 559.9 345.1 564.1 346.2C568.2 347.4 574.5 349.9 576.6 350.6M476.4 350.6C478.5 351.1 484.7 352.4 488.9 353.5C493.1 354.6 497.3 356.3 501.4 357.2C505.6 358.1 509.8 358.6 514.0 359.0C518.1 359.5 522.3 359.9 526.5 359.9C530.7 359.9 534.9 359.5 539.0 359.0C543.2 358.6 547.4 358.1 551.5 357.2C555.7 356.3 559.9 354.6 564.1 353.5C568.2 352.4 574.5 351.1 576.6 350.6M476.4 362.7C478.5 362.8 484.7 363.7 488.9 363.6C493.1 363.4 497.3 362.2 501.4 361.8C505.6 361.3 509.8 360.7 514.0 360.8C518.1 361.0 522.3 362.7 526.5 362.7C530.7 362.7 534.9 361.0 539.0 360.8C543.2 360.7 547.4 361.3 551.5 361.8C555.7 362.2 559.9 363.4 564.1 363.6C568.2 363.7 574.5 362.8 576.6 362.7" fill="none" stroke="#2450a8" stroke-width="0.85"/>
<line x1="476.4" y1="291.4" x2="576.6" y2="291.4" stroke="#e04a40" stroke-width="0.9" stroke-dasharray="3 2"/>
</g>
<rect x="476.4" y="218.4" width="100.2" height="146.1" fill="none" stroke="#666" stroke-width="1"/>
<text x="476.4" y="372.1" class="k">Γ</text>
<text x="501.4" y="372.1" class="k">F</text>
<text x="526.5" y="372.1" class="k">Q</text>
<text x="551.5" y="372.1" class="k">Z</text>
<text x="576.6" y="372.1" class="k">Γ</text>
<clipPath id="c15"><rect x="582.2" y="218.4" width="100.8" height="146.1"/></clipPath>
<g clip-path="url(#c15)">
<line x1="607.4" y1="218.4" x2="607.4" y2="364.5" stroke="#aaa" stroke-width="0.6" stroke-dasharray="1.5 2"/>
<line x1="632.6" y1="218.4" x2="632.6" y2="364.5" stroke="#aaa" stroke-width="0.6" stroke-dasharray="1.5 2"/>
<line x1="657.8" y1="218.4" x2="657.8" y2="364.5" stroke="#aaa" stroke-width="0.6" stroke-dasharray="1.5 2"/>
<path d="M582.2 244.7C583.5 244.3 587.9 243.5 590.3 242.1C592.6 240.8 594.3 238.2 596.3 236.7C598.3 235.1 600.5 233.4 602.4 233.0C604.2 232.6 605.7 234.4 607.4 234.1C609.1 233.8 610.6 232.6 612.4 231.2C614.3 229.8 616.8 227.2 618.5 225.7C620.2 224.2 621.0 223.9 622.5 222.1C624.0 220.2 625.0 216.0 627.6 214.7C630.1 213.5 635.1 213.5 637.6 214.7C640.2 216.0 641.2 220.2 642.7 222.1C644.2 223.9 645.0 224.2 646.7 225.7C648.4 227.2 650.9 229.8 652.8 231.2C654.6 232.6 656.1 233.8 657.8 234.1C659.5 234.4 661.0 232.6 662.8 233.0C664.7 233.4 666.9 235.1 668.9 236.7C670.9 238.2 672.6 240.8 674.9 242.1C677.3 243.5 681.7 244.3 683.0 244.7M582.2 250.2C583.4 249.8 586.9 249.0 589.3 247.6C591.6 246.3 594.1 244.0 596.3 242.1C598.5 240.3 600.5 237.7 602.4 236.7C604.2 235.6 605.4 237.0 607.4 235.7C609.4 234.5 612.3 231.3 614.5 229.4C616.6 227.4 618.8 225.7 620.5 223.9C622.2 222.1 623.4 219.9 624.5 218.4C625.7 216.9 625.4 215.4 627.6 214.7C629.7 214.1 635.5 214.1 637.6 214.7C639.8 215.4 639.5 216.9 640.7 218.4C641.8 219.9 643.0 222.1 644.7 223.9C646.4 225.7 648.6 227.4 650.7 229.4C652.9 231.3 655.8 234.5 657.8 235.7C659.8 237.0 661.0 235.6 662.8 236.7C664.7 237.7 666.7 240.3 668.9 242.1C671.1 244.0 673.6 246.3 675.9 247.6C678.3 249.0 681.8 249.8 683.0 250.2M582.2 254.7C583.5 254.0 587.6 252.2 590.3 250.4C593.0 248.6 595.5 245.8 598.3 244.0C601.2 242.1 604.5 241.4 607.4 239.4C610.3 237.4 612.9 234.2 615.5 232.1C618.0 230.0 620.5 227.4 622.5 226.6C624.5 225.9 625.9 227.2 627.6 227.5C629.2 227.8 630.9 228.4 632.6 228.4C634.3 228.4 636.0 227.8 637.6 227.5C639.3 227.2 640.7 225.9 642.7 226.6C644.7 227.4 647.2 230.0 649.7 232.1C652.3 234.2 654.9 237.4 657.8 239.4C660.7 241.4 664.0 242.1 666.9 244.0C669.7 245.8 672.2 248.6 674.9 250.4C677.6 252.2 681.7 254.0 683.0 254.7M582.2 267.7C583.0 266.3 585.6 262.5 587.2 259.5C588.9 256.4 590.3 252.6 592.3 249.4C594.3 246.3 597.3 242.4 599.3 240.3C601.4 238.2 602.2 238.6 604.4 236.7C606.6 234.7 609.8 230.3 612.4 228.4C615.0 226.6 617.5 225.3 620.0 225.3C622.5 225.3 625.5 227.8 627.6 228.4C629.7 229.1 630.9 229.4 632.6 229.4C634.3 229.4 635.5 229.1 637.6 228.4C639.7 227.8 642.7 225.3 645.2 225.3C647.7 225.3 650.2 226.6 652.8 228.4C655.4 230.3 658.6 234.7 660.8 236.7C663.0 238.6 663.8 238.2 665.9 240.3C667.9 242.4 670.9 246.3 672.9 249.4C674.9 252.6 676.3 256.4 678.0 259.5C679.6 262.5 682.2 266.3 683.0 267.7M582.2 292.0C584.3 293.6 590.6 298.5 594.8 301.5C599.0 304.5 603.2 309.4 607.4 310.3C611.6 311.1 615.8 307.3 620.0 306.4C624.2 305.6 628.4 305.1 632.6 305.1C636.8 305.1 641.0 305.6 645.2 306.4C649.4 307.3 653.6 311.1 657.8 310.3C662.0 309.4 666.2 304.5 670.4 301.5C674.6 298.5 680.9 293.6 683.0 292.0M582.2 292.0C584.3 294.3 590.6 301.2 594.8 306.1C599.0 310.9 603.2 319.1 607.4 321.0C611.6 323.0 615.8 319.1 620.0 317.9C624.2 316.8 628.4 314.3 632.6 314.3C636.8 314.3 641.0 316.8 645.2 317.9C649.4 319.1 653.6 323.0 657.8 321.0C662.0 319.1 666.2 310.9 670.4 306.1C674.6 301.2 680.9 294.3 683.0 292.0M612.4 328.0C614.1 326.8 619.2 322.8 622.5 320.7C625.9 318.6 629.2 315.4 632.6 315.4C636.0 315.4 639.3 318.6 642.7 320.7C646.0 322.8 651.1 326.8 652.8 328.0M607.4 335.3C609.5 334.5 615.8 331.8 620.0 330.7C624.2 329.6 628.4 328.7 632.6 328.7C636.8 328.7 641.0 329.6 645.2 330.7C649.4 331.8 655.7 334.5 657.8 335.3M582.2 344.4C584.3 344.3 590.6 343.8 594.8 343.5C599.0 343.2 603.2 343.0 607.4 342.6C611.6 342.1 615.8 341.4 620.0 340.8C624.2 340.2 628.4 338.9 632.6 338.9C636.8 338.9 641.0 340.2 645.2 340.8C649.4 341.4 653.6 342.1 657.8 342.6C662.0 343.0 666.2 343.2 670.4 343.5C674.6 343.8 680.9 344.3 683.0 344.4M582.2 345.3C584.3 345.5 590.6 346.4 594.8 346.2C599.0 346.1 603.2 344.9 607.4 344.4C611.6 344.0 615.8 344.0 620.0 343.5C624.2 343.0 628.4 341.7 632.6 341.7C636.8 341.7 641.0 343.0 645.2 343.5C649.4 344.0 653.6 344.0 657.8 344.4C662.0 344.9 666.2 346.1 670.4 346.2C674.6 346.4 680.9 345.5 683.0 345.3M607.4 337.1C609.5 339.2 615.8 345.6 620.0 349.9C624.2 354.2 628.4 362.7 632.6 362.7C636.8 362.7 641.0 354.2 645.2 349.9C649.4 345.6 655.7 339.2 657.8 337.1M582.2 355.4C584.3 355.7 590.6 357.0 594.8 357.2C599.0 357.3 603.2 356.1 607.4 356.3C611.6 356.4 615.8 357.7 620.0 358.1C624.2 358.6 628.4 359.0 632.6 359.0C636.8 359.0 641.0 358.6 645.2 358.1C649.4 357.7 653.6 356.4 657.8 356.3C662.0 356.1 666.2 357.3 670.4 357.2C674.6 357.0 680.9 355.7 683.0 355.4M582.2 359.9C584.3 360.1 590.6 360.5 594.8 360.8C599.0 361.2 603.2 361.8 607.4 361.8C611.6 361.8 615.8 361.2 620.0 360.8C624.2 360.5 628.4 359.9 632.6 359.9C636.8 359.9 641.0 360.5 645.2 360.8C649.4 361.2 653.6 361.8 657.8 361.8C662.0 361.8 666.2 361.2 670.4 360.8C674.6 360.5 680.9 360.1 683.0 359.9M582.2 363.6C584.3 363.5 590.6 362.9 594.8 363.0C599.0 363.1 603.2 364.2 607.4 364.1C611.6 364.1 615.8 362.7 620.0 362.7C624.2 362.6 628.4 363.8 632.6 363.8C636.8 363.8 641.0 362.6 645.2 362.7C649.4 362.7 653.6 364.1 657.8 364.1C662.0 364.2 666.2 363.1 670.4 363.0C674.6 362.9 680.9 363.5 683.0 363.6" fill="none" stroke="#333" stroke-width="0.85"/>
<path d="M617.5 214.7C618.5 215.8 621.7 219.4 623.5 221.1C625.4 222.9 627.1 224.4 628.6 225.3C630.1 226.3 631.3 226.6 632.6 226.6C633.9 226.6 635.1 226.3 636.6 225.3C638.1 224.4 639.8 222.9 641.7 221.1C643.5 219.4 646.7 215.8 647.7 214.7M615.5 214.7C616.6 216.0 620.5 220.2 622.5 222.1C624.5 223.9 625.9 224.8 627.6 225.7C629.2 226.6 630.9 227.5 632.6 227.5C634.3 227.5 636.0 226.6 637.6 225.7C639.3 224.8 640.7 223.9 642.7 222.1C644.7 220.2 648.6 216.0 649.7 214.7M582.2 221.3C583.5 221.2 587.9 221.1 590.3 220.8C592.6 220.4 594.6 220.3 596.3 219.3C598.0 218.3 588.9 215.5 600.3 214.7C611.8 214.0 653.4 214.0 664.9 214.7C676.3 215.5 667.2 218.3 668.9 219.3C670.6 220.3 672.6 220.4 674.9 220.8C677.3 221.1 681.7 221.2 683.0 221.3M582.2 230.6C583.4 230.3 587.1 229.6 589.3 228.4C591.4 227.3 593.6 225.4 595.3 223.9C597.0 222.4 598.2 220.8 599.3 219.3C600.5 217.8 591.8 215.5 602.4 214.7C612.9 214.0 652.3 214.0 662.8 214.7C673.4 215.5 664.7 217.8 665.9 219.3C667.0 220.8 668.2 222.4 669.9 223.9C671.6 225.4 673.8 227.3 675.9 228.4C678.1 229.6 681.8 230.3 683.0 230.6M582.2 235.4C583.5 235.2 587.7 235.0 590.3 234.3C592.8 233.6 595.3 232.6 597.3 231.2C599.3 229.8 600.7 227.1 602.4 225.7C604.0 224.3 605.4 223.9 607.4 223.0C609.4 222.1 612.3 220.4 614.5 220.2C616.6 220.1 618.3 221.3 620.5 222.1C622.7 222.8 625.5 224.2 627.6 224.8C629.6 225.4 630.9 225.7 632.6 225.7C634.3 225.7 635.6 225.4 637.6 224.8C639.7 224.2 642.5 222.8 644.7 222.1C646.9 221.3 648.6 220.1 650.7 220.2C652.9 220.4 655.8 222.1 657.8 223.0C659.8 223.9 661.2 224.3 662.8 225.7C664.5 227.1 665.9 229.8 667.9 231.2C669.9 232.6 672.4 233.6 674.9 234.3C677.5 235.0 681.7 235.2 683.0 235.4M582.2 238.1C584.4 238.2 591.1 238.5 595.3 238.5C599.5 238.5 604.5 239.0 607.4 238.1C610.3 237.2 610.8 235.1 612.4 233.0C614.1 230.9 616.1 227.5 617.5 225.7C618.8 223.9 619.3 223.9 620.5 222.1C621.7 220.2 621.2 216.0 624.5 214.7C627.9 213.5 637.3 213.5 640.7 214.7C644.0 216.0 643.5 220.2 644.7 222.1C645.9 223.9 646.4 223.9 647.7 225.7C649.1 227.5 651.1 230.9 652.8 233.0C654.4 235.1 654.9 237.2 657.8 238.1C660.7 239.0 665.7 238.5 669.9 238.5C674.1 238.5 680.8 238.2 683.0 238.1M582.2 290.5C583.0 287.6 585.7 278.4 587.2 273.2C588.8 268.0 589.8 263.8 591.3 259.5C592.8 255.2 594.6 251.0 596.3 247.6C598.0 244.3 599.5 241.2 601.4 239.4C603.2 237.6 605.6 238.0 607.4 236.7C609.2 235.3 610.3 232.7 612.4 231.2C614.5 229.7 617.5 227.8 620.0 227.5C622.5 227.2 625.5 228.9 627.6 229.4C629.7 229.8 630.9 230.3 632.6 230.3C634.3 230.3 635.5 229.8 637.6 229.4C639.7 228.9 642.7 227.2 645.2 227.5C647.7 227.8 650.7 229.7 652.8 231.2C654.9 232.7 656.0 235.3 657.8 236.7C659.6 238.0 662.0 237.6 663.8 239.4C665.7 241.2 667.2 244.3 668.9 247.6C670.6 251.0 672.4 255.2 673.9 259.5C675.4 263.8 676.4 268.0 678.0 273.2C679.5 278.4 682.2 287.6 683.0 290.5M582.2 289.6C583.2 286.7 586.6 277.4 588.2 272.3C589.9 267.1 590.8 262.8 592.3 258.6C593.8 254.3 595.6 250.1 597.3 246.7C599.0 243.4 600.7 240.3 602.4 238.5C604.0 236.7 605.7 237.1 607.4 235.7C609.1 234.4 610.3 231.8 612.4 230.3C614.5 228.7 617.5 226.9 620.0 226.6C622.5 226.3 625.5 228.0 627.6 228.4C629.7 228.8 630.9 229.0 632.6 229.0C634.3 229.0 635.5 228.8 637.6 228.4C639.7 228.0 642.7 226.3 645.2 226.6C647.7 226.9 650.7 228.7 652.8 230.3C654.9 231.8 656.1 234.4 657.8 235.7C659.5 237.1 661.2 236.7 662.8 238.5C664.5 240.3 666.2 243.4 667.9 246.7C669.6 250.1 671.4 254.3 672.9 258.6C674.4 262.8 675.3 267.1 677.0 272.3C678.6 277.4 682.0 286.7 683.0 289.6M582.2 267.7C584.3 267.9 590.6 268.3 594.8 268.6C599.0 268.9 603.2 270.5 607.4 269.5C611.6 268.6 615.8 263.7 620.0 262.8C624.2 261.9 628.4 264.2 632.6 264.2C636.8 264.2 641.0 261.9 645.2 262.8C649.4 263.7 653.6 268.6 657.8 269.5C662.0 270.5 666.2 268.9 670.4 268.6C674.6 268.3 680.9 267.9 683.0 267.7M582.2 267.7C584.3 268.0 590.6 268.9 594.8 269.2C599.0 269.4 603.2 269.9 607.4 269.2C611.6 268.5 615.8 266.0 620.0 265.0C624.2 264.0 628.4 263.1 632.6 263.1C636.8 263.1 641.0 264.0 645.2 265.0C649.4 266.0 653.6 268.5 657.8 269.2C662.0 269.9 666.2 269.4 670.4 269.2C674.6 268.9 680.9 268.0 683.0 267.7M582.2 272.6C584.3 272.8 590.6 273.6 594.8 273.6C599.0 273.5 603.2 272.8 607.4 272.5C611.6 272.1 615.8 271.9 620.0 271.4C624.2 270.8 628.4 269.2 632.6 269.2C636.8 269.2 641.0 270.8 645.2 271.4C649.4 271.9 653.6 272.1 657.8 272.5C662.0 272.8 666.2 273.5 670.4 273.6C674.6 273.6 680.9 272.8 683.0 272.6M582.2 272.3C584.3 272.4 590.6 273.2 594.8 273.2C599.0 273.2 603.2 272.5 607.4 272.1C611.6 271.6 615.8 270.8 620.0 270.4C624.2 270.1 628.4 269.9 632.6 269.9C636.8 269.9 641.0 270.1 645.2 270.4C649.4 270.8 653.6 271.6 657.8 272.1C662.0 272.5 666.2 273.2 670.4 273.2C674.6 273.2 680.9 272.4 683.0 272.3M582.2 290.9C584.3 289.2 590.6 283.6 594.8 280.5C599.0 277.4 603.2 272.5 607.4 272.3C611.6 272.1 615.8 278.1 620.0 279.4C624.2 280.7 628.4 279.9 632.6 279.9C636.8 279.9 641.0 280.7 645.2 279.4C649.4 278.1 653.6 272.1 657.8 272.3C662.0 272.5 666.2 277.4 670.4 280.5C674.6 283.6 680.9 289.2 683.0 290.9M582.2 290.9C584.3 290.4 590.6 288.7 594.8 287.8C599.0 286.9 603.2 286.3 607.4 285.2C611.6 284.2 615.8 282.7 620.0 281.4C624.2 280.2 628.4 277.8 632.6 277.8C636.8 277.8 641.0 280.2 645.2 281.4C649.4 282.7 653.6 284.2 657.8 285.2C662.0 286.3 666.2 286.9 670.4 287.8C674.6 288.7 680.9 290.4 683.0 290.9M607.4 332.5C609.5 331.6 615.8 328.2 620.0 327.1C624.2 325.9 628.4 325.6 632.6 325.6C636.8 325.6 641.0 325.9 645.2 327.1C649.4 328.2 655.7 331.6 657.8 332.5M582.2 328.5C584.3 328.7 590.6 329.1 594.8 329.8C599.0 330.5 603.2 331.8 607.4 332.5C611.6 333.3 615.8 333.9 620.0 334.4C624.2 334.8 628.4 335.3 632.6 335.3C636.8 335.3 641.0 334.8 645.2 334.4C649.4 333.9 653.6 333.3 657.8 332.5C662.0 331.8 666.2 330.5 670.4 329.8C674.6 329.1 680.9 328.7 683.0 328.5M582.2 328.5C583.2 329.3 586.2 330.8 588.2 333.5C590.3 336.1 592.3 340.8 594.3 344.4C596.3 348.1 598.5 352.2 600.3 355.4C602.2 358.6 603.9 361.8 605.4 363.6C606.9 365.4 601.0 365.9 609.4 366.3C617.8 366.8 647.4 366.8 655.8 366.3C664.2 365.9 658.3 365.4 659.8 363.6C661.3 361.8 663.0 358.6 664.9 355.4C666.7 352.2 668.9 348.1 670.9 344.4C672.9 340.8 674.9 336.1 677.0 333.5C679.0 330.8 682.0 329.3 683.0 328.5M582.2 355.0C584.3 354.5 590.6 352.7 594.8 351.7C599.0 350.7 603.2 350.2 607.4 349.0C611.6 347.8 615.8 346.0 620.0 344.4C624.2 342.9 628.4 339.7 632.6 339.7C636.8 339.7 641.0 342.9 645.2 344.4C649.4 346.0 653.6 347.8 657.8 349.0C662.0 350.2 666.2 350.7 670.4 351.7C674.6 352.7 680.9 354.5 683.0 355.0M607.4 333.5C609.5 335.9 615.8 343.3 620.0 348.1C624.2 352.8 628.4 362.1 632.6 362.1C636.8 362.1 641.0 352.8 645.2 348.1C649.4 343.3 655.7 335.9 657.8 333.5M607.4 362.7C609.5 360.5 615.8 353.9 620.0 349.9C624.2 345.9 628.4 338.7 632.6 338.7C636.8 338.7 641.0 345.9 645.2 349.9C649.4 353.9 655.7 360.5 657.8 362.7M582.2 361.8C584.3 361.9 590.6 362.4 594.8 362.7C599.0 363.0 603.2 363.6 607.4 363.6C611.6 363.6 615.8 363.0 620.0 362.7C624.2 362.4 628.4 361.8 632.6 361.8C636.8 361.8 641.0 362.4 645.2 362.7C649.4 363.0 653.6 363.6 657.8 363.6C662.0 363.6 666.2 363.0 670.4 362.7C674.6 362.4 680.9 361.9 683.0 361.8" fill="none" stroke="#2450a8" stroke-width="0.85"/>
<line x1="582.2" y1="291.4" x2="683.0" y2="291.4" stroke="#e04a40" stroke-width="0.9" stroke-dasharray="3 2"/>
</g>
<rect x="582.2" y="218.4" width="100.8" height="146.1" fill="none" stroke="#666" stroke-width="1"/>
<text x="582.2" y="372.1" class="k">Γ</text>
<text x="607.4" y="372.1" class="k">F</text>
<text x="632.6" y="372.1" class="k">Q</text>
<text x="657.8" y="372.1" class="k">Z</text>
<text x="683.0" y="372.1" class="k">Γ</text>
<text x="16.1" y="220.6" class="t">4</text>
<line x1="18.5" y1="218.4" x2="20.0" y2="218.4" stroke="#555" stroke-width="0.6"/>
<text x="16.1" y="257.1" class="t">2</text>
<line x1="18.5" y1="254.9" x2="20.0" y2="254.9" stroke="#555" stroke-width="0.6"/>
<text x="16.1" y="293.6" class="t">0</text>
<line x1="18.5" y1="291.4" x2="20.0" y2="291.4" stroke="#555" stroke-width="0.6"/>
<text x="16.1" y="330.2" class="t">-2</text>
<line x1="18.5" y1="328.0" x2="20.0" y2="328.0" stroke="#555" stroke-width="0.6"/>
<text x="16.1" y="366.7" class="t">-4</text>
<line x1="18.5" y1="364.5" x2="20.0" y2="364.5" stroke="#555" stroke-width="0.6"/>
<text x="0" y="0" class="yl" transform="translate(6.9 290.6) rotate(-90)">Band gap (eV)</text>
<text x="245.2" y="220.6" class="t">4</text>
<line x1="247.6" y1="218.4" x2="249.1" y2="218.4" stroke="#555" stroke-width="0.6"/>
<text x="245.2" y="257.1" class="t">2</text>
<line x1="247.6" y1="254.9" x2="249.1" y2="254.9" stroke="#555" stroke-width="0.6"/>
<text x="245.2" y="293.6" class="t">0</text>
<line x1="247.6" y1="291.4" x2="249.1" y2="291.4" stroke="#555" stroke-width="0.6"/>
<text x="245.2" y="330.2" class="t">-2</text>
<line x1="247.6" y1="328.0" x2="249.1" y2="328.0" stroke="#555" stroke-width="0.6"/>
<text x="245.2" y="366.7" class="t">-4</text>
<line x1="247.6" y1="364.5" x2="249.1" y2="364.5" stroke="#555" stroke-width="0.6"/>
<text x="0" y="0" class="yl" transform="translate(236.0 290.6) rotate(-90)">Band gap (eV)</text>
<text x="474.0" y="220.6" class="t">4</text>
<line x1="476.4" y1="218.4" x2="477.9" y2="218.4" stroke="#555" stroke-width="0.6"/>
<text x="474.0" y="257.1" class="t">2</text>
<line x1="476.4" y1="254.9" x2="477.9" y2="254.9" stroke="#555" stroke-width="0.6"/>
<text x="474.0" y="293.6" class="t">0</text>
<line x1="476.4" y1="291.4" x2="477.9" y2="291.4" stroke="#555" stroke-width="0.6"/>
<text x="474.0" y="330.2" class="t">-2</text>
<line x1="476.4" y1="328.0" x2="477.9" y2="328.0" stroke="#555" stroke-width="0.6"/>
<text x="474.0" y="366.7" class="t">-4</text>
<line x1="476.4" y1="364.5" x2="477.9" y2="364.5" stroke="#555" stroke-width="0.6"/>
<text x="0" y="0" class="yl" transform="translate(464.8 290.6) rotate(-90)">Band gap (eV)</text>
<text x="0.7" y="19.4" class="L">(a)</text>
<text x="224.5" y="19.4" class="L">(b)</text>
<text x="457.2" y="19.4" class="L">(c)</text>
<text x="0.6" y="206.5" class="L">(d)</text>
<text x="229.0" y="206.5" class="L">(e)</text>
<text x="457.2" y="206.5" class="L">(f)</text>
<text x="124.2" y="24.9" class="T">3.13%</text>
<text x="357.6" y="24.7" class="T">6.25%</text>
<text x="577.9" y="21.5" class="T">12.5%</text>
<text x="124.8" y="210.5" class="T">3.13%</text>
<text x="357.0" y="210.5" class="T">6.25%</text>
<text x="579.1" y="210.5" class="T">12.5%</text>
<text x="57.1" y="97.3" class="g">0 GPa</text>
<text x="164.2" y="96.3" class="g">9 GPa</text>
<text x="283.9" y="128.0" class="g">0 GPa</text>
<text x="393.9" y="135.0" class="g">7 GPa</text>
<text x="516.1" y="92.9" class="g">0 GPa</text>
<text x="627.0" y="106.0" class="g">4 GPa</text>
<text x="48.2" y="277.3" class="g">0 GPa</text>
<text x="162.4" y="253.9" class="g">11 GPa</text>
<text x="286.7" y="254.7" class="g">0 GPa</text>
<text x="392.3" y="257.0" class="g">9 GPa</text>
<text x="515.8" y="251.3" class="g">0 GPa</text>
<text x="622.1" y="250.2" class="g">8 GPa</text>
<line x1="63.9" y1="124.5" x2="78.9" y2="124.5" stroke="#333" stroke-width="1"/>
<line x1="63.9" y1="132.5" x2="78.9" y2="132.5" stroke="#2450a8" stroke-width="1.1"/>
<text x="81" y="126.4" class="lg" style="font-size:6.65px">spin-up</text>
<text x="81" y="134.4" class="lg" style="font-size:6.65px">spin-down</text>
<line x1="75.1" y1="278.4" x2="88.6" y2="278.4" stroke="#444" stroke-width="1"/>
<line x1="75.1" y1="285.9" x2="88.6" y2="285.9" stroke="#8aa6d6" stroke-width="1.8"/>
<text x="90.8" y="280.0" class="lg" style="font-size:6.0px">spin-up</text>
<text x="90.8" y="287.5" class="lg" style="font-size:6.0px">spin-down</text>
</svg>
</body></html>
